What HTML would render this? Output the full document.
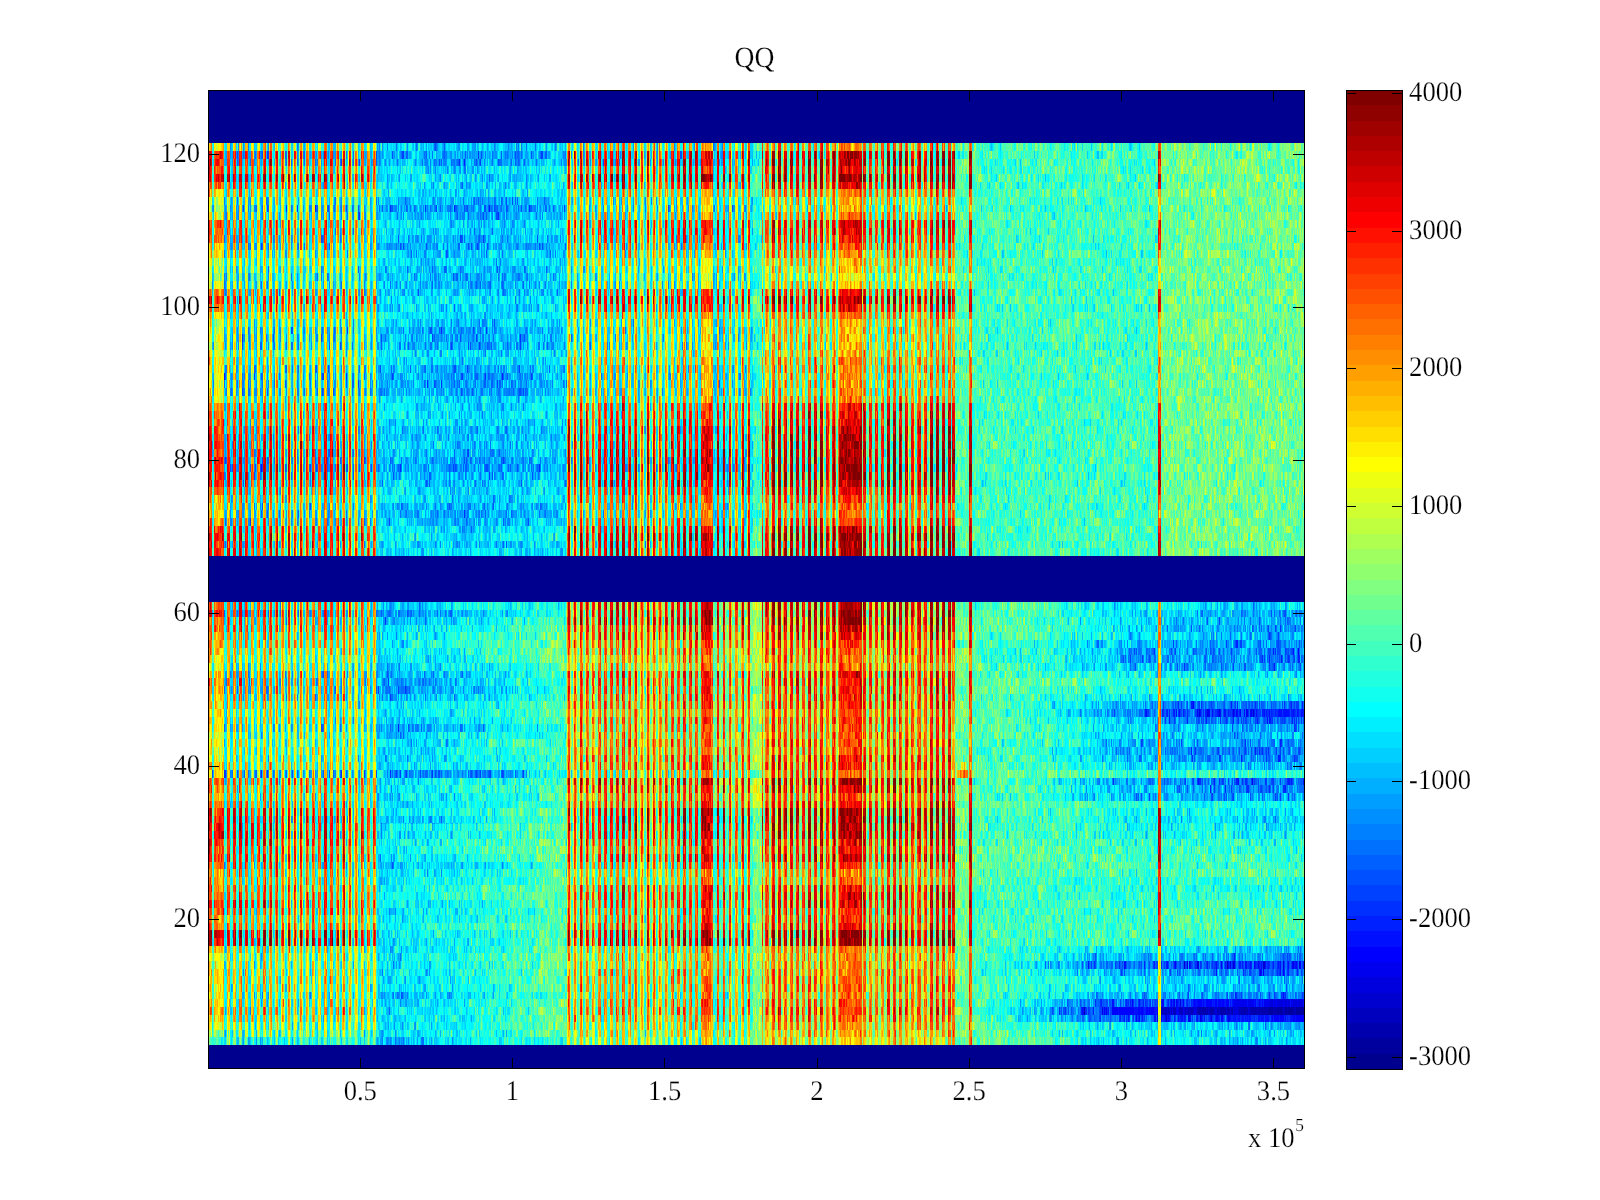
<!DOCTYPE html><html><head><meta charset="utf-8"><title>QQ</title><style>html,body{margin:0;padding:0;background:#fff;width:1600px;height:1200px;overflow:hidden}</style></head><body><svg width="1600" height="1200" viewBox="0 0 1600 1200" style="position:absolute;left:0;top:0">
<defs><pattern id="st" patternUnits="userSpaceOnUse" x="0" y="0" width="1600" height="16"><path fill="#fff" fill-opacity="0.10" d="M208 0h1v16h-1zM266 0h1v16h-1zM311 0h1v16h-1zM366 0h1v16h-1zM372 0h1v16h-1zM433 0h1v16h-1zM473 0h1v16h-1zM512 0h1v16h-1zM534 0h1v16h-1zM540 0h1v16h-1zM546 0h1v16h-1zM552 0h1v16h-1zM597 0h1v16h-1zM631 0h1v16h-1zM670 0h1v16h-1zM704 0h1v16h-1zM792 0h1v16h-1zM820 0h1v16h-1zM853 0h1v16h-1zM899 0h1v16h-1zM905 0h1v16h-1zM938 0h1v16h-1zM984 0h1v16h-1zM990 0h1v16h-1zM1017 0h1v16h-1zM1029 0h1v16h-1zM1051 0h1v16h-1zM1096 0h1v16h-1zM1108 0h1v16h-1zM1114 0h1v16h-1zM1187 0h1v16h-1zM1266 0h1v16h-1zM1294 0h1v16h-1z"/><path fill="#fff" fill-opacity="0.20" d="M272 0h1v16h-1zM278 0h1v16h-1zM360 0h1v16h-1zM412 0h1v16h-1zM479 0h1v16h-1zM506 0h1v16h-1zM558 0h1v16h-1zM579 0h1v16h-1zM591 0h1v16h-1zM664 0h1v16h-1zM710 0h1v16h-1zM725 0h1v16h-1zM753 0h1v16h-1zM786 0h1v16h-1zM826 0h1v16h-1zM911 0h1v16h-1zM996 0h1v16h-1zM1023 0h1v16h-1zM1057 0h1v16h-1zM1063 0h1v16h-1zM1102 0h1v16h-1zM1175 0h1v16h-1zM1181 0h1v16h-1zM1221 0h1v16h-1zM1248 0h1v16h-1zM1254 0h1v16h-1zM1260 0h1v16h-1zM1300 0h1v16h-1z"/><path fill="#fff" fill-opacity="0.30" d="M305 0h1v16h-1zM339 0h1v16h-1zM345 0h1v16h-1zM427 0h1v16h-1zM485 0h1v16h-1zM500 0h1v16h-1zM564 0h1v16h-1zM585 0h1v16h-1zM637 0h1v16h-1zM646 0h1v16h-1zM652 0h1v16h-1zM780 0h1v16h-1zM832 0h1v16h-1zM847 0h1v16h-1zM917 0h1v16h-1zM932 0h1v16h-1zM1011 0h1v16h-1zM1069 0h1v16h-1zM1075 0h1v16h-1zM1084 0h1v16h-1zM1154 0h1v16h-1zM1169 0h1v16h-1zM1236 0h1v16h-1zM1242 0h1v16h-1z"/><path fill="#fff" fill-opacity="0.40" d="M284 0h1v16h-1zM287 0h1v16h-1zM293 0h1v16h-1zM299 0h1v16h-1zM351 0h1v16h-1zM354 0h1v16h-1zM418 0h1v16h-1zM421 0h1v16h-1zM491 0h1v16h-1zM494 0h1v16h-1zM570 0h1v16h-1zM573 0h1v16h-1zM643 0h1v16h-1zM658 0h1v16h-1zM716 0h1v16h-1zM762 0h1v16h-1zM774 0h1v16h-1zM841 0h1v16h-1zM1002 0h1v16h-1zM1005 0h1v16h-1zM1008 0h1v16h-1zM1072 0h1v16h-1zM1090 0h1v16h-1zM1160 0h1v16h-1zM1227 0h1v16h-1zM1233 0h1v16h-1z"/><path fill="#fff" fill-opacity="0.50" d="M290 0h1v16h-1zM296 0h1v16h-1zM348 0h1v16h-1zM576 0h1v16h-1zM640 0h1v16h-1zM719 0h1v16h-1zM759 0h1v16h-1zM765 0h1v16h-1zM768 0h1v16h-1zM771 0h1v16h-1zM835 0h1v16h-1zM838 0h1v16h-1zM844 0h1v16h-1zM923 0h1v16h-1zM1078 0h1v16h-1zM1081 0h1v16h-1zM1163 0h1v16h-1zM1166 0h1v16h-1zM1230 0h1v16h-1zM1239 0h1v16h-1z"/><path fill="#fff" fill-opacity="0.60" d="M302 0h1v16h-1zM357 0h1v16h-1zM415 0h1v16h-1zM424 0h1v16h-1zM476 0h1v16h-1zM482 0h1v16h-1zM488 0h1v16h-1zM497 0h1v16h-1zM503 0h1v16h-1zM567 0h1v16h-1zM594 0h1v16h-1zM649 0h1v16h-1zM655 0h1v16h-1zM661 0h1v16h-1zM722 0h1v16h-1zM783 0h1v16h-1zM850 0h1v16h-1zM920 0h1v16h-1zM926 0h1v16h-1zM929 0h1v16h-1zM1060 0h1v16h-1zM1093 0h1v16h-1zM1157 0h1v16h-1zM1172 0h1v16h-1zM1224 0h1v16h-1zM1245 0h1v16h-1z"/><path fill="#fff" fill-opacity="0.70" d="M275 0h1v16h-1zM281 0h1v16h-1zM308 0h1v16h-1zM336 0h1v16h-1zM342 0h1v16h-1zM369 0h1v16h-1zM375 0h1v16h-1zM430 0h1v16h-1zM582 0h1v16h-1zM588 0h1v16h-1zM634 0h1v16h-1zM667 0h1v16h-1zM707 0h1v16h-1zM713 0h1v16h-1zM750 0h1v16h-1zM756 0h1v16h-1zM777 0h1v16h-1zM935 0h1v16h-1zM999 0h1v16h-1zM1014 0h1v16h-1zM1066 0h1v16h-1zM1087 0h1v16h-1zM1105 0h1v16h-1zM1251 0h1v16h-1zM1257 0h1v16h-1zM1269 0h1v16h-1zM1303 0h1v16h-1z"/><path fill="#fff" fill-opacity="0.80" d="M251 0h3v16h-3zM257 0h3v16h-3zM269 0h1v16h-1zM314 0h1v16h-1zM318 0h3v16h-3zM355 0h2v16h-2zM363 0h1v16h-1zM367 0h2v16h-2zM373 0h2v16h-2zM385 0h3v16h-3zM397 0h3v16h-3zM409 0h3v16h-3zM416 0h2v16h-2zM452 0h3v16h-3zM477 0h2v16h-2zM501 0h2v16h-2zM509 0h1v16h-1zM513 0h3v16h-3zM543 0h1v16h-1zM549 0h1v16h-1zM555 0h1v16h-1zM561 0h1v16h-1zM592 0h2v16h-2zM628 0h1v16h-1zM641 0h2v16h-2zM659 0h2v16h-2zM751 0h2v16h-2zM781 0h2v16h-2zM789 0h1v16h-1zM805 0h3v16h-3zM823 0h1v16h-1zM829 0h1v16h-1zM836 0h2v16h-2zM842 0h2v16h-2zM848 0h2v16h-2zM902 0h3v16h-3zM908 0h1v16h-1zM914 0h1v16h-1zM941 0h1v16h-1zM945 0h3v16h-3zM981 0h3v16h-3zM987 0h1v16h-1zM993 0h1v16h-1zM1006 0h2v16h-2zM1030 0h3v16h-3zM1042 0h3v16h-3zM1054 0h1v16h-1zM1061 0h2v16h-2zM1073 0h2v16h-2zM1091 0h2v16h-2zM1099 0h1v16h-1zM1115 0h3v16h-3zM1151 0h1v16h-1zM1170 0h2v16h-2zM1178 0h1v16h-1zM1237 0h2v16h-2zM1243 0h2v16h-2zM1267 0h2v16h-2z"/><path fill="#fff" fill-opacity="0.90" d="M211 0h1v16h-1zM221 0h3v16h-3zM227 0h3v16h-3zM233 0h3v16h-3zM245 0h3v16h-3zM263 0h1v16h-1zM282 0h2v16h-2zM294 0h2v16h-2zM306 0h2v16h-2zM312 0h2v16h-2zM330 0h3v16h-3zM337 0h2v16h-2zM349 0h2v16h-2zM361 0h2v16h-2zM379 0h3v16h-3zM391 0h3v16h-3zM440 0h3v16h-3zM446 0h3v16h-3zM464 0h3v16h-3zM470 0h1v16h-1zM483 0h2v16h-2zM495 0h2v16h-2zM507 0h2v16h-2zM519 0h3v16h-3zM525 0h3v16h-3zM531 0h3v16h-3zM537 0h3v16h-3zM544 0h2v16h-2zM574 0h2v16h-2zM586 0h2v16h-2zM598 0h3v16h-3zM604 0h3v16h-3zM610 0h3v16h-3zM616 0h3v16h-3zM629 0h2v16h-2zM653 0h2v16h-2zM665 0h2v16h-2zM671 0h3v16h-3zM677 0h3v16h-3zM689 0h3v16h-3zM695 0h3v16h-3zM701 0h3v16h-3zM708 0h2v16h-2zM714 0h2v16h-2zM728 0h1v16h-1zM738 0h3v16h-3zM744 0h1v16h-1zM775 0h2v16h-2zM787 0h2v16h-2zM793 0h3v16h-3zM824 0h2v16h-2zM854 0h3v16h-3zM872 0h3v16h-3zM878 0h3v16h-3zM884 0h3v16h-3zM890 0h3v16h-3zM896 0h3v16h-3zM939 0h2v16h-2zM951 0h3v16h-3zM957 0h3v16h-3zM963 0h3v16h-3zM975 0h3v16h-3zM988 0h2v16h-2zM1020 0h1v16h-1zM1026 0h1v16h-1zM1048 0h3v16h-3zM1055 0h2v16h-2zM1079 0h2v16h-2zM1103 0h2v16h-2zM1111 0h1v16h-1zM1121 0h3v16h-3zM1133 0h3v16h-3zM1139 0h3v16h-3zM1158 0h2v16h-2zM1164 0h2v16h-2zM1184 0h1v16h-1zM1188 0h3v16h-3zM1200 0h3v16h-3zM1212 0h3v16h-3zM1218 0h1v16h-1zM1225 0h2v16h-2zM1231 0h2v16h-2zM1255 0h2v16h-2zM1263 0h1v16h-1zM1285 0h3v16h-3zM1291 0h1v16h-1zM1297 0h1v16h-1zM1304 0h1v16h-1z"/><path fill="#fff" fill-opacity="1.00" d="M209 0h2v16h-2zM215 0h3v16h-3zM239 0h3v16h-3zM264 0h2v16h-2zM270 0h2v16h-2zM276 0h2v16h-2zM288 0h2v16h-2zM300 0h2v16h-2zM324 0h3v16h-3zM343 0h2v16h-2zM403 0h3v16h-3zM422 0h2v16h-2zM428 0h2v16h-2zM434 0h3v16h-3zM458 0h3v16h-3zM471 0h2v16h-2zM489 0h2v16h-2zM550 0h2v16h-2zM556 0h2v16h-2zM562 0h2v16h-2zM568 0h2v16h-2zM580 0h2v16h-2zM622 0h3v16h-3zM635 0h2v16h-2zM647 0h2v16h-2zM683 0h3v16h-3zM720 0h2v16h-2zM726 0h2v16h-2zM732 0h3v16h-3zM745 0h2v16h-2zM757 0h2v16h-2zM763 0h2v16h-2zM769 0h2v16h-2zM799 0h3v16h-3zM811 0h3v16h-3zM817 0h3v16h-3zM830 0h2v16h-2zM860 0h3v16h-3zM866 0h3v16h-3zM909 0h2v16h-2zM915 0h2v16h-2zM921 0h2v16h-2zM927 0h2v16h-2zM933 0h2v16h-2zM969 0h3v16h-3zM994 0h2v16h-2zM1000 0h2v16h-2zM1012 0h2v16h-2zM1018 0h2v16h-2zM1024 0h2v16h-2zM1036 0h3v16h-3zM1067 0h2v16h-2zM1085 0h2v16h-2zM1097 0h2v16h-2zM1109 0h2v16h-2zM1127 0h3v16h-3zM1145 0h3v16h-3zM1152 0h2v16h-2zM1176 0h2v16h-2zM1182 0h2v16h-2zM1194 0h3v16h-3zM1206 0h3v16h-3zM1219 0h2v16h-2zM1249 0h2v16h-2zM1261 0h2v16h-2zM1273 0h3v16h-3zM1279 0h3v16h-3zM1292 0h2v16h-2zM1298 0h2v16h-2z"/></pattern><pattern id="st2" patternUnits="userSpaceOnUse" x="0" y="0" width="1600" height="16"><path fill="#fff" fill-opacity="0.10" d="M242 0h1v16h-1zM254 0h1v16h-1zM260 0h1v16h-1zM506 0h1v16h-1zM558 0h1v16h-1zM579 0h1v16h-1zM780 0h1v16h-1zM786 0h1v16h-1zM826 0h1v16h-1zM911 0h1v16h-1zM984 0h1v16h-1zM990 0h1v16h-1zM1057 0h1v16h-1zM1148 0h1v16h-1zM1163 0h1v16h-1zM1215 0h1v16h-1zM1288 0h1v16h-1z"/><path fill="#fff" fill-opacity="0.20" d="M230 0h1v16h-1zM287 0h1v16h-1zM293 0h1v16h-1zM299 0h1v16h-1zM360 0h1v16h-1zM412 0h1v16h-1zM433 0h1v16h-1zM473 0h1v16h-1zM479 0h1v16h-1zM512 0h1v16h-1zM585 0h1v16h-1zM670 0h1v16h-1zM753 0h1v16h-1zM820 0h1v16h-1zM853 0h1v16h-1zM905 0h1v16h-1zM1017 0h1v16h-1zM1051 0h1v16h-1zM1084 0h1v16h-1zM1090 0h1v16h-1zM1136 0h1v16h-1zM1142 0h1v16h-1zM1169 0h1v16h-1zM1236 0h1v16h-1z"/><path fill="#fff" fill-opacity="0.30" d="M236 0h1v16h-1zM333 0h1v16h-1zM372 0h1v16h-1zM518 0h1v16h-1zM552 0h1v16h-1zM591 0h1v16h-1zM676 0h1v16h-1zM710 0h1v16h-1zM792 0h1v16h-1zM859 0h1v16h-1zM899 0h1v16h-1zM972 0h1v16h-1zM978 0h1v16h-1zM1209 0h1v16h-1zM1242 0h1v16h-1z"/><path fill="#fff" fill-opacity="0.40" d="M224 0h1v16h-1zM327 0h1v16h-1zM366 0h1v16h-1zM439 0h1v16h-1zM524 0h1v16h-1zM546 0h1v16h-1zM597 0h1v16h-1zM631 0h1v16h-1zM731 0h1v16h-1zM932 0h1v16h-1zM1023 0h1v16h-1zM1039 0h1v16h-1zM1045 0h1v16h-1zM1096 0h1v16h-1zM1102 0h1v16h-1zM1130 0h1v16h-1zM1175 0h1v16h-1zM1203 0h1v16h-1zM1248 0h1v16h-1z"/><path fill="#fff" fill-opacity="0.50" d="M218 0h1v16h-1zM305 0h1v16h-1zM406 0h1v16h-1zM467 0h1v16h-1zM540 0h1v16h-1zM603 0h1v16h-1zM625 0h1v16h-1zM688 0h1v16h-1zM694 0h1v16h-1zM704 0h1v16h-1zM747 0h1v16h-1zM798 0h1v16h-1zM871 0h1v16h-1zM877 0h1v16h-1zM966 0h1v16h-1zM1108 0h1v16h-1zM1254 0h1v16h-1zM1282 0h1v16h-1z"/><path fill="#fff" fill-opacity="0.60" d="M212 0h1v16h-1zM378 0h1v16h-1zM384 0h1v16h-1zM400 0h1v16h-1zM445 0h1v16h-1zM461 0h1v16h-1zM534 0h1v16h-1zM682 0h1v16h-1zM741 0h1v16h-1zM804 0h1v16h-1zM814 0h1v16h-1zM865 0h1v16h-1zM883 0h1v16h-1zM1029 0h1v16h-1zM1260 0h1v16h-1zM1266 0h1v16h-1z"/><path fill="#fff" fill-opacity="0.70" d="M311 0h1v16h-1zM382 0h1v16h-1zM394 0h1v16h-1zM455 0h1v16h-1zM609 0h1v16h-1zM619 0h1v16h-1zM735 0h1v16h-1zM737 0h1v16h-1zM810 0h1v16h-1zM893 0h1v16h-1zM938 0h1v16h-1zM944 0h1v16h-1zM954 0h1v16h-1zM956 0h1v16h-1zM960 0h1v16h-1zM1114 0h1v16h-1zM1120 0h1v16h-1zM1181 0h1v16h-1zM1187 0h1v16h-1zM1197 0h1v16h-1zM1264 0h1v16h-1zM1272 0h1v16h-1zM1276 0h1v16h-1z"/><path fill="#fff" fill-opacity="0.80" d="M208 0h1v16h-1zM261 0h2v16h-2zM267 0h2v16h-2zM317 0h1v16h-1zM321 0h1v16h-1zM340 0h2v16h-2zM358 0h2v16h-2zM370 0h2v16h-2zM383 0h1v16h-1zM388 0h1v16h-1zM390 0h1v16h-1zM407 0h2v16h-2zM437 0h2v16h-2zM456 0h2v16h-2zM462 0h2v16h-2zM522 0h2v16h-2zM530 0h1v16h-1zM541 0h2v16h-2zM547 0h2v16h-2zM553 0h2v16h-2zM559 0h2v16h-2zM583 0h2v16h-2zM589 0h2v16h-2zM613 0h1v16h-1zM650 0h2v16h-2zM656 0h2v16h-2zM674 0h2v16h-2zM686 0h2v16h-2zM692 0h2v16h-2zM698 0h1v16h-1zM736 0h1v16h-1zM766 0h2v16h-2zM802 0h2v16h-2zM827 0h2v16h-2zM869 0h2v16h-2zM875 0h2v16h-2zM881 0h2v16h-2zM887 0h1v16h-1zM912 0h2v16h-2zM924 0h2v16h-2zM967 0h2v16h-2zM973 0h2v16h-2zM1027 0h2v16h-2zM1033 0h1v16h-1zM1035 0h1v16h-1zM1040 0h2v16h-2zM1058 0h2v16h-2zM1064 0h2v16h-2zM1088 0h2v16h-2zM1124 0h1v16h-1zM1137 0h2v16h-2zM1173 0h2v16h-2zM1185 0h1v16h-1zM1191 0h1v16h-1zM1240 0h2v16h-2zM1265 0h1v16h-1zM1278 0h1v16h-1zM1295 0h2v16h-2zM1301 0h2v16h-2z"/><path fill="#fff" fill-opacity="0.90" d="M219 0h2v16h-2zM225 0h2v16h-2zM231 0h2v16h-2zM237 0h2v16h-2zM243 0h2v16h-2zM249 0h2v16h-2zM291 0h2v16h-2zM297 0h2v16h-2zM303 0h2v16h-2zM315 0h1v16h-1zM323 0h1v16h-1zM328 0h2v16h-2zM346 0h2v16h-2zM389 0h1v16h-1zM395 0h2v16h-2zM413 0h2v16h-2zM431 0h2v16h-2zM443 0h2v16h-2zM449 0h1v16h-1zM451 0h1v16h-1zM480 0h2v16h-2zM486 0h2v16h-2zM498 0h2v16h-2zM504 0h2v16h-2zM535 0h2v16h-2zM571 0h2v16h-2zM595 0h2v16h-2zM601 0h2v16h-2zM607 0h1v16h-1zM615 0h1v16h-1zM621 0h1v16h-1zM644 0h2v16h-2zM668 0h2v16h-2zM705 0h2v16h-2zM711 0h2v16h-2zM729 0h2v16h-2zM754 0h2v16h-2zM784 0h2v16h-2zM790 0h2v16h-2zM796 0h2v16h-2zM808 0h1v16h-1zM815 0h2v16h-2zM839 0h2v16h-2zM851 0h2v16h-2zM857 0h2v16h-2zM863 0h2v16h-2zM889 0h1v16h-1zM900 0h2v16h-2zM906 0h2v16h-2zM918 0h2v16h-2zM942 0h1v16h-1zM948 0h1v16h-1zM950 0h1v16h-1zM955 0h1v16h-1zM962 0h1v16h-1zM979 0h2v16h-2zM985 0h2v16h-2zM991 0h2v16h-2zM997 0h2v16h-2zM1021 0h2v16h-2zM1034 0h1v16h-1zM1052 0h2v16h-2zM1076 0h2v16h-2zM1082 0h2v16h-2zM1094 0h2v16h-2zM1100 0h2v16h-2zM1106 0h2v16h-2zM1118 0h1v16h-1zM1125 0h2v16h-2zM1143 0h2v16h-2zM1155 0h2v16h-2zM1161 0h2v16h-2zM1167 0h2v16h-2zM1179 0h2v16h-2zM1193 0h1v16h-1zM1198 0h2v16h-2zM1216 0h2v16h-2zM1228 0h2v16h-2zM1234 0h2v16h-2zM1246 0h2v16h-2zM1252 0h2v16h-2zM1258 0h2v16h-2zM1270 0h1v16h-1zM1277 0h1v16h-1zM1289 0h2v16h-2z"/><path fill="#fff" fill-opacity="1.00" d="M213 0h2v16h-2zM255 0h2v16h-2zM273 0h2v16h-2zM279 0h2v16h-2zM285 0h2v16h-2zM309 0h2v16h-2zM316 0h1v16h-1zM322 0h1v16h-1zM334 0h2v16h-2zM352 0h2v16h-2zM364 0h2v16h-2zM376 0h2v16h-2zM401 0h2v16h-2zM419 0h2v16h-2zM425 0h2v16h-2zM450 0h1v16h-1zM468 0h2v16h-2zM474 0h2v16h-2zM492 0h2v16h-2zM510 0h2v16h-2zM516 0h2v16h-2zM528 0h2v16h-2zM565 0h2v16h-2zM577 0h2v16h-2zM608 0h1v16h-1zM614 0h1v16h-1zM620 0h1v16h-1zM626 0h2v16h-2zM632 0h2v16h-2zM638 0h2v16h-2zM662 0h2v16h-2zM680 0h2v16h-2zM699 0h2v16h-2zM717 0h2v16h-2zM723 0h2v16h-2zM742 0h2v16h-2zM748 0h2v16h-2zM760 0h2v16h-2zM772 0h2v16h-2zM778 0h2v16h-2zM809 0h1v16h-1zM821 0h2v16h-2zM833 0h2v16h-2zM845 0h2v16h-2zM888 0h1v16h-1zM894 0h2v16h-2zM930 0h2v16h-2zM936 0h2v16h-2zM943 0h1v16h-1zM949 0h1v16h-1zM961 0h1v16h-1zM1003 0h2v16h-2zM1009 0h2v16h-2zM1015 0h2v16h-2zM1046 0h2v16h-2zM1070 0h2v16h-2zM1112 0h2v16h-2zM1119 0h1v16h-1zM1131 0h2v16h-2zM1149 0h2v16h-2zM1186 0h1v16h-1zM1192 0h1v16h-1zM1204 0h2v16h-2zM1210 0h2v16h-2zM1222 0h2v16h-2zM1271 0h1v16h-1zM1283 0h2v16h-2z"/></pattern><pattern id="st3" patternUnits="userSpaceOnUse" x="0" y="0" width="1600" height="16"><path fill="#fff" fill-opacity="0.10" d="M221 0h1v16h-1zM227 0h1v16h-1zM330 0h1v16h-1zM363 0h1v16h-1zM369 0h1v16h-1zM375 0h1v16h-1zM549 0h1v16h-1zM628 0h1v16h-1zM673 0h1v16h-1zM744 0h1v16h-1zM750 0h1v16h-1zM817 0h1v16h-1zM856 0h1v16h-1zM862 0h1v16h-1zM1020 0h1v16h-1zM1042 0h1v16h-1zM1048 0h1v16h-1zM1093 0h1v16h-1zM1139 0h1v16h-1zM1206 0h1v16h-1zM1245 0h1v16h-1zM1251 0h1v16h-1zM1285 0h1v16h-1z"/><path fill="#fff" fill-opacity="0.20" d="M233 0h1v16h-1zM239 0h1v16h-1zM257 0h1v16h-1zM296 0h1v16h-1zM302 0h1v16h-1zM470 0h1v16h-1zM588 0h1v16h-1zM594 0h1v16h-1zM713 0h1v16h-1zM728 0h1v16h-1zM789 0h1v16h-1zM929 0h1v16h-1zM981 0h1v16h-1zM1087 0h1v16h-1zM1133 0h1v16h-1zM1172 0h1v16h-1zM1239 0h1v16h-1z"/><path fill="#fff" fill-opacity="0.30" d="M336 0h1v16h-1zM415 0h1v16h-1zM476 0h1v16h-1zM482 0h1v16h-1zM509 0h1v16h-1zM515 0h1v16h-1zM555 0h1v16h-1zM756 0h1v16h-1zM777 0h1v16h-1zM823 0h1v16h-1zM908 0h1v16h-1zM987 0h1v16h-1zM1014 0h1v16h-1zM1054 0h1v16h-1zM1145 0h1v16h-1zM1166 0h1v16h-1zM1212 0h1v16h-1zM1233 0h1v16h-1z"/><path fill="#fff" fill-opacity="0.40" d="M245 0h1v16h-1zM251 0h1v16h-1zM263 0h1v16h-1zM284 0h1v16h-1zM290 0h1v16h-1zM357 0h1v16h-1zM430 0h1v16h-1zM561 0h1v16h-1zM582 0h1v16h-1zM634 0h1v16h-1zM661 0h1v16h-1zM667 0h1v16h-1zM914 0h1v16h-1zM923 0h1v16h-1zM1060 0h1v16h-1zM1081 0h1v16h-1z"/><path fill="#fff" fill-opacity="0.50" d="M342 0h1v16h-1zM488 0h1v16h-1zM503 0h1v16h-1zM576 0h1v16h-1zM640 0h1v16h-1zM655 0h1v16h-1zM719 0h1v16h-1zM771 0h1v16h-1zM783 0h1v16h-1zM829 0h1v16h-1zM844 0h1v16h-1zM850 0h1v16h-1zM993 0h1v16h-1zM1160 0h1v16h-1zM1227 0h1v16h-1zM1291 0h1v16h-1zM1300 0h1v16h-1z"/><path fill="#fff" fill-opacity="0.60" d="M269 0h1v16h-1zM272 0h1v16h-1zM351 0h1v16h-1zM421 0h1v16h-1zM497 0h1v16h-1zM646 0h1v16h-1zM838 0h1v16h-1zM1008 0h1v16h-1zM1066 0h1v16h-1zM1069 0h1v16h-1zM1218 0h1v16h-1z"/><path fill="#fff" fill-opacity="0.70" d="M278 0h1v16h-1zM424 0h1v16h-1zM494 0h1v16h-1zM567 0h1v16h-1zM570 0h1v16h-1zM649 0h1v16h-1zM652 0h1v16h-1zM722 0h1v16h-1zM765 0h1v16h-1zM768 0h1v16h-1zM835 0h1v16h-1zM917 0h1v16h-1zM999 0h1v16h-1zM1002 0h1v16h-1zM1075 0h1v16h-1zM1151 0h1v16h-1zM1154 0h1v16h-1zM1294 0h1v16h-1zM1297 0h1v16h-1z"/><path fill="#fff" fill-opacity="0.80" d="M260 0h3v16h-3zM266 0h3v16h-3zM281 0h1v16h-1zM339 0h3v16h-3zM345 0h1v16h-1zM348 0h1v16h-1zM358 0h3v16h-3zM370 0h3v16h-3zM382 0h3v16h-3zM406 0h3v16h-3zM437 0h3v16h-3zM455 0h3v16h-3zM461 0h3v16h-3zM522 0h3v16h-3zM540 0h3v16h-3zM546 0h3v16h-3zM552 0h3v16h-3zM558 0h3v16h-3zM583 0h3v16h-3zM589 0h3v16h-3zM650 0h2v16h-2zM656 0h3v16h-3zM674 0h3v16h-3zM686 0h3v16h-3zM692 0h3v16h-3zM735 0h3v16h-3zM759 0h1v16h-1zM762 0h1v16h-1zM766 0h2v16h-2zM802 0h3v16h-3zM826 0h3v16h-3zM832 0h1v16h-1zM841 0h1v16h-1zM869 0h3v16h-3zM875 0h3v16h-3zM881 0h3v16h-3zM911 0h3v16h-3zM924 0h3v16h-3zM966 0h3v16h-3zM972 0h3v16h-3zM1027 0h3v16h-3zM1039 0h3v16h-3zM1057 0h3v16h-3zM1063 0h3v16h-3zM1078 0h1v16h-1zM1088 0h3v16h-3zM1136 0h3v16h-3zM1157 0h1v16h-1zM1173 0h3v16h-3zM1221 0h1v16h-1zM1240 0h3v16h-3zM1264 0h3v16h-3zM1295 0h2v16h-2zM1301 0h3v16h-3z"/><path fill="#fff" fill-opacity="0.90" d="M208 0h1v16h-1zM218 0h3v16h-3zM224 0h3v16h-3zM230 0h3v16h-3zM236 0h3v16h-3zM242 0h3v16h-3zM248 0h3v16h-3zM275 0h1v16h-1zM291 0h3v16h-3zM297 0h3v16h-3zM303 0h3v16h-3zM327 0h3v16h-3zM346 0h2v16h-2zM354 0h1v16h-1zM388 0h3v16h-3zM394 0h3v16h-3zM412 0h3v16h-3zM418 0h1v16h-1zM427 0h1v16h-1zM431 0h3v16h-3zM443 0h3v16h-3zM479 0h3v16h-3zM485 0h3v16h-3zM491 0h1v16h-1zM498 0h3v16h-3zM504 0h3v16h-3zM534 0h3v16h-3zM564 0h1v16h-1zM571 0h3v16h-3zM595 0h3v16h-3zM601 0h3v16h-3zM643 0h3v16h-3zM668 0h3v16h-3zM704 0h3v16h-3zM710 0h3v16h-3zM729 0h3v16h-3zM753 0h3v16h-3zM784 0h3v16h-3zM790 0h3v16h-3zM796 0h3v16h-3zM814 0h3v16h-3zM839 0h2v16h-2zM847 0h1v16h-1zM851 0h3v16h-3zM857 0h3v16h-3zM863 0h3v16h-3zM899 0h3v16h-3zM905 0h3v16h-3zM918 0h3v16h-3zM954 0h3v16h-3zM978 0h3v16h-3zM984 0h3v16h-3zM990 0h3v16h-3zM996 0h3v16h-3zM1005 0h1v16h-1zM1021 0h3v16h-3zM1033 0h3v16h-3zM1051 0h3v16h-3zM1072 0h1v16h-1zM1076 0h2v16h-2zM1082 0h3v16h-3zM1094 0h3v16h-3zM1100 0h3v16h-3zM1106 0h3v16h-3zM1124 0h3v16h-3zM1142 0h3v16h-3zM1155 0h2v16h-2zM1161 0h3v16h-3zM1167 0h3v16h-3zM1179 0h3v16h-3zM1197 0h3v16h-3zM1215 0h3v16h-3zM1224 0h1v16h-1zM1228 0h3v16h-3zM1234 0h3v16h-3zM1246 0h3v16h-3zM1252 0h3v16h-3zM1258 0h3v16h-3zM1276 0h3v16h-3zM1288 0h3v16h-3z"/><path fill="#fff" fill-opacity="1.00" d="M212 0h3v16h-3zM254 0h3v16h-3zM273 0h2v16h-2zM279 0h2v16h-2zM285 0h3v16h-3zM309 0h3v16h-3zM315 0h3v16h-3zM321 0h3v16h-3zM333 0h3v16h-3zM352 0h2v16h-2zM364 0h3v16h-3zM376 0h3v16h-3zM400 0h3v16h-3zM419 0h2v16h-2zM425 0h2v16h-2zM449 0h3v16h-3zM467 0h3v16h-3zM473 0h3v16h-3zM492 0h2v16h-2zM510 0h3v16h-3zM516 0h3v16h-3zM528 0h3v16h-3zM565 0h2v16h-2zM577 0h3v16h-3zM607 0h3v16h-3zM613 0h3v16h-3zM619 0h3v16h-3zM625 0h3v16h-3zM631 0h3v16h-3zM637 0h3v16h-3zM662 0h3v16h-3zM680 0h3v16h-3zM698 0h3v16h-3zM716 0h3v16h-3zM723 0h3v16h-3zM741 0h3v16h-3zM747 0h3v16h-3zM760 0h2v16h-2zM772 0h3v16h-3zM778 0h3v16h-3zM808 0h3v16h-3zM820 0h3v16h-3zM833 0h2v16h-2zM845 0h2v16h-2zM887 0h3v16h-3zM893 0h3v16h-3zM930 0h3v16h-3zM936 0h3v16h-3zM942 0h3v16h-3zM948 0h3v16h-3zM960 0h3v16h-3zM1003 0h2v16h-2zM1009 0h3v16h-3zM1015 0h3v16h-3zM1045 0h3v16h-3zM1070 0h2v16h-2zM1112 0h3v16h-3zM1118 0h3v16h-3zM1130 0h3v16h-3zM1148 0h3v16h-3zM1185 0h3v16h-3zM1191 0h3v16h-3zM1203 0h3v16h-3zM1209 0h3v16h-3zM1222 0h2v16h-2zM1270 0h3v16h-3zM1282 0h3v16h-3z"/></pattern><pattern id="nzp" patternUnits="userSpaceOnUse" x="208" y="90" width="139" height="489"><path fill="#fff" fill-opacity="0.0156" d="M1 0h1v8h-1zM11 0h1v8h-1zM13 0h1v8h-1zM22 0h1v8h-1zM25 0h1v8h-1zM35 0h1v8h-1zM42 0h1v8h-1zM50 0h1v8h-1zM53 0h1v8h-1zM58 0h1v8h-1zM60 0h1v8h-1zM79 0h1v8h-1zM80 0h1v8h-1zM92 0h1v8h-1zM100 0h1v8h-1zM102 0h1v8h-1zM107 0h1v8h-1zM121 0h1v8h-1zM125 0h1v8h-1zM126 0h1v8h-1zM129 0h1v8h-1zM131 0h1v8h-1zM2 8h1v7h-1zM7 8h1v7h-1zM8 8h1v7h-1zM11 8h1v7h-1zM30 8h1v7h-1zM33 8h1v7h-1zM35 8h1v7h-1zM39 8h1v7h-1zM40 8h1v7h-1zM42 8h1v7h-1zM53 8h1v7h-1zM67 8h1v7h-1zM72 8h1v7h-1zM77 8h1v7h-1zM78 8h1v7h-1zM84 8h1v7h-1zM87 8h1v7h-1zM88 8h1v7h-1zM90 8h1v7h-1zM95 8h1v7h-1zM99 8h1v7h-1zM101 8h1v7h-1zM110 8h1v7h-1zM129 8h1v7h-1zM131 8h1v7h-1zM22 15h1v8h-1zM33 15h1v8h-1zM38 15h1v8h-1zM40 15h1v8h-1zM45 15h1v8h-1zM53 15h1v8h-1zM56 15h1v8h-1zM59 15h1v8h-1zM60 15h1v8h-1zM67 15h1v8h-1zM83 15h1v8h-1zM86 15h1v8h-1zM87 15h1v8h-1zM89 15h1v8h-1zM92 15h1v8h-1zM99 15h1v8h-1zM106 15h1v8h-1zM111 15h1v8h-1zM121 15h1v8h-1zM124 15h1v8h-1zM3 23h1v8h-1zM6 23h1v8h-1zM9 23h1v8h-1zM12 23h1v8h-1zM15 23h1v8h-1zM16 23h1v8h-1zM37 23h1v8h-1zM41 23h1v8h-1zM59 23h1v8h-1zM67 23h1v8h-1zM68 23h1v8h-1zM81 23h1v8h-1zM88 23h1v8h-1zM97 23h1v8h-1zM100 23h1v8h-1zM102 23h1v8h-1zM115 23h1v8h-1zM121 23h1v8h-1zM124 23h1v8h-1zM133 23h1v8h-1zM1 31h1v7h-1zM3 31h1v7h-1zM7 31h1v7h-1zM22 31h1v7h-1zM32 31h1v7h-1zM39 31h1v7h-1zM45 31h1v7h-1zM55 31h1v7h-1zM57 31h1v7h-1zM65 31h1v7h-1zM67 31h1v7h-1zM74 31h1v7h-1zM79 31h1v7h-1zM94 31h1v7h-1zM96 31h1v7h-1zM97 31h1v7h-1zM108 31h1v7h-1zM110 31h1v7h-1zM112 31h1v7h-1zM117 31h1v7h-1zM121 31h1v7h-1zM135 31h1v7h-1zM0 38h1v8h-1zM9 38h1v8h-1zM15 38h1v8h-1zM23 38h1v8h-1zM48 38h1v8h-1zM67 38h1v8h-1zM70 38h1v8h-1zM71 38h1v8h-1zM73 38h1v8h-1zM80 38h1v8h-1zM98 38h1v8h-1zM100 38h1v8h-1zM103 38h1v8h-1zM105 38h1v8h-1zM111 38h1v8h-1zM113 38h1v8h-1zM115 38h1v8h-1zM116 38h1v8h-1zM124 38h1v8h-1zM137 38h1v8h-1zM14 46h1v7h-1zM22 46h1v7h-1zM23 46h1v7h-1zM27 46h1v7h-1zM47 46h1v7h-1zM51 46h1v7h-1zM52 46h1v7h-1zM55 46h1v7h-1zM57 46h1v7h-1zM63 46h1v7h-1zM73 46h1v7h-1zM79 46h1v7h-1zM85 46h1v7h-1zM101 46h1v7h-1zM116 46h1v7h-1zM122 46h1v7h-1zM127 46h1v7h-1zM130 46h1v7h-1zM137 46h1v7h-1zM27 53h1v8h-1zM33 53h1v8h-1zM37 53h1v8h-1zM39 53h1v8h-1zM41 53h1v8h-1zM42 53h1v8h-1zM45 53h1v8h-1zM56 53h1v8h-1zM61 53h1v8h-1zM78 53h1v8h-1zM85 53h1v8h-1zM93 53h1v8h-1zM94 53h1v8h-1zM99 53h1v8h-1zM104 53h1v8h-1zM107 53h1v8h-1zM122 53h1v8h-1zM136 53h1v8h-1zM1 61h1v8h-1zM4 61h1v8h-1zM17 61h1v8h-1zM23 61h1v8h-1zM25 61h1v8h-1zM48 61h1v8h-1zM69 61h1v8h-1zM72 61h1v8h-1zM73 61h1v8h-1zM74 61h1v8h-1zM75 61h1v8h-1zM90 61h1v8h-1zM91 61h1v8h-1zM92 61h1v8h-1zM93 61h1v8h-1zM101 61h1v8h-1zM107 61h1v8h-1zM117 61h1v8h-1zM119 61h1v8h-1zM124 61h1v8h-1zM128 61h1v8h-1zM130 61h1v8h-1zM132 61h1v8h-1zM136 61h1v8h-1zM1 69h1v7h-1zM16 69h1v7h-1zM17 69h1v7h-1zM27 69h1v7h-1zM34 69h1v7h-1zM41 69h1v7h-1zM43 69h1v7h-1zM47 69h1v7h-1zM52 69h1v7h-1zM58 69h1v7h-1zM60 69h1v7h-1zM66 69h1v7h-1zM81 69h1v7h-1zM95 69h1v7h-1zM131 69h1v7h-1zM3 76h1v8h-1zM7 76h1v8h-1zM9 76h1v8h-1zM11 76h1v8h-1zM12 76h1v8h-1zM16 76h1v8h-1zM19 76h1v8h-1zM26 76h1v8h-1zM36 76h1v8h-1zM38 76h1v8h-1zM41 76h1v8h-1zM45 76h1v8h-1zM51 76h1v8h-1zM62 76h1v8h-1zM68 76h1v8h-1zM69 76h1v8h-1zM70 76h1v8h-1zM72 76h1v8h-1zM73 76h1v8h-1zM93 76h1v8h-1zM109 76h1v8h-1zM110 76h1v8h-1zM115 76h1v8h-1zM135 76h1v8h-1zM136 76h1v8h-1zM138 76h1v8h-1zM8 84h1v8h-1zM18 84h1v8h-1zM20 84h1v8h-1zM38 84h1v8h-1zM39 84h1v8h-1zM43 84h1v8h-1zM56 84h1v8h-1zM62 84h1v8h-1zM74 84h1v8h-1zM80 84h1v8h-1zM101 84h1v8h-1zM107 84h1v8h-1zM112 84h1v8h-1zM132 84h1v8h-1zM136 84h1v8h-1zM4 92h1v7h-1zM7 92h1v7h-1zM24 92h1v7h-1zM38 92h1v7h-1zM42 92h1v7h-1zM53 92h1v7h-1zM54 92h1v7h-1zM55 92h1v7h-1zM57 92h1v7h-1zM60 92h1v7h-1zM80 92h1v7h-1zM82 92h1v7h-1zM83 92h1v7h-1zM88 92h1v7h-1zM103 92h1v7h-1zM105 92h1v7h-1zM112 92h1v7h-1zM124 92h1v7h-1zM3 99h1v8h-1zM11 99h1v8h-1zM16 99h1v8h-1zM21 99h1v8h-1zM27 99h1v8h-1zM47 99h1v8h-1zM53 99h1v8h-1zM67 99h1v8h-1zM69 99h1v8h-1zM70 99h1v8h-1zM80 99h1v8h-1zM85 99h1v8h-1zM93 99h1v8h-1zM98 99h1v8h-1zM102 99h1v8h-1zM123 99h1v8h-1zM124 99h1v8h-1zM128 99h1v8h-1zM132 99h1v8h-1zM0 107h1v8h-1zM1 107h1v8h-1zM5 107h1v8h-1zM7 107h1v8h-1zM10 107h1v8h-1zM12 107h1v8h-1zM17 107h1v8h-1zM22 107h1v8h-1zM27 107h1v8h-1zM30 107h1v8h-1zM45 107h1v8h-1zM47 107h1v8h-1zM76 107h1v8h-1zM77 107h1v8h-1zM95 107h1v8h-1zM96 107h1v8h-1zM101 107h1v8h-1zM108 107h1v8h-1zM111 107h1v8h-1zM117 107h1v8h-1zM7 115h1v7h-1zM16 115h1v7h-1zM18 115h1v7h-1zM23 115h1v7h-1zM33 115h1v7h-1zM36 115h1v7h-1zM37 115h1v7h-1zM55 115h1v7h-1zM58 115h1v7h-1zM66 115h1v7h-1zM72 115h1v7h-1zM81 115h1v7h-1zM91 115h1v7h-1zM94 115h1v7h-1zM98 115h1v7h-1zM112 115h1v7h-1zM115 115h1v7h-1zM116 115h1v7h-1zM3 122h1v8h-1zM25 122h1v8h-1zM38 122h1v8h-1zM40 122h1v8h-1zM41 122h1v8h-1zM48 122h1v8h-1zM52 122h1v8h-1zM69 122h1v8h-1zM72 122h1v8h-1zM93 122h1v8h-1zM98 122h1v8h-1zM104 122h1v8h-1zM111 122h1v8h-1zM114 122h1v8h-1zM120 122h1v8h-1zM124 122h1v8h-1zM129 122h1v8h-1zM132 122h1v8h-1zM7 130h1v8h-1zM8 130h1v8h-1zM20 130h1v8h-1zM32 130h1v8h-1zM42 130h1v8h-1zM48 130h1v8h-1zM50 130h1v8h-1zM67 130h1v8h-1zM76 130h1v8h-1zM86 130h1v8h-1zM87 130h1v8h-1zM90 130h1v8h-1zM94 130h1v8h-1zM108 130h1v8h-1zM113 130h1v8h-1zM117 130h1v8h-1zM122 130h1v8h-1zM123 130h1v8h-1zM129 130h1v8h-1zM130 130h1v8h-1zM133 130h1v8h-1zM0 138h1v7h-1zM8 138h1v7h-1zM9 138h1v7h-1zM33 138h1v7h-1zM37 138h1v7h-1zM55 138h1v7h-1zM63 138h1v7h-1zM66 138h1v7h-1zM67 138h1v7h-1zM72 138h1v7h-1zM87 138h1v7h-1zM93 138h1v7h-1zM97 138h1v7h-1zM108 138h1v7h-1zM136 138h1v7h-1zM138 138h1v7h-1zM12 145h1v8h-1zM20 145h1v8h-1zM31 145h1v8h-1zM39 145h1v8h-1zM41 145h1v8h-1zM46 145h1v8h-1zM48 145h1v8h-1zM50 145h1v8h-1zM53 145h1v8h-1zM54 145h1v8h-1zM59 145h1v8h-1zM72 145h1v8h-1zM79 145h1v8h-1zM86 145h1v8h-1zM94 145h1v8h-1zM102 145h1v8h-1zM107 145h1v8h-1zM111 145h1v8h-1zM112 145h1v8h-1zM118 145h1v8h-1zM124 145h1v8h-1zM125 145h1v8h-1zM3 153h1v7h-1zM4 153h1v7h-1zM8 153h1v7h-1zM28 153h1v7h-1zM33 153h1v7h-1zM34 153h1v7h-1zM36 153h1v7h-1zM38 153h1v7h-1zM64 153h1v7h-1zM68 153h1v7h-1zM69 153h1v7h-1zM76 153h1v7h-1zM108 153h1v7h-1zM110 153h1v7h-1zM21 160h1v8h-1zM45 160h1v8h-1zM52 160h1v8h-1zM56 160h1v8h-1zM65 160h1v8h-1zM68 160h1v8h-1zM72 160h1v8h-1zM74 160h1v8h-1zM82 160h1v8h-1zM83 160h1v8h-1zM103 160h1v8h-1zM115 160h1v8h-1zM122 160h1v8h-1zM0 168h1v8h-1zM2 168h1v8h-1zM23 168h1v8h-1zM26 168h1v8h-1zM29 168h1v8h-1zM33 168h1v8h-1zM34 168h1v8h-1zM49 168h1v8h-1zM50 168h1v8h-1zM53 168h1v8h-1zM61 168h1v8h-1zM89 168h1v8h-1zM93 168h1v8h-1zM103 168h1v8h-1zM112 168h1v8h-1zM121 168h1v8h-1zM124 168h1v8h-1zM127 168h1v8h-1zM0 176h1v7h-1zM25 176h1v7h-1zM30 176h1v7h-1zM31 176h1v7h-1zM33 176h1v7h-1zM35 176h1v7h-1zM36 176h1v7h-1zM43 176h1v7h-1zM57 176h1v7h-1zM65 176h1v7h-1zM81 176h1v7h-1zM90 176h1v7h-1zM101 176h1v7h-1zM105 176h1v7h-1zM109 176h1v7h-1zM110 176h1v7h-1zM118 176h1v7h-1zM134 176h1v7h-1zM135 176h1v7h-1zM6 183h1v8h-1zM8 183h1v8h-1zM10 183h1v8h-1zM28 183h1v8h-1zM54 183h1v8h-1zM57 183h1v8h-1zM58 183h1v8h-1zM66 183h1v8h-1zM77 183h1v8h-1zM90 183h1v8h-1zM96 183h1v8h-1zM111 183h1v8h-1zM125 183h1v8h-1zM127 183h1v8h-1zM128 183h1v8h-1zM133 183h1v8h-1zM138 183h1v8h-1zM0 191h1v8h-1zM5 191h1v8h-1zM13 191h1v8h-1zM18 191h1v8h-1zM23 191h1v8h-1zM30 191h1v8h-1zM44 191h1v8h-1zM66 191h1v8h-1zM90 191h1v8h-1zM95 191h1v8h-1zM102 191h1v8h-1zM106 191h1v8h-1zM107 191h1v8h-1zM116 191h1v8h-1zM122 191h1v8h-1zM126 191h1v8h-1zM2 199h1v7h-1zM6 199h1v7h-1zM10 199h1v7h-1zM13 199h1v7h-1zM26 199h1v7h-1zM43 199h1v7h-1zM48 199h1v7h-1zM50 199h1v7h-1zM58 199h1v7h-1zM63 199h1v7h-1zM67 199h1v7h-1zM68 199h1v7h-1zM69 199h1v7h-1zM76 199h1v7h-1zM79 199h1v7h-1zM118 199h1v7h-1zM127 199h1v7h-1zM129 199h1v7h-1zM134 199h1v7h-1zM8 206h1v8h-1zM18 206h1v8h-1zM20 206h1v8h-1zM26 206h1v8h-1zM35 206h1v8h-1zM36 206h1v8h-1zM45 206h1v8h-1zM49 206h1v8h-1zM53 206h1v8h-1zM55 206h1v8h-1zM56 206h1v8h-1zM95 206h1v8h-1zM108 206h1v8h-1zM109 206h1v8h-1zM110 206h1v8h-1zM111 206h1v8h-1zM134 206h1v8h-1zM19 214h1v8h-1zM21 214h1v8h-1zM27 214h1v8h-1zM34 214h1v8h-1zM35 214h1v8h-1zM41 214h1v8h-1zM57 214h1v8h-1zM65 214h1v8h-1zM75 214h1v8h-1zM97 214h1v8h-1zM101 214h1v8h-1zM105 214h1v8h-1zM118 214h1v8h-1zM127 214h1v8h-1zM128 214h1v8h-1zM131 214h1v8h-1zM135 214h1v8h-1zM0 222h1v7h-1zM11 222h1v7h-1zM17 222h1v7h-1zM19 222h1v7h-1zM26 222h1v7h-1zM28 222h1v7h-1zM32 222h1v7h-1zM41 222h1v7h-1zM47 222h1v7h-1zM49 222h1v7h-1zM54 222h1v7h-1zM67 222h1v7h-1zM68 222h1v7h-1zM74 222h1v7h-1zM80 222h1v7h-1zM101 222h1v7h-1zM104 222h1v7h-1zM106 222h1v7h-1zM112 222h1v7h-1zM125 222h1v7h-1zM132 222h1v7h-1zM1 229h1v8h-1zM4 229h1v8h-1zM15 229h1v8h-1zM16 229h1v8h-1zM18 229h1v8h-1zM23 229h1v8h-1zM32 229h1v8h-1zM47 229h1v8h-1zM57 229h1v8h-1zM61 229h1v8h-1zM63 229h1v8h-1zM72 229h1v8h-1zM93 229h1v8h-1zM113 229h1v8h-1zM114 229h1v8h-1zM117 229h1v8h-1zM119 229h1v8h-1zM3 237h1v7h-1zM12 237h1v7h-1zM20 237h1v7h-1zM24 237h1v7h-1zM28 237h1v7h-1zM35 237h1v7h-1zM36 237h1v7h-1zM37 237h1v7h-1zM38 237h1v7h-1zM43 237h1v7h-1zM49 237h1v7h-1zM50 237h1v7h-1zM55 237h1v7h-1zM64 237h1v7h-1zM68 237h1v7h-1zM79 237h1v7h-1zM91 237h1v7h-1zM102 237h1v7h-1zM128 237h1v7h-1zM136 237h1v7h-1zM138 237h1v7h-1zM6 244h1v8h-1zM14 244h1v8h-1zM17 244h1v8h-1zM25 244h1v8h-1zM51 244h1v8h-1zM59 244h1v8h-1zM66 244h1v8h-1zM73 244h1v8h-1zM75 244h1v8h-1zM76 244h1v8h-1zM96 244h1v8h-1zM116 244h1v8h-1zM117 244h1v8h-1zM119 244h1v8h-1zM120 244h1v8h-1zM123 244h1v8h-1zM6 252h1v8h-1zM10 252h1v8h-1zM18 252h1v8h-1zM47 252h1v8h-1zM55 252h1v8h-1zM56 252h1v8h-1zM72 252h1v8h-1zM76 252h1v8h-1zM97 252h1v8h-1zM98 252h1v8h-1zM99 252h1v8h-1zM101 252h1v8h-1zM107 252h1v8h-1zM122 252h1v8h-1zM130 252h1v8h-1zM2 260h1v7h-1zM27 260h1v7h-1zM31 260h1v7h-1zM44 260h1v7h-1zM47 260h1v7h-1zM57 260h1v7h-1zM73 260h1v7h-1zM85 260h1v7h-1zM89 260h1v7h-1zM97 260h1v7h-1zM101 260h1v7h-1zM105 260h1v7h-1zM124 260h1v7h-1zM130 260h1v7h-1zM133 260h1v7h-1zM135 260h1v7h-1zM6 267h1v8h-1zM9 267h1v8h-1zM12 267h1v8h-1zM15 267h1v8h-1zM21 267h1v8h-1zM36 267h1v8h-1zM43 267h1v8h-1zM54 267h1v8h-1zM68 267h1v8h-1zM89 267h1v8h-1zM91 267h1v8h-1zM94 267h1v8h-1zM99 267h1v8h-1zM107 267h1v8h-1zM124 267h1v8h-1zM4 275h1v8h-1zM5 275h1v8h-1zM25 275h1v8h-1zM45 275h1v8h-1zM48 275h1v8h-1zM54 275h1v8h-1zM66 275h1v8h-1zM73 275h1v8h-1zM80 275h1v8h-1zM82 275h1v8h-1zM86 275h1v8h-1zM91 275h1v8h-1zM92 275h1v8h-1zM103 275h1v8h-1zM104 275h1v8h-1zM113 275h1v8h-1zM119 275h1v8h-1zM123 275h1v8h-1zM130 275h1v8h-1zM131 275h1v8h-1zM134 275h1v8h-1zM0 283h1v7h-1zM13 283h1v7h-1zM14 283h1v7h-1zM18 283h1v7h-1zM22 283h1v7h-1zM49 283h1v7h-1zM52 283h1v7h-1zM62 283h1v7h-1zM69 283h1v7h-1zM73 283h1v7h-1zM78 283h1v7h-1zM87 283h1v7h-1zM123 283h1v7h-1zM132 283h1v7h-1zM0 290h1v8h-1zM3 290h1v8h-1zM12 290h1v8h-1zM33 290h1v8h-1zM37 290h1v8h-1zM50 290h1v8h-1zM62 290h1v8h-1zM74 290h1v8h-1zM75 290h1v8h-1zM84 290h1v8h-1zM95 290h1v8h-1zM98 290h1v8h-1zM100 290h1v8h-1zM101 290h1v8h-1zM108 290h1v8h-1zM121 290h1v8h-1zM135 290h1v8h-1zM0 298h1v8h-1zM1 298h1v8h-1zM8 298h1v8h-1zM29 298h1v8h-1zM42 298h1v8h-1zM44 298h1v8h-1zM55 298h1v8h-1zM60 298h1v8h-1zM68 298h1v8h-1zM69 298h1v8h-1zM70 298h1v8h-1zM73 298h1v8h-1zM80 298h1v8h-1zM81 298h1v8h-1zM97 298h1v8h-1zM99 298h1v8h-1zM116 298h1v8h-1zM127 298h1v8h-1zM136 298h1v8h-1zM137 298h1v8h-1zM22 306h1v7h-1zM24 306h1v7h-1zM25 306h1v7h-1zM36 306h1v7h-1zM37 306h1v7h-1zM38 306h1v7h-1zM49 306h1v7h-1zM61 306h1v7h-1zM63 306h1v7h-1zM70 306h1v7h-1zM75 306h1v7h-1zM85 306h1v7h-1zM94 306h1v7h-1zM108 306h1v7h-1zM112 306h1v7h-1zM114 306h1v7h-1zM123 306h1v7h-1zM127 306h1v7h-1zM0 313h1v8h-1zM2 313h1v8h-1zM4 313h1v8h-1zM18 313h1v8h-1zM20 313h1v8h-1zM41 313h1v8h-1zM43 313h1v8h-1zM48 313h1v8h-1zM52 313h1v8h-1zM54 313h1v8h-1zM59 313h1v8h-1zM63 313h1v8h-1zM94 313h1v8h-1zM98 313h1v8h-1zM106 313h1v8h-1zM123 313h1v8h-1zM124 313h1v8h-1zM128 313h1v8h-1zM138 313h1v8h-1zM1 321h1v8h-1zM2 321h1v8h-1zM8 321h1v8h-1zM16 321h1v8h-1zM19 321h1v8h-1zM23 321h1v8h-1zM30 321h1v8h-1zM38 321h1v8h-1zM43 321h1v8h-1zM53 321h1v8h-1zM62 321h1v8h-1zM64 321h1v8h-1zM97 321h1v8h-1zM106 321h1v8h-1zM111 321h1v8h-1zM116 321h1v8h-1zM127 321h1v8h-1zM130 321h1v8h-1zM131 321h1v8h-1zM133 321h1v8h-1zM2 329h1v7h-1zM28 329h1v7h-1zM29 329h1v7h-1zM51 329h1v7h-1zM59 329h1v7h-1zM85 329h1v7h-1zM88 329h1v7h-1zM105 329h1v7h-1zM111 329h1v7h-1zM131 329h1v7h-1zM133 329h1v7h-1zM135 329h1v7h-1zM15 336h1v8h-1zM16 336h1v8h-1zM22 336h1v8h-1zM26 336h1v8h-1zM38 336h1v8h-1zM41 336h1v8h-1zM44 336h1v8h-1zM47 336h1v8h-1zM54 336h1v8h-1zM66 336h1v8h-1zM84 336h1v8h-1zM89 336h1v8h-1zM95 336h1v8h-1zM113 336h1v8h-1zM116 336h1v8h-1zM117 336h1v8h-1zM0 344h1v7h-1zM7 344h1v7h-1zM23 344h1v7h-1zM25 344h1v7h-1zM45 344h1v7h-1zM51 344h1v7h-1zM79 344h1v7h-1zM98 344h1v7h-1zM100 344h1v7h-1zM102 344h1v7h-1zM105 344h1v7h-1zM106 344h1v7h-1zM110 344h1v7h-1zM112 344h1v7h-1zM113 344h1v7h-1zM119 344h1v7h-1zM129 344h1v7h-1zM135 344h1v7h-1zM2 351h1v8h-1zM19 351h1v8h-1zM20 351h1v8h-1zM22 351h1v8h-1zM38 351h1v8h-1zM40 351h1v8h-1zM61 351h1v8h-1zM62 351h1v8h-1zM76 351h1v8h-1zM77 351h1v8h-1zM79 351h1v8h-1zM80 351h1v8h-1zM89 351h1v8h-1zM102 351h1v8h-1zM114 351h1v8h-1zM117 351h1v8h-1zM119 351h1v8h-1zM2 359h1v8h-1zM20 359h1v8h-1zM24 359h1v8h-1zM25 359h1v8h-1zM30 359h1v8h-1zM40 359h1v8h-1zM56 359h1v8h-1zM90 359h1v8h-1zM93 359h1v8h-1zM94 359h1v8h-1zM108 359h1v8h-1zM109 359h1v8h-1zM115 359h1v8h-1zM119 359h1v8h-1zM122 359h1v8h-1zM128 359h1v8h-1zM4 367h1v7h-1zM5 367h1v7h-1zM20 367h1v7h-1zM21 367h1v7h-1zM29 367h1v7h-1zM31 367h1v7h-1zM34 367h1v7h-1zM38 367h1v7h-1zM40 367h1v7h-1zM41 367h1v7h-1zM53 367h1v7h-1zM55 367h1v7h-1zM62 367h1v7h-1zM64 367h1v7h-1zM75 367h1v7h-1zM78 367h1v7h-1zM82 367h1v7h-1zM91 367h1v7h-1zM93 367h1v7h-1zM121 367h1v7h-1zM122 367h1v7h-1zM125 367h1v7h-1zM134 367h1v7h-1zM7 374h1v8h-1zM8 374h1v8h-1zM9 374h1v8h-1zM11 374h1v8h-1zM16 374h1v8h-1zM28 374h1v8h-1zM33 374h1v8h-1zM38 374h1v8h-1zM66 374h1v8h-1zM68 374h1v8h-1zM84 374h1v8h-1zM85 374h1v8h-1zM92 374h1v8h-1zM96 374h1v8h-1zM98 374h1v8h-1zM124 374h1v8h-1zM126 374h1v8h-1zM28 382h1v8h-1zM30 382h1v8h-1zM32 382h1v8h-1zM37 382h1v8h-1zM39 382h1v8h-1zM43 382h1v8h-1zM54 382h1v8h-1zM62 382h1v8h-1zM66 382h1v8h-1zM85 382h1v8h-1zM91 382h1v8h-1zM110 382h1v8h-1zM121 382h1v8h-1zM123 382h1v8h-1zM129 382h1v8h-1zM1 390h1v7h-1zM5 390h1v7h-1zM13 390h1v7h-1zM22 390h1v7h-1zM25 390h1v7h-1zM29 390h1v7h-1zM36 390h1v7h-1zM49 390h1v7h-1zM58 390h1v7h-1zM65 390h1v7h-1zM71 390h1v7h-1zM76 390h1v7h-1zM77 390h1v7h-1zM89 390h1v7h-1zM94 390h1v7h-1zM100 390h1v7h-1zM105 390h1v7h-1zM108 390h1v7h-1zM109 390h1v7h-1zM110 390h1v7h-1zM112 390h1v7h-1zM124 390h1v7h-1zM5 397h1v8h-1zM6 397h1v8h-1zM7 397h1v8h-1zM8 397h1v8h-1zM11 397h1v8h-1zM16 397h1v8h-1zM28 397h1v8h-1zM32 397h1v8h-1zM38 397h1v8h-1zM60 397h1v8h-1zM66 397h1v8h-1zM68 397h1v8h-1zM79 397h1v8h-1zM84 397h1v8h-1zM85 397h1v8h-1zM94 397h1v8h-1zM101 397h1v8h-1zM124 397h1v8h-1zM135 397h1v8h-1zM138 397h1v8h-1zM15 405h1v8h-1zM17 405h1v8h-1zM20 405h1v8h-1zM46 405h1v8h-1zM47 405h1v8h-1zM57 405h1v8h-1zM62 405h1v8h-1zM69 405h1v8h-1zM75 405h1v8h-1zM97 405h1v8h-1zM100 405h1v8h-1zM115 405h1v8h-1zM121 405h1v8h-1zM123 405h1v8h-1zM125 405h1v8h-1zM126 405h1v8h-1zM3 413h1v7h-1zM5 413h1v7h-1zM15 413h1v7h-1zM39 413h1v7h-1zM42 413h1v7h-1zM53 413h1v7h-1zM63 413h1v7h-1zM77 413h1v7h-1zM80 413h1v7h-1zM90 413h1v7h-1zM111 413h1v7h-1zM112 413h1v7h-1zM125 413h1v7h-1zM128 413h1v7h-1zM129 413h1v7h-1zM138 413h1v7h-1zM1 420h1v8h-1zM5 420h1v8h-1zM11 420h1v8h-1zM16 420h1v8h-1zM32 420h1v8h-1zM43 420h1v8h-1zM51 420h1v8h-1zM52 420h1v8h-1zM72 420h1v8h-1zM74 420h1v8h-1zM81 420h1v8h-1zM87 420h1v8h-1zM94 420h1v8h-1zM116 420h1v8h-1zM130 420h1v8h-1zM137 420h1v8h-1zM15 428h1v8h-1zM20 428h1v8h-1zM61 428h1v8h-1zM65 428h1v8h-1zM76 428h1v8h-1zM92 428h1v8h-1zM93 428h1v8h-1zM94 428h1v8h-1zM98 428h1v8h-1zM106 428h1v8h-1zM112 428h1v8h-1zM121 428h1v8h-1zM125 428h1v8h-1zM28 436h1v7h-1zM31 436h1v7h-1zM42 436h1v7h-1zM55 436h1v7h-1zM56 436h1v7h-1zM60 436h1v7h-1zM65 436h1v7h-1zM67 436h1v7h-1zM79 436h1v7h-1zM90 436h1v7h-1zM104 436h1v7h-1zM111 436h1v7h-1zM114 436h1v7h-1zM133 436h1v7h-1zM8 443h1v8h-1zM21 443h1v8h-1zM24 443h1v8h-1zM48 443h1v8h-1zM49 443h1v8h-1zM72 443h1v8h-1zM73 443h1v8h-1zM94 443h1v8h-1zM112 443h1v8h-1zM13 451h1v7h-1zM15 451h1v7h-1zM21 451h1v7h-1zM26 451h1v7h-1zM38 451h1v7h-1zM58 451h1v7h-1zM61 451h1v7h-1zM63 451h1v7h-1zM74 451h1v7h-1zM82 451h1v7h-1zM85 451h1v7h-1zM92 451h1v7h-1zM95 451h1v7h-1zM97 451h1v7h-1zM118 451h1v7h-1zM121 451h1v7h-1zM133 451h1v7h-1zM136 451h1v7h-1zM4 458h1v8h-1zM7 458h1v8h-1zM46 458h1v8h-1zM47 458h1v8h-1zM69 458h1v8h-1zM78 458h1v8h-1zM83 458h1v8h-1zM92 458h1v8h-1zM99 458h1v8h-1zM104 458h1v8h-1zM107 458h1v8h-1zM117 458h1v8h-1zM134 458h1v8h-1zM138 458h1v8h-1zM21 466h1v8h-1zM43 466h1v8h-1zM45 466h1v8h-1zM51 466h1v8h-1zM72 466h1v8h-1zM88 466h1v8h-1zM89 466h1v8h-1zM99 466h1v8h-1zM108 466h1v8h-1zM110 466h1v8h-1zM111 466h1v8h-1zM120 466h1v8h-1zM123 466h1v8h-1zM125 466h1v8h-1zM126 466h1v8h-1zM134 466h1v8h-1zM5 474h1v7h-1zM8 474h1v7h-1zM15 474h1v7h-1zM16 474h1v7h-1zM18 474h1v7h-1zM20 474h1v7h-1zM26 474h1v7h-1zM30 474h1v7h-1zM38 474h1v7h-1zM41 474h1v7h-1zM48 474h1v7h-1zM49 474h1v7h-1zM70 474h1v7h-1zM76 474h1v7h-1zM84 474h1v7h-1zM87 474h1v7h-1zM89 474h1v7h-1zM94 474h1v7h-1zM99 474h1v7h-1zM123 474h1v7h-1zM130 474h1v7h-1zM133 474h1v7h-1zM11 481h1v8h-1zM19 481h1v8h-1zM23 481h1v8h-1zM39 481h1v8h-1zM58 481h1v8h-1zM63 481h1v8h-1zM73 481h1v8h-1zM77 481h1v8h-1zM78 481h1v8h-1zM83 481h1v8h-1zM90 481h1v8h-1zM102 481h1v8h-1z"/><path fill="#fff" fill-opacity="0.0312" d="M7 0h1v8h-1zM9 0h1v8h-1zM10 0h1v8h-1zM14 0h1v8h-1zM15 0h1v8h-1zM34 0h1v8h-1zM54 0h1v8h-1zM57 0h1v8h-1zM77 0h1v8h-1zM81 0h1v8h-1zM84 0h1v8h-1zM85 0h1v8h-1zM87 0h1v8h-1zM89 0h1v8h-1zM95 0h1v8h-1zM101 0h1v8h-1zM106 0h1v8h-1zM109 0h1v8h-1zM124 0h1v8h-1zM127 0h1v8h-1zM130 0h1v8h-1zM132 0h1v8h-1zM133 0h1v8h-1zM10 8h1v7h-1zM21 8h1v7h-1zM24 8h1v7h-1zM41 8h1v7h-1zM49 8h1v7h-1zM52 8h1v7h-1zM54 8h1v7h-1zM61 8h1v7h-1zM74 8h1v7h-1zM86 8h1v7h-1zM98 8h1v7h-1zM106 8h1v7h-1zM118 8h1v7h-1zM119 8h1v7h-1zM124 8h1v7h-1zM127 8h1v7h-1zM130 8h1v7h-1zM135 8h1v7h-1zM14 15h1v8h-1zM17 15h1v8h-1zM20 15h1v8h-1zM31 15h1v8h-1zM34 15h1v8h-1zM39 15h1v8h-1zM44 15h1v8h-1zM57 15h1v8h-1zM88 15h1v8h-1zM91 15h1v8h-1zM104 15h1v8h-1zM120 15h1v8h-1zM125 15h1v8h-1zM131 15h1v8h-1zM134 15h1v8h-1zM14 23h1v8h-1zM18 23h1v8h-1zM27 23h1v8h-1zM49 23h1v8h-1zM50 23h1v8h-1zM82 23h1v8h-1zM87 23h1v8h-1zM107 23h1v8h-1zM113 23h1v8h-1zM117 23h1v8h-1zM127 23h1v8h-1zM128 23h1v8h-1zM132 23h1v8h-1zM137 23h1v8h-1zM5 31h1v7h-1zM12 31h1v7h-1zM46 31h1v7h-1zM59 31h1v7h-1zM68 31h1v7h-1zM69 31h1v7h-1zM70 31h1v7h-1zM77 31h1v7h-1zM85 31h1v7h-1zM91 31h1v7h-1zM113 31h1v7h-1zM128 31h1v7h-1zM131 31h1v7h-1zM6 38h1v8h-1zM13 38h1v8h-1zM28 38h1v8h-1zM29 38h1v8h-1zM32 38h1v8h-1zM34 38h1v8h-1zM41 38h1v8h-1zM43 38h1v8h-1zM52 38h1v8h-1zM53 38h1v8h-1zM55 38h1v8h-1zM59 38h1v8h-1zM61 38h1v8h-1zM62 38h1v8h-1zM65 38h1v8h-1zM75 38h1v8h-1zM86 38h1v8h-1zM88 38h1v8h-1zM101 38h1v8h-1zM110 38h1v8h-1zM118 38h1v8h-1zM5 46h1v7h-1zM24 46h1v7h-1zM25 46h1v7h-1zM30 46h1v7h-1zM39 46h1v7h-1zM40 46h1v7h-1zM41 46h1v7h-1zM46 46h1v7h-1zM60 46h1v7h-1zM69 46h1v7h-1zM77 46h1v7h-1zM81 46h1v7h-1zM88 46h1v7h-1zM89 46h1v7h-1zM91 46h1v7h-1zM92 46h1v7h-1zM93 46h1v7h-1zM96 46h1v7h-1zM106 46h1v7h-1zM115 46h1v7h-1zM123 46h1v7h-1zM126 46h1v7h-1zM0 53h1v8h-1zM4 53h1v8h-1zM13 53h1v8h-1zM52 53h1v8h-1zM55 53h1v8h-1zM67 53h1v8h-1zM100 53h1v8h-1zM103 53h1v8h-1zM105 53h1v8h-1zM106 53h1v8h-1zM115 53h1v8h-1zM116 53h1v8h-1zM124 53h1v8h-1zM134 53h1v8h-1zM2 61h1v8h-1zM11 61h1v8h-1zM14 61h1v8h-1zM43 61h1v8h-1zM68 61h1v8h-1zM80 61h1v8h-1zM81 61h1v8h-1zM105 61h1v8h-1zM111 61h1v8h-1zM114 61h1v8h-1zM116 61h1v8h-1zM3 69h1v7h-1zM4 69h1v7h-1zM7 69h1v7h-1zM22 69h1v7h-1zM45 69h1v7h-1zM48 69h1v7h-1zM72 69h1v7h-1zM76 69h1v7h-1zM84 69h1v7h-1zM103 69h1v7h-1zM115 69h1v7h-1zM120 69h1v7h-1zM134 69h1v7h-1zM135 69h1v7h-1zM138 69h1v7h-1zM2 76h1v8h-1zM47 76h1v8h-1zM76 76h1v8h-1zM103 76h1v8h-1zM129 76h1v8h-1zM14 84h1v8h-1zM17 84h1v8h-1zM19 84h1v8h-1zM25 84h1v8h-1zM48 84h1v8h-1zM50 84h1v8h-1zM53 84h1v8h-1zM54 84h1v8h-1zM55 84h1v8h-1zM57 84h1v8h-1zM59 84h1v8h-1zM61 84h1v8h-1zM65 84h1v8h-1zM79 84h1v8h-1zM97 84h1v8h-1zM100 84h1v8h-1zM110 84h1v8h-1zM120 84h1v8h-1zM130 84h1v8h-1zM138 84h1v8h-1zM11 92h1v7h-1zM16 92h1v7h-1zM34 92h1v7h-1zM47 92h1v7h-1zM48 92h1v7h-1zM51 92h1v7h-1zM81 92h1v7h-1zM94 92h1v7h-1zM125 92h1v7h-1zM127 92h1v7h-1zM131 92h1v7h-1zM138 92h1v7h-1zM19 99h1v8h-1zM23 99h1v8h-1zM24 99h1v8h-1zM25 99h1v8h-1zM40 99h1v8h-1zM44 99h1v8h-1zM46 99h1v8h-1zM57 99h1v8h-1zM61 99h1v8h-1zM65 99h1v8h-1zM74 99h1v8h-1zM87 99h1v8h-1zM91 99h1v8h-1zM95 99h1v8h-1zM100 99h1v8h-1zM112 99h1v8h-1zM121 99h1v8h-1zM18 107h1v8h-1zM21 107h1v8h-1zM25 107h1v8h-1zM28 107h1v8h-1zM32 107h1v8h-1zM33 107h1v8h-1zM44 107h1v8h-1zM50 107h1v8h-1zM64 107h1v8h-1zM81 107h1v8h-1zM99 107h1v8h-1zM102 107h1v8h-1zM110 107h1v8h-1zM112 107h1v8h-1zM114 107h1v8h-1zM115 107h1v8h-1zM118 107h1v8h-1zM119 107h1v8h-1zM122 107h1v8h-1zM19 115h1v7h-1zM24 115h1v7h-1zM29 115h1v7h-1zM50 115h1v7h-1zM56 115h1v7h-1zM61 115h1v7h-1zM70 115h1v7h-1zM82 115h1v7h-1zM86 115h1v7h-1zM99 115h1v7h-1zM128 115h1v7h-1zM8 122h1v8h-1zM23 122h1v8h-1zM37 122h1v8h-1zM39 122h1v8h-1zM44 122h1v8h-1zM47 122h1v8h-1zM66 122h1v8h-1zM79 122h1v8h-1zM84 122h1v8h-1zM91 122h1v8h-1zM95 122h1v8h-1zM105 122h1v8h-1zM107 122h1v8h-1zM125 122h1v8h-1zM127 122h1v8h-1zM1 130h1v8h-1zM5 130h1v8h-1zM13 130h1v8h-1zM30 130h1v8h-1zM33 130h1v8h-1zM45 130h1v8h-1zM46 130h1v8h-1zM54 130h1v8h-1zM57 130h1v8h-1zM74 130h1v8h-1zM77 130h1v8h-1zM78 130h1v8h-1zM79 130h1v8h-1zM84 130h1v8h-1zM110 130h1v8h-1zM111 130h1v8h-1zM126 130h1v8h-1zM1 138h1v7h-1zM23 138h1v7h-1zM35 138h1v7h-1zM61 138h1v7h-1zM73 138h1v7h-1zM107 138h1v7h-1zM112 138h1v7h-1zM114 138h1v7h-1zM118 138h1v7h-1zM125 138h1v7h-1zM25 145h1v8h-1zM33 145h1v8h-1zM35 145h1v8h-1zM36 145h1v8h-1zM37 145h1v8h-1zM67 145h1v8h-1zM73 145h1v8h-1zM75 145h1v8h-1zM85 145h1v8h-1zM92 145h1v8h-1zM96 145h1v8h-1zM104 145h1v8h-1zM116 145h1v8h-1zM120 145h1v8h-1zM121 145h1v8h-1zM126 145h1v8h-1zM0 153h1v7h-1zM16 153h1v7h-1zM17 153h1v7h-1zM19 153h1v7h-1zM21 153h1v7h-1zM35 153h1v7h-1zM71 153h1v7h-1zM74 153h1v7h-1zM77 153h1v7h-1zM97 153h1v7h-1zM99 153h1v7h-1zM101 153h1v7h-1zM105 153h1v7h-1zM109 153h1v7h-1zM123 153h1v7h-1zM126 153h1v7h-1zM136 153h1v7h-1zM10 160h1v8h-1zM42 160h1v8h-1zM50 160h1v8h-1zM54 160h1v8h-1zM70 160h1v8h-1zM84 160h1v8h-1zM96 160h1v8h-1zM129 160h1v8h-1zM138 160h1v8h-1zM3 168h1v8h-1zM5 168h1v8h-1zM6 168h1v8h-1zM40 168h1v8h-1zM54 168h1v8h-1zM59 168h1v8h-1zM69 168h1v8h-1zM72 168h1v8h-1zM92 168h1v8h-1zM97 168h1v8h-1zM101 168h1v8h-1zM105 168h1v8h-1zM106 168h1v8h-1zM109 168h1v8h-1zM113 168h1v8h-1zM115 168h1v8h-1zM120 168h1v8h-1zM138 168h1v8h-1zM9 176h1v7h-1zM16 176h1v7h-1zM37 176h1v7h-1zM50 176h1v7h-1zM55 176h1v7h-1zM59 176h1v7h-1zM64 176h1v7h-1zM80 176h1v7h-1zM104 176h1v7h-1zM117 176h1v7h-1zM124 176h1v7h-1zM0 183h1v8h-1zM9 183h1v8h-1zM15 183h1v8h-1zM25 183h1v8h-1zM38 183h1v8h-1zM59 183h1v8h-1zM63 183h1v8h-1zM84 183h1v8h-1zM86 183h1v8h-1zM102 183h1v8h-1zM103 183h1v8h-1zM112 183h1v8h-1zM121 183h1v8h-1zM124 183h1v8h-1zM126 183h1v8h-1zM9 191h1v8h-1zM21 191h1v8h-1zM46 191h1v8h-1zM51 191h1v8h-1zM69 191h1v8h-1zM74 191h1v8h-1zM83 191h1v8h-1zM97 191h1v8h-1zM104 191h1v8h-1zM109 191h1v8h-1zM112 191h1v8h-1zM113 191h1v8h-1zM114 191h1v8h-1zM117 191h1v8h-1zM119 191h1v8h-1zM7 199h1v7h-1zM14 199h1v7h-1zM15 199h1v7h-1zM25 199h1v7h-1zM28 199h1v7h-1zM35 199h1v7h-1zM37 199h1v7h-1zM80 199h1v7h-1zM81 199h1v7h-1zM83 199h1v7h-1zM88 199h1v7h-1zM89 199h1v7h-1zM93 199h1v7h-1zM94 199h1v7h-1zM101 199h1v7h-1zM103 199h1v7h-1zM115 199h1v7h-1zM130 199h1v7h-1zM136 199h1v7h-1zM10 206h1v8h-1zM14 206h1v8h-1zM19 206h1v8h-1zM23 206h1v8h-1zM40 206h1v8h-1zM57 206h1v8h-1zM61 206h1v8h-1zM63 206h1v8h-1zM64 206h1v8h-1zM70 206h1v8h-1zM75 206h1v8h-1zM76 206h1v8h-1zM101 206h1v8h-1zM117 206h1v8h-1zM125 206h1v8h-1zM10 214h1v8h-1zM59 214h1v8h-1zM61 214h1v8h-1zM80 214h1v8h-1zM89 214h1v8h-1zM90 214h1v8h-1zM109 214h1v8h-1zM115 214h1v8h-1zM117 214h1v8h-1zM119 214h1v8h-1zM138 214h1v8h-1zM2 222h1v7h-1zM7 222h1v7h-1zM34 222h1v7h-1zM52 222h1v7h-1zM73 222h1v7h-1zM76 222h1v7h-1zM79 222h1v7h-1zM90 222h1v7h-1zM91 222h1v7h-1zM93 222h1v7h-1zM94 222h1v7h-1zM111 222h1v7h-1zM119 222h1v7h-1zM123 222h1v7h-1zM129 222h1v7h-1zM135 222h1v7h-1zM27 229h1v8h-1zM33 229h1v8h-1zM37 229h1v8h-1zM43 229h1v8h-1zM52 229h1v8h-1zM56 229h1v8h-1zM59 229h1v8h-1zM69 229h1v8h-1zM83 229h1v8h-1zM92 229h1v8h-1zM105 229h1v8h-1zM106 229h1v8h-1zM115 229h1v8h-1zM116 229h1v8h-1zM134 229h1v8h-1zM4 237h1v7h-1zM5 237h1v7h-1zM7 237h1v7h-1zM17 237h1v7h-1zM23 237h1v7h-1zM30 237h1v7h-1zM32 237h1v7h-1zM57 237h1v7h-1zM59 237h1v7h-1zM78 237h1v7h-1zM86 237h1v7h-1zM90 237h1v7h-1zM101 237h1v7h-1zM109 237h1v7h-1zM117 237h1v7h-1zM118 237h1v7h-1zM124 237h1v7h-1zM0 244h1v8h-1zM8 244h1v8h-1zM9 244h1v8h-1zM13 244h1v8h-1zM18 244h1v8h-1zM20 244h1v8h-1zM22 244h1v8h-1zM26 244h1v8h-1zM27 244h1v8h-1zM28 244h1v8h-1zM42 244h1v8h-1zM47 244h1v8h-1zM52 244h1v8h-1zM54 244h1v8h-1zM57 244h1v8h-1zM63 244h1v8h-1zM71 244h1v8h-1zM79 244h1v8h-1zM98 244h1v8h-1zM112 244h1v8h-1zM115 244h1v8h-1zM128 244h1v8h-1zM16 252h1v8h-1zM27 252h1v8h-1zM36 252h1v8h-1zM39 252h1v8h-1zM46 252h1v8h-1zM70 252h1v8h-1zM75 252h1v8h-1zM80 252h1v8h-1zM93 252h1v8h-1zM106 252h1v8h-1zM108 252h1v8h-1zM109 252h1v8h-1zM114 252h1v8h-1zM115 252h1v8h-1zM116 252h1v8h-1zM119 252h1v8h-1zM7 260h1v7h-1zM17 260h1v7h-1zM30 260h1v7h-1zM37 260h1v7h-1zM43 260h1v7h-1zM60 260h1v7h-1zM61 260h1v7h-1zM63 260h1v7h-1zM90 260h1v7h-1zM99 260h1v7h-1zM109 260h1v7h-1zM116 260h1v7h-1zM119 260h1v7h-1zM125 260h1v7h-1zM127 260h1v7h-1zM129 260h1v7h-1zM37 267h1v8h-1zM44 267h1v8h-1zM55 267h1v8h-1zM60 267h1v8h-1zM76 267h1v8h-1zM79 267h1v8h-1zM87 267h1v8h-1zM88 267h1v8h-1zM119 267h1v8h-1zM133 267h1v8h-1zM137 267h1v8h-1zM6 275h1v8h-1zM7 275h1v8h-1zM16 275h1v8h-1zM19 275h1v8h-1zM22 275h1v8h-1zM30 275h1v8h-1zM34 275h1v8h-1zM39 275h1v8h-1zM50 275h1v8h-1zM64 275h1v8h-1zM67 275h1v8h-1zM69 275h1v8h-1zM81 275h1v8h-1zM83 275h1v8h-1zM100 275h1v8h-1zM101 275h1v8h-1zM114 275h1v8h-1zM115 275h1v8h-1zM125 275h1v8h-1zM137 275h1v8h-1zM26 283h1v7h-1zM28 283h1v7h-1zM47 283h1v7h-1zM48 283h1v7h-1zM56 283h1v7h-1zM61 283h1v7h-1zM72 283h1v7h-1zM81 283h1v7h-1zM92 283h1v7h-1zM112 283h1v7h-1zM120 283h1v7h-1zM4 290h1v8h-1zM18 290h1v8h-1zM19 290h1v8h-1zM36 290h1v8h-1zM41 290h1v8h-1zM47 290h1v8h-1zM63 290h1v8h-1zM65 290h1v8h-1zM72 290h1v8h-1zM76 290h1v8h-1zM82 290h1v8h-1zM83 290h1v8h-1zM86 290h1v8h-1zM103 290h1v8h-1zM114 290h1v8h-1zM117 290h1v8h-1zM131 290h1v8h-1zM6 298h1v8h-1zM15 298h1v8h-1zM30 298h1v8h-1zM58 298h1v8h-1zM65 298h1v8h-1zM67 298h1v8h-1zM74 298h1v8h-1zM101 298h1v8h-1zM106 298h1v8h-1zM112 298h1v8h-1zM123 298h1v8h-1zM132 298h1v8h-1zM1 306h1v7h-1zM10 306h1v7h-1zM16 306h1v7h-1zM18 306h1v7h-1zM19 306h1v7h-1zM26 306h1v7h-1zM28 306h1v7h-1zM35 306h1v7h-1zM58 306h1v7h-1zM81 306h1v7h-1zM83 306h1v7h-1zM92 306h1v7h-1zM104 306h1v7h-1zM115 306h1v7h-1zM122 306h1v7h-1zM134 306h1v7h-1zM9 313h1v8h-1zM13 313h1v8h-1zM22 313h1v8h-1zM23 313h1v8h-1zM28 313h1v8h-1zM51 313h1v8h-1zM55 313h1v8h-1zM56 313h1v8h-1zM62 313h1v8h-1zM67 313h1v8h-1zM89 313h1v8h-1zM95 313h1v8h-1zM100 313h1v8h-1zM107 313h1v8h-1zM111 313h1v8h-1zM135 313h1v8h-1zM13 321h1v8h-1zM14 321h1v8h-1zM26 321h1v8h-1zM31 321h1v8h-1zM37 321h1v8h-1zM40 321h1v8h-1zM49 321h1v8h-1zM57 321h1v8h-1zM58 321h1v8h-1zM66 321h1v8h-1zM76 321h1v8h-1zM78 321h1v8h-1zM79 321h1v8h-1zM90 321h1v8h-1zM92 321h1v8h-1zM109 321h1v8h-1zM113 321h1v8h-1zM115 321h1v8h-1zM119 321h1v8h-1zM11 329h1v7h-1zM13 329h1v7h-1zM32 329h1v7h-1zM58 329h1v7h-1zM67 329h1v7h-1zM75 329h1v7h-1zM81 329h1v7h-1zM84 329h1v7h-1zM89 329h1v7h-1zM90 329h1v7h-1zM93 329h1v7h-1zM97 329h1v7h-1zM104 329h1v7h-1zM129 329h1v7h-1zM134 329h1v7h-1zM0 336h1v8h-1zM1 336h1v8h-1zM2 336h1v8h-1zM9 336h1v8h-1zM23 336h1v8h-1zM25 336h1v8h-1zM29 336h1v8h-1zM49 336h1v8h-1zM64 336h1v8h-1zM70 336h1v8h-1zM77 336h1v8h-1zM78 336h1v8h-1zM82 336h1v8h-1zM86 336h1v8h-1zM92 336h1v8h-1zM97 336h1v8h-1zM100 336h1v8h-1zM103 336h1v8h-1zM131 336h1v8h-1zM132 336h1v8h-1zM135 336h1v8h-1zM2 344h1v7h-1zM8 344h1v7h-1zM9 344h1v7h-1zM24 344h1v7h-1zM28 344h1v7h-1zM41 344h1v7h-1zM63 344h1v7h-1zM74 344h1v7h-1zM76 344h1v7h-1zM83 344h1v7h-1zM84 344h1v7h-1zM97 344h1v7h-1zM104 344h1v7h-1zM107 344h1v7h-1zM114 344h1v7h-1zM123 344h1v7h-1zM134 344h1v7h-1zM137 344h1v7h-1zM5 351h1v8h-1zM6 351h1v8h-1zM9 351h1v8h-1zM10 351h1v8h-1zM11 351h1v8h-1zM25 351h1v8h-1zM34 351h1v8h-1zM45 351h1v8h-1zM55 351h1v8h-1zM68 351h1v8h-1zM74 351h1v8h-1zM81 351h1v8h-1zM87 351h1v8h-1zM97 351h1v8h-1zM100 351h1v8h-1zM104 351h1v8h-1zM107 351h1v8h-1zM130 351h1v8h-1zM135 351h1v8h-1zM22 359h1v8h-1zM28 359h1v8h-1zM38 359h1v8h-1zM44 359h1v8h-1zM53 359h1v8h-1zM73 359h1v8h-1zM81 359h1v8h-1zM110 359h1v8h-1zM111 359h1v8h-1zM112 359h1v8h-1zM114 359h1v8h-1zM136 359h1v8h-1zM6 367h1v7h-1zM11 367h1v7h-1zM14 367h1v7h-1zM32 367h1v7h-1zM47 367h1v7h-1zM57 367h1v7h-1zM65 367h1v7h-1zM70 367h1v7h-1zM95 367h1v7h-1zM109 367h1v7h-1zM131 367h1v7h-1zM138 367h1v7h-1zM5 374h1v8h-1zM20 374h1v8h-1zM27 374h1v8h-1zM56 374h1v8h-1zM63 374h1v8h-1zM67 374h1v8h-1zM72 374h1v8h-1zM87 374h1v8h-1zM88 374h1v8h-1zM93 374h1v8h-1zM112 374h1v8h-1zM117 374h1v8h-1zM128 374h1v8h-1zM134 374h1v8h-1zM1 382h1v8h-1zM12 382h1v8h-1zM23 382h1v8h-1zM24 382h1v8h-1zM27 382h1v8h-1zM57 382h1v8h-1zM60 382h1v8h-1zM94 382h1v8h-1zM108 382h1v8h-1zM135 382h1v8h-1zM136 382h1v8h-1zM8 390h1v7h-1zM10 390h1v7h-1zM15 390h1v7h-1zM43 390h1v7h-1zM52 390h1v7h-1zM88 390h1v7h-1zM130 390h1v7h-1zM10 397h1v8h-1zM19 397h1v8h-1zM21 397h1v8h-1zM23 397h1v8h-1zM25 397h1v8h-1zM39 397h1v8h-1zM47 397h1v8h-1zM52 397h1v8h-1zM69 397h1v8h-1zM81 397h1v8h-1zM98 397h1v8h-1zM116 397h1v8h-1zM123 397h1v8h-1zM128 397h1v8h-1zM2 405h1v8h-1zM10 405h1v8h-1zM36 405h1v8h-1zM40 405h1v8h-1zM41 405h1v8h-1zM45 405h1v8h-1zM51 405h1v8h-1zM55 405h1v8h-1zM59 405h1v8h-1zM79 405h1v8h-1zM83 405h1v8h-1zM84 405h1v8h-1zM107 405h1v8h-1zM109 405h1v8h-1zM110 405h1v8h-1zM114 405h1v8h-1zM128 405h1v8h-1zM0 413h1v7h-1zM4 413h1v7h-1zM12 413h1v7h-1zM16 413h1v7h-1zM17 413h1v7h-1zM24 413h1v7h-1zM43 413h1v7h-1zM44 413h1v7h-1zM66 413h1v7h-1zM92 413h1v7h-1zM97 413h1v7h-1zM99 413h1v7h-1zM124 413h1v7h-1zM126 413h1v7h-1zM132 413h1v7h-1zM0 420h1v8h-1zM8 420h1v8h-1zM40 420h1v8h-1zM49 420h1v8h-1zM92 420h1v8h-1zM102 420h1v8h-1zM106 420h1v8h-1zM111 420h1v8h-1zM125 420h1v8h-1zM5 428h1v8h-1zM6 428h1v8h-1zM12 428h1v8h-1zM16 428h1v8h-1zM25 428h1v8h-1zM28 428h1v8h-1zM32 428h1v8h-1zM33 428h1v8h-1zM37 428h1v8h-1zM48 428h1v8h-1zM50 428h1v8h-1zM58 428h1v8h-1zM59 428h1v8h-1zM68 428h1v8h-1zM69 428h1v8h-1zM95 428h1v8h-1zM101 428h1v8h-1zM113 428h1v8h-1zM17 436h1v7h-1zM18 436h1v7h-1zM22 436h1v7h-1zM25 436h1v7h-1zM27 436h1v7h-1zM32 436h1v7h-1zM73 436h1v7h-1zM98 436h1v7h-1zM109 436h1v7h-1zM110 436h1v7h-1zM135 436h1v7h-1zM1 443h1v8h-1zM7 443h1v8h-1zM15 443h1v8h-1zM20 443h1v8h-1zM28 443h1v8h-1zM42 443h1v8h-1zM45 443h1v8h-1zM59 443h1v8h-1zM62 443h1v8h-1zM78 443h1v8h-1zM79 443h1v8h-1zM93 443h1v8h-1zM95 443h1v8h-1zM102 443h1v8h-1zM111 443h1v8h-1zM127 443h1v8h-1zM37 451h1v7h-1zM39 451h1v7h-1zM52 451h1v7h-1zM57 451h1v7h-1zM69 451h1v7h-1zM81 451h1v7h-1zM90 451h1v7h-1zM105 451h1v7h-1zM113 451h1v7h-1zM114 451h1v7h-1zM124 451h1v7h-1zM135 451h1v7h-1zM5 458h1v8h-1zM6 458h1v8h-1zM10 458h1v8h-1zM12 458h1v8h-1zM20 458h1v8h-1zM22 458h1v8h-1zM38 458h1v8h-1zM58 458h1v8h-1zM63 458h1v8h-1zM65 458h1v8h-1zM71 458h1v8h-1zM72 458h1v8h-1zM77 458h1v8h-1zM94 458h1v8h-1zM103 458h1v8h-1zM116 458h1v8h-1zM122 458h1v8h-1zM125 458h1v8h-1zM127 458h1v8h-1zM128 458h1v8h-1zM129 458h1v8h-1zM132 458h1v8h-1zM136 458h1v8h-1zM12 466h1v8h-1zM15 466h1v8h-1zM18 466h1v8h-1zM28 466h1v8h-1zM42 466h1v8h-1zM49 466h1v8h-1zM59 466h1v8h-1zM62 466h1v8h-1zM81 466h1v8h-1zM84 466h1v8h-1zM98 466h1v8h-1zM109 466h1v8h-1zM1 474h1v7h-1zM3 474h1v7h-1zM11 474h1v7h-1zM12 474h1v7h-1zM34 474h1v7h-1zM35 474h1v7h-1zM51 474h1v7h-1zM54 474h1v7h-1zM67 474h1v7h-1zM86 474h1v7h-1zM90 474h1v7h-1zM95 474h1v7h-1zM105 474h1v7h-1zM132 474h1v7h-1zM12 481h1v8h-1zM16 481h1v8h-1zM24 481h1v8h-1zM25 481h1v8h-1zM33 481h1v8h-1zM61 481h1v8h-1zM64 481h1v8h-1zM87 481h1v8h-1zM92 481h1v8h-1zM96 481h1v8h-1zM100 481h1v8h-1zM101 481h1v8h-1zM104 481h1v8h-1zM111 481h1v8h-1zM121 481h1v8h-1zM131 481h1v8h-1zM132 481h1v8h-1zM136 481h1v8h-1z"/><path fill="#fff" fill-opacity="0.0469" d="M6 0h1v8h-1zM8 0h1v8h-1zM28 0h1v8h-1zM39 0h1v8h-1zM45 0h1v8h-1zM55 0h1v8h-1zM66 0h1v8h-1zM71 0h1v8h-1zM78 0h1v8h-1zM83 0h1v8h-1zM88 0h1v8h-1zM98 0h1v8h-1zM103 0h1v8h-1zM118 0h1v8h-1zM122 0h1v8h-1zM123 0h1v8h-1zM135 0h1v8h-1zM0 8h1v7h-1zM14 8h1v7h-1zM25 8h1v7h-1zM31 8h1v7h-1zM38 8h1v7h-1zM62 8h1v7h-1zM81 8h1v7h-1zM102 8h1v7h-1zM120 8h1v7h-1zM128 8h1v7h-1zM15 15h1v8h-1zM16 15h1v8h-1zM19 15h1v8h-1zM35 15h1v8h-1zM50 15h1v8h-1zM55 15h1v8h-1zM62 15h1v8h-1zM74 15h1v8h-1zM103 15h1v8h-1zM115 15h1v8h-1zM123 15h1v8h-1zM133 15h1v8h-1zM135 15h1v8h-1zM4 23h1v8h-1zM10 23h1v8h-1zM11 23h1v8h-1zM13 23h1v8h-1zM32 23h1v8h-1zM38 23h1v8h-1zM101 23h1v8h-1zM103 23h1v8h-1zM109 23h1v8h-1zM111 23h1v8h-1zM123 23h1v8h-1zM13 31h1v7h-1zM17 31h1v7h-1zM38 31h1v7h-1zM86 31h1v7h-1zM92 31h1v7h-1zM107 31h1v7h-1zM125 31h1v7h-1zM24 38h1v8h-1zM31 38h1v8h-1zM33 38h1v8h-1zM58 38h1v8h-1zM64 38h1v8h-1zM66 38h1v8h-1zM94 38h1v8h-1zM125 38h1v8h-1zM126 38h1v8h-1zM130 38h1v8h-1zM11 46h1v7h-1zM20 46h1v7h-1zM28 46h1v7h-1zM34 46h1v7h-1zM67 46h1v7h-1zM84 46h1v7h-1zM97 46h1v7h-1zM98 46h1v7h-1zM108 46h1v7h-1zM119 46h1v7h-1zM14 53h1v8h-1zM15 53h1v8h-1zM16 53h1v8h-1zM64 53h1v8h-1zM77 53h1v8h-1zM80 53h1v8h-1zM113 53h1v8h-1zM118 53h1v8h-1zM129 53h1v8h-1zM138 53h1v8h-1zM0 61h1v8h-1zM27 61h1v8h-1zM38 61h1v8h-1zM83 61h1v8h-1zM84 61h1v8h-1zM87 61h1v8h-1zM94 61h1v8h-1zM106 61h1v8h-1zM121 61h1v8h-1zM137 61h1v8h-1zM8 69h1v7h-1zM23 69h1v7h-1zM26 69h1v7h-1zM28 69h1v7h-1zM35 69h1v7h-1zM40 69h1v7h-1zM44 69h1v7h-1zM54 69h1v7h-1zM64 69h1v7h-1zM71 69h1v7h-1zM82 69h1v7h-1zM85 69h1v7h-1zM100 69h1v7h-1zM101 69h1v7h-1zM102 69h1v7h-1zM119 69h1v7h-1zM121 69h1v7h-1zM125 69h1v7h-1zM126 69h1v7h-1zM5 76h1v8h-1zM22 76h1v8h-1zM29 76h1v8h-1zM30 76h1v8h-1zM49 76h1v8h-1zM57 76h1v8h-1zM60 76h1v8h-1zM65 76h1v8h-1zM114 76h1v8h-1zM127 76h1v8h-1zM133 76h1v8h-1zM10 84h1v8h-1zM13 84h1v8h-1zM15 84h1v8h-1zM86 84h1v8h-1zM113 84h1v8h-1zM116 84h1v8h-1zM8 92h1v7h-1zM12 92h1v7h-1zM26 92h1v7h-1zM56 92h1v7h-1zM58 92h1v7h-1zM59 92h1v7h-1zM68 92h1v7h-1zM76 92h1v7h-1zM107 92h1v7h-1zM137 92h1v7h-1zM4 99h1v8h-1zM22 99h1v8h-1zM28 99h1v8h-1zM45 99h1v8h-1zM60 99h1v8h-1zM105 99h1v8h-1zM107 99h1v8h-1zM110 99h1v8h-1zM127 99h1v8h-1zM131 99h1v8h-1zM137 99h1v8h-1zM11 107h1v8h-1zM14 107h1v8h-1zM37 107h1v8h-1zM67 107h1v8h-1zM73 107h1v8h-1zM79 107h1v8h-1zM83 107h1v8h-1zM84 107h1v8h-1zM100 107h1v8h-1zM123 107h1v8h-1zM125 107h1v8h-1zM25 115h1v7h-1zM31 115h1v7h-1zM65 115h1v7h-1zM75 115h1v7h-1zM77 115h1v7h-1zM97 115h1v7h-1zM15 122h1v8h-1zM26 122h1v8h-1zM46 122h1v8h-1zM55 122h1v8h-1zM58 122h1v8h-1zM89 122h1v8h-1zM99 122h1v8h-1zM128 122h1v8h-1zM11 130h1v8h-1zM21 130h1v8h-1zM29 130h1v8h-1zM40 130h1v8h-1zM92 130h1v8h-1zM95 130h1v8h-1zM96 130h1v8h-1zM101 130h1v8h-1zM128 130h1v8h-1zM14 138h1v7h-1zM19 138h1v7h-1zM29 138h1v7h-1zM40 138h1v7h-1zM47 138h1v7h-1zM54 138h1v7h-1zM58 138h1v7h-1zM59 138h1v7h-1zM68 138h1v7h-1zM81 138h1v7h-1zM105 138h1v7h-1zM109 138h1v7h-1zM0 145h1v8h-1zM1 145h1v8h-1zM7 145h1v8h-1zM13 145h1v8h-1zM42 145h1v8h-1zM58 145h1v8h-1zM109 145h1v8h-1zM119 145h1v8h-1zM11 153h1v7h-1zM26 153h1v7h-1zM70 153h1v7h-1zM84 153h1v7h-1zM95 153h1v7h-1zM107 153h1v7h-1zM114 153h1v7h-1zM118 153h1v7h-1zM135 153h1v7h-1zM6 160h1v8h-1zM7 160h1v8h-1zM9 160h1v8h-1zM32 160h1v8h-1zM33 160h1v8h-1zM34 160h1v8h-1zM35 160h1v8h-1zM43 160h1v8h-1zM53 160h1v8h-1zM80 160h1v8h-1zM85 160h1v8h-1zM97 160h1v8h-1zM102 160h1v8h-1zM123 160h1v8h-1zM133 160h1v8h-1zM4 168h1v8h-1zM11 168h1v8h-1zM28 168h1v8h-1zM39 168h1v8h-1zM66 168h1v8h-1zM68 168h1v8h-1zM96 168h1v8h-1zM100 168h1v8h-1zM111 168h1v8h-1zM116 168h1v8h-1zM136 168h1v8h-1zM15 176h1v7h-1zM23 176h1v7h-1zM46 176h1v7h-1zM48 176h1v7h-1zM68 176h1v7h-1zM77 176h1v7h-1zM93 176h1v7h-1zM120 176h1v7h-1zM121 176h1v7h-1zM127 176h1v7h-1zM1 183h1v8h-1zM2 183h1v8h-1zM7 183h1v8h-1zM22 183h1v8h-1zM23 183h1v8h-1zM24 183h1v8h-1zM48 183h1v8h-1zM74 183h1v8h-1zM75 183h1v8h-1zM82 183h1v8h-1zM94 183h1v8h-1zM122 183h1v8h-1zM135 183h1v8h-1zM6 191h1v8h-1zM8 191h1v8h-1zM10 191h1v8h-1zM11 191h1v8h-1zM19 191h1v8h-1zM27 191h1v8h-1zM32 191h1v8h-1zM34 191h1v8h-1zM35 191h1v8h-1zM38 191h1v8h-1zM41 191h1v8h-1zM42 191h1v8h-1zM61 191h1v8h-1zM81 191h1v8h-1zM86 191h1v8h-1zM96 191h1v8h-1zM108 191h1v8h-1zM134 191h1v8h-1zM9 199h1v7h-1zM22 199h1v7h-1zM36 199h1v7h-1zM46 199h1v7h-1zM59 199h1v7h-1zM78 199h1v7h-1zM82 199h1v7h-1zM87 199h1v7h-1zM96 199h1v7h-1zM98 199h1v7h-1zM116 199h1v7h-1zM137 199h1v7h-1zM15 206h1v8h-1zM27 206h1v8h-1zM42 206h1v8h-1zM71 206h1v8h-1zM73 206h1v8h-1zM74 206h1v8h-1zM93 206h1v8h-1zM99 206h1v8h-1zM113 206h1v8h-1zM127 206h1v8h-1zM18 214h1v8h-1zM46 214h1v8h-1zM54 214h1v8h-1zM62 214h1v8h-1zM63 214h1v8h-1zM73 214h1v8h-1zM74 214h1v8h-1zM79 214h1v8h-1zM84 214h1v8h-1zM87 214h1v8h-1zM132 214h1v8h-1zM133 214h1v8h-1zM13 222h1v7h-1zM27 222h1v7h-1zM38 222h1v7h-1zM42 222h1v7h-1zM48 222h1v7h-1zM72 222h1v7h-1zM87 222h1v7h-1zM95 222h1v7h-1zM105 222h1v7h-1zM116 222h1v7h-1zM3 229h1v8h-1zM5 229h1v8h-1zM14 229h1v8h-1zM19 229h1v8h-1zM21 229h1v8h-1zM24 229h1v8h-1zM29 229h1v8h-1zM36 229h1v8h-1zM64 229h1v8h-1zM87 229h1v8h-1zM101 229h1v8h-1zM102 229h1v8h-1zM120 229h1v8h-1zM121 229h1v8h-1zM125 229h1v8h-1zM11 237h1v7h-1zM19 237h1v7h-1zM27 237h1v7h-1zM47 237h1v7h-1zM58 237h1v7h-1zM61 237h1v7h-1zM74 237h1v7h-1zM80 237h1v7h-1zM98 237h1v7h-1zM100 237h1v7h-1zM110 237h1v7h-1zM1 244h1v8h-1zM5 244h1v8h-1zM19 244h1v8h-1zM49 244h1v8h-1zM50 244h1v8h-1zM60 244h1v8h-1zM68 244h1v8h-1zM107 244h1v8h-1zM111 244h1v8h-1zM131 244h1v8h-1zM132 244h1v8h-1zM134 244h1v8h-1zM38 252h1v8h-1zM49 252h1v8h-1zM54 252h1v8h-1zM86 252h1v8h-1zM95 252h1v8h-1zM102 252h1v8h-1zM110 252h1v8h-1zM118 252h1v8h-1zM120 252h1v8h-1zM0 260h1v7h-1zM4 260h1v7h-1zM8 260h1v7h-1zM18 260h1v7h-1zM35 260h1v7h-1zM54 260h1v7h-1zM56 260h1v7h-1zM59 260h1v7h-1zM62 260h1v7h-1zM78 260h1v7h-1zM107 260h1v7h-1zM122 260h1v7h-1zM11 267h1v8h-1zM25 267h1v8h-1zM50 267h1v8h-1zM67 267h1v8h-1zM92 267h1v8h-1zM95 267h1v8h-1zM101 267h1v8h-1zM111 267h1v8h-1zM128 267h1v8h-1zM0 275h1v8h-1zM10 275h1v8h-1zM24 275h1v8h-1zM38 275h1v8h-1zM40 275h1v8h-1zM58 275h1v8h-1zM62 275h1v8h-1zM65 275h1v8h-1zM79 275h1v8h-1zM87 275h1v8h-1zM110 275h1v8h-1zM117 275h1v8h-1zM132 275h1v8h-1zM12 283h1v7h-1zM25 283h1v7h-1zM29 283h1v7h-1zM30 283h1v7h-1zM58 283h1v7h-1zM67 283h1v7h-1zM76 283h1v7h-1zM77 283h1v7h-1zM83 283h1v7h-1zM85 283h1v7h-1zM88 283h1v7h-1zM96 283h1v7h-1zM118 283h1v7h-1zM122 283h1v7h-1zM135 283h1v7h-1zM9 290h1v8h-1zM22 290h1v8h-1zM24 290h1v8h-1zM43 290h1v8h-1zM52 290h1v8h-1zM59 290h1v8h-1zM70 290h1v8h-1zM96 290h1v8h-1zM97 290h1v8h-1zM113 290h1v8h-1zM122 290h1v8h-1zM124 290h1v8h-1zM132 290h1v8h-1zM7 298h1v8h-1zM79 298h1v8h-1zM107 298h1v8h-1zM118 298h1v8h-1zM130 298h1v8h-1zM131 298h1v8h-1zM138 298h1v8h-1zM51 306h1v7h-1zM56 306h1v7h-1zM67 306h1v7h-1zM69 306h1v7h-1zM95 306h1v7h-1zM96 306h1v7h-1zM103 306h1v7h-1zM107 306h1v7h-1zM125 306h1v7h-1zM21 313h1v8h-1zM40 313h1v8h-1zM49 313h1v8h-1zM50 313h1v8h-1zM90 313h1v8h-1zM112 313h1v8h-1zM117 313h1v8h-1zM118 313h1v8h-1zM119 313h1v8h-1zM120 313h1v8h-1zM125 313h1v8h-1zM0 321h1v8h-1zM6 321h1v8h-1zM24 321h1v8h-1zM50 321h1v8h-1zM63 321h1v8h-1zM65 321h1v8h-1zM72 321h1v8h-1zM84 321h1v8h-1zM91 321h1v8h-1zM108 321h1v8h-1zM125 321h1v8h-1zM126 321h1v8h-1zM9 329h1v7h-1zM14 329h1v7h-1zM19 329h1v7h-1zM26 329h1v7h-1zM35 329h1v7h-1zM64 329h1v7h-1zM72 329h1v7h-1zM73 329h1v7h-1zM101 329h1v7h-1zM113 329h1v7h-1zM116 329h1v7h-1zM122 329h1v7h-1zM125 329h1v7h-1zM5 336h1v8h-1zM8 336h1v8h-1zM14 336h1v8h-1zM30 336h1v8h-1zM45 336h1v8h-1zM50 336h1v8h-1zM52 336h1v8h-1zM68 336h1v8h-1zM74 336h1v8h-1zM96 336h1v8h-1zM111 336h1v8h-1zM119 336h1v8h-1zM120 336h1v8h-1zM134 336h1v8h-1zM138 336h1v8h-1zM38 344h1v7h-1zM75 344h1v7h-1zM86 344h1v7h-1zM118 344h1v7h-1zM28 351h1v8h-1zM32 351h1v8h-1zM43 351h1v8h-1zM49 351h1v8h-1zM53 351h1v8h-1zM88 351h1v8h-1zM96 351h1v8h-1zM101 351h1v8h-1zM116 351h1v8h-1zM122 351h1v8h-1zM124 351h1v8h-1zM129 351h1v8h-1zM136 351h1v8h-1zM9 359h1v8h-1zM54 359h1v8h-1zM60 359h1v8h-1zM76 359h1v8h-1zM98 359h1v8h-1zM105 359h1v8h-1zM106 359h1v8h-1zM132 359h1v8h-1zM138 359h1v8h-1zM13 367h1v7h-1zM23 367h1v7h-1zM24 367h1v7h-1zM42 367h1v7h-1zM51 367h1v7h-1zM73 367h1v7h-1zM74 367h1v7h-1zM76 367h1v7h-1zM113 367h1v7h-1zM126 367h1v7h-1zM19 374h1v8h-1zM34 374h1v8h-1zM41 374h1v8h-1zM44 374h1v8h-1zM48 374h1v8h-1zM62 374h1v8h-1zM65 374h1v8h-1zM69 374h1v8h-1zM70 374h1v8h-1zM80 374h1v8h-1zM89 374h1v8h-1zM90 374h1v8h-1zM111 374h1v8h-1zM115 374h1v8h-1zM123 374h1v8h-1zM125 374h1v8h-1zM0 382h1v8h-1zM63 382h1v8h-1zM89 382h1v8h-1zM90 382h1v8h-1zM93 382h1v8h-1zM95 382h1v8h-1zM100 382h1v8h-1zM101 382h1v8h-1zM109 382h1v8h-1zM117 382h1v8h-1zM120 382h1v8h-1zM130 382h1v8h-1zM0 390h1v7h-1zM3 390h1v7h-1zM7 390h1v7h-1zM21 390h1v7h-1zM28 390h1v7h-1zM57 390h1v7h-1zM61 390h1v7h-1zM67 390h1v7h-1zM75 390h1v7h-1zM93 390h1v7h-1zM114 390h1v7h-1zM119 390h1v7h-1zM122 390h1v7h-1zM134 390h1v7h-1zM15 397h1v8h-1zM30 397h1v8h-1zM34 397h1v8h-1zM50 397h1v8h-1zM51 397h1v8h-1zM53 397h1v8h-1zM54 397h1v8h-1zM59 397h1v8h-1zM80 397h1v8h-1zM92 397h1v8h-1zM93 397h1v8h-1zM0 405h1v8h-1zM18 405h1v8h-1zM21 405h1v8h-1zM30 405h1v8h-1zM34 405h1v8h-1zM44 405h1v8h-1zM50 405h1v8h-1zM65 405h1v8h-1zM70 405h1v8h-1zM82 405h1v8h-1zM85 405h1v8h-1zM86 405h1v8h-1zM103 405h1v8h-1zM127 405h1v8h-1zM129 405h1v8h-1zM135 405h1v8h-1zM136 405h1v8h-1zM8 413h1v7h-1zM10 413h1v7h-1zM14 413h1v7h-1zM18 413h1v7h-1zM62 413h1v7h-1zM65 413h1v7h-1zM71 413h1v7h-1zM78 413h1v7h-1zM82 413h1v7h-1zM83 413h1v7h-1zM85 413h1v7h-1zM91 413h1v7h-1zM107 413h1v7h-1zM110 413h1v7h-1zM130 413h1v7h-1zM3 420h1v8h-1zM7 420h1v8h-1zM21 420h1v8h-1zM31 420h1v8h-1zM33 420h1v8h-1zM36 420h1v8h-1zM44 420h1v8h-1zM73 420h1v8h-1zM79 420h1v8h-1zM95 420h1v8h-1zM133 420h1v8h-1zM38 428h1v8h-1zM45 428h1v8h-1zM49 428h1v8h-1zM57 428h1v8h-1zM102 428h1v8h-1zM114 428h1v8h-1zM10 436h1v7h-1zM13 436h1v7h-1zM33 436h1v7h-1zM39 436h1v7h-1zM43 436h1v7h-1zM45 436h1v7h-1zM59 436h1v7h-1zM63 436h1v7h-1zM70 436h1v7h-1zM72 436h1v7h-1zM75 436h1v7h-1zM83 436h1v7h-1zM103 436h1v7h-1zM129 436h1v7h-1zM130 436h1v7h-1zM9 443h1v8h-1zM17 443h1v8h-1zM18 443h1v8h-1zM22 443h1v8h-1zM27 443h1v8h-1zM29 443h1v8h-1zM30 443h1v8h-1zM35 443h1v8h-1zM51 443h1v8h-1zM52 443h1v8h-1zM57 443h1v8h-1zM64 443h1v8h-1zM65 443h1v8h-1zM69 443h1v8h-1zM80 443h1v8h-1zM81 443h1v8h-1zM83 443h1v8h-1zM128 443h1v8h-1zM130 443h1v8h-1zM133 443h1v8h-1zM135 443h1v8h-1zM3 451h1v7h-1zM6 451h1v7h-1zM7 451h1v7h-1zM19 451h1v7h-1zM46 451h1v7h-1zM47 451h1v7h-1zM76 451h1v7h-1zM80 451h1v7h-1zM94 451h1v7h-1zM98 451h1v7h-1zM100 451h1v7h-1zM103 451h1v7h-1zM127 451h1v7h-1zM130 451h1v7h-1zM1 458h1v8h-1zM24 458h1v8h-1zM25 458h1v8h-1zM26 458h1v8h-1zM32 458h1v8h-1zM37 458h1v8h-1zM45 458h1v8h-1zM80 458h1v8h-1zM93 458h1v8h-1zM95 458h1v8h-1zM110 458h1v8h-1zM115 458h1v8h-1zM130 458h1v8h-1zM137 458h1v8h-1zM13 466h1v8h-1zM29 466h1v8h-1zM33 466h1v8h-1zM44 466h1v8h-1zM50 466h1v8h-1zM60 466h1v8h-1zM82 466h1v8h-1zM100 466h1v8h-1zM107 466h1v8h-1zM114 466h1v8h-1zM117 466h1v8h-1zM2 474h1v7h-1zM4 474h1v7h-1zM14 474h1v7h-1zM17 474h1v7h-1zM39 474h1v7h-1zM40 474h1v7h-1zM42 474h1v7h-1zM52 474h1v7h-1zM61 474h1v7h-1zM65 474h1v7h-1zM80 474h1v7h-1zM85 474h1v7h-1zM88 474h1v7h-1zM91 474h1v7h-1zM93 474h1v7h-1zM98 474h1v7h-1zM110 474h1v7h-1zM131 474h1v7h-1zM138 474h1v7h-1zM32 481h1v8h-1zM41 481h1v8h-1zM62 481h1v8h-1zM65 481h1v8h-1zM76 481h1v8h-1zM95 481h1v8h-1zM125 481h1v8h-1z"/><path fill="#fff" fill-opacity="0.0625" d="M27 0h1v8h-1zM29 0h1v8h-1zM70 0h1v8h-1zM97 0h1v8h-1zM116 0h1v8h-1zM44 8h1v7h-1zM45 8h1v7h-1zM70 8h1v7h-1zM71 8h1v7h-1zM89 8h1v7h-1zM100 8h1v7h-1zM18 15h1v8h-1zM23 15h1v8h-1zM71 15h1v8h-1zM75 15h1v8h-1zM77 15h1v8h-1zM122 15h1v8h-1zM127 15h1v8h-1zM128 15h1v8h-1zM5 23h1v8h-1zM31 23h1v8h-1zM33 23h1v8h-1zM110 23h1v8h-1zM112 23h1v8h-1zM130 23h1v8h-1zM135 23h1v8h-1zM2 31h1v7h-1zM8 31h1v7h-1zM9 31h1v7h-1zM37 31h1v7h-1zM84 31h1v7h-1zM100 31h1v7h-1zM106 31h1v7h-1zM81 38h1v8h-1zM84 38h1v8h-1zM89 38h1v8h-1zM117 38h1v8h-1zM6 46h1v7h-1zM26 46h1v7h-1zM43 46h1v7h-1zM61 46h1v7h-1zM3 53h1v8h-1zM57 53h1v8h-1zM62 53h1v8h-1zM63 53h1v8h-1zM108 53h1v8h-1zM117 53h1v8h-1zM119 53h1v8h-1zM123 53h1v8h-1zM5 61h1v8h-1zM13 61h1v8h-1zM16 61h1v8h-1zM37 61h1v8h-1zM65 61h1v8h-1zM86 61h1v8h-1zM109 61h1v8h-1zM112 61h1v8h-1zM0 69h1v7h-1zM10 69h1v7h-1zM63 69h1v7h-1zM70 69h1v7h-1zM114 69h1v7h-1zM136 69h1v7h-1zM6 76h1v8h-1zM20 76h1v8h-1zM54 76h1v8h-1zM56 76h1v8h-1zM74 76h1v8h-1zM85 76h1v8h-1zM102 76h1v8h-1zM21 84h1v8h-1zM73 84h1v8h-1zM85 84h1v8h-1zM99 84h1v8h-1zM104 84h1v8h-1zM105 84h1v8h-1zM10 92h1v7h-1zM33 92h1v7h-1zM36 92h1v7h-1zM37 92h1v7h-1zM67 92h1v7h-1zM74 92h1v7h-1zM92 92h1v7h-1zM95 92h1v7h-1zM7 99h1v8h-1zM34 99h1v8h-1zM101 99h1v8h-1zM106 99h1v8h-1zM114 99h1v8h-1zM115 99h1v8h-1zM48 107h1v8h-1zM68 107h1v8h-1zM69 107h1v8h-1zM70 107h1v8h-1zM82 107h1v8h-1zM89 107h1v8h-1zM97 107h1v8h-1zM26 115h1v7h-1zM41 115h1v7h-1zM52 115h1v7h-1zM96 115h1v7h-1zM106 115h1v7h-1zM136 115h1v7h-1zM19 122h1v8h-1zM34 122h1v8h-1zM45 122h1v8h-1zM57 122h1v8h-1zM77 122h1v8h-1zM87 122h1v8h-1zM88 122h1v8h-1zM96 122h1v8h-1zM97 122h1v8h-1zM102 122h1v8h-1zM118 122h1v8h-1zM9 130h1v8h-1zM10 130h1v8h-1zM23 130h1v8h-1zM61 130h1v8h-1zM62 130h1v8h-1zM64 130h1v8h-1zM68 130h1v8h-1zM91 130h1v8h-1zM114 130h1v8h-1zM119 130h1v8h-1zM135 130h1v8h-1zM48 138h1v7h-1zM53 138h1v7h-1zM70 138h1v7h-1zM79 138h1v7h-1zM80 138h1v7h-1zM92 138h1v7h-1zM94 138h1v7h-1zM95 138h1v7h-1zM98 138h1v7h-1zM106 138h1v7h-1zM116 138h1v7h-1zM119 138h1v7h-1zM121 138h1v7h-1zM134 138h1v7h-1zM5 145h1v8h-1zM6 145h1v8h-1zM8 145h1v8h-1zM10 145h1v8h-1zM47 145h1v8h-1zM60 145h1v8h-1zM78 145h1v8h-1zM5 153h1v7h-1zM6 153h1v7h-1zM18 153h1v7h-1zM91 153h1v7h-1zM93 153h1v7h-1zM98 153h1v7h-1zM102 153h1v7h-1zM115 153h1v7h-1zM116 153h1v7h-1zM127 153h1v7h-1zM14 160h1v8h-1zM28 160h1v8h-1zM31 160h1v8h-1zM37 160h1v8h-1zM114 160h1v8h-1zM27 168h1v8h-1zM56 168h1v8h-1zM91 168h1v8h-1zM122 168h1v8h-1zM6 176h1v7h-1zM8 176h1v7h-1zM45 176h1v7h-1zM66 176h1v7h-1zM67 176h1v7h-1zM100 176h1v7h-1zM107 176h1v7h-1zM119 176h1v7h-1zM122 176h1v7h-1zM130 176h1v7h-1zM131 176h1v7h-1zM3 183h1v8h-1zM21 183h1v8h-1zM37 183h1v8h-1zM71 183h1v8h-1zM72 183h1v8h-1zM78 183h1v8h-1zM114 183h1v8h-1zM33 191h1v8h-1zM39 191h1v8h-1zM54 191h1v8h-1zM56 191h1v8h-1zM70 191h1v8h-1zM5 199h1v7h-1zM8 199h1v7h-1zM49 199h1v7h-1zM52 199h1v7h-1zM86 199h1v7h-1zM100 199h1v7h-1zM102 199h1v7h-1zM135 199h1v7h-1zM1 206h1v8h-1zM16 206h1v8h-1zM17 206h1v8h-1zM22 206h1v8h-1zM31 206h1v8h-1zM54 206h1v8h-1zM90 206h1v8h-1zM100 206h1v8h-1zM123 206h1v8h-1zM128 206h1v8h-1zM130 206h1v8h-1zM68 214h1v8h-1zM85 214h1v8h-1zM104 214h1v8h-1zM39 222h1v7h-1zM77 222h1v7h-1zM83 222h1v7h-1zM102 222h1v7h-1zM128 222h1v7h-1zM22 229h1v8h-1zM55 229h1v8h-1zM77 229h1v8h-1zM86 229h1v8h-1zM98 229h1v8h-1zM122 229h1v8h-1zM133 229h1v8h-1zM2 237h1v7h-1zM18 237h1v7h-1zM22 237h1v7h-1zM42 237h1v7h-1zM77 237h1v7h-1zM4 244h1v8h-1zM12 244h1v8h-1zM31 244h1v8h-1zM62 244h1v8h-1zM80 244h1v8h-1zM102 244h1v8h-1zM106 244h1v8h-1zM137 244h1v8h-1zM11 252h1v8h-1zM13 252h1v8h-1zM26 252h1v8h-1zM40 252h1v8h-1zM43 252h1v8h-1zM23 260h1v7h-1zM28 260h1v7h-1zM38 260h1v7h-1zM49 260h1v7h-1zM53 260h1v7h-1zM66 260h1v7h-1zM70 260h1v7h-1zM91 260h1v7h-1zM95 260h1v7h-1zM108 260h1v7h-1zM132 260h1v7h-1zM0 267h1v8h-1zM7 267h1v8h-1zM14 267h1v8h-1zM16 267h1v8h-1zM17 267h1v8h-1zM23 267h1v8h-1zM78 267h1v8h-1zM86 267h1v8h-1zM103 267h1v8h-1zM109 267h1v8h-1zM120 267h1v8h-1zM138 267h1v8h-1zM13 275h1v8h-1zM72 275h1v8h-1zM116 275h1v8h-1zM126 275h1v8h-1zM135 275h1v8h-1zM136 275h1v8h-1zM37 283h1v7h-1zM63 283h1v7h-1zM64 283h1v7h-1zM65 283h1v7h-1zM79 283h1v7h-1zM30 290h1v8h-1zM46 290h1v8h-1zM67 290h1v8h-1zM73 290h1v8h-1zM79 290h1v8h-1zM85 290h1v8h-1zM93 290h1v8h-1zM125 290h1v8h-1zM129 290h1v8h-1zM9 298h1v8h-1zM16 298h1v8h-1zM83 298h1v8h-1zM111 298h1v8h-1zM128 298h1v8h-1zM27 306h1v7h-1zM29 306h1v7h-1zM50 306h1v7h-1zM57 306h1v7h-1zM119 306h1v7h-1zM135 306h1v7h-1zM34 313h1v8h-1zM46 313h1v8h-1zM47 313h1v8h-1zM84 313h1v8h-1zM86 313h1v8h-1zM105 313h1v8h-1zM109 313h1v8h-1zM110 313h1v8h-1zM25 321h1v8h-1zM29 321h1v8h-1zM44 321h1v8h-1zM45 321h1v8h-1zM54 321h1v8h-1zM110 321h1v8h-1zM10 329h1v7h-1zM23 329h1v7h-1zM33 329h1v7h-1zM74 329h1v7h-1zM94 329h1v7h-1zM130 329h1v7h-1zM4 336h1v8h-1zM6 336h1v8h-1zM7 336h1v8h-1zM46 336h1v8h-1zM53 336h1v8h-1zM104 336h1v8h-1zM19 344h1v7h-1zM29 344h1v7h-1zM34 344h1v7h-1zM36 344h1v7h-1zM62 344h1v7h-1zM80 344h1v7h-1zM82 344h1v7h-1zM89 344h1v7h-1zM122 344h1v7h-1zM127 344h1v7h-1zM133 344h1v7h-1zM136 344h1v7h-1zM3 351h1v8h-1zM8 351h1v8h-1zM33 351h1v8h-1zM47 351h1v8h-1zM54 351h1v8h-1zM57 351h1v8h-1zM82 351h1v8h-1zM94 351h1v8h-1zM131 351h1v8h-1zM27 359h1v8h-1zM41 359h1v8h-1zM59 359h1v8h-1zM62 359h1v8h-1zM65 359h1v8h-1zM85 359h1v8h-1zM99 359h1v8h-1zM102 359h1v8h-1zM129 359h1v8h-1zM77 367h1v7h-1zM75 374h1v8h-1zM122 374h1v8h-1zM135 374h1v8h-1zM18 382h1v8h-1zM22 382h1v8h-1zM104 382h1v8h-1zM105 382h1v8h-1zM127 382h1v8h-1zM128 382h1v8h-1zM9 390h1v7h-1zM20 390h1v7h-1zM24 390h1v7h-1zM59 390h1v7h-1zM60 390h1v7h-1zM104 390h1v7h-1zM118 390h1v7h-1zM125 390h1v7h-1zM9 397h1v8h-1zM56 397h1v8h-1zM61 397h1v8h-1zM82 397h1v8h-1zM95 397h1v8h-1zM12 405h1v8h-1zM33 405h1v8h-1zM49 405h1v8h-1zM94 405h1v8h-1zM11 413h1v7h-1zM19 413h1v7h-1zM30 413h1v7h-1zM47 413h1v7h-1zM98 413h1v7h-1zM108 413h1v7h-1zM113 413h1v7h-1zM116 413h1v7h-1zM133 413h1v7h-1zM9 420h1v8h-1zM23 420h1v8h-1zM24 420h1v8h-1zM66 420h1v8h-1zM124 420h1v8h-1zM127 420h1v8h-1zM3 428h1v8h-1zM13 428h1v8h-1zM27 428h1v8h-1zM53 428h1v8h-1zM103 428h1v8h-1zM5 436h1v7h-1zM24 436h1v7h-1zM26 436h1v7h-1zM71 436h1v7h-1zM92 436h1v7h-1zM106 436h1v7h-1zM5 443h1v8h-1zM33 443h1v8h-1zM34 443h1v8h-1zM71 443h1v8h-1zM5 451h1v7h-1zM31 451h1v7h-1zM53 451h1v7h-1zM59 451h1v7h-1zM60 451h1v7h-1zM91 451h1v7h-1zM101 451h1v7h-1zM116 451h1v7h-1zM8 458h1v8h-1zM9 458h1v8h-1zM19 458h1v8h-1zM27 458h1v8h-1zM36 458h1v8h-1zM68 458h1v8h-1zM96 458h1v8h-1zM97 458h1v8h-1zM102 458h1v8h-1zM120 458h1v8h-1zM126 458h1v8h-1zM16 466h1v8h-1zM17 466h1v8h-1zM27 466h1v8h-1zM55 466h1v8h-1zM93 466h1v8h-1zM95 466h1v8h-1zM118 466h1v8h-1zM133 466h1v8h-1zM13 474h1v7h-1zM56 474h1v7h-1zM63 474h1v7h-1zM92 474h1v7h-1zM109 474h1v7h-1zM124 474h1v7h-1zM125 474h1v7h-1zM2 481h1v8h-1zM4 481h1v8h-1zM18 481h1v8h-1zM26 481h1v8h-1zM47 481h1v8h-1zM53 481h1v8h-1zM103 481h1v8h-1zM110 481h1v8h-1zM122 481h1v8h-1z"/><path fill="#fff" fill-opacity="0.0781" d="M56 0h1v8h-1zM82 0h1v8h-1zM110 0h1v8h-1zM3 8h1v7h-1zM26 8h1v7h-1zM63 8h1v7h-1zM68 8h1v7h-1zM79 8h1v7h-1zM82 8h1v7h-1zM83 8h1v7h-1zM103 8h1v7h-1zM117 8h1v7h-1zM26 15h1v8h-1zM49 15h1v8h-1zM54 15h1v8h-1zM70 15h1v8h-1zM126 15h1v8h-1zM51 23h1v8h-1zM52 23h1v8h-1zM18 31h1v7h-1zM80 31h1v7h-1zM126 31h1v7h-1zM132 31h1v7h-1zM18 38h1v8h-1zM35 38h1v8h-1zM87 38h1v8h-1zM114 38h1v8h-1zM33 46h1v7h-1zM76 46h1v7h-1zM133 53h1v8h-1zM137 53h1v8h-1zM67 61h1v8h-1zM70 61h1v8h-1zM9 69h1v7h-1zM36 69h1v7h-1zM59 69h1v7h-1zM122 69h1v7h-1zM123 69h1v7h-1zM13 76h1v8h-1zM14 76h1v8h-1zM17 76h1v8h-1zM21 76h1v8h-1zM44 76h1v8h-1zM58 76h1v8h-1zM61 76h1v8h-1zM71 76h1v8h-1zM119 76h1v8h-1zM78 84h1v8h-1zM114 84h1v8h-1zM121 84h1v8h-1zM126 84h1v8h-1zM25 92h1v7h-1zM49 92h1v7h-1zM6 99h1v8h-1zM20 99h1v8h-1zM30 99h1v8h-1zM42 99h1v8h-1zM66 99h1v8h-1zM96 99h1v8h-1zM126 99h1v8h-1zM46 107h1v8h-1zM109 107h1v8h-1zM120 107h1v8h-1zM90 115h1v7h-1zM129 115h1v7h-1zM130 115h1v7h-1zM135 115h1v7h-1zM4 122h1v8h-1zM7 122h1v8h-1zM35 122h1v8h-1zM100 122h1v8h-1zM106 122h1v8h-1zM119 122h1v8h-1zM41 130h1v8h-1zM60 130h1v8h-1zM80 130h1v8h-1zM89 130h1v8h-1zM93 130h1v8h-1zM109 130h1v8h-1zM115 130h1v8h-1zM118 130h1v8h-1zM38 138h1v7h-1zM71 138h1v7h-1zM135 138h1v7h-1zM26 145h1v8h-1zM92 153h1v7h-1zM94 153h1v7h-1zM8 160h1v8h-1zM20 160h1v8h-1zM30 160h1v8h-1zM36 160h1v8h-1zM38 160h1v8h-1zM130 160h1v8h-1zM90 168h1v8h-1zM104 168h1v8h-1zM106 176h1v7h-1zM108 176h1v7h-1zM53 183h1v8h-1zM98 183h1v8h-1zM101 183h1v8h-1zM45 199h1v7h-1zM95 199h1v7h-1zM131 199h1v7h-1zM28 206h1v8h-1zM107 206h1v8h-1zM114 206h1v8h-1zM115 206h1v8h-1zM126 206h1v8h-1zM129 206h1v8h-1zM133 206h1v8h-1zM64 214h1v8h-1zM66 214h1v8h-1zM76 214h1v8h-1zM103 214h1v8h-1zM116 214h1v8h-1zM120 214h1v8h-1zM134 214h1v8h-1zM137 214h1v8h-1zM35 222h1v7h-1zM40 222h1v7h-1zM46 222h1v7h-1zM120 222h1v7h-1zM136 222h1v7h-1zM25 229h1v8h-1zM26 229h1v8h-1zM76 229h1v8h-1zM25 237h1v7h-1zM60 237h1v7h-1zM99 237h1v7h-1zM105 237h1v7h-1zM23 244h1v8h-1zM45 244h1v8h-1zM55 244h1v8h-1zM84 244h1v8h-1zM15 252h1v8h-1zM59 252h1v8h-1zM92 252h1v8h-1zM1 260h1v7h-1zM55 260h1v7h-1zM58 260h1v7h-1zM71 260h1v7h-1zM26 267h1v8h-1zM74 267h1v8h-1zM75 267h1v8h-1zM77 267h1v8h-1zM110 267h1v8h-1zM51 275h1v8h-1zM68 283h1v7h-1zM126 283h1v7h-1zM31 290h1v8h-1zM51 290h1v8h-1zM2 298h1v8h-1zM43 298h1v8h-1zM57 298h1v8h-1zM87 298h1v8h-1zM88 298h1v8h-1zM100 298h1v8h-1zM0 306h1v7h-1zM3 306h1v7h-1zM80 306h1v7h-1zM87 306h1v7h-1zM137 306h1v7h-1zM31 313h1v8h-1zM85 313h1v8h-1zM102 313h1v8h-1zM55 321h1v8h-1zM67 321h1v8h-1zM60 329h1v7h-1zM65 329h1v7h-1zM82 329h1v7h-1zM103 329h1v7h-1zM123 329h1v7h-1zM124 329h1v7h-1zM17 336h1v8h-1zM62 336h1v8h-1zM79 336h1v8h-1zM83 336h1v8h-1zM1 344h1v7h-1zM27 344h1v7h-1zM52 344h1v7h-1zM81 344h1v7h-1zM103 344h1v7h-1zM128 344h1v7h-1zM131 344h1v7h-1zM7 351h1v8h-1zM27 351h1v8h-1zM56 351h1v8h-1zM78 351h1v8h-1zM35 359h1v8h-1zM50 359h1v8h-1zM51 359h1v8h-1zM55 359h1v8h-1zM61 359h1v8h-1zM82 359h1v8h-1zM84 359h1v8h-1zM104 359h1v8h-1zM7 367h1v7h-1zM28 367h1v7h-1zM72 367h1v7h-1zM81 367h1v7h-1zM101 367h1v7h-1zM102 367h1v7h-1zM110 367h1v7h-1zM111 367h1v7h-1zM127 367h1v7h-1zM4 374h1v8h-1zM17 374h1v8h-1zM18 374h1v8h-1zM35 374h1v8h-1zM55 374h1v8h-1zM82 374h1v8h-1zM129 374h1v8h-1zM130 374h1v8h-1zM132 374h1v8h-1zM7 382h1v8h-1zM21 382h1v8h-1zM29 382h1v8h-1zM38 382h1v8h-1zM55 382h1v8h-1zM56 382h1v8h-1zM71 382h1v8h-1zM72 382h1v8h-1zM54 390h1v7h-1zM113 390h1v7h-1zM4 397h1v8h-1zM33 397h1v8h-1zM46 397h1v8h-1zM48 397h1v8h-1zM102 397h1v8h-1zM115 397h1v8h-1zM117 397h1v8h-1zM48 405h1v8h-1zM81 405h1v8h-1zM102 405h1v8h-1zM27 413h1v7h-1zM28 413h1v7h-1zM29 413h1v7h-1zM4 420h1v8h-1zM50 420h1v8h-1zM76 420h1v8h-1zM77 420h1v8h-1zM80 420h1v8h-1zM82 420h1v8h-1zM109 420h1v8h-1zM2 428h1v8h-1zM35 428h1v8h-1zM52 428h1v8h-1zM54 428h1v8h-1zM130 428h1v8h-1zM134 428h1v8h-1zM136 428h1v8h-1zM6 436h1v7h-1zM12 436h1v7h-1zM14 436h1v7h-1zM74 436h1v7h-1zM76 436h1v7h-1zM105 436h1v7h-1zM108 436h1v7h-1zM131 436h1v7h-1zM134 436h1v7h-1zM23 443h1v8h-1zM63 443h1v8h-1zM88 443h1v8h-1zM30 451h1v7h-1zM44 451h1v7h-1zM125 451h1v7h-1zM126 451h1v7h-1zM81 458h1v8h-1zM86 458h1v8h-1zM20 466h1v8h-1zM67 466h1v8h-1zM83 466h1v8h-1zM94 466h1v8h-1zM64 474h1v7h-1zM77 474h1v7h-1zM135 474h1v7h-1zM137 474h1v7h-1zM3 481h1v8h-1zM48 481h1v8h-1zM50 481h1v8h-1zM51 481h1v8h-1zM88 481h1v8h-1zM124 481h1v8h-1z"/><path fill="#fff" fill-opacity="0.0938" d="M134 0h1v8h-1zM13 8h1v7h-1zM104 8h1v7h-1zM32 15h1v8h-1zM48 15h1v8h-1zM63 15h1v8h-1zM76 15h1v8h-1zM138 15h1v8h-1zM99 23h1v8h-1zM120 23h1v8h-1zM131 23h1v8h-1zM11 31h1v7h-1zM47 31h1v7h-1zM20 38h1v8h-1zM120 38h1v8h-1zM7 46h1v7h-1zM65 46h1v7h-1zM29 53h1v8h-1zM71 53h1v8h-1zM114 53h1v8h-1zM132 53h1v8h-1zM12 61h1v8h-1zM51 61h1v8h-1zM66 61h1v8h-1zM71 61h1v8h-1zM61 69h1v7h-1zM62 69h1v7h-1zM65 69h1v7h-1zM0 76h1v8h-1zM77 76h1v8h-1zM75 84h1v8h-1zM106 84h1v8h-1zM125 84h1v8h-1zM131 84h1v8h-1zM93 92h1v7h-1zM108 92h1v7h-1zM136 92h1v7h-1zM0 99h1v8h-1zM1 99h1v8h-1zM5 99h1v8h-1zM113 99h1v8h-1zM71 115h1v7h-1zM85 122h1v8h-1zM38 145h1v8h-1zM88 145h1v8h-1zM95 145h1v8h-1zM117 153h1v7h-1zM133 153h1v7h-1zM138 153h1v7h-1zM3 160h1v8h-1zM4 160h1v8h-1zM47 160h1v8h-1zM94 160h1v8h-1zM95 160h1v8h-1zM116 160h1v8h-1zM42 176h1v7h-1zM47 176h1v7h-1zM92 176h1v7h-1zM11 183h1v8h-1zM14 183h1v8h-1zM61 183h1v8h-1zM7 191h1v8h-1zM14 191h1v8h-1zM55 191h1v8h-1zM67 191h1v8h-1zM120 191h1v8h-1zM29 199h1v7h-1zM97 199h1v7h-1zM113 199h1v7h-1zM3 206h1v8h-1zM9 206h1v8h-1zM94 206h1v8h-1zM112 206h1v8h-1zM131 206h1v8h-1zM33 222h1v7h-1zM121 222h1v7h-1zM34 229h1v8h-1zM35 229h1v8h-1zM54 229h1v8h-1zM60 229h1v8h-1zM26 237h1v7h-1zM129 237h1v7h-1zM137 237h1v7h-1zM10 244h1v8h-1zM11 244h1v8h-1zM32 244h1v8h-1zM44 244h1v8h-1zM77 244h1v8h-1zM83 244h1v8h-1zM14 252h1v8h-1zM29 252h1v8h-1zM45 252h1v8h-1zM120 260h1v7h-1zM128 260h1v7h-1zM18 267h1v8h-1zM117 267h1v8h-1zM21 275h1v8h-1zM53 275h1v8h-1zM55 275h1v8h-1zM108 283h1v7h-1zM17 290h1v8h-1zM21 290h1v8h-1zM71 290h1v8h-1zM115 290h1v8h-1zM76 298h1v8h-1zM77 298h1v8h-1zM23 306h1v7h-1zM34 306h1v7h-1zM86 306h1v7h-1zM138 306h1v7h-1zM97 313h1v8h-1zM27 321h1v8h-1zM36 321h1v8h-1zM52 321h1v8h-1zM56 321h1v8h-1zM15 329h1v7h-1zM22 329h1v7h-1zM100 329h1v7h-1zM34 336h1v8h-1zM26 344h1v7h-1zM88 344h1v7h-1zM95 344h1v7h-1zM60 351h1v8h-1zM91 351h1v8h-1zM93 351h1v8h-1zM72 359h1v8h-1zM130 359h1v8h-1zM49 367h1v7h-1zM50 367h1v7h-1zM83 374h1v8h-1zM91 374h1v8h-1zM42 382h1v8h-1zM37 390h1v7h-1zM48 390h1v7h-1zM55 390h1v7h-1zM126 390h1v7h-1zM24 397h1v8h-1zM55 397h1v8h-1zM108 397h1v8h-1zM29 405h1v8h-1zM38 405h1v8h-1zM66 405h1v8h-1zM74 405h1v8h-1zM84 413h1v7h-1zM134 413h1v7h-1zM122 420h1v8h-1zM14 428h1v8h-1zM34 428h1v8h-1zM55 428h1v8h-1zM56 428h1v8h-1zM67 428h1v8h-1zM128 428h1v8h-1zM88 436h1v7h-1zM107 436h1v7h-1zM14 443h1v8h-1zM66 443h1v8h-1zM45 451h1v7h-1zM50 451h1v7h-1zM131 451h1v7h-1zM18 458h1v8h-1zM131 458h1v8h-1zM22 474h1v7h-1zM107 474h1v7h-1zM120 474h1v7h-1zM17 481h1v8h-1zM82 481h1v8h-1z"/><path fill="#fff" fill-opacity="0.1094" d="M29 15h1v8h-1zM137 15h1v8h-1zM2 23h1v8h-1zM108 23h1v8h-1zM109 31h1v7h-1zM42 38h1v8h-1zM70 46h1v7h-1zM102 46h1v7h-1zM58 53h1v8h-1zM72 53h1v8h-1zM88 61h1v8h-1zM2 69h1v7h-1zM1 76h1v8h-1zM27 76h1v8h-1zM64 76h1v8h-1zM76 84h1v8h-1zM77 84h1v8h-1zM96 84h1v8h-1zM31 99h1v8h-1zM32 99h1v8h-1zM34 107h1v8h-1zM107 107h1v8h-1zM59 122h1v8h-1zM12 130h1v8h-1zM36 138h1v7h-1zM113 153h1v7h-1zM46 160h1v8h-1zM128 176h1v7h-1zM62 183h1v8h-1zM28 191h1v8h-1zM114 199h1v7h-1zM41 206h1v8h-1zM55 214h1v8h-1zM36 222h1v7h-1zM2 229h1v8h-1zM17 229h1v8h-1zM43 244h1v8h-1zM44 252h1v8h-1zM1 267h1v8h-1zM135 267h1v8h-1zM52 275h1v8h-1zM27 283h1v7h-1zM60 283h1v7h-1zM68 290h1v8h-1zM69 290h1v8h-1zM49 298h1v8h-1zM98 298h1v8h-1zM136 306h1v7h-1zM99 313h1v8h-1zM136 313h1v8h-1zM137 313h1v8h-1zM105 336h1v8h-1zM46 351h1v8h-1zM92 351h1v8h-1zM48 367h1v7h-1zM40 374h1v8h-1zM53 390h1v7h-1zM95 405h1v8h-1zM48 420h1v8h-1zM123 420h1v8h-1zM135 428h1v8h-1zM44 436h1v7h-1zM134 443h1v8h-1zM62 451h1v7h-1zM96 451h1v7h-1zM21 458h1v8h-1zM72 474h1v7h-1zM5 481h1v8h-1zM21 481h1v8h-1zM49 481h1v8h-1zM109 481h1v8h-1z"/><path fill="#fff" fill-opacity="0.1250" d="M47 8h1v7h-1zM50 31h1v7h-1zM30 38h1v8h-1zM95 38h1v8h-1zM121 38h1v8h-1zM34 53h1v8h-1zM66 92h1v7h-1zM102 92h1v7h-1zM33 99h1v8h-1zM43 99h1v8h-1zM5 160h1v8h-1zM27 160h1v8h-1zM110 168h1v8h-1zM75 176h1v7h-1zM105 191h1v8h-1zM98 206h1v8h-1zM100 260h1v7h-1zM51 267h1v8h-1zM23 275h1v8h-1zM70 275h1v8h-1zM100 321h1v8h-1zM90 351h1v8h-1zM124 359h1v8h-1zM136 374h1v8h-1zM122 397h1v8h-1zM75 420h1v8h-1zM89 436h1v7h-1zM70 443h1v8h-1zM104 451h1v7h-1zM68 466h1v8h-1z"/></pattern><pattern id="nzm" patternUnits="userSpaceOnUse" x="208" y="90" width="139" height="489"><path fill="#040404" d="M0 0h1v8h-1zM3 0h1v8h-1zM5 0h1v8h-1zM23 0h1v8h-1zM26 0h1v8h-1zM33 0h1v8h-1zM36 0h1v8h-1zM40 0h1v8h-1zM44 0h1v8h-1zM48 0h1v8h-1zM61 0h1v8h-1zM69 0h1v8h-1zM74 0h1v8h-1zM104 0h1v8h-1zM105 0h1v8h-1zM113 0h1v8h-1zM114 0h1v8h-1zM115 0h1v8h-1zM137 0h1v8h-1zM6 8h1v7h-1zM9 8h1v7h-1zM12 8h1v7h-1zM15 8h1v7h-1zM17 8h1v7h-1zM23 8h1v7h-1zM37 8h1v7h-1zM48 8h1v7h-1zM64 8h1v7h-1zM69 8h1v7h-1zM80 8h1v7h-1zM96 8h1v7h-1zM112 8h1v7h-1zM113 8h1v7h-1zM136 8h1v7h-1zM5 15h1v8h-1zM9 15h1v8h-1zM13 15h1v8h-1zM25 15h1v8h-1zM30 15h1v8h-1zM37 15h1v8h-1zM68 15h1v8h-1zM78 15h1v8h-1zM82 15h1v8h-1zM85 15h1v8h-1zM90 15h1v8h-1zM95 15h1v8h-1zM96 15h1v8h-1zM130 15h1v8h-1zM0 23h1v8h-1zM17 23h1v8h-1zM21 23h1v8h-1zM29 23h1v8h-1zM34 23h1v8h-1zM35 23h1v8h-1zM40 23h1v8h-1zM47 23h1v8h-1zM57 23h1v8h-1zM62 23h1v8h-1zM63 23h1v8h-1zM64 23h1v8h-1zM65 23h1v8h-1zM71 23h1v8h-1zM74 23h1v8h-1zM76 23h1v8h-1zM80 23h1v8h-1zM85 23h1v8h-1zM94 23h1v8h-1zM98 23h1v8h-1zM129 23h1v8h-1zM134 23h1v8h-1zM136 23h1v8h-1zM138 23h1v8h-1zM14 31h1v7h-1zM23 31h1v7h-1zM25 31h1v7h-1zM26 31h1v7h-1zM28 31h1v7h-1zM30 31h1v7h-1zM36 31h1v7h-1zM40 31h1v7h-1zM62 31h1v7h-1zM73 31h1v7h-1zM75 31h1v7h-1zM76 31h1v7h-1zM87 31h1v7h-1zM101 31h1v7h-1zM105 31h1v7h-1zM124 31h1v7h-1zM129 31h1v7h-1zM137 31h1v7h-1zM5 38h1v8h-1zM12 38h1v8h-1zM39 38h1v8h-1zM40 38h1v8h-1zM45 38h1v8h-1zM72 38h1v8h-1zM90 38h1v8h-1zM97 38h1v8h-1zM112 38h1v8h-1zM123 38h1v8h-1zM129 38h1v8h-1zM133 38h1v8h-1zM2 46h1v7h-1zM4 46h1v7h-1zM9 46h1v7h-1zM12 46h1v7h-1zM19 46h1v7h-1zM32 46h1v7h-1zM45 46h1v7h-1zM48 46h1v7h-1zM50 46h1v7h-1zM59 46h1v7h-1zM62 46h1v7h-1zM68 46h1v7h-1zM82 46h1v7h-1zM90 46h1v7h-1zM100 46h1v7h-1zM104 46h1v7h-1zM107 46h1v7h-1zM109 46h1v7h-1zM111 46h1v7h-1zM117 46h1v7h-1zM121 46h1v7h-1zM129 46h1v7h-1zM131 46h1v7h-1zM5 53h1v8h-1zM11 53h1v8h-1zM19 53h1v8h-1zM20 53h1v8h-1zM21 53h1v8h-1zM24 53h1v8h-1zM26 53h1v8h-1zM36 53h1v8h-1zM44 53h1v8h-1zM46 53h1v8h-1zM48 53h1v8h-1zM54 53h1v8h-1zM59 53h1v8h-1zM65 53h1v8h-1zM81 53h1v8h-1zM84 53h1v8h-1zM91 53h1v8h-1zM110 53h1v8h-1zM130 53h1v8h-1zM135 53h1v8h-1zM7 61h1v8h-1zM9 61h1v8h-1zM10 61h1v8h-1zM20 61h1v8h-1zM22 61h1v8h-1zM28 61h1v8h-1zM36 61h1v8h-1zM49 61h1v8h-1zM52 61h1v8h-1zM57 61h1v8h-1zM76 61h1v8h-1zM89 61h1v8h-1zM108 61h1v8h-1zM122 61h1v8h-1zM123 61h1v8h-1zM125 61h1v8h-1zM127 61h1v8h-1zM135 61h1v8h-1zM24 69h1v7h-1zM31 69h1v7h-1zM37 69h1v7h-1zM46 69h1v7h-1zM49 69h1v7h-1zM51 69h1v7h-1zM55 69h1v7h-1zM57 69h1v7h-1zM77 69h1v7h-1zM86 69h1v7h-1zM91 69h1v7h-1zM93 69h1v7h-1zM10 76h1v8h-1zM25 76h1v8h-1zM33 76h1v8h-1zM35 76h1v8h-1zM42 76h1v8h-1zM52 76h1v8h-1zM55 76h1v8h-1zM59 76h1v8h-1zM75 76h1v8h-1zM82 76h1v8h-1zM91 76h1v8h-1zM94 76h1v8h-1zM99 76h1v8h-1zM121 76h1v8h-1zM124 76h1v8h-1zM128 76h1v8h-1zM2 84h1v8h-1zM9 84h1v8h-1zM16 84h1v8h-1zM22 84h1v8h-1zM35 84h1v8h-1zM47 84h1v8h-1zM49 84h1v8h-1zM60 84h1v8h-1zM67 84h1v8h-1zM69 84h1v8h-1zM83 84h1v8h-1zM94 84h1v8h-1zM102 84h1v8h-1zM115 84h1v8h-1zM117 84h1v8h-1zM2 92h1v7h-1zM45 92h1v7h-1zM50 92h1v7h-1zM61 92h1v7h-1zM64 92h1v7h-1zM69 92h1v7h-1zM87 92h1v7h-1zM111 92h1v7h-1zM116 92h1v7h-1zM128 92h1v7h-1zM17 99h1v8h-1zM26 99h1v8h-1zM55 99h1v8h-1zM63 99h1v8h-1zM64 99h1v8h-1zM68 99h1v8h-1zM73 99h1v8h-1zM79 99h1v8h-1zM83 99h1v8h-1zM84 99h1v8h-1zM92 99h1v8h-1zM94 99h1v8h-1zM118 99h1v8h-1zM119 99h1v8h-1zM135 99h1v8h-1zM3 107h1v8h-1zM6 107h1v8h-1zM13 107h1v8h-1zM38 107h1v8h-1zM41 107h1v8h-1zM52 107h1v8h-1zM53 107h1v8h-1zM63 107h1v8h-1zM66 107h1v8h-1zM74 107h1v8h-1zM75 107h1v8h-1zM103 107h1v8h-1zM113 107h1v8h-1zM130 107h1v8h-1zM132 107h1v8h-1zM137 107h1v8h-1zM17 115h1v7h-1zM22 115h1v7h-1zM28 115h1v7h-1zM30 115h1v7h-1zM42 115h1v7h-1zM73 115h1v7h-1zM84 115h1v7h-1zM95 115h1v7h-1zM104 115h1v7h-1zM105 115h1v7h-1zM114 115h1v7h-1zM121 115h1v7h-1zM125 115h1v7h-1zM131 115h1v7h-1zM132 115h1v7h-1zM5 122h1v8h-1zM9 122h1v8h-1zM14 122h1v8h-1zM21 122h1v8h-1zM24 122h1v8h-1zM28 122h1v8h-1zM29 122h1v8h-1zM31 122h1v8h-1zM32 122h1v8h-1zM42 122h1v8h-1zM49 122h1v8h-1zM53 122h1v8h-1zM62 122h1v8h-1zM64 122h1v8h-1zM67 122h1v8h-1zM70 122h1v8h-1zM73 122h1v8h-1zM75 122h1v8h-1zM76 122h1v8h-1zM81 122h1v8h-1zM82 122h1v8h-1zM90 122h1v8h-1zM101 122h1v8h-1zM108 122h1v8h-1zM130 122h1v8h-1zM134 122h1v8h-1zM3 130h1v8h-1zM14 130h1v8h-1zM15 130h1v8h-1zM17 130h1v8h-1zM24 130h1v8h-1zM25 130h1v8h-1zM36 130h1v8h-1zM44 130h1v8h-1zM47 130h1v8h-1zM51 130h1v8h-1zM53 130h1v8h-1zM56 130h1v8h-1zM63 130h1v8h-1zM69 130h1v8h-1zM75 130h1v8h-1zM83 130h1v8h-1zM97 130h1v8h-1zM102 130h1v8h-1zM107 130h1v8h-1zM112 130h1v8h-1zM138 130h1v8h-1zM3 138h1v7h-1zM4 138h1v7h-1zM10 138h1v7h-1zM21 138h1v7h-1zM27 138h1v7h-1zM28 138h1v7h-1zM31 138h1v7h-1zM34 138h1v7h-1zM43 138h1v7h-1zM50 138h1v7h-1zM56 138h1v7h-1zM69 138h1v7h-1zM75 138h1v7h-1zM77 138h1v7h-1zM83 138h1v7h-1zM84 138h1v7h-1zM90 138h1v7h-1zM101 138h1v7h-1zM103 138h1v7h-1zM117 138h1v7h-1zM120 138h1v7h-1zM122 138h1v7h-1zM129 138h1v7h-1zM130 138h1v7h-1zM131 138h1v7h-1zM17 145h1v8h-1zM19 145h1v8h-1zM24 145h1v8h-1zM55 145h1v8h-1zM57 145h1v8h-1zM76 145h1v8h-1zM89 145h1v8h-1zM108 145h1v8h-1zM110 145h1v8h-1zM122 145h1v8h-1zM135 145h1v8h-1zM9 153h1v7h-1zM12 153h1v7h-1zM20 153h1v7h-1zM22 153h1v7h-1zM24 153h1v7h-1zM27 153h1v7h-1zM37 153h1v7h-1zM46 153h1v7h-1zM50 153h1v7h-1zM55 153h1v7h-1zM58 153h1v7h-1zM61 153h1v7h-1zM67 153h1v7h-1zM72 153h1v7h-1zM73 153h1v7h-1zM119 153h1v7h-1zM125 153h1v7h-1zM128 153h1v7h-1zM134 153h1v7h-1zM137 153h1v7h-1zM12 160h1v8h-1zM17 160h1v8h-1zM24 160h1v8h-1zM25 160h1v8h-1zM29 160h1v8h-1zM48 160h1v8h-1zM49 160h1v8h-1zM59 160h1v8h-1zM73 160h1v8h-1zM88 160h1v8h-1zM89 160h1v8h-1zM105 160h1v8h-1zM120 160h1v8h-1zM135 160h1v8h-1zM136 160h1v8h-1zM1 168h1v8h-1zM15 168h1v8h-1zM21 168h1v8h-1zM35 168h1v8h-1zM38 168h1v8h-1zM75 168h1v8h-1zM86 168h1v8h-1zM107 168h1v8h-1zM119 168h1v8h-1zM125 168h1v8h-1zM129 168h1v8h-1zM137 168h1v8h-1zM2 176h1v7h-1zM5 176h1v7h-1zM18 176h1v7h-1zM20 176h1v7h-1zM22 176h1v7h-1zM24 176h1v7h-1zM32 176h1v7h-1zM34 176h1v7h-1zM44 176h1v7h-1zM51 176h1v7h-1zM54 176h1v7h-1zM56 176h1v7h-1zM58 176h1v7h-1zM71 176h1v7h-1zM74 176h1v7h-1zM79 176h1v7h-1zM86 176h1v7h-1zM94 176h1v7h-1zM102 176h1v7h-1zM111 176h1v7h-1zM112 176h1v7h-1zM126 176h1v7h-1zM129 176h1v7h-1zM132 176h1v7h-1zM136 176h1v7h-1zM138 176h1v7h-1zM5 183h1v8h-1zM13 183h1v8h-1zM17 183h1v8h-1zM27 183h1v8h-1zM29 183h1v8h-1zM34 183h1v8h-1zM35 183h1v8h-1zM50 183h1v8h-1zM55 183h1v8h-1zM56 183h1v8h-1zM81 183h1v8h-1zM104 183h1v8h-1zM115 183h1v8h-1zM116 183h1v8h-1zM136 183h1v8h-1zM1 191h1v8h-1zM24 191h1v8h-1zM40 191h1v8h-1zM47 191h1v8h-1zM52 191h1v8h-1zM63 191h1v8h-1zM64 191h1v8h-1zM65 191h1v8h-1zM75 191h1v8h-1zM98 191h1v8h-1zM101 191h1v8h-1zM103 191h1v8h-1zM111 191h1v8h-1zM131 191h1v8h-1zM135 191h1v8h-1zM136 191h1v8h-1zM1 199h1v7h-1zM20 199h1v7h-1zM23 199h1v7h-1zM31 199h1v7h-1zM39 199h1v7h-1zM44 199h1v7h-1zM54 199h1v7h-1zM62 199h1v7h-1zM72 199h1v7h-1zM74 199h1v7h-1zM75 199h1v7h-1zM90 199h1v7h-1zM120 199h1v7h-1zM124 199h1v7h-1zM133 199h1v7h-1zM5 206h1v8h-1zM13 206h1v8h-1zM30 206h1v8h-1zM32 206h1v8h-1zM34 206h1v8h-1zM43 206h1v8h-1zM51 206h1v8h-1zM62 206h1v8h-1zM68 206h1v8h-1zM72 206h1v8h-1zM84 206h1v8h-1zM89 206h1v8h-1zM122 206h1v8h-1zM138 206h1v8h-1zM5 214h1v8h-1zM6 214h1v8h-1zM9 214h1v8h-1zM14 214h1v8h-1zM20 214h1v8h-1zM24 214h1v8h-1zM25 214h1v8h-1zM29 214h1v8h-1zM33 214h1v8h-1zM36 214h1v8h-1zM48 214h1v8h-1zM49 214h1v8h-1zM60 214h1v8h-1zM67 214h1v8h-1zM72 214h1v8h-1zM82 214h1v8h-1zM88 214h1v8h-1zM100 214h1v8h-1zM102 214h1v8h-1zM106 214h1v8h-1zM108 214h1v8h-1zM110 214h1v8h-1zM112 214h1v8h-1zM114 214h1v8h-1zM126 214h1v8h-1zM130 214h1v8h-1zM1 222h1v7h-1zM5 222h1v7h-1zM10 222h1v7h-1zM12 222h1v7h-1zM31 222h1v7h-1zM37 222h1v7h-1zM53 222h1v7h-1zM58 222h1v7h-1zM63 222h1v7h-1zM69 222h1v7h-1zM86 222h1v7h-1zM92 222h1v7h-1zM98 222h1v7h-1zM115 222h1v7h-1zM126 222h1v7h-1zM133 222h1v7h-1zM13 229h1v8h-1zM20 229h1v8h-1zM39 229h1v8h-1zM41 229h1v8h-1zM79 229h1v8h-1zM80 229h1v8h-1zM88 229h1v8h-1zM107 229h1v8h-1zM126 229h1v8h-1zM130 229h1v8h-1zM1 237h1v7h-1zM33 237h1v7h-1zM46 237h1v7h-1zM48 237h1v7h-1zM51 237h1v7h-1zM53 237h1v7h-1zM63 237h1v7h-1zM69 237h1v7h-1zM70 237h1v7h-1zM73 237h1v7h-1zM85 237h1v7h-1zM87 237h1v7h-1zM103 237h1v7h-1zM104 237h1v7h-1zM106 237h1v7h-1zM112 237h1v7h-1zM113 237h1v7h-1zM115 237h1v7h-1zM121 237h1v7h-1zM130 237h1v7h-1zM131 237h1v7h-1zM132 237h1v7h-1zM2 244h1v8h-1zM15 244h1v8h-1zM21 244h1v8h-1zM24 244h1v8h-1zM35 244h1v8h-1zM39 244h1v8h-1zM53 244h1v8h-1zM70 244h1v8h-1zM72 244h1v8h-1zM74 244h1v8h-1zM78 244h1v8h-1zM88 244h1v8h-1zM93 244h1v8h-1zM95 244h1v8h-1zM101 244h1v8h-1zM103 244h1v8h-1zM114 244h1v8h-1zM133 244h1v8h-1zM0 252h1v8h-1zM7 252h1v8h-1zM19 252h1v8h-1zM28 252h1v8h-1zM35 252h1v8h-1zM42 252h1v8h-1zM48 252h1v8h-1zM50 252h1v8h-1zM64 252h1v8h-1zM73 252h1v8h-1zM77 252h1v8h-1zM79 252h1v8h-1zM81 252h1v8h-1zM82 252h1v8h-1zM111 252h1v8h-1zM117 252h1v8h-1zM124 252h1v8h-1zM127 252h1v8h-1zM128 252h1v8h-1zM137 252h1v8h-1zM14 260h1v7h-1zM16 260h1v7h-1zM24 260h1v7h-1zM25 260h1v7h-1zM36 260h1v7h-1zM50 260h1v7h-1zM51 260h1v7h-1zM82 260h1v7h-1zM86 260h1v7h-1zM96 260h1v7h-1zM111 260h1v7h-1zM123 260h1v7h-1zM8 267h1v8h-1zM24 267h1v8h-1zM34 267h1v8h-1zM35 267h1v8h-1zM38 267h1v8h-1zM39 267h1v8h-1zM41 267h1v8h-1zM61 267h1v8h-1zM65 267h1v8h-1zM66 267h1v8h-1zM70 267h1v8h-1zM73 267h1v8h-1zM83 267h1v8h-1zM90 267h1v8h-1zM100 267h1v8h-1zM102 267h1v8h-1zM113 267h1v8h-1zM116 267h1v8h-1zM121 267h1v8h-1zM122 267h1v8h-1zM134 267h1v8h-1zM3 275h1v8h-1zM14 275h1v8h-1zM26 275h1v8h-1zM27 275h1v8h-1zM29 275h1v8h-1zM56 275h1v8h-1zM61 275h1v8h-1zM74 275h1v8h-1zM76 275h1v8h-1zM102 275h1v8h-1zM111 275h1v8h-1zM118 275h1v8h-1zM122 275h1v8h-1zM127 275h1v8h-1zM4 283h1v7h-1zM8 283h1v7h-1zM19 283h1v7h-1zM23 283h1v7h-1zM31 283h1v7h-1zM38 283h1v7h-1zM50 283h1v7h-1zM51 283h1v7h-1zM59 283h1v7h-1zM70 283h1v7h-1zM80 283h1v7h-1zM89 283h1v7h-1zM93 283h1v7h-1zM94 283h1v7h-1zM95 283h1v7h-1zM98 283h1v7h-1zM99 283h1v7h-1zM102 283h1v7h-1zM105 283h1v7h-1zM107 283h1v7h-1zM109 283h1v7h-1zM111 283h1v7h-1zM113 283h1v7h-1zM116 283h1v7h-1zM119 283h1v7h-1zM127 283h1v7h-1zM131 283h1v7h-1zM2 290h1v8h-1zM7 290h1v8h-1zM8 290h1v8h-1zM20 290h1v8h-1zM23 290h1v8h-1zM32 290h1v8h-1zM42 290h1v8h-1zM45 290h1v8h-1zM48 290h1v8h-1zM56 290h1v8h-1zM64 290h1v8h-1zM81 290h1v8h-1zM91 290h1v8h-1zM92 290h1v8h-1zM105 290h1v8h-1zM106 290h1v8h-1zM111 290h1v8h-1zM120 290h1v8h-1zM126 290h1v8h-1zM127 290h1v8h-1zM134 290h1v8h-1zM11 298h1v8h-1zM14 298h1v8h-1zM19 298h1v8h-1zM24 298h1v8h-1zM26 298h1v8h-1zM28 298h1v8h-1zM31 298h1v8h-1zM45 298h1v8h-1zM46 298h1v8h-1zM47 298h1v8h-1zM48 298h1v8h-1zM50 298h1v8h-1zM51 298h1v8h-1zM54 298h1v8h-1zM61 298h1v8h-1zM64 298h1v8h-1zM66 298h1v8h-1zM71 298h1v8h-1zM72 298h1v8h-1zM78 298h1v8h-1zM84 298h1v8h-1zM85 298h1v8h-1zM92 298h1v8h-1zM93 298h1v8h-1zM102 298h1v8h-1zM103 298h1v8h-1zM105 298h1v8h-1zM110 298h1v8h-1zM119 298h1v8h-1zM122 298h1v8h-1zM124 298h1v8h-1zM133 298h1v8h-1zM7 306h1v7h-1zM20 306h1v7h-1zM31 306h1v7h-1zM41 306h1v7h-1zM44 306h1v7h-1zM53 306h1v7h-1zM66 306h1v7h-1zM71 306h1v7h-1zM74 306h1v7h-1zM76 306h1v7h-1zM84 306h1v7h-1zM89 306h1v7h-1zM97 306h1v7h-1zM101 306h1v7h-1zM120 306h1v7h-1zM124 306h1v7h-1zM128 306h1v7h-1zM1 313h1v8h-1zM5 313h1v8h-1zM8 313h1v8h-1zM24 313h1v8h-1zM30 313h1v8h-1zM32 313h1v8h-1zM39 313h1v8h-1zM42 313h1v8h-1zM45 313h1v8h-1zM57 313h1v8h-1zM61 313h1v8h-1zM66 313h1v8h-1zM71 313h1v8h-1zM73 313h1v8h-1zM78 313h1v8h-1zM83 313h1v8h-1zM87 313h1v8h-1zM92 313h1v8h-1zM96 313h1v8h-1zM104 313h1v8h-1zM113 313h1v8h-1zM114 313h1v8h-1zM129 313h1v8h-1zM3 321h1v8h-1zM4 321h1v8h-1zM7 321h1v8h-1zM9 321h1v8h-1zM20 321h1v8h-1zM21 321h1v8h-1zM22 321h1v8h-1zM28 321h1v8h-1zM48 321h1v8h-1zM73 321h1v8h-1zM77 321h1v8h-1zM80 321h1v8h-1zM85 321h1v8h-1zM93 321h1v8h-1zM96 321h1v8h-1zM99 321h1v8h-1zM104 321h1v8h-1zM118 321h1v8h-1zM138 321h1v8h-1zM4 329h1v7h-1zM8 329h1v7h-1zM17 329h1v7h-1zM18 329h1v7h-1zM25 329h1v7h-1zM27 329h1v7h-1zM36 329h1v7h-1zM41 329h1v7h-1zM54 329h1v7h-1zM57 329h1v7h-1zM62 329h1v7h-1zM70 329h1v7h-1zM83 329h1v7h-1zM87 329h1v7h-1zM102 329h1v7h-1zM106 329h1v7h-1zM117 329h1v7h-1zM121 329h1v7h-1zM127 329h1v7h-1zM3 336h1v8h-1zM33 336h1v8h-1zM35 336h1v8h-1zM39 336h1v8h-1zM43 336h1v8h-1zM51 336h1v8h-1zM59 336h1v8h-1zM65 336h1v8h-1zM69 336h1v8h-1zM80 336h1v8h-1zM85 336h1v8h-1zM93 336h1v8h-1zM94 336h1v8h-1zM106 336h1v8h-1zM110 336h1v8h-1zM115 336h1v8h-1zM121 336h1v8h-1zM3 344h1v7h-1zM11 344h1v7h-1zM18 344h1v7h-1zM31 344h1v7h-1zM37 344h1v7h-1zM55 344h1v7h-1zM59 344h1v7h-1zM67 344h1v7h-1zM71 344h1v7h-1zM99 344h1v7h-1zM108 344h1v7h-1zM111 344h1v7h-1zM126 344h1v7h-1zM130 344h1v7h-1zM132 344h1v7h-1zM138 344h1v7h-1zM1 351h1v8h-1zM12 351h1v8h-1zM13 351h1v8h-1zM15 351h1v8h-1zM23 351h1v8h-1zM37 351h1v8h-1zM52 351h1v8h-1zM64 351h1v8h-1zM67 351h1v8h-1zM69 351h1v8h-1zM72 351h1v8h-1zM83 351h1v8h-1zM85 351h1v8h-1zM99 351h1v8h-1zM103 351h1v8h-1zM105 351h1v8h-1zM106 351h1v8h-1zM123 351h1v8h-1zM126 351h1v8h-1zM10 359h1v8h-1zM16 359h1v8h-1zM33 359h1v8h-1zM45 359h1v8h-1zM48 359h1v8h-1zM57 359h1v8h-1zM68 359h1v8h-1zM71 359h1v8h-1zM74 359h1v8h-1zM77 359h1v8h-1zM87 359h1v8h-1zM88 359h1v8h-1zM91 359h1v8h-1zM95 359h1v8h-1zM96 359h1v8h-1zM100 359h1v8h-1zM113 359h1v8h-1zM118 359h1v8h-1zM126 359h1v8h-1zM131 359h1v8h-1zM2 367h1v7h-1zM8 367h1v7h-1zM9 367h1v7h-1zM35 367h1v7h-1zM39 367h1v7h-1zM61 367h1v7h-1zM63 367h1v7h-1zM67 367h1v7h-1zM71 367h1v7h-1zM79 367h1v7h-1zM83 367h1v7h-1zM88 367h1v7h-1zM92 367h1v7h-1zM99 367h1v7h-1zM104 367h1v7h-1zM116 367h1v7h-1zM130 367h1v7h-1zM135 367h1v7h-1zM136 367h1v7h-1zM3 374h1v8h-1zM21 374h1v8h-1zM30 374h1v8h-1zM36 374h1v8h-1zM39 374h1v8h-1zM46 374h1v8h-1zM60 374h1v8h-1zM76 374h1v8h-1zM86 374h1v8h-1zM100 374h1v8h-1zM105 374h1v8h-1zM113 374h1v8h-1zM114 374h1v8h-1zM120 374h1v8h-1zM121 374h1v8h-1zM4 382h1v8h-1zM5 382h1v8h-1zM10 382h1v8h-1zM19 382h1v8h-1zM31 382h1v8h-1zM34 382h1v8h-1zM45 382h1v8h-1zM48 382h1v8h-1zM58 382h1v8h-1zM59 382h1v8h-1zM61 382h1v8h-1zM70 382h1v8h-1zM74 382h1v8h-1zM78 382h1v8h-1zM87 382h1v8h-1zM92 382h1v8h-1zM113 382h1v8h-1zM122 382h1v8h-1zM126 382h1v8h-1zM134 382h1v8h-1zM138 382h1v8h-1zM4 390h1v7h-1zM11 390h1v7h-1zM19 390h1v7h-1zM27 390h1v7h-1zM30 390h1v7h-1zM38 390h1v7h-1zM39 390h1v7h-1zM41 390h1v7h-1zM47 390h1v7h-1zM51 390h1v7h-1zM56 390h1v7h-1zM63 390h1v7h-1zM70 390h1v7h-1zM72 390h1v7h-1zM81 390h1v7h-1zM83 390h1v7h-1zM84 390h1v7h-1zM91 390h1v7h-1zM95 390h1v7h-1zM97 390h1v7h-1zM101 390h1v7h-1zM123 390h1v7h-1zM129 390h1v7h-1zM133 390h1v7h-1zM136 390h1v7h-1zM2 397h1v8h-1zM20 397h1v8h-1zM22 397h1v8h-1zM31 397h1v8h-1zM37 397h1v8h-1zM64 397h1v8h-1zM67 397h1v8h-1zM74 397h1v8h-1zM77 397h1v8h-1zM96 397h1v8h-1zM97 397h1v8h-1zM104 397h1v8h-1zM118 397h1v8h-1zM120 397h1v8h-1zM129 397h1v8h-1zM130 397h1v8h-1zM134 397h1v8h-1zM136 397h1v8h-1zM1 405h1v8h-1zM4 405h1v8h-1zM11 405h1v8h-1zM14 405h1v8h-1zM19 405h1v8h-1zM37 405h1v8h-1zM42 405h1v8h-1zM43 405h1v8h-1zM53 405h1v8h-1zM56 405h1v8h-1zM60 405h1v8h-1zM61 405h1v8h-1zM91 405h1v8h-1zM108 405h1v8h-1zM117 405h1v8h-1zM118 405h1v8h-1zM122 405h1v8h-1zM124 405h1v8h-1zM132 405h1v8h-1zM134 405h1v8h-1zM137 405h1v8h-1zM22 413h1v7h-1zM31 413h1v7h-1zM36 413h1v7h-1zM41 413h1v7h-1zM48 413h1v7h-1zM49 413h1v7h-1zM61 413h1v7h-1zM64 413h1v7h-1zM70 413h1v7h-1zM72 413h1v7h-1zM73 413h1v7h-1zM81 413h1v7h-1zM95 413h1v7h-1zM105 413h1v7h-1zM106 413h1v7h-1zM115 413h1v7h-1zM117 413h1v7h-1zM120 413h1v7h-1zM131 413h1v7h-1zM135 413h1v7h-1zM12 420h1v8h-1zM14 420h1v8h-1zM15 420h1v8h-1zM17 420h1v8h-1zM28 420h1v8h-1zM29 420h1v8h-1zM34 420h1v8h-1zM39 420h1v8h-1zM46 420h1v8h-1zM47 420h1v8h-1zM54 420h1v8h-1zM56 420h1v8h-1zM57 420h1v8h-1zM60 420h1v8h-1zM62 420h1v8h-1zM63 420h1v8h-1zM69 420h1v8h-1zM78 420h1v8h-1zM83 420h1v8h-1zM85 420h1v8h-1zM89 420h1v8h-1zM98 420h1v8h-1zM100 420h1v8h-1zM104 420h1v8h-1zM105 420h1v8h-1zM107 420h1v8h-1zM110 420h1v8h-1zM113 420h1v8h-1zM115 420h1v8h-1zM135 420h1v8h-1zM0 428h1v8h-1zM1 428h1v8h-1zM4 428h1v8h-1zM8 428h1v8h-1zM9 428h1v8h-1zM43 428h1v8h-1zM44 428h1v8h-1zM46 428h1v8h-1zM66 428h1v8h-1zM71 428h1v8h-1zM72 428h1v8h-1zM73 428h1v8h-1zM74 428h1v8h-1zM77 428h1v8h-1zM81 428h1v8h-1zM84 428h1v8h-1zM88 428h1v8h-1zM96 428h1v8h-1zM99 428h1v8h-1zM104 428h1v8h-1zM105 428h1v8h-1zM116 428h1v8h-1zM117 428h1v8h-1zM123 428h1v8h-1zM126 428h1v8h-1zM132 428h1v8h-1zM133 428h1v8h-1zM137 428h1v8h-1zM4 436h1v7h-1zM15 436h1v7h-1zM16 436h1v7h-1zM23 436h1v7h-1zM29 436h1v7h-1zM37 436h1v7h-1zM46 436h1v7h-1zM49 436h1v7h-1zM53 436h1v7h-1zM81 436h1v7h-1zM93 436h1v7h-1zM95 436h1v7h-1zM99 436h1v7h-1zM102 436h1v7h-1zM121 436h1v7h-1zM122 436h1v7h-1zM138 436h1v7h-1zM6 443h1v8h-1zM31 443h1v8h-1zM37 443h1v8h-1zM39 443h1v8h-1zM40 443h1v8h-1zM43 443h1v8h-1zM46 443h1v8h-1zM54 443h1v8h-1zM58 443h1v8h-1zM75 443h1v8h-1zM87 443h1v8h-1zM89 443h1v8h-1zM96 443h1v8h-1zM100 443h1v8h-1zM101 443h1v8h-1zM119 443h1v8h-1zM121 443h1v8h-1zM123 443h1v8h-1zM129 443h1v8h-1zM132 443h1v8h-1zM137 443h1v8h-1zM1 451h1v7h-1zM4 451h1v7h-1zM8 451h1v7h-1zM11 451h1v7h-1zM12 451h1v7h-1zM18 451h1v7h-1zM22 451h1v7h-1zM23 451h1v7h-1zM28 451h1v7h-1zM29 451h1v7h-1zM41 451h1v7h-1zM55 451h1v7h-1zM56 451h1v7h-1zM64 451h1v7h-1zM65 451h1v7h-1zM68 451h1v7h-1zM78 451h1v7h-1zM83 451h1v7h-1zM86 451h1v7h-1zM99 451h1v7h-1zM108 451h1v7h-1zM111 451h1v7h-1zM117 451h1v7h-1zM122 451h1v7h-1zM123 451h1v7h-1zM3 458h1v8h-1zM17 458h1v8h-1zM42 458h1v8h-1zM50 458h1v8h-1zM53 458h1v8h-1zM64 458h1v8h-1zM82 458h1v8h-1zM88 458h1v8h-1zM90 458h1v8h-1zM98 458h1v8h-1zM100 458h1v8h-1zM109 458h1v8h-1zM112 458h1v8h-1zM113 458h1v8h-1zM114 458h1v8h-1zM118 458h1v8h-1zM119 458h1v8h-1zM133 458h1v8h-1zM0 466h1v8h-1zM9 466h1v8h-1zM11 466h1v8h-1zM23 466h1v8h-1zM30 466h1v8h-1zM34 466h1v8h-1zM37 466h1v8h-1zM48 466h1v8h-1zM57 466h1v8h-1zM69 466h1v8h-1zM73 466h1v8h-1zM78 466h1v8h-1zM85 466h1v8h-1zM90 466h1v8h-1zM101 466h1v8h-1zM112 466h1v8h-1zM113 466h1v8h-1zM129 466h1v8h-1zM7 474h1v7h-1zM21 474h1v7h-1zM27 474h1v7h-1zM29 474h1v7h-1zM32 474h1v7h-1zM53 474h1v7h-1zM58 474h1v7h-1zM60 474h1v7h-1zM62 474h1v7h-1zM66 474h1v7h-1zM79 474h1v7h-1zM81 474h1v7h-1zM82 474h1v7h-1zM102 474h1v7h-1zM108 474h1v7h-1zM113 474h1v7h-1zM115 474h1v7h-1zM119 474h1v7h-1zM7 481h1v8h-1zM8 481h1v8h-1zM27 481h1v8h-1zM35 481h1v8h-1zM45 481h1v8h-1zM57 481h1v8h-1zM67 481h1v8h-1zM94 481h1v8h-1zM106 481h1v8h-1zM123 481h1v8h-1z"/><path fill="#080808" d="M31 0h1v8h-1zM32 0h1v8h-1zM38 0h1v8h-1zM47 0h1v8h-1zM62 0h1v8h-1zM75 0h1v8h-1zM94 0h1v8h-1zM108 0h1v8h-1zM117 0h1v8h-1zM28 8h1v7h-1zM29 8h1v7h-1zM76 8h1v7h-1zM85 8h1v7h-1zM115 8h1v7h-1zM1 15h1v8h-1zM6 15h1v8h-1zM36 15h1v8h-1zM43 15h1v8h-1zM46 15h1v8h-1zM61 15h1v8h-1zM64 15h1v8h-1zM65 15h1v8h-1zM72 15h1v8h-1zM84 15h1v8h-1zM93 15h1v8h-1zM94 15h1v8h-1zM107 15h1v8h-1zM109 15h1v8h-1zM129 15h1v8h-1zM19 23h1v8h-1zM20 23h1v8h-1zM23 23h1v8h-1zM53 23h1v8h-1zM54 23h1v8h-1zM66 23h1v8h-1zM70 23h1v8h-1zM79 23h1v8h-1zM84 23h1v8h-1zM89 23h1v8h-1zM91 23h1v8h-1zM95 23h1v8h-1zM118 23h1v8h-1zM125 23h1v8h-1zM0 31h1v7h-1zM4 31h1v7h-1zM19 31h1v7h-1zM41 31h1v7h-1zM43 31h1v7h-1zM52 31h1v7h-1zM66 31h1v7h-1zM78 31h1v7h-1zM99 31h1v7h-1zM111 31h1v7h-1zM114 31h1v7h-1zM119 31h1v7h-1zM120 31h1v7h-1zM138 31h1v7h-1zM3 38h1v8h-1zM8 38h1v8h-1zM16 38h1v8h-1zM36 38h1v8h-1zM37 38h1v8h-1zM60 38h1v8h-1zM108 38h1v8h-1zM109 38h1v8h-1zM131 38h1v8h-1zM135 38h1v8h-1zM136 38h1v8h-1zM138 38h1v8h-1zM0 46h1v7h-1zM1 46h1v7h-1zM3 46h1v7h-1zM31 46h1v7h-1zM49 46h1v7h-1zM64 46h1v7h-1zM75 46h1v7h-1zM95 46h1v7h-1zM113 46h1v7h-1zM120 46h1v7h-1zM135 46h1v7h-1zM1 53h1v8h-1zM23 53h1v8h-1zM31 53h1v8h-1zM50 53h1v8h-1zM53 53h1v8h-1zM66 53h1v8h-1zM68 53h1v8h-1zM74 53h1v8h-1zM76 53h1v8h-1zM86 53h1v8h-1zM95 53h1v8h-1zM98 53h1v8h-1zM120 53h1v8h-1zM121 53h1v8h-1zM125 53h1v8h-1zM126 53h1v8h-1zM127 53h1v8h-1zM26 61h1v8h-1zM30 61h1v8h-1zM33 61h1v8h-1zM46 61h1v8h-1zM58 61h1v8h-1zM62 61h1v8h-1zM63 61h1v8h-1zM103 61h1v8h-1zM104 61h1v8h-1zM115 61h1v8h-1zM120 61h1v8h-1zM138 61h1v8h-1zM30 69h1v7h-1zM99 69h1v7h-1zM106 69h1v7h-1zM109 69h1v7h-1zM116 69h1v7h-1zM118 69h1v7h-1zM128 69h1v7h-1zM130 69h1v7h-1zM137 69h1v7h-1zM34 76h1v8h-1zM37 76h1v8h-1zM39 76h1v8h-1zM40 76h1v8h-1zM67 76h1v8h-1zM78 76h1v8h-1zM87 76h1v8h-1zM90 76h1v8h-1zM96 76h1v8h-1zM116 76h1v8h-1zM120 76h1v8h-1zM131 76h1v8h-1zM134 76h1v8h-1zM137 76h1v8h-1zM0 84h1v8h-1zM11 84h1v8h-1zM26 84h1v8h-1zM29 84h1v8h-1zM31 84h1v8h-1zM32 84h1v8h-1zM33 84h1v8h-1zM36 84h1v8h-1zM46 84h1v8h-1zM70 84h1v8h-1zM82 84h1v8h-1zM84 84h1v8h-1zM89 84h1v8h-1zM90 84h1v8h-1zM103 84h1v8h-1zM109 84h1v8h-1zM118 84h1v8h-1zM123 84h1v8h-1zM124 84h1v8h-1zM133 84h1v8h-1zM134 84h1v8h-1zM3 92h1v7h-1zM15 92h1v7h-1zM35 92h1v7h-1zM39 92h1v7h-1zM43 92h1v7h-1zM52 92h1v7h-1zM62 92h1v7h-1zM63 92h1v7h-1zM70 92h1v7h-1zM71 92h1v7h-1zM78 92h1v7h-1zM90 92h1v7h-1zM91 92h1v7h-1zM109 92h1v7h-1zM135 92h1v7h-1zM8 99h1v8h-1zM12 99h1v8h-1zM13 99h1v8h-1zM14 99h1v8h-1zM29 99h1v8h-1zM36 99h1v8h-1zM50 99h1v8h-1zM54 99h1v8h-1zM58 99h1v8h-1zM71 99h1v8h-1zM86 99h1v8h-1zM89 99h1v8h-1zM99 99h1v8h-1zM111 99h1v8h-1zM130 99h1v8h-1zM134 99h1v8h-1zM136 99h1v8h-1zM138 99h1v8h-1zM19 107h1v8h-1zM23 107h1v8h-1zM39 107h1v8h-1zM40 107h1v8h-1zM54 107h1v8h-1zM55 107h1v8h-1zM56 107h1v8h-1zM57 107h1v8h-1zM61 107h1v8h-1zM85 107h1v8h-1zM90 107h1v8h-1zM92 107h1v8h-1zM94 107h1v8h-1zM98 107h1v8h-1zM105 107h1v8h-1zM106 107h1v8h-1zM124 107h1v8h-1zM4 115h1v7h-1zM6 115h1v7h-1zM14 115h1v7h-1zM40 115h1v7h-1zM46 115h1v7h-1zM47 115h1v7h-1zM57 115h1v7h-1zM68 115h1v7h-1zM76 115h1v7h-1zM80 115h1v7h-1zM87 115h1v7h-1zM100 115h1v7h-1zM101 115h1v7h-1zM102 115h1v7h-1zM110 115h1v7h-1zM118 115h1v7h-1zM124 115h1v7h-1zM13 122h1v8h-1zM17 122h1v8h-1zM43 122h1v8h-1zM65 122h1v8h-1zM68 122h1v8h-1zM71 122h1v8h-1zM78 122h1v8h-1zM80 122h1v8h-1zM109 122h1v8h-1zM113 122h1v8h-1zM115 122h1v8h-1zM116 122h1v8h-1zM117 122h1v8h-1zM131 122h1v8h-1zM135 122h1v8h-1zM6 130h1v8h-1zM19 130h1v8h-1zM31 130h1v8h-1zM37 130h1v8h-1zM39 130h1v8h-1zM43 130h1v8h-1zM55 130h1v8h-1zM59 130h1v8h-1zM66 130h1v8h-1zM70 130h1v8h-1zM121 130h1v8h-1zM124 130h1v8h-1zM136 130h1v8h-1zM5 138h1v7h-1zM18 138h1v7h-1zM20 138h1v7h-1zM22 138h1v7h-1zM24 138h1v7h-1zM30 138h1v7h-1zM44 138h1v7h-1zM46 138h1v7h-1zM51 138h1v7h-1zM60 138h1v7h-1zM62 138h1v7h-1zM64 138h1v7h-1zM65 138h1v7h-1zM74 138h1v7h-1zM91 138h1v7h-1zM113 138h1v7h-1zM115 138h1v7h-1zM128 138h1v7h-1zM137 138h1v7h-1zM2 145h1v8h-1zM14 145h1v8h-1zM15 145h1v8h-1zM22 145h1v8h-1zM28 145h1v8h-1zM29 145h1v8h-1zM32 145h1v8h-1zM34 145h1v8h-1zM45 145h1v8h-1zM56 145h1v8h-1zM77 145h1v8h-1zM84 145h1v8h-1zM97 145h1v8h-1zM99 145h1v8h-1zM100 145h1v8h-1zM128 145h1v8h-1zM129 145h1v8h-1zM133 145h1v8h-1zM134 145h1v8h-1zM138 145h1v8h-1zM2 153h1v7h-1zM7 153h1v7h-1zM10 153h1v7h-1zM13 153h1v7h-1zM14 153h1v7h-1zM23 153h1v7h-1zM32 153h1v7h-1zM39 153h1v7h-1zM41 153h1v7h-1zM45 153h1v7h-1zM47 153h1v7h-1zM48 153h1v7h-1zM80 153h1v7h-1zM83 153h1v7h-1zM86 153h1v7h-1zM87 153h1v7h-1zM122 153h1v7h-1zM129 153h1v7h-1zM1 160h1v8h-1zM23 160h1v8h-1zM41 160h1v8h-1zM55 160h1v8h-1zM62 160h1v8h-1zM71 160h1v8h-1zM79 160h1v8h-1zM98 160h1v8h-1zM101 160h1v8h-1zM104 160h1v8h-1zM108 160h1v8h-1zM109 160h1v8h-1zM117 160h1v8h-1zM126 160h1v8h-1zM128 160h1v8h-1zM131 160h1v8h-1zM8 168h1v8h-1zM17 168h1v8h-1zM18 168h1v8h-1zM22 168h1v8h-1zM31 168h1v8h-1zM32 168h1v8h-1zM42 168h1v8h-1zM44 168h1v8h-1zM47 168h1v8h-1zM51 168h1v8h-1zM65 168h1v8h-1zM67 168h1v8h-1zM73 168h1v8h-1zM79 168h1v8h-1zM82 168h1v8h-1zM84 168h1v8h-1zM102 168h1v8h-1zM108 168h1v8h-1zM117 168h1v8h-1zM128 168h1v8h-1zM132 168h1v8h-1zM133 168h1v8h-1zM135 168h1v8h-1zM4 176h1v7h-1zM21 176h1v7h-1zM29 176h1v7h-1zM52 176h1v7h-1zM53 176h1v7h-1zM72 176h1v7h-1zM76 176h1v7h-1zM103 176h1v7h-1zM4 183h1v8h-1zM26 183h1v8h-1zM30 183h1v8h-1zM31 183h1v8h-1zM43 183h1v8h-1zM68 183h1v8h-1zM85 183h1v8h-1zM93 183h1v8h-1zM107 183h1v8h-1zM108 183h1v8h-1zM129 183h1v8h-1zM132 183h1v8h-1zM137 183h1v8h-1zM36 191h1v8h-1zM45 191h1v8h-1zM48 191h1v8h-1zM50 191h1v8h-1zM62 191h1v8h-1zM76 191h1v8h-1zM78 191h1v8h-1zM80 191h1v8h-1zM89 191h1v8h-1zM100 191h1v8h-1zM115 191h1v8h-1zM125 191h1v8h-1zM132 191h1v8h-1zM137 191h1v8h-1zM138 191h1v8h-1zM24 199h1v7h-1zM27 199h1v7h-1zM30 199h1v7h-1zM40 199h1v7h-1zM53 199h1v7h-1zM66 199h1v7h-1zM77 199h1v7h-1zM91 199h1v7h-1zM92 199h1v7h-1zM99 199h1v7h-1zM109 199h1v7h-1zM111 199h1v7h-1zM126 199h1v7h-1zM128 199h1v7h-1zM132 199h1v7h-1zM0 206h1v8h-1zM24 206h1v8h-1zM38 206h1v8h-1zM59 206h1v8h-1zM81 206h1v8h-1zM87 206h1v8h-1zM132 206h1v8h-1zM4 214h1v8h-1zM12 214h1v8h-1zM15 214h1v8h-1zM16 214h1v8h-1zM26 214h1v8h-1zM32 214h1v8h-1zM39 214h1v8h-1zM44 214h1v8h-1zM47 214h1v8h-1zM56 214h1v8h-1zM70 214h1v8h-1zM93 214h1v8h-1zM98 214h1v8h-1zM6 222h1v7h-1zM15 222h1v7h-1zM21 222h1v7h-1zM23 222h1v7h-1zM24 222h1v7h-1zM29 222h1v7h-1zM50 222h1v7h-1zM55 222h1v7h-1zM61 222h1v7h-1zM75 222h1v7h-1zM109 222h1v7h-1zM117 222h1v7h-1zM124 222h1v7h-1zM7 229h1v8h-1zM9 229h1v8h-1zM10 229h1v8h-1zM11 229h1v8h-1zM44 229h1v8h-1zM45 229h1v8h-1zM48 229h1v8h-1zM70 229h1v8h-1zM81 229h1v8h-1zM85 229h1v8h-1zM94 229h1v8h-1zM96 229h1v8h-1zM97 229h1v8h-1zM118 229h1v8h-1zM131 229h1v8h-1zM10 237h1v7h-1zM14 237h1v7h-1zM29 237h1v7h-1zM41 237h1v7h-1zM44 237h1v7h-1zM45 237h1v7h-1zM54 237h1v7h-1zM65 237h1v7h-1zM71 237h1v7h-1zM72 237h1v7h-1zM76 237h1v7h-1zM81 237h1v7h-1zM88 237h1v7h-1zM95 237h1v7h-1zM107 237h1v7h-1zM111 237h1v7h-1zM116 237h1v7h-1zM119 237h1v7h-1zM122 237h1v7h-1zM123 237h1v7h-1zM3 244h1v8h-1zM33 244h1v8h-1zM36 244h1v8h-1zM37 244h1v8h-1zM41 244h1v8h-1zM61 244h1v8h-1zM81 244h1v8h-1zM89 244h1v8h-1zM90 244h1v8h-1zM97 244h1v8h-1zM104 244h1v8h-1zM108 244h1v8h-1zM109 244h1v8h-1zM121 244h1v8h-1zM125 244h1v8h-1zM135 244h1v8h-1zM4 252h1v8h-1zM8 252h1v8h-1zM9 252h1v8h-1zM22 252h1v8h-1zM33 252h1v8h-1zM37 252h1v8h-1zM58 252h1v8h-1zM63 252h1v8h-1zM71 252h1v8h-1zM89 252h1v8h-1zM91 252h1v8h-1zM112 252h1v8h-1zM125 252h1v8h-1zM131 252h1v8h-1zM135 252h1v8h-1zM10 260h1v7h-1zM13 260h1v7h-1zM29 260h1v7h-1zM45 260h1v7h-1zM46 260h1v7h-1zM67 260h1v7h-1zM79 260h1v7h-1zM92 260h1v7h-1zM103 260h1v7h-1zM106 260h1v7h-1zM115 260h1v7h-1zM117 260h1v7h-1zM118 260h1v7h-1zM3 267h1v8h-1zM4 267h1v8h-1zM5 267h1v8h-1zM13 267h1v8h-1zM40 267h1v8h-1zM46 267h1v8h-1zM47 267h1v8h-1zM48 267h1v8h-1zM64 267h1v8h-1zM71 267h1v8h-1zM98 267h1v8h-1zM105 267h1v8h-1zM108 267h1v8h-1zM114 267h1v8h-1zM131 267h1v8h-1zM132 267h1v8h-1zM2 275h1v8h-1zM8 275h1v8h-1zM20 275h1v8h-1zM28 275h1v8h-1zM68 275h1v8h-1zM75 275h1v8h-1zM88 275h1v8h-1zM89 275h1v8h-1zM94 275h1v8h-1zM97 275h1v8h-1zM99 275h1v8h-1zM105 275h1v8h-1zM121 275h1v8h-1zM128 275h1v8h-1zM133 275h1v8h-1zM5 283h1v7h-1zM7 283h1v7h-1zM20 283h1v7h-1zM33 283h1v7h-1zM36 283h1v7h-1zM39 283h1v7h-1zM41 283h1v7h-1zM43 283h1v7h-1zM57 283h1v7h-1zM66 283h1v7h-1zM82 283h1v7h-1zM91 283h1v7h-1zM97 283h1v7h-1zM100 283h1v7h-1zM121 283h1v7h-1zM124 283h1v7h-1zM1 290h1v8h-1zM34 290h1v8h-1zM35 290h1v8h-1zM49 290h1v8h-1zM58 290h1v8h-1zM60 290h1v8h-1zM61 290h1v8h-1zM78 290h1v8h-1zM89 290h1v8h-1zM102 290h1v8h-1zM104 290h1v8h-1zM118 290h1v8h-1zM136 290h1v8h-1zM18 298h1v8h-1zM20 298h1v8h-1zM21 298h1v8h-1zM22 298h1v8h-1zM25 298h1v8h-1zM36 298h1v8h-1zM52 298h1v8h-1zM82 298h1v8h-1zM86 298h1v8h-1zM89 298h1v8h-1zM90 298h1v8h-1zM117 298h1v8h-1zM121 298h1v8h-1zM126 298h1v8h-1zM129 298h1v8h-1zM4 306h1v7h-1zM5 306h1v7h-1zM6 306h1v7h-1zM9 306h1v7h-1zM30 306h1v7h-1zM33 306h1v7h-1zM43 306h1v7h-1zM45 306h1v7h-1zM64 306h1v7h-1zM88 306h1v7h-1zM93 306h1v7h-1zM98 306h1v7h-1zM113 306h1v7h-1zM129 306h1v7h-1zM131 306h1v7h-1zM3 313h1v8h-1zM7 313h1v8h-1zM11 313h1v8h-1zM29 313h1v8h-1zM60 313h1v8h-1zM75 313h1v8h-1zM79 313h1v8h-1zM81 313h1v8h-1zM82 313h1v8h-1zM93 313h1v8h-1zM121 313h1v8h-1zM127 313h1v8h-1zM12 321h1v8h-1zM34 321h1v8h-1zM46 321h1v8h-1zM47 321h1v8h-1zM75 321h1v8h-1zM89 321h1v8h-1zM98 321h1v8h-1zM105 321h1v8h-1zM120 321h1v8h-1zM122 321h1v8h-1zM134 321h1v8h-1zM1 329h1v7h-1zM6 329h1v7h-1zM20 329h1v7h-1zM21 329h1v7h-1zM61 329h1v7h-1zM63 329h1v7h-1zM80 329h1v7h-1zM120 329h1v7h-1zM132 329h1v7h-1zM138 329h1v7h-1zM10 336h1v8h-1zM27 336h1v8h-1zM28 336h1v8h-1zM31 336h1v8h-1zM63 336h1v8h-1zM71 336h1v8h-1zM88 336h1v8h-1zM98 336h1v8h-1zM99 336h1v8h-1zM102 336h1v8h-1zM107 336h1v8h-1zM108 336h1v8h-1zM114 336h1v8h-1zM118 336h1v8h-1zM125 336h1v8h-1zM128 336h1v8h-1zM133 336h1v8h-1zM137 336h1v8h-1zM4 344h1v7h-1zM5 344h1v7h-1zM10 344h1v7h-1zM22 344h1v7h-1zM30 344h1v7h-1zM48 344h1v7h-1zM50 344h1v7h-1zM54 344h1v7h-1zM58 344h1v7h-1zM68 344h1v7h-1zM70 344h1v7h-1zM72 344h1v7h-1zM73 344h1v7h-1zM94 344h1v7h-1zM115 344h1v7h-1zM116 344h1v7h-1zM117 344h1v7h-1zM36 351h1v8h-1zM66 351h1v8h-1zM84 351h1v8h-1zM95 351h1v8h-1zM113 351h1v8h-1zM125 351h1v8h-1zM8 359h1v8h-1zM11 359h1v8h-1zM14 359h1v8h-1zM15 359h1v8h-1zM21 359h1v8h-1zM23 359h1v8h-1zM29 359h1v8h-1zM31 359h1v8h-1zM32 359h1v8h-1zM37 359h1v8h-1zM42 359h1v8h-1zM67 359h1v8h-1zM70 359h1v8h-1zM78 359h1v8h-1zM83 359h1v8h-1zM92 359h1v8h-1zM97 359h1v8h-1zM125 359h1v8h-1zM127 359h1v8h-1zM133 359h1v8h-1zM137 359h1v8h-1zM19 367h1v7h-1zM25 367h1v7h-1zM36 367h1v7h-1zM46 367h1v7h-1zM58 367h1v7h-1zM80 367h1v7h-1zM84 367h1v7h-1zM89 367h1v7h-1zM94 367h1v7h-1zM96 367h1v7h-1zM97 367h1v7h-1zM120 367h1v7h-1zM133 367h1v7h-1zM2 374h1v8h-1zM6 374h1v8h-1zM14 374h1v8h-1zM32 374h1v8h-1zM43 374h1v8h-1zM64 374h1v8h-1zM78 374h1v8h-1zM79 374h1v8h-1zM99 374h1v8h-1zM101 374h1v8h-1zM104 374h1v8h-1zM107 374h1v8h-1zM127 374h1v8h-1zM131 374h1v8h-1zM137 374h1v8h-1zM14 382h1v8h-1zM15 382h1v8h-1zM26 382h1v8h-1zM44 382h1v8h-1zM51 382h1v8h-1zM64 382h1v8h-1zM65 382h1v8h-1zM69 382h1v8h-1zM80 382h1v8h-1zM84 382h1v8h-1zM97 382h1v8h-1zM99 382h1v8h-1zM107 382h1v8h-1zM114 382h1v8h-1zM12 390h1v7h-1zM14 390h1v7h-1zM23 390h1v7h-1zM34 390h1v7h-1zM46 390h1v7h-1zM64 390h1v7h-1zM86 390h1v7h-1zM87 390h1v7h-1zM120 390h1v7h-1zM40 397h1v8h-1zM44 397h1v8h-1zM63 397h1v8h-1zM70 397h1v8h-1zM75 397h1v8h-1zM76 397h1v8h-1zM83 397h1v8h-1zM86 397h1v8h-1zM91 397h1v8h-1zM106 397h1v8h-1zM111 397h1v8h-1zM113 397h1v8h-1zM125 397h1v8h-1zM126 397h1v8h-1zM3 405h1v8h-1zM9 405h1v8h-1zM28 405h1v8h-1zM32 405h1v8h-1zM35 405h1v8h-1zM54 405h1v8h-1zM87 405h1v8h-1zM88 405h1v8h-1zM89 405h1v8h-1zM99 405h1v8h-1zM106 405h1v8h-1zM112 405h1v8h-1zM57 413h1v7h-1zM59 413h1v7h-1zM67 413h1v7h-1zM68 413h1v7h-1zM69 413h1v7h-1zM76 413h1v7h-1zM87 413h1v7h-1zM94 413h1v7h-1zM114 413h1v7h-1zM2 420h1v8h-1zM13 420h1v8h-1zM19 420h1v8h-1zM22 420h1v8h-1zM27 420h1v8h-1zM30 420h1v8h-1zM35 420h1v8h-1zM42 420h1v8h-1zM61 420h1v8h-1zM64 420h1v8h-1zM65 420h1v8h-1zM67 420h1v8h-1zM68 420h1v8h-1zM86 420h1v8h-1zM91 420h1v8h-1zM96 420h1v8h-1zM103 420h1v8h-1zM108 420h1v8h-1zM118 420h1v8h-1zM121 420h1v8h-1zM129 420h1v8h-1zM131 420h1v8h-1zM18 428h1v8h-1zM26 428h1v8h-1zM29 428h1v8h-1zM39 428h1v8h-1zM51 428h1v8h-1zM62 428h1v8h-1zM70 428h1v8h-1zM78 428h1v8h-1zM80 428h1v8h-1zM82 428h1v8h-1zM90 428h1v8h-1zM97 428h1v8h-1zM110 428h1v8h-1zM122 428h1v8h-1zM0 436h1v7h-1zM1 436h1v7h-1zM3 436h1v7h-1zM9 436h1v7h-1zM20 436h1v7h-1zM36 436h1v7h-1zM40 436h1v7h-1zM41 436h1v7h-1zM52 436h1v7h-1zM57 436h1v7h-1zM68 436h1v7h-1zM77 436h1v7h-1zM84 436h1v7h-1zM87 436h1v7h-1zM91 436h1v7h-1zM118 436h1v7h-1zM125 436h1v7h-1zM127 436h1v7h-1zM132 436h1v7h-1zM136 436h1v7h-1zM0 443h1v8h-1zM11 443h1v8h-1zM12 443h1v8h-1zM53 443h1v8h-1zM56 443h1v8h-1zM61 443h1v8h-1zM82 443h1v8h-1zM85 443h1v8h-1zM91 443h1v8h-1zM97 443h1v8h-1zM103 443h1v8h-1zM104 443h1v8h-1zM105 443h1v8h-1zM106 443h1v8h-1zM108 443h1v8h-1zM114 443h1v8h-1zM116 443h1v8h-1zM122 443h1v8h-1zM124 443h1v8h-1zM125 443h1v8h-1zM131 443h1v8h-1zM2 451h1v7h-1zM9 451h1v7h-1zM14 451h1v7h-1zM27 451h1v7h-1zM32 451h1v7h-1zM33 451h1v7h-1zM49 451h1v7h-1zM67 451h1v7h-1zM73 451h1v7h-1zM75 451h1v7h-1zM102 451h1v7h-1zM120 451h1v7h-1zM29 458h1v8h-1zM30 458h1v8h-1zM33 458h1v8h-1zM34 458h1v8h-1zM44 458h1v8h-1zM49 458h1v8h-1zM51 458h1v8h-1zM55 458h1v8h-1zM57 458h1v8h-1zM59 458h1v8h-1zM66 458h1v8h-1zM79 458h1v8h-1zM87 458h1v8h-1zM89 458h1v8h-1zM101 458h1v8h-1zM106 458h1v8h-1zM4 466h1v8h-1zM10 466h1v8h-1zM32 466h1v8h-1zM36 466h1v8h-1zM40 466h1v8h-1zM41 466h1v8h-1zM58 466h1v8h-1zM63 466h1v8h-1zM70 466h1v8h-1zM75 466h1v8h-1zM92 466h1v8h-1zM121 466h1v8h-1zM130 466h1v8h-1zM132 466h1v8h-1zM135 466h1v8h-1zM136 466h1v8h-1zM33 474h1v7h-1zM55 474h1v7h-1zM57 474h1v7h-1zM75 474h1v7h-1zM100 474h1v7h-1zM101 474h1v7h-1zM104 474h1v7h-1zM136 474h1v7h-1zM1 481h1v8h-1zM9 481h1v8h-1zM28 481h1v8h-1zM66 481h1v8h-1zM71 481h1v8h-1zM79 481h1v8h-1zM84 481h1v8h-1zM91 481h1v8h-1zM93 481h1v8h-1zM105 481h1v8h-1zM113 481h1v8h-1zM127 481h1v8h-1zM130 481h1v8h-1z"/><path fill="#0c0c0c" d="M4 0h1v8h-1zM19 0h1v8h-1zM37 0h1v8h-1zM49 0h1v8h-1zM59 0h1v8h-1zM65 0h1v8h-1zM91 0h1v8h-1zM96 0h1v8h-1zM119 0h1v8h-1zM120 0h1v8h-1zM22 8h1v7h-1zM27 8h1v7h-1zM58 8h1v7h-1zM66 8h1v7h-1zM92 8h1v7h-1zM111 8h1v7h-1zM122 8h1v7h-1zM123 8h1v7h-1zM126 8h1v7h-1zM132 8h1v7h-1zM134 8h1v7h-1zM137 8h1v7h-1zM138 8h1v7h-1zM27 15h1v8h-1zM42 15h1v8h-1zM47 15h1v8h-1zM69 15h1v8h-1zM110 15h1v8h-1zM112 15h1v8h-1zM118 15h1v8h-1zM7 23h1v8h-1zM45 23h1v8h-1zM92 23h1v8h-1zM116 23h1v8h-1zM27 31h1v7h-1zM34 31h1v7h-1zM42 31h1v7h-1zM51 31h1v7h-1zM63 31h1v7h-1zM102 31h1v7h-1zM118 31h1v7h-1zM1 38h1v8h-1zM11 38h1v8h-1zM25 38h1v8h-1zM46 38h1v8h-1zM47 38h1v8h-1zM57 38h1v8h-1zM79 38h1v8h-1zM99 38h1v8h-1zM107 38h1v8h-1zM119 38h1v8h-1zM122 38h1v8h-1zM128 38h1v8h-1zM132 38h1v8h-1zM15 46h1v7h-1zM36 46h1v7h-1zM37 46h1v7h-1zM53 46h1v7h-1zM56 46h1v7h-1zM72 46h1v7h-1zM86 46h1v7h-1zM132 46h1v7h-1zM133 46h1v7h-1zM134 46h1v7h-1zM138 46h1v7h-1zM9 53h1v8h-1zM25 53h1v8h-1zM79 53h1v8h-1zM96 53h1v8h-1zM111 53h1v8h-1zM112 53h1v8h-1zM128 53h1v8h-1zM6 61h1v8h-1zM19 61h1v8h-1zM21 61h1v8h-1zM31 61h1v8h-1zM35 61h1v8h-1zM47 61h1v8h-1zM53 61h1v8h-1zM78 61h1v8h-1zM82 61h1v8h-1zM95 61h1v8h-1zM98 61h1v8h-1zM99 61h1v8h-1zM6 69h1v7h-1zM13 69h1v7h-1zM14 69h1v7h-1zM15 69h1v7h-1zM33 69h1v7h-1zM42 69h1v7h-1zM68 69h1v7h-1zM78 69h1v7h-1zM79 69h1v7h-1zM80 69h1v7h-1zM83 69h1v7h-1zM88 69h1v7h-1zM89 69h1v7h-1zM96 69h1v7h-1zM97 69h1v7h-1zM98 69h1v7h-1zM105 69h1v7h-1zM107 69h1v7h-1zM110 69h1v7h-1zM127 69h1v7h-1zM132 69h1v7h-1zM8 76h1v8h-1zM23 76h1v8h-1zM32 76h1v8h-1zM50 76h1v8h-1zM53 76h1v8h-1zM86 76h1v8h-1zM98 76h1v8h-1zM101 76h1v8h-1zM104 76h1v8h-1zM106 76h1v8h-1zM112 76h1v8h-1zM1 84h1v8h-1zM4 84h1v8h-1zM7 84h1v8h-1zM23 84h1v8h-1zM27 84h1v8h-1zM34 84h1v8h-1zM41 84h1v8h-1zM42 84h1v8h-1zM45 84h1v8h-1zM51 84h1v8h-1zM58 84h1v8h-1zM91 84h1v8h-1zM111 84h1v8h-1zM129 84h1v8h-1zM137 84h1v8h-1zM6 92h1v7h-1zM14 92h1v7h-1zM17 92h1v7h-1zM18 92h1v7h-1zM20 92h1v7h-1zM23 92h1v7h-1zM28 92h1v7h-1zM30 92h1v7h-1zM73 92h1v7h-1zM85 92h1v7h-1zM96 92h1v7h-1zM98 92h1v7h-1zM99 92h1v7h-1zM100 92h1v7h-1zM120 92h1v7h-1zM121 92h1v7h-1zM2 99h1v8h-1zM9 99h1v8h-1zM37 99h1v8h-1zM72 99h1v8h-1zM75 99h1v8h-1zM78 99h1v8h-1zM82 99h1v8h-1zM103 99h1v8h-1zM109 99h1v8h-1zM117 99h1v8h-1zM133 99h1v8h-1zM2 107h1v8h-1zM42 107h1v8h-1zM60 107h1v8h-1zM87 107h1v8h-1zM93 107h1v8h-1zM104 107h1v8h-1zM126 107h1v8h-1zM129 107h1v8h-1zM133 107h1v8h-1zM5 115h1v7h-1zM10 115h1v7h-1zM15 115h1v7h-1zM39 115h1v7h-1zM48 115h1v7h-1zM49 115h1v7h-1zM51 115h1v7h-1zM54 115h1v7h-1zM83 115h1v7h-1zM88 115h1v7h-1zM126 115h1v7h-1zM133 115h1v7h-1zM6 122h1v8h-1zM18 122h1v8h-1zM30 122h1v8h-1zM54 122h1v8h-1zM103 122h1v8h-1zM133 122h1v8h-1zM2 130h1v8h-1zM16 130h1v8h-1zM28 130h1v8h-1zM65 130h1v8h-1zM105 130h1v8h-1zM106 130h1v8h-1zM120 130h1v8h-1zM125 130h1v8h-1zM127 130h1v8h-1zM131 130h1v8h-1zM132 130h1v8h-1zM17 138h1v7h-1zM57 138h1v7h-1zM89 138h1v7h-1zM111 138h1v7h-1zM133 138h1v7h-1zM43 145h1v8h-1zM62 145h1v8h-1zM66 145h1v8h-1zM68 145h1v8h-1zM69 145h1v8h-1zM71 145h1v8h-1zM80 145h1v8h-1zM81 145h1v8h-1zM82 145h1v8h-1zM83 145h1v8h-1zM87 145h1v8h-1zM106 145h1v8h-1zM137 145h1v8h-1zM15 153h1v7h-1zM30 153h1v7h-1zM43 153h1v7h-1zM44 153h1v7h-1zM51 153h1v7h-1zM57 153h1v7h-1zM63 153h1v7h-1zM89 153h1v7h-1zM66 160h1v8h-1zM67 160h1v8h-1zM86 160h1v8h-1zM90 160h1v8h-1zM91 160h1v8h-1zM106 160h1v8h-1zM110 160h1v8h-1zM111 160h1v8h-1zM112 160h1v8h-1zM119 160h1v8h-1zM125 160h1v8h-1zM7 168h1v8h-1zM13 168h1v8h-1zM19 168h1v8h-1zM20 168h1v8h-1zM41 168h1v8h-1zM52 168h1v8h-1zM58 168h1v8h-1zM63 168h1v8h-1zM70 168h1v8h-1zM76 168h1v8h-1zM80 168h1v8h-1zM95 168h1v8h-1zM99 168h1v8h-1zM118 168h1v8h-1zM123 168h1v8h-1zM130 168h1v8h-1zM1 176h1v7h-1zM3 176h1v7h-1zM10 176h1v7h-1zM26 176h1v7h-1zM27 176h1v7h-1zM61 176h1v7h-1zM63 176h1v7h-1zM70 176h1v7h-1zM82 176h1v7h-1zM87 176h1v7h-1zM88 176h1v7h-1zM114 176h1v7h-1zM115 176h1v7h-1zM116 176h1v7h-1zM19 183h1v8h-1zM40 183h1v8h-1zM45 183h1v8h-1zM60 183h1v8h-1zM64 183h1v8h-1zM73 183h1v8h-1zM89 183h1v8h-1zM118 183h1v8h-1zM123 183h1v8h-1zM130 183h1v8h-1zM131 183h1v8h-1zM134 183h1v8h-1zM2 191h1v8h-1zM15 191h1v8h-1zM29 191h1v8h-1zM58 191h1v8h-1zM79 191h1v8h-1zM84 191h1v8h-1zM94 191h1v8h-1zM121 191h1v8h-1zM123 191h1v8h-1zM128 191h1v8h-1zM130 191h1v8h-1zM3 199h1v7h-1zM21 199h1v7h-1zM32 199h1v7h-1zM51 199h1v7h-1zM70 199h1v7h-1zM73 199h1v7h-1zM85 199h1v7h-1zM106 199h1v7h-1zM125 199h1v7h-1zM138 199h1v7h-1zM21 206h1v8h-1zM37 206h1v8h-1zM48 206h1v8h-1zM58 206h1v8h-1zM77 206h1v8h-1zM79 206h1v8h-1zM85 206h1v8h-1zM92 206h1v8h-1zM136 206h1v8h-1zM42 214h1v8h-1zM50 214h1v8h-1zM71 214h1v8h-1zM77 214h1v8h-1zM78 214h1v8h-1zM83 214h1v8h-1zM122 214h1v8h-1zM123 214h1v8h-1zM4 222h1v7h-1zM14 222h1v7h-1zM16 222h1v7h-1zM30 222h1v7h-1zM56 222h1v7h-1zM59 222h1v7h-1zM82 222h1v7h-1zM99 222h1v7h-1zM110 222h1v7h-1zM114 222h1v7h-1zM118 222h1v7h-1zM0 229h1v8h-1zM30 229h1v8h-1zM31 229h1v8h-1zM38 229h1v8h-1zM62 229h1v8h-1zM65 229h1v8h-1zM66 229h1v8h-1zM84 229h1v8h-1zM89 229h1v8h-1zM90 229h1v8h-1zM109 229h1v8h-1zM110 229h1v8h-1zM124 229h1v8h-1zM138 229h1v8h-1zM6 237h1v7h-1zM9 237h1v7h-1zM39 237h1v7h-1zM52 237h1v7h-1zM93 237h1v7h-1zM96 237h1v7h-1zM97 237h1v7h-1zM127 237h1v7h-1zM7 244h1v8h-1zM69 244h1v8h-1zM86 244h1v8h-1zM91 244h1v8h-1zM94 244h1v8h-1zM110 244h1v8h-1zM126 244h1v8h-1zM130 244h1v8h-1zM136 244h1v8h-1zM17 252h1v8h-1zM24 252h1v8h-1zM41 252h1v8h-1zM60 252h1v8h-1zM62 252h1v8h-1zM138 252h1v8h-1zM5 260h1v7h-1zM6 260h1v7h-1zM19 260h1v7h-1zM32 260h1v7h-1zM40 260h1v7h-1zM42 260h1v7h-1zM52 260h1v7h-1zM76 260h1v7h-1zM114 260h1v7h-1zM126 260h1v7h-1zM131 260h1v7h-1zM134 260h1v7h-1zM137 260h1v7h-1zM30 267h1v8h-1zM53 267h1v8h-1zM72 267h1v8h-1zM81 267h1v8h-1zM106 267h1v8h-1zM112 267h1v8h-1zM125 267h1v8h-1zM130 267h1v8h-1zM9 275h1v8h-1zM15 275h1v8h-1zM17 275h1v8h-1zM18 275h1v8h-1zM31 275h1v8h-1zM32 275h1v8h-1zM106 275h1v8h-1zM3 283h1v7h-1zM6 283h1v7h-1zM15 283h1v7h-1zM34 283h1v7h-1zM54 283h1v7h-1zM55 283h1v7h-1zM71 283h1v7h-1zM75 283h1v7h-1zM101 283h1v7h-1zM106 283h1v7h-1zM137 283h1v7h-1zM16 290h1v8h-1zM26 290h1v8h-1zM29 290h1v8h-1zM40 290h1v8h-1zM54 290h1v8h-1zM55 290h1v8h-1zM66 290h1v8h-1zM110 290h1v8h-1zM119 290h1v8h-1zM128 290h1v8h-1zM3 298h1v8h-1zM5 298h1v8h-1zM12 298h1v8h-1zM13 298h1v8h-1zM23 298h1v8h-1zM32 298h1v8h-1zM35 298h1v8h-1zM40 298h1v8h-1zM41 298h1v8h-1zM56 298h1v8h-1zM62 298h1v8h-1zM94 298h1v8h-1zM96 298h1v8h-1zM104 298h1v8h-1zM109 298h1v8h-1zM115 298h1v8h-1zM120 298h1v8h-1zM134 298h1v8h-1zM135 298h1v8h-1zM11 306h1v7h-1zM12 306h1v7h-1zM39 306h1v7h-1zM40 306h1v7h-1zM47 306h1v7h-1zM48 306h1v7h-1zM55 306h1v7h-1zM68 306h1v7h-1zM110 306h1v7h-1zM133 306h1v7h-1zM15 313h1v8h-1zM76 313h1v8h-1zM77 313h1v8h-1zM108 313h1v8h-1zM131 313h1v8h-1zM132 313h1v8h-1zM134 313h1v8h-1zM11 321h1v8h-1zM17 321h1v8h-1zM59 321h1v8h-1zM61 321h1v8h-1zM68 321h1v8h-1zM69 321h1v8h-1zM70 321h1v8h-1zM74 321h1v8h-1zM86 321h1v8h-1zM94 321h1v8h-1zM117 321h1v8h-1zM123 321h1v8h-1zM124 321h1v8h-1zM137 321h1v8h-1zM5 329h1v7h-1zM7 329h1v7h-1zM12 329h1v7h-1zM31 329h1v7h-1zM39 329h1v7h-1zM45 329h1v7h-1zM47 329h1v7h-1zM55 329h1v7h-1zM69 329h1v7h-1zM71 329h1v7h-1zM115 329h1v7h-1zM136 329h1v7h-1zM21 336h1v8h-1zM32 336h1v8h-1zM56 336h1v8h-1zM57 336h1v8h-1zM58 336h1v8h-1zM60 336h1v8h-1zM75 336h1v8h-1zM123 336h1v8h-1zM12 344h1v7h-1zM14 344h1v7h-1zM15 344h1v7h-1zM16 344h1v7h-1zM17 344h1v7h-1zM32 344h1v7h-1zM40 344h1v7h-1zM47 344h1v7h-1zM53 344h1v7h-1zM64 344h1v7h-1zM93 344h1v7h-1zM124 344h1v7h-1zM125 344h1v7h-1zM21 351h1v8h-1zM26 351h1v8h-1zM42 351h1v8h-1zM44 351h1v8h-1zM48 351h1v8h-1zM59 351h1v8h-1zM98 351h1v8h-1zM108 351h1v8h-1zM128 351h1v8h-1zM132 351h1v8h-1zM133 351h1v8h-1zM17 359h1v8h-1zM19 359h1v8h-1zM36 359h1v8h-1zM52 359h1v8h-1zM64 359h1v8h-1zM66 359h1v8h-1zM69 359h1v8h-1zM116 359h1v8h-1zM117 359h1v8h-1zM3 367h1v7h-1zM16 367h1v7h-1zM18 367h1v7h-1zM26 367h1v7h-1zM37 367h1v7h-1zM60 367h1v7h-1zM66 367h1v7h-1zM69 367h1v7h-1zM86 367h1v7h-1zM100 367h1v7h-1zM103 367h1v7h-1zM124 367h1v7h-1zM128 367h1v7h-1zM137 367h1v7h-1zM12 374h1v8h-1zM37 374h1v8h-1zM42 374h1v8h-1zM50 374h1v8h-1zM58 374h1v8h-1zM61 374h1v8h-1zM77 374h1v8h-1zM81 374h1v8h-1zM103 374h1v8h-1zM109 374h1v8h-1zM116 374h1v8h-1zM118 374h1v8h-1zM119 374h1v8h-1zM138 374h1v8h-1zM9 382h1v8h-1zM35 382h1v8h-1zM47 382h1v8h-1zM73 382h1v8h-1zM111 382h1v8h-1zM115 382h1v8h-1zM119 382h1v8h-1zM124 382h1v8h-1zM132 382h1v8h-1zM17 390h1v7h-1zM18 390h1v7h-1zM32 390h1v7h-1zM44 390h1v7h-1zM45 390h1v7h-1zM68 390h1v7h-1zM69 390h1v7h-1zM96 390h1v7h-1zM98 390h1v7h-1zM106 390h1v7h-1zM127 390h1v7h-1zM138 390h1v7h-1zM27 397h1v8h-1zM49 397h1v8h-1zM73 397h1v8h-1zM87 397h1v8h-1zM90 397h1v8h-1zM100 397h1v8h-1zM112 397h1v8h-1zM127 397h1v8h-1zM132 397h1v8h-1zM31 405h1v8h-1zM58 405h1v8h-1zM67 405h1v8h-1zM68 405h1v8h-1zM76 405h1v8h-1zM93 405h1v8h-1zM120 405h1v8h-1zM1 413h1v7h-1zM13 413h1v7h-1zM20 413h1v7h-1zM34 413h1v7h-1zM35 413h1v7h-1zM37 413h1v7h-1zM45 413h1v7h-1zM52 413h1v7h-1zM56 413h1v7h-1zM58 413h1v7h-1zM75 413h1v7h-1zM122 413h1v7h-1zM127 413h1v7h-1zM136 413h1v7h-1zM26 420h1v8h-1zM38 420h1v8h-1zM84 420h1v8h-1zM88 420h1v8h-1zM101 420h1v8h-1zM120 420h1v8h-1zM132 420h1v8h-1zM134 420h1v8h-1zM11 428h1v8h-1zM40 428h1v8h-1zM41 428h1v8h-1zM60 428h1v8h-1zM64 428h1v8h-1zM75 428h1v8h-1zM83 428h1v8h-1zM85 428h1v8h-1zM107 428h1v8h-1zM111 428h1v8h-1zM120 428h1v8h-1zM127 428h1v8h-1zM131 428h1v8h-1zM138 428h1v8h-1zM30 436h1v7h-1zM35 436h1v7h-1zM47 436h1v7h-1zM48 436h1v7h-1zM78 436h1v7h-1zM82 436h1v7h-1zM96 436h1v7h-1zM100 436h1v7h-1zM119 436h1v7h-1zM123 436h1v7h-1zM3 443h1v8h-1zM4 443h1v8h-1zM13 443h1v8h-1zM38 443h1v8h-1zM60 443h1v8h-1zM107 443h1v8h-1zM115 443h1v8h-1zM117 443h1v8h-1zM138 443h1v8h-1zM36 451h1v7h-1zM66 451h1v7h-1zM72 451h1v7h-1zM89 451h1v7h-1zM106 451h1v7h-1zM119 451h1v7h-1zM14 458h1v8h-1zM15 458h1v8h-1zM39 458h1v8h-1zM41 458h1v8h-1zM54 458h1v8h-1zM70 458h1v8h-1zM2 466h1v8h-1zM8 466h1v8h-1zM14 466h1v8h-1zM25 466h1v8h-1zM39 466h1v8h-1zM53 466h1v8h-1zM76 466h1v8h-1zM131 466h1v8h-1zM0 474h1v7h-1zM36 474h1v7h-1zM37 474h1v7h-1zM44 474h1v7h-1zM59 474h1v7h-1zM74 474h1v7h-1zM78 474h1v7h-1zM96 474h1v7h-1zM118 474h1v7h-1zM122 474h1v7h-1zM6 481h1v8h-1zM20 481h1v8h-1zM30 481h1v8h-1zM31 481h1v8h-1zM38 481h1v8h-1zM40 481h1v8h-1zM46 481h1v8h-1zM60 481h1v8h-1zM75 481h1v8h-1zM114 481h1v8h-1zM116 481h1v8h-1zM128 481h1v8h-1zM133 481h1v8h-1zM134 481h1v8h-1zM135 481h1v8h-1zM138 481h1v8h-1z"/><path fill="#101010" d="M12 0h1v8h-1zM16 0h1v8h-1zM18 0h1v8h-1zM43 0h1v8h-1zM52 0h1v8h-1zM63 0h1v8h-1zM64 0h1v8h-1zM72 0h1v8h-1zM76 0h1v8h-1zM86 0h1v8h-1zM112 0h1v8h-1zM20 8h1v7h-1zM34 8h1v7h-1zM36 8h1v7h-1zM55 8h1v7h-1zM59 8h1v7h-1zM107 8h1v7h-1zM108 8h1v7h-1zM125 8h1v7h-1zM0 15h1v8h-1zM2 15h1v8h-1zM11 15h1v8h-1zM73 15h1v8h-1zM81 15h1v8h-1zM101 15h1v8h-1zM117 15h1v8h-1zM22 23h1v8h-1zM25 23h1v8h-1zM30 23h1v8h-1zM39 23h1v8h-1zM42 23h1v8h-1zM55 23h1v8h-1zM56 23h1v8h-1zM60 23h1v8h-1zM78 23h1v8h-1zM90 23h1v8h-1zM93 23h1v8h-1zM105 23h1v8h-1zM29 31h1v7h-1zM61 31h1v7h-1zM64 31h1v7h-1zM72 31h1v7h-1zM93 31h1v7h-1zM98 31h1v7h-1zM115 31h1v7h-1zM136 31h1v7h-1zM10 38h1v8h-1zM63 38h1v8h-1zM69 38h1v8h-1zM104 38h1v8h-1zM106 38h1v8h-1zM21 46h1v7h-1zM78 46h1v7h-1zM80 46h1v7h-1zM136 46h1v7h-1zM70 53h1v8h-1zM90 53h1v8h-1zM15 61h1v8h-1zM32 61h1v8h-1zM77 61h1v8h-1zM85 61h1v8h-1zM96 61h1v8h-1zM118 61h1v8h-1zM25 69h1v7h-1zM29 69h1v7h-1zM32 69h1v7h-1zM38 69h1v7h-1zM75 69h1v7h-1zM87 69h1v7h-1zM104 69h1v7h-1zM111 69h1v7h-1zM24 76h1v8h-1zM31 76h1v8h-1zM79 76h1v8h-1zM80 76h1v8h-1zM108 76h1v8h-1zM113 76h1v8h-1zM125 76h1v8h-1zM126 76h1v8h-1zM130 76h1v8h-1zM5 84h1v8h-1zM12 84h1v8h-1zM28 84h1v8h-1zM30 84h1v8h-1zM44 84h1v8h-1zM92 84h1v8h-1zM119 84h1v8h-1zM9 92h1v7h-1zM13 92h1v7h-1zM29 92h1v7h-1zM41 92h1v7h-1zM44 92h1v7h-1zM113 92h1v7h-1zM123 92h1v7h-1zM18 99h1v8h-1zM76 99h1v8h-1zM88 99h1v8h-1zM108 99h1v8h-1zM8 107h1v8h-1zM9 107h1v8h-1zM16 107h1v8h-1zM59 107h1v8h-1zM62 107h1v8h-1zM86 107h1v8h-1zM116 107h1v8h-1zM135 107h1v8h-1zM2 115h1v7h-1zM9 115h1v7h-1zM11 115h1v7h-1zM21 115h1v7h-1zM32 115h1v7h-1zM60 115h1v7h-1zM63 115h1v7h-1zM93 115h1v7h-1zM103 115h1v7h-1zM108 115h1v7h-1zM109 115h1v7h-1zM119 115h1v7h-1zM0 122h1v8h-1zM20 122h1v8h-1zM56 122h1v8h-1zM74 122h1v8h-1zM110 122h1v8h-1zM121 122h1v8h-1zM27 130h1v8h-1zM52 130h1v8h-1zM116 130h1v8h-1zM134 130h1v8h-1zM137 130h1v8h-1zM15 138h1v7h-1zM39 138h1v7h-1zM45 138h1v7h-1zM52 138h1v7h-1zM76 138h1v7h-1zM88 138h1v7h-1zM65 145h1v8h-1zM70 145h1v8h-1zM117 145h1v8h-1zM131 145h1v8h-1zM31 153h1v7h-1zM40 153h1v7h-1zM42 153h1v7h-1zM54 153h1v7h-1zM60 153h1v7h-1zM90 153h1v7h-1zM96 153h1v7h-1zM100 153h1v7h-1zM111 153h1v7h-1zM112 153h1v7h-1zM131 153h1v7h-1zM13 160h1v8h-1zM60 160h1v8h-1zM63 160h1v8h-1zM92 160h1v8h-1zM93 160h1v8h-1zM134 160h1v8h-1zM137 160h1v8h-1zM36 168h1v8h-1zM48 168h1v8h-1zM64 168h1v8h-1zM85 168h1v8h-1zM28 176h1v7h-1zM137 176h1v7h-1zM12 183h1v8h-1zM16 183h1v8h-1zM18 183h1v8h-1zM32 183h1v8h-1zM33 183h1v8h-1zM41 183h1v8h-1zM69 183h1v8h-1zM87 183h1v8h-1zM88 183h1v8h-1zM91 183h1v8h-1zM113 183h1v8h-1zM120 183h1v8h-1zM3 191h1v8h-1zM17 191h1v8h-1zM73 191h1v8h-1zM88 191h1v8h-1zM91 191h1v8h-1zM92 191h1v8h-1zM124 191h1v8h-1zM11 199h1v7h-1zM16 199h1v7h-1zM41 199h1v7h-1zM42 199h1v7h-1zM47 199h1v7h-1zM61 199h1v7h-1zM64 199h1v7h-1zM65 199h1v7h-1zM84 199h1v7h-1zM107 199h1v7h-1zM108 199h1v7h-1zM110 199h1v7h-1zM122 199h1v7h-1zM12 206h1v8h-1zM65 206h1v8h-1zM80 206h1v8h-1zM88 206h1v8h-1zM102 206h1v8h-1zM103 206h1v8h-1zM135 206h1v8h-1zM0 214h1v8h-1zM1 214h1v8h-1zM11 214h1v8h-1zM37 214h1v8h-1zM38 214h1v8h-1zM40 214h1v8h-1zM92 214h1v8h-1zM95 214h1v8h-1zM111 214h1v8h-1zM124 214h1v8h-1zM125 214h1v8h-1zM22 222h1v7h-1zM65 222h1v7h-1zM84 222h1v7h-1zM137 222h1v7h-1zM67 229h1v8h-1zM71 229h1v8h-1zM95 229h1v8h-1zM136 229h1v8h-1zM137 229h1v8h-1zM8 237h1v7h-1zM40 237h1v7h-1zM62 237h1v7h-1zM66 237h1v7h-1zM75 237h1v7h-1zM82 237h1v7h-1zM114 237h1v7h-1zM133 237h1v7h-1zM58 244h1v8h-1zM64 244h1v8h-1zM99 244h1v8h-1zM105 244h1v8h-1zM2 252h1v8h-1zM3 252h1v8h-1zM30 252h1v8h-1zM31 252h1v8h-1zM65 252h1v8h-1zM88 252h1v8h-1zM100 252h1v8h-1zM133 252h1v8h-1zM12 260h1v7h-1zM20 260h1v7h-1zM21 260h1v7h-1zM34 260h1v7h-1zM48 260h1v7h-1zM65 260h1v7h-1zM69 260h1v7h-1zM87 260h1v7h-1zM136 260h1v7h-1zM27 267h1v8h-1zM28 267h1v8h-1zM29 267h1v8h-1zM42 267h1v8h-1zM56 267h1v8h-1zM129 267h1v8h-1zM12 275h1v8h-1zM46 275h1v8h-1zM47 275h1v8h-1zM77 275h1v8h-1zM84 275h1v8h-1zM85 275h1v8h-1zM90 275h1v8h-1zM2 283h1v7h-1zM17 283h1v7h-1zM21 283h1v7h-1zM44 283h1v7h-1zM53 283h1v7h-1zM104 283h1v7h-1zM128 283h1v7h-1zM129 283h1v7h-1zM130 283h1v7h-1zM5 290h1v8h-1zM6 290h1v8h-1zM13 290h1v8h-1zM14 290h1v8h-1zM25 290h1v8h-1zM77 290h1v8h-1zM88 290h1v8h-1zM107 290h1v8h-1zM112 290h1v8h-1zM137 290h1v8h-1zM138 290h1v8h-1zM27 298h1v8h-1zM39 298h1v8h-1zM59 298h1v8h-1zM46 306h1v7h-1zM99 306h1v7h-1zM106 306h1v7h-1zM111 306h1v7h-1zM117 306h1v7h-1zM121 306h1v7h-1zM74 313h1v8h-1zM91 313h1v8h-1zM122 313h1v8h-1zM133 313h1v8h-1zM15 321h1v8h-1zM71 321h1v8h-1zM82 321h1v8h-1zM114 321h1v8h-1zM132 321h1v8h-1zM16 329h1v7h-1zM24 329h1v7h-1zM30 329h1v7h-1zM43 329h1v7h-1zM44 329h1v7h-1zM46 329h1v7h-1zM92 329h1v7h-1zM98 329h1v7h-1zM114 329h1v7h-1zM119 329h1v7h-1zM128 329h1v7h-1zM12 336h1v8h-1zM36 336h1v8h-1zM42 336h1v8h-1zM48 336h1v8h-1zM91 336h1v8h-1zM124 336h1v8h-1zM129 336h1v8h-1zM21 344h1v7h-1zM39 344h1v7h-1zM69 344h1v7h-1zM78 344h1v7h-1zM92 344h1v7h-1zM120 344h1v7h-1zM0 351h1v8h-1zM16 351h1v8h-1zM31 351h1v8h-1zM35 351h1v8h-1zM41 351h1v8h-1zM50 351h1v8h-1zM70 351h1v8h-1zM71 351h1v8h-1zM111 351h1v8h-1zM112 351h1v8h-1zM137 351h1v8h-1zM5 359h1v8h-1zM12 359h1v8h-1zM47 359h1v8h-1zM89 359h1v8h-1zM15 367h1v7h-1zM44 367h1v7h-1zM59 367h1v7h-1zM68 367h1v7h-1zM105 367h1v7h-1zM107 367h1v7h-1zM123 367h1v7h-1zM132 367h1v7h-1zM0 374h1v8h-1zM1 374h1v8h-1zM13 374h1v8h-1zM15 374h1v8h-1zM22 374h1v8h-1zM24 374h1v8h-1zM45 374h1v8h-1zM47 374h1v8h-1zM52 374h1v8h-1zM54 374h1v8h-1zM102 374h1v8h-1zM108 374h1v8h-1zM40 382h1v8h-1zM53 382h1v8h-1zM77 382h1v8h-1zM125 382h1v8h-1zM2 390h1v7h-1zM33 390h1v7h-1zM40 390h1v7h-1zM62 390h1v7h-1zM103 390h1v7h-1zM107 390h1v7h-1zM116 390h1v7h-1zM137 390h1v7h-1zM0 397h1v8h-1zM1 397h1v8h-1zM36 397h1v8h-1zM41 397h1v8h-1zM42 397h1v8h-1zM43 397h1v8h-1zM57 397h1v8h-1zM71 397h1v8h-1zM105 397h1v8h-1zM107 397h1v8h-1zM13 405h1v8h-1zM25 405h1v8h-1zM26 405h1v8h-1zM52 405h1v8h-1zM92 405h1v8h-1zM111 405h1v8h-1zM133 405h1v8h-1zM6 413h1v7h-1zM51 413h1v7h-1zM79 413h1v7h-1zM93 413h1v7h-1zM101 413h1v7h-1zM103 413h1v7h-1zM121 413h1v7h-1zM123 413h1v7h-1zM20 420h1v8h-1zM58 420h1v8h-1zM70 420h1v8h-1zM71 420h1v8h-1zM97 420h1v8h-1zM138 420h1v8h-1zM10 428h1v8h-1zM19 428h1v8h-1zM21 428h1v8h-1zM22 428h1v8h-1zM23 428h1v8h-1zM86 428h1v8h-1zM89 428h1v8h-1zM108 428h1v8h-1zM7 436h1v7h-1zM8 436h1v7h-1zM19 436h1v7h-1zM58 436h1v7h-1zM86 436h1v7h-1zM112 436h1v7h-1zM113 436h1v7h-1zM116 436h1v7h-1zM126 436h1v7h-1zM41 443h1v8h-1zM90 443h1v8h-1zM99 443h1v8h-1zM109 443h1v8h-1zM118 443h1v8h-1zM16 451h1v7h-1zM24 451h1v7h-1zM25 451h1v7h-1zM34 451h1v7h-1zM70 451h1v7h-1zM109 451h1v7h-1zM110 451h1v7h-1zM112 451h1v7h-1zM129 451h1v7h-1zM132 451h1v7h-1zM13 458h1v8h-1zM35 458h1v8h-1zM40 458h1v8h-1zM43 458h1v8h-1zM52 458h1v8h-1zM61 458h1v8h-1zM84 458h1v8h-1zM123 458h1v8h-1zM22 466h1v8h-1zM26 466h1v8h-1zM31 466h1v8h-1zM61 466h1v8h-1zM64 466h1v8h-1zM66 466h1v8h-1zM79 466h1v8h-1zM87 466h1v8h-1zM128 466h1v8h-1zM137 466h1v8h-1zM6 474h1v7h-1zM9 474h1v7h-1zM10 474h1v7h-1zM24 474h1v7h-1zM31 474h1v7h-1zM45 474h1v7h-1zM46 474h1v7h-1zM69 474h1v7h-1zM83 474h1v7h-1zM106 474h1v7h-1zM111 474h1v7h-1zM112 474h1v7h-1zM14 481h1v8h-1zM56 481h1v8h-1zM69 481h1v8h-1zM98 481h1v8h-1z"/><path fill="#141414" d="M46 0h1v8h-1zM67 0h1v8h-1zM68 0h1v8h-1zM90 0h1v8h-1zM93 0h1v8h-1zM4 8h1v7h-1zM5 8h1v7h-1zM56 8h1v7h-1zM60 8h1v7h-1zM73 8h1v7h-1zM133 8h1v7h-1zM21 15h1v8h-1zM58 15h1v8h-1zM114 15h1v8h-1zM36 23h1v8h-1zM44 23h1v8h-1zM46 23h1v8h-1zM61 23h1v8h-1zM73 23h1v8h-1zM75 23h1v8h-1zM104 23h1v8h-1zM16 31h1v7h-1zM20 31h1v7h-1zM60 31h1v7h-1zM90 31h1v7h-1zM103 31h1v7h-1zM104 31h1v7h-1zM18 46h1v7h-1zM71 46h1v7h-1zM94 46h1v7h-1zM114 46h1v7h-1zM8 53h1v8h-1zM22 53h1v8h-1zM30 53h1v8h-1zM35 53h1v8h-1zM60 53h1v8h-1zM29 61h1v8h-1zM54 61h1v8h-1zM79 61h1v8h-1zM97 61h1v8h-1zM134 61h1v8h-1zM12 69h1v7h-1zM50 69h1v7h-1zM94 69h1v7h-1zM129 69h1v7h-1zM83 76h1v8h-1zM107 76h1v8h-1zM6 84h1v8h-1zM24 84h1v8h-1zM63 84h1v8h-1zM64 84h1v8h-1zM88 84h1v8h-1zM128 84h1v8h-1zM0 92h1v7h-1zM1 92h1v7h-1zM22 92h1v7h-1zM84 92h1v7h-1zM122 92h1v7h-1zM41 99h1v8h-1zM15 107h1v8h-1zM29 107h1v8h-1zM31 107h1v8h-1zM51 107h1v8h-1zM127 107h1v8h-1zM131 107h1v8h-1zM8 115h1v7h-1zM20 115h1v7h-1zM35 115h1v7h-1zM44 115h1v7h-1zM45 115h1v7h-1zM59 115h1v7h-1zM67 115h1v7h-1zM117 115h1v7h-1zM120 115h1v7h-1zM137 115h1v7h-1zM138 115h1v7h-1zM50 122h1v8h-1zM136 122h1v8h-1zM18 130h1v8h-1zM26 130h1v8h-1zM38 130h1v8h-1zM72 130h1v8h-1zM103 130h1v8h-1zM25 138h1v7h-1zM86 138h1v7h-1zM123 138h1v7h-1zM132 138h1v7h-1zM16 145h1v8h-1zM21 145h1v8h-1zM74 145h1v8h-1zM115 145h1v8h-1zM132 145h1v8h-1zM1 153h1v7h-1zM49 153h1v7h-1zM121 153h1v7h-1zM124 153h1v7h-1zM61 160h1v8h-1zM77 160h1v8h-1zM78 160h1v8h-1zM107 160h1v8h-1zM37 168h1v8h-1zM78 168h1v8h-1zM81 168h1v8h-1zM87 168h1v8h-1zM13 176h1v7h-1zM39 176h1v7h-1zM99 176h1v7h-1zM113 176h1v7h-1zM83 183h1v8h-1zM109 183h1v8h-1zM110 183h1v8h-1zM119 183h1v8h-1zM4 191h1v8h-1zM16 191h1v8h-1zM37 191h1v8h-1zM49 191h1v8h-1zM53 191h1v8h-1zM59 191h1v8h-1zM129 191h1v8h-1zM133 191h1v8h-1zM4 199h1v7h-1zM12 199h1v7h-1zM18 199h1v7h-1zM19 199h1v7h-1zM38 199h1v7h-1zM55 199h1v7h-1zM56 199h1v7h-1zM6 206h1v8h-1zM33 206h1v8h-1zM50 206h1v8h-1zM66 206h1v8h-1zM67 206h1v8h-1zM104 206h1v8h-1zM137 206h1v8h-1zM23 214h1v8h-1zM81 214h1v8h-1zM113 214h1v8h-1zM60 222h1v7h-1zM138 222h1v7h-1zM46 229h1v8h-1zM49 229h1v8h-1zM73 229h1v8h-1zM91 229h1v8h-1zM111 229h1v8h-1zM132 229h1v8h-1zM135 229h1v8h-1zM56 237h1v7h-1zM92 237h1v7h-1zM126 237h1v7h-1zM38 244h1v8h-1zM65 244h1v8h-1zM87 244h1v8h-1zM113 244h1v8h-1zM1 252h1v8h-1zM5 252h1v8h-1zM21 252h1v8h-1zM66 252h1v8h-1zM67 252h1v8h-1zM78 252h1v8h-1zM83 252h1v8h-1zM84 252h1v8h-1zM90 252h1v8h-1zM103 252h1v8h-1zM105 252h1v8h-1zM22 260h1v7h-1zM75 260h1v7h-1zM112 260h1v7h-1zM10 267h1v8h-1zM49 267h1v8h-1zM84 267h1v8h-1zM85 267h1v8h-1zM44 275h1v8h-1zM78 275h1v8h-1zM107 275h1v8h-1zM108 275h1v8h-1zM114 283h1v7h-1zM87 290h1v8h-1zM33 298h1v8h-1zM34 298h1v8h-1zM37 298h1v8h-1zM114 298h1v8h-1zM125 298h1v8h-1zM13 306h1v7h-1zM14 306h1v7h-1zM54 306h1v7h-1zM77 306h1v7h-1zM82 306h1v7h-1zM90 306h1v7h-1zM100 306h1v7h-1zM132 306h1v7h-1zM16 313h1v8h-1zM17 313h1v8h-1zM25 313h1v8h-1zM69 313h1v8h-1zM70 313h1v8h-1zM115 313h1v8h-1zM130 313h1v8h-1zM5 321h1v8h-1zM83 321h1v8h-1zM102 321h1v8h-1zM112 321h1v8h-1zM56 329h1v7h-1zM108 329h1v7h-1zM109 329h1v7h-1zM110 329h1v7h-1zM118 329h1v7h-1zM11 336h1v8h-1zM19 336h1v8h-1zM76 336h1v8h-1zM90 336h1v8h-1zM65 344h1v7h-1zM101 344h1v7h-1zM121 344h1v7h-1zM17 351h1v8h-1zM65 351h1v8h-1zM110 351h1v8h-1zM127 351h1v8h-1zM4 359h1v8h-1zM6 359h1v8h-1zM7 359h1v8h-1zM46 359h1v8h-1zM79 359h1v8h-1zM107 359h1v8h-1zM45 367h1v7h-1zM54 367h1v7h-1zM85 367h1v7h-1zM117 367h1v7h-1zM119 367h1v7h-1zM31 374h1v8h-1zM51 374h1v8h-1zM106 374h1v8h-1zM8 382h1v8h-1zM17 382h1v8h-1zM49 382h1v8h-1zM102 382h1v8h-1zM112 382h1v8h-1zM118 382h1v8h-1zM133 382h1v8h-1zM78 390h1v7h-1zM99 390h1v7h-1zM135 390h1v7h-1zM121 397h1v8h-1zM8 405h1v8h-1zM24 405h1v8h-1zM77 405h1v8h-1zM78 405h1v8h-1zM21 413h1v7h-1zM46 413h1v7h-1zM50 413h1v7h-1zM60 413h1v7h-1zM88 413h1v7h-1zM100 413h1v7h-1zM104 413h1v7h-1zM137 413h1v7h-1zM25 420h1v8h-1zM53 420h1v8h-1zM59 420h1v8h-1zM90 420h1v8h-1zM119 428h1v8h-1zM94 436h1v7h-1zM97 436h1v7h-1zM117 436h1v7h-1zM47 443h1v8h-1zM55 443h1v8h-1zM67 443h1v8h-1zM35 451h1v7h-1zM48 451h1v7h-1zM71 451h1v7h-1zM88 451h1v7h-1zM93 451h1v7h-1zM48 458h1v8h-1zM56 458h1v8h-1zM74 458h1v8h-1zM105 458h1v8h-1zM35 466h1v8h-1zM52 466h1v8h-1zM74 466h1v8h-1zM77 466h1v8h-1zM91 466h1v8h-1zM104 466h1v8h-1zM105 466h1v8h-1zM25 474h1v7h-1zM43 474h1v7h-1zM68 481h1v8h-1zM74 481h1v8h-1zM80 481h1v8h-1zM86 481h1v8h-1zM117 481h1v8h-1zM119 481h1v8h-1z"/><path fill="#181818" d="M17 0h1v8h-1zM32 8h1v7h-1zM91 8h1v7h-1zM93 8h1v7h-1zM7 15h1v8h-1zM10 15h1v8h-1zM51 15h1v8h-1zM80 15h1v8h-1zM108 15h1v8h-1zM24 23h1v8h-1zM43 23h1v8h-1zM21 31h1v7h-1zM2 38h1v8h-1zM78 38h1v8h-1zM134 38h1v8h-1zM87 46h1v7h-1zM99 46h1v7h-1zM125 46h1v7h-1zM32 53h1v8h-1zM40 53h1v8h-1zM69 53h1v8h-1zM87 53h1v8h-1zM89 53h1v8h-1zM59 61h1v8h-1zM60 61h1v8h-1zM92 69h1v7h-1zM133 69h1v7h-1zM81 76h1v8h-1zM88 76h1v8h-1zM100 76h1v8h-1zM117 76h1v8h-1zM118 76h1v8h-1zM40 84h1v8h-1zM52 84h1v8h-1zM135 84h1v8h-1zM40 92h1v7h-1zM77 92h1v7h-1zM97 92h1v7h-1zM114 92h1v7h-1zM119 92h1v7h-1zM20 107h1v8h-1zM26 107h1v8h-1zM89 115h1v7h-1zM10 122h1v8h-1zM11 122h1v8h-1zM104 130h1v8h-1zM61 145h1v8h-1zM114 145h1v8h-1zM79 153h1v7h-1zM130 153h1v7h-1zM16 160h1v8h-1zM69 160h1v8h-1zM14 168h1v8h-1zM74 168h1v8h-1zM38 176h1v7h-1zM85 176h1v7h-1zM97 176h1v7h-1zM98 176h1v7h-1zM67 183h1v8h-1zM106 183h1v8h-1zM43 191h1v8h-1zM85 191h1v8h-1zM33 199h1v7h-1zM57 199h1v7h-1zM30 214h1v8h-1zM43 214h1v8h-1zM45 214h1v8h-1zM51 214h1v8h-1zM69 214h1v8h-1zM96 214h1v8h-1zM6 229h1v8h-1zM104 229h1v8h-1zM83 237h1v7h-1zM84 237h1v7h-1zM129 244h1v8h-1zM52 252h1v8h-1zM53 252h1v8h-1zM57 252h1v8h-1zM121 252h1v8h-1zM123 252h1v8h-1zM81 260h1v7h-1zM57 267h1v8h-1zM59 267h1v8h-1zM115 267h1v8h-1zM63 275h1v8h-1zM120 275h1v8h-1zM46 283h1v7h-1zM115 283h1v7h-1zM11 290h1v8h-1zM32 306h1v7h-1zM37 313h1v8h-1zM60 321h1v8h-1zM81 321h1v8h-1zM95 321h1v8h-1zM76 329h1v7h-1zM79 329h1v7h-1zM20 336h1v8h-1zM55 336h1v8h-1zM112 336h1v8h-1zM130 336h1v8h-1zM4 351h1v8h-1zM24 351h1v8h-1zM30 351h1v8h-1zM86 351h1v8h-1zM13 359h1v8h-1zM120 359h1v8h-1zM17 367h1v7h-1zM43 367h1v7h-1zM16 382h1v8h-1zM52 382h1v8h-1zM82 382h1v8h-1zM83 382h1v8h-1zM80 390h1v7h-1zM102 390h1v7h-1zM128 390h1v7h-1zM58 397h1v8h-1zM72 397h1v8h-1zM103 397h1v8h-1zM23 405h1v8h-1zM55 413h1v7h-1zM17 428h1v8h-1zM115 436h1v7h-1zM68 443h1v8h-1zM84 443h1v8h-1zM10 451h1v7h-1zM75 458h1v8h-1zM76 458h1v8h-1zM46 466h1v8h-1zM65 466h1v8h-1zM80 466h1v8h-1zM102 466h1v8h-1zM127 466h1v8h-1zM97 474h1v7h-1zM43 481h1v8h-1zM44 481h1v8h-1zM81 481h1v8h-1zM99 481h1v8h-1zM115 481h1v8h-1zM126 481h1v8h-1zM129 481h1v8h-1z"/><path fill="#1c1c1c" d="M109 8h1v7h-1zM4 15h1v8h-1zM26 38h1v8h-1zM10 46h1v7h-1zM49 53h1v8h-1zM97 53h1v8h-1zM45 61h1v8h-1zM131 61h1v8h-1zM112 69h1v7h-1zM93 84h1v8h-1zM19 92h1v7h-1zM86 92h1v7h-1zM58 107h1v8h-1zM78 115h1v7h-1zM6 138h1v7h-1zM127 138h1v7h-1zM113 145h1v8h-1zM136 145h1v8h-1zM53 153h1v7h-1zM56 153h1v7h-1zM0 160h1v8h-1zM100 160h1v8h-1zM10 168h1v8h-1zM11 176h1v7h-1zM60 176h1v7h-1zM17 199h1v7h-1zM29 206h1v8h-1zM44 206h1v8h-1zM31 214h1v8h-1zM52 214h1v8h-1zM94 214h1v8h-1zM99 214h1v8h-1zM0 237h1v7h-1zM34 244h1v8h-1zM85 244h1v8h-1zM34 252h1v8h-1zM61 252h1v8h-1zM132 252h1v8h-1zM15 260h1v7h-1zM68 260h1v7h-1zM80 260h1v7h-1zM93 260h1v7h-1zM94 260h1v7h-1zM138 260h1v7h-1zM33 275h1v8h-1zM138 283h1v7h-1zM80 290h1v8h-1zM94 290h1v8h-1zM135 321h1v8h-1zM42 329h1v7h-1zM48 329h1v7h-1zM121 359h1v8h-1zM6 382h1v8h-1zM82 390h1v7h-1zM7 405h1v8h-1zM105 405h1v8h-1zM7 413h1v7h-1zM54 413h1v7h-1zM102 413h1v7h-1zM117 420h1v8h-1zM124 436h1v7h-1zM17 451h1v7h-1zM47 466h1v8h-1zM68 474h1v7h-1zM118 481h1v8h-1zM120 481h1v8h-1z"/><path fill="#202020" d="M73 0h1v8h-1zM19 8h1v7h-1zM113 15h1v8h-1zM72 23h1v8h-1zM38 38h1v8h-1zM88 53h1v8h-1zM55 61h1v8h-1zM56 61h1v8h-1zM117 69h1v7h-1zM3 84h1v8h-1zM115 92h1v7h-1zM3 115h1v7h-1zM43 115h1v7h-1zM107 115h1v7h-1zM12 122h1v8h-1zM51 145h1v8h-1zM64 160h1v8h-1zM99 160h1v8h-1zM71 199h1v7h-1zM107 214h1v8h-1zM8 229h1v8h-1zM94 237h1v7h-1zM104 252h1v8h-1zM16 283h1v7h-1zM45 283h1v7h-1zM53 374h1v8h-1zM3 382h1v8h-1zM46 382h1v8h-1zM35 390h1v7h-1zM79 390h1v7h-1zM42 428h1v8h-1zM20 451h1v7h-1zM103 466h1v8h-1z"/></pattern><filter id="jet" filterUnits="userSpaceOnUse" x="200" y="80" width="1120" height="1000" color-interpolation-filters="sRGB"><feComponentTransfer><feFuncR type="discrete" tableValues="0.0000 0.0000 0.0000 0.0000 0.0000 0.0000 0.0000 0.0000 0.0000 0.0000 0.0000 0.0000 0.0000 0.0000 0.0000 0.0000 0.0000 0.0000 0.0000 0.0000 0.0000 0.0000 0.0000 0.0000 0.0625 0.1250 0.1875 0.2500 0.3125 0.3750 0.4375 0.5000 0.5625 0.6250 0.6875 0.7500 0.8125 0.8750 0.9375 1.0000 1.0000 1.0000 1.0000 1.0000 1.0000 1.0000 1.0000 1.0000 1.0000 1.0000 1.0000 1.0000 1.0000 1.0000 1.0000 1.0000 0.9375 0.8750 0.8125 0.7500 0.6875 0.6250 0.5625 0.5000"/><feFuncG type="discrete" tableValues="0.0000 0.0000 0.0000 0.0000 0.0000 0.0000 0.0000 0.0000 0.0625 0.1250 0.1875 0.2500 0.3125 0.3750 0.4375 0.5000 0.5625 0.6250 0.6875 0.7500 0.8125 0.8750 0.9375 1.0000 1.0000 1.0000 1.0000 1.0000 1.0000 1.0000 1.0000 1.0000 1.0000 1.0000 1.0000 1.0000 1.0000 1.0000 1.0000 1.0000 0.9375 0.8750 0.8125 0.7500 0.6875 0.6250 0.5625 0.5000 0.4375 0.3750 0.3125 0.2500 0.1875 0.1250 0.0625 0.0000 0.0000 0.0000 0.0000 0.0000 0.0000 0.0000 0.0000 0.0000"/><feFuncB type="discrete" tableValues="0.5625 0.6250 0.6875 0.7500 0.8125 0.8750 0.9375 1.0000 1.0000 1.0000 1.0000 1.0000 1.0000 1.0000 1.0000 1.0000 1.0000 1.0000 1.0000 1.0000 1.0000 1.0000 1.0000 1.0000 0.9375 0.8750 0.8125 0.7500 0.6875 0.6250 0.5625 0.5000 0.4375 0.3750 0.3125 0.2500 0.1875 0.1250 0.0625 0.0000 0.0000 0.0000 0.0000 0.0000 0.0000 0.0000 0.0000 0.0000 0.0000 0.0000 0.0000 0.0000 0.0000 0.0000 0.0000 0.0000 0.0000 0.0000 0.0000 0.0000 0.0000 0.0000 0.0000 0.0000"/></feComponentTransfer></filter></defs>
<rect x="208" y="90" width="1097" height="979" fill="#00008f"/>
<g filter="url(#jet)" shape-rendering="crispEdges">
<path fill="#262626" d="M1233 709h36v8h-36zM1161 999h36v8h-36zM1096 1007h16v8h-16zM1197 1015h36v7h-36z"/>
<path fill="#2a2a2a" d="M1197 709h36v8h-36zM1233 961h36v8h-36zM1269 961h36v8h-36zM1161 1015h36v7h-36z"/>
<path fill="#2e2e2e" d="M1197 961h36v8h-36zM1080 1007h16v8h-16z"/>
<path fill="#323232" d="M1161 709h36v8h-36zM1269 717h36v7h-36zM1161 961h36v8h-36zM1112 999h15v8h-15zM1127 999h15v8h-15zM1142 999h16v8h-16zM1112 1015h15v7h-15zM1127 1015h15v7h-15zM1142 1015h16v7h-16z"/>
<path fill="#363636" d="M1269 701h36v8h-36zM1233 717h36v7h-36zM1269 778h36v7h-36zM1269 969h36v7h-36z"/>
<path fill="#3a3a3a" d="M1197 701h36v8h-36zM1233 701h36v8h-36zM1127 709h15v8h-15zM1142 709h16v8h-16zM1197 717h36v7h-36zM1269 747h36v8h-36zM1233 778h36v7h-36zM1269 785h36v8h-36zM1112 961h15v8h-15zM1127 961h15v8h-15zM1142 961h16v8h-16zM1233 969h36v7h-36zM1096 999h16v8h-16zM1065 1007h15v8h-15zM1096 1015h16v7h-16z"/>
<path fill="#3e3e3e" d="M1269 648h36v7h-36zM1269 655h36v8h-36zM1161 701h36v8h-36zM1233 747h36v8h-36zM1269 755h36v7h-36zM223 770h154v8h-154zM1197 778h36v7h-36zM1233 785h36v8h-36zM1096 961h16v8h-16zM1269 992h36v7h-36zM1080 999h16v8h-16zM1080 1015h16v7h-16z"/>
<path fill="#424242" d="M223 464h154v8h-154zM453 464h37v8h-37zM377 610h27v7h-27zM1269 625h36v7h-36zM1269 640h36v8h-36zM1197 648h36v7h-36zM1233 648h36v7h-36zM1197 655h36v8h-36zM1233 655h36v8h-36zM1269 663h36v8h-36zM377 678h27v8h-27zM377 686h27v8h-27zM1112 709h15v8h-15zM1161 717h36v7h-36zM1161 747h36v8h-36zM1197 747h36v8h-36zM1197 755h36v7h-36zM1233 755h36v7h-36zM385 770h142v8h-142zM1161 778h36v7h-36zM1197 785h36v8h-36zM1269 953h36v8h-36zM1080 961h16v8h-16zM1197 969h36v7h-36zM1233 992h36v7h-36zM1050 1007h15v8h-15z"/>
<path fill="#464646" d="M223 151h154v8h-154zM453 151h37v8h-37zM490 151h38v8h-38zM223 159h154v7h-154zM453 159h37v7h-37zM490 159h38v7h-38zM223 205h154v7h-154zM415 205h38v7h-38zM453 205h37v7h-37zM490 205h38v7h-38zM453 212h37v8h-37zM453 243h37v7h-37zM453 327h37v7h-37zM223 334h154v8h-154zM453 334h37v8h-37zM490 334h38v8h-38zM453 365h37v8h-37zM223 373h154v7h-154zM453 373h37v7h-37zM490 373h38v7h-38zM223 380h154v8h-154zM415 380h38v8h-38zM453 380h37v8h-37zM490 380h38v8h-38zM223 388h154v8h-154zM453 388h37v8h-37zM490 388h38v8h-38zM223 457h154v7h-154zM453 457h37v7h-37zM490 457h38v7h-38zM415 464h38v8h-38zM490 464h38v8h-38zM453 510h37v8h-37zM404 610h27v7h-27zM1269 610h36v7h-36zM1269 617h36v8h-36zM1233 625h36v7h-36zM1233 640h36v8h-36zM1127 648h15v7h-15zM1142 648h16v7h-16zM1161 648h36v7h-36zM1127 655h15v8h-15zM1142 655h16v8h-16zM1161 655h36v8h-36zM1233 663h36v8h-36zM404 678h27v8h-27zM404 686h27v8h-27zM1127 701h15v8h-15zM1142 701h16v8h-16zM1096 709h16v8h-16zM377 724h27v8h-27zM1269 724h36v8h-36zM1269 739h36v8h-36zM1142 747h16v8h-16zM1161 755h36v7h-36zM212 770h2v8h-2zM1127 778h15v7h-15zM1142 778h16v7h-16zM1161 785h36v8h-36zM1233 953h36v8h-36zM1161 969h36v7h-36zM1197 992h36v7h-36zM1065 999h15v8h-15zM1065 1015h15v7h-15z"/>
<path fill="#4a4a4a" d="M415 151h38v8h-38zM415 159h38v7h-38zM453 197h37v8h-37zM490 197h38v8h-38zM377 205h38v7h-38zM528 205h38v7h-38zM223 212h154v8h-154zM415 212h38v8h-38zM490 212h38v8h-38zM453 235h37v8h-37zM223 243h154v7h-154zM415 243h38v7h-38zM490 243h38v7h-38zM453 273h37v8h-37zM490 273h38v8h-38zM453 281h37v8h-37zM490 281h38v8h-38zM223 327h154v7h-154zM415 327h38v7h-38zM490 327h38v7h-38zM415 334h38v8h-38zM453 342h37v8h-37zM490 342h38v8h-38zM223 365h154v8h-154zM415 365h38v8h-38zM490 365h38v8h-38zM415 373h38v7h-38zM377 380h38v8h-38zM528 380h38v8h-38zM415 388h38v8h-38zM453 449h37v8h-37zM415 457h38v7h-38zM377 464h38v8h-38zM528 464h38v8h-38zM453 503h37v7h-37zM223 510h154v8h-154zM415 510h38v8h-38zM490 510h38v8h-38zM453 518h37v8h-37zM223 610h154v7h-154zM431 610h27v7h-27zM1233 610h36v7h-36zM377 617h27v8h-27zM1233 617h36v8h-36zM1197 625h36v7h-36zM1269 632h36v8h-36zM1161 640h36v8h-36zM1197 640h36v8h-36zM1112 655h15v8h-15zM1161 663h36v8h-36zM1197 663h36v8h-36zM377 671h27v7h-27zM223 678h154v8h-154zM431 678h27v8h-27zM223 686h154v8h-154zM431 686h27v8h-27zM1112 701h15v8h-15zM404 724h27v8h-27zM1233 724h36v8h-36zM1161 739h36v8h-36zM1197 739h36v8h-36zM1233 739h36v8h-36zM1127 747h15v8h-15zM1112 778h15v7h-15zM1197 793h36v8h-36zM1233 793h36v8h-36zM1269 793h36v8h-36zM1161 953h36v8h-36zM1197 953h36v8h-36zM1065 961h15v8h-15zM1161 992h36v7h-36z"/>
<path fill="#4e4e4e" d="M453 143h37v8h-37zM377 151h38v8h-38zM528 151h38v8h-38zM377 159h38v7h-38zM528 159h38v7h-38zM223 197h154v8h-154zM415 197h38v8h-38zM212 205h2v7h-2zM377 212h38v8h-38zM528 212h38v8h-38zM223 235h154v8h-154zM415 235h38v8h-38zM490 235h38v8h-38zM377 243h38v7h-38zM528 243h38v7h-38zM415 266h38v7h-38zM453 266h37v7h-37zM490 266h38v7h-38zM223 273h154v8h-154zM415 273h38v8h-38zM223 281h154v8h-154zM415 281h38v8h-38zM453 319h37v8h-37zM377 327h38v7h-38zM528 327h38v7h-38zM377 334h38v8h-38zM528 334h38v8h-38zM223 342h154v8h-154zM415 342h38v8h-38zM377 365h38v8h-38zM528 365h38v8h-38zM377 373h38v7h-38zM528 373h38v7h-38zM212 380h2v8h-2zM377 388h38v8h-38zM528 388h38v8h-38zM415 426h38v8h-38zM453 426h37v8h-37zM490 426h38v8h-38zM415 434h38v7h-38zM453 434h37v7h-37zM490 434h38v7h-38zM453 441h37v8h-37zM223 449h154v8h-154zM415 449h38v8h-38zM490 449h38v8h-38zM377 457h38v7h-38zM528 457h38v7h-38zM212 464h2v8h-2zM566 464h135v8h-135zM701 464h1v8h-1zM711 464h42v8h-42zM415 472h38v8h-38zM453 472h37v8h-37zM490 472h38v8h-38zM453 480h37v7h-37zM223 503h154v7h-154zM415 503h38v7h-38zM490 503h38v7h-38zM377 510h38v8h-38zM528 510h38v8h-38zM223 518h154v8h-154zM415 518h38v8h-38zM490 518h38v8h-38zM453 541h37v7h-37zM458 610h27v7h-27zM1197 610h36v7h-36zM404 617h27v8h-27zM1197 617h36v8h-36zM1161 625h36v7h-36zM1233 632h36v8h-36zM1127 640h15v8h-15zM1142 640h16v8h-16zM1112 648h15v7h-15zM1127 663h15v8h-15zM1142 663h16v8h-16zM404 671h27v7h-27zM458 686h27v8h-27zM377 694h27v7h-27zM1080 709h16v8h-16zM1127 717h15v7h-15zM1142 717h16v7h-16zM223 724h154v8h-154zM431 724h27v8h-27zM1197 724h36v8h-36zM1233 732h36v7h-36zM1269 732h36v7h-36zM1127 739h15v8h-15zM1142 739h16v8h-16zM1112 747h15v8h-15zM1127 755h15v7h-15zM1142 755h16v7h-16zM1233 762h36v8h-36zM1269 762h36v8h-36zM1127 785h15v8h-15zM1142 785h16v8h-16zM1127 793h15v8h-15zM1142 793h16v8h-16zM1161 793h36v8h-36zM1269 946h36v7h-36zM1096 953h16v8h-16zM1112 953h15v8h-15zM1127 953h15v8h-15zM1142 953h16v8h-16zM1096 969h16v7h-16zM1112 969h15v7h-15zM1127 969h15v7h-15zM1142 969h16v7h-16zM1233 976h36v8h-36zM1269 976h36v8h-36zM1233 984h36v8h-36zM1269 984h36v8h-36zM377 992h27v7h-27zM1112 992h15v7h-15zM1127 992h15v7h-15zM1142 992h16v7h-16zM1050 999h15v8h-15zM1034 1007h16v8h-16zM1050 1015h15v7h-15zM1233 1022h36v8h-36zM1269 1022h36v8h-36zM377 1037h27v8h-27z"/>
<path fill="#525252" d="M415 143h38v8h-38zM490 143h38v8h-38zM212 151h2v8h-2zM566 151h135v8h-135zM701 151h1v8h-1zM711 151h42v8h-42zM212 159h2v7h-2zM566 159h135v7h-135zM701 159h1v7h-1zM711 159h42v7h-42zM453 166h37v8h-37zM453 189h37v8h-37zM377 197h38v8h-38zM528 197h38v8h-38zM566 205h135v7h-135zM701 205h1v7h-1zM711 205h42v7h-42zM453 220h37v8h-37zM490 220h38v8h-38zM415 228h38v7h-38zM453 228h37v7h-37zM490 228h38v7h-38zM377 235h38v8h-38zM528 235h38v8h-38zM415 250h38v8h-38zM453 250h37v8h-37zM490 250h38v8h-38zM453 258h37v8h-37zM223 266h154v7h-154zM377 266h38v7h-38zM528 266h38v7h-38zM377 273h38v8h-38zM528 273h38v8h-38zM377 281h38v8h-38zM528 281h38v8h-38zM415 289h38v7h-38zM453 289h37v7h-37zM490 289h38v7h-38zM453 312h37v7h-37zM415 319h38v8h-38zM490 319h38v8h-38zM212 334h2v8h-2zM566 334h135v8h-135zM701 334h1v8h-1zM711 334h42v8h-42zM377 342h38v8h-38zM528 342h38v8h-38zM453 357h37v8h-37zM212 373h2v7h-2zM566 373h135v7h-135zM701 373h1v7h-1zM711 373h42v7h-42zM566 380h135v8h-135zM701 380h1v8h-1zM711 380h42v8h-42zM212 388h2v8h-2zM566 388h135v8h-135zM701 388h1v8h-1zM711 388h42v8h-42zM453 396h37v7h-37zM490 396h38v7h-38zM453 403h37v8h-37zM490 403h38v8h-38zM223 426h154v8h-154zM377 426h38v8h-38zM528 426h38v8h-38zM223 434h154v7h-154zM377 434h38v7h-38zM528 434h38v7h-38zM415 441h38v8h-38zM490 441h38v8h-38zM377 449h38v8h-38zM528 449h38v8h-38zM212 457h2v7h-2zM566 457h135v7h-135zM701 457h1v7h-1zM711 457h42v7h-42zM223 472h154v8h-154zM377 472h38v8h-38zM528 472h38v8h-38zM415 480h38v7h-38zM490 480h38v7h-38zM453 487h37v8h-37zM490 487h38v8h-38zM453 495h37v8h-37zM490 495h38v8h-38zM377 503h38v7h-38zM528 503h38v7h-38zM377 518h38v8h-38zM528 518h38v8h-38zM453 526h37v7h-37zM415 541h38v7h-38zM490 541h38v7h-38zM212 610h2v7h-2zM1161 610h36v7h-36zM223 617h154v8h-154zM431 617h27v8h-27zM1161 617h36v8h-36zM1197 632h36v8h-36zM1112 640h15v8h-15zM1096 648h16v7h-16zM1096 655h16v8h-16zM377 663h27v8h-27zM1112 663h15v8h-15zM223 671h154v7h-154zM431 671h27v7h-27zM458 678h27v8h-27zM212 686h2v8h-2zM404 694h27v7h-27zM1096 701h16v8h-16zM377 717h27v7h-27zM404 717h27v7h-27zM1112 717h15v7h-15zM458 724h27v8h-27zM1161 724h36v8h-36zM377 732h27v7h-27zM1161 732h36v7h-36zM1197 732h36v7h-36zM1112 739h15v8h-15zM1096 747h16v8h-16zM377 755h27v7h-27zM1112 755h15v7h-15zM1161 762h36v8h-36zM1197 762h36v8h-36zM1096 778h16v7h-16zM1112 785h15v8h-15zM1112 793h15v8h-15zM377 801h27v7h-27zM377 816h27v8h-27zM404 816h27v8h-27zM377 862h27v7h-27zM404 862h27v7h-27zM1233 946h36v7h-36zM1080 953h16v8h-16zM1050 961h15v8h-15zM1080 969h16v7h-16zM1161 976h36v8h-36zM1197 976h36v8h-36zM1161 984h36v8h-36zM1197 984h36v8h-36zM404 992h27v7h-27zM1096 992h16v7h-16zM377 999h27v8h-27zM1161 1022h36v8h-36zM1197 1022h36v8h-36zM404 1037h27v8h-27z"/>
<path fill="#565656" d="M223 143h154v8h-154zM377 143h38v8h-38zM528 143h38v8h-38zM415 166h38v8h-38zM490 166h38v8h-38zM453 174h37v8h-37zM490 174h38v8h-38zM453 182h37v7h-37zM415 189h38v8h-38zM490 189h38v8h-38zM212 197h2v8h-2zM566 197h135v8h-135zM701 197h1v8h-1zM711 197h42v8h-42zM212 212h2v8h-2zM566 212h135v8h-135zM701 212h1v8h-1zM711 212h42v8h-42zM415 220h38v8h-38zM223 228h154v7h-154zM377 228h38v7h-38zM528 228h38v7h-38zM212 243h2v7h-2zM566 243h135v7h-135zM701 243h1v7h-1zM711 243h42v7h-42zM223 250h154v8h-154zM377 250h38v8h-38zM528 250h38v8h-38zM415 258h38v8h-38zM490 258h38v8h-38zM212 273h2v8h-2zM566 273h135v8h-135zM701 273h1v8h-1zM711 273h42v8h-42zM212 281h2v8h-2zM566 281h135v8h-135zM701 281h1v8h-1zM711 281h42v8h-42zM223 289h154v7h-154zM377 289h38v7h-38zM528 289h38v7h-38zM453 296h37v8h-37zM490 296h38v8h-38zM453 304h37v8h-37zM490 304h38v8h-38zM415 312h38v7h-38zM490 312h38v7h-38zM223 319h154v8h-154zM377 319h38v8h-38zM528 319h38v8h-38zM212 327h2v7h-2zM566 327h135v7h-135zM701 327h1v7h-1zM711 327h42v7h-42zM212 342h2v8h-2zM566 342h135v8h-135zM701 342h1v8h-1zM711 342h42v8h-42zM453 350h37v7h-37zM490 350h38v7h-38zM415 357h38v8h-38zM490 357h38v8h-38zM212 365h2v8h-2zM566 365h135v8h-135zM701 365h1v8h-1zM711 365h42v8h-42zM415 396h38v7h-38zM415 403h38v8h-38zM453 411h37v8h-37zM490 411h38v8h-38zM453 419h37v7h-37zM490 419h38v7h-38zM223 441h154v8h-154zM377 441h38v8h-38zM528 441h38v8h-38zM223 480h154v7h-154zM377 480h38v7h-38zM528 480h38v7h-38zM415 487h38v8h-38zM415 495h38v8h-38zM212 510h2v8h-2zM566 510h135v8h-135zM701 510h1v8h-1zM711 510h42v8h-42zM415 526h38v7h-38zM490 526h38v7h-38zM453 533h37v8h-37zM223 541h154v7h-154zM377 541h38v7h-38zM528 541h38v7h-38zM453 548h37v8h-37zM490 548h38v8h-38zM377 602h27v8h-27zM404 602h27v8h-27zM1233 602h36v8h-36zM1269 602h36v8h-36zM485 610h27v7h-27zM1127 610h15v7h-15zM1142 610h16v7h-16zM1127 617h15v8h-15zM1142 617h16v8h-16zM377 625h27v7h-27zM1127 625h15v7h-15zM1142 625h16v7h-16zM1161 632h36v8h-36zM1096 640h16v8h-16zM1080 648h16v7h-16zM377 655h27v8h-27zM1080 655h16v8h-16zM404 663h27v8h-27zM1096 663h16v8h-16zM458 671h27v7h-27zM212 678h2v8h-2zM485 678h27v8h-27zM485 686h27v8h-27zM223 694h154v7h-154zM431 694h27v7h-27zM377 701h27v8h-27zM1080 701h16v8h-16zM377 709h27v8h-27zM1065 709h15v8h-15zM431 717h27v7h-27zM1096 717h16v7h-16zM1127 724h15v8h-15zM1142 724h16v8h-16zM404 732h27v7h-27zM1127 732h15v7h-15zM1142 732h16v7h-16zM377 739h27v8h-27zM1096 739h16v8h-16zM377 747h27v8h-27zM404 755h27v7h-27zM1096 755h16v7h-16zM377 762h27v8h-27zM1127 762h15v8h-15zM1142 762h16v8h-16zM1080 778h16v7h-16zM1096 785h16v8h-16zM1096 793h16v8h-16zM404 801h27v7h-27zM431 816h27v8h-27zM1233 816h36v8h-36zM1269 816h36v8h-36zM377 854h27v8h-27zM431 862h27v7h-27zM377 869h27v8h-27zM377 938h27v8h-27zM377 946h27v7h-27zM1197 946h36v7h-36zM1034 961h16v8h-16zM377 976h27v8h-27zM377 984h27v8h-27zM223 992h154v7h-154zM431 992h27v7h-27zM1080 992h16v7h-16zM404 999h27v8h-27zM1034 999h16v8h-16zM377 1007h27v8h-27zM1018 1007h16v8h-16zM377 1015h27v7h-27zM1034 1015h16v7h-16zM377 1022h27v8h-27zM377 1030h27v7h-27zM1233 1030h36v7h-36zM1269 1030h36v7h-36zM223 1037h154v8h-154zM431 1037h27v8h-27zM1233 1037h36v8h-36zM1269 1037h36v8h-36z"/>
<path fill="#5a5a5a" d="M566 143h135v8h-135zM701 143h1v8h-1zM711 143h42v8h-42zM377 166h38v8h-38zM528 166h38v8h-38zM377 174h38v8h-38zM415 174h38v8h-38zM528 174h38v8h-38zM415 182h38v7h-38zM490 182h38v7h-38zM377 189h38v8h-38zM528 189h38v8h-38zM223 220h154v8h-154zM377 220h38v8h-38zM528 220h38v8h-38zM212 235h2v8h-2zM566 235h135v8h-135zM701 235h1v8h-1zM711 235h42v8h-42zM377 258h38v8h-38zM528 258h38v8h-38zM566 266h135v7h-135zM701 266h1v7h-1zM711 266h42v7h-42zM377 296h38v8h-38zM415 296h38v8h-38zM528 296h38v8h-38zM377 304h38v8h-38zM415 304h38v8h-38zM528 304h38v8h-38zM377 312h38v7h-38zM528 312h38v7h-38zM566 319h135v8h-135zM701 319h1v8h-1zM711 319h42v8h-42zM377 350h38v7h-38zM415 350h38v7h-38zM528 350h38v7h-38zM377 357h38v8h-38zM528 357h38v8h-38zM223 396h154v7h-154zM377 396h38v7h-38zM528 396h38v7h-38zM223 403h154v8h-154zM377 403h38v8h-38zM528 403h38v8h-38zM377 411h38v8h-38zM415 411h38v8h-38zM528 411h38v8h-38zM377 419h38v7h-38zM415 419h38v7h-38zM528 419h38v7h-38zM566 426h135v8h-135zM701 426h1v8h-1zM711 426h42v8h-42zM566 434h135v7h-135zM701 434h1v7h-1zM711 434h42v7h-42zM566 441h135v8h-135zM701 441h1v8h-1zM711 441h42v8h-42zM212 449h2v8h-2zM566 449h135v8h-135zM701 449h1v8h-1zM711 449h42v8h-42zM566 472h135v8h-135zM701 472h1v8h-1zM711 472h42v8h-42zM566 480h135v7h-135zM701 480h1v7h-1zM711 480h42v7h-42zM223 487h154v8h-154zM377 487h38v8h-38zM528 487h38v8h-38zM223 495h154v8h-154zM377 495h38v8h-38zM528 495h38v8h-38zM212 503h2v7h-2zM566 503h135v7h-135zM701 503h1v7h-1zM711 503h42v7h-42zM212 518h2v8h-2zM566 518h135v8h-135zM701 518h1v8h-1zM711 518h42v8h-42zM377 526h38v7h-38zM528 526h38v7h-38zM415 533h38v8h-38zM490 533h38v8h-38zM566 541h135v7h-135zM701 541h1v7h-1zM711 541h42v7h-42zM377 548h38v8h-38zM415 548h38v8h-38zM528 548h38v8h-38zM431 602h27v8h-27zM1161 602h36v8h-36zM1197 602h36v8h-36zM1112 610h15v7h-15zM458 617h27v8h-27zM1112 617h15v8h-15zM404 625h27v7h-27zM1112 625h15v7h-15zM377 632h27v8h-27zM1127 632h15v8h-15zM1142 632h16v8h-16zM1080 640h16v8h-16zM377 648h27v7h-27zM404 655h27v8h-27zM1065 655h15v8h-15zM223 663h154v8h-154zM431 663h27v8h-27zM1080 663h16v8h-16zM212 671h2v7h-2zM458 694h27v7h-27zM404 701h27v8h-27zM431 701h27v8h-27zM404 709h27v8h-27zM431 709h27v8h-27zM223 717h154v7h-154zM212 724h2v8h-2zM485 724h27v8h-27zM1112 724h15v8h-15zM223 732h154v7h-154zM431 732h27v7h-27zM1112 732h15v7h-15zM404 739h27v8h-27zM431 739h27v8h-27zM1080 739h16v8h-16zM404 747h27v8h-27zM431 747h27v8h-27zM1080 747h16v8h-16zM223 755h154v7h-154zM431 755h27v7h-27zM1080 755h16v7h-16zM404 762h27v8h-27zM1112 762h15v8h-15zM377 778h27v7h-27zM377 785h27v8h-27zM1080 785h16v8h-16zM377 793h27v8h-27zM1080 793h16v8h-16zM223 801h154v7h-154zM431 801h27v7h-27zM377 808h27v8h-27zM1233 808h36v8h-36zM1269 808h36v8h-36zM223 816h154v8h-154zM1161 816h36v8h-36zM1197 816h36v8h-36zM377 824h27v7h-27zM1233 824h36v7h-36zM1269 824h36v7h-36zM377 831h27v8h-27zM404 854h27v8h-27zM223 862h154v7h-154zM458 862h27v7h-27zM404 869h27v8h-27zM431 869h27v8h-27zM377 877h27v8h-27zM377 900h27v8h-27zM377 908h27v7h-27zM377 915h27v8h-27zM377 930h27v8h-27zM404 938h27v8h-27zM431 938h27v8h-27zM404 946h27v7h-27zM1096 946h16v7h-16zM1112 946h15v7h-15zM1127 946h15v7h-15zM1142 946h16v7h-16zM1161 946h36v7h-36zM377 953h27v8h-27zM1065 953h15v8h-15zM377 961h27v8h-27zM377 969h27v7h-27zM1065 969h15v7h-15zM404 976h27v8h-27zM1096 976h16v8h-16zM1112 976h15v8h-15zM1127 976h15v8h-15zM1142 976h16v8h-16zM404 984h27v8h-27zM1096 984h16v8h-16zM1112 984h15v8h-15zM1127 984h15v8h-15zM1142 984h16v8h-16zM458 992h27v7h-27zM1065 992h15v7h-15zM223 999h154v8h-154zM431 999h27v8h-27zM404 1007h27v8h-27zM404 1015h27v7h-27zM404 1022h27v8h-27zM1096 1022h16v8h-16zM1112 1022h15v8h-15zM1127 1022h15v8h-15zM1142 1022h16v8h-16zM404 1030h27v7h-27zM1161 1030h36v7h-36zM1197 1030h36v7h-36zM458 1037h27v8h-27zM1161 1037h36v8h-36zM1197 1037h36v8h-36z"/>
<path fill="#5e5e5e" d="M212 143h2v8h-2zM223 166h154v8h-154zM223 174h154v8h-154zM377 182h38v7h-38zM528 182h38v7h-38zM223 189h154v8h-154zM566 220h135v8h-135zM701 220h1v8h-1zM711 220h42v8h-42zM566 228h135v7h-135zM701 228h1v7h-1zM711 228h42v7h-42zM566 250h135v8h-135zM701 250h1v8h-1zM711 250h42v8h-42zM223 258h154v8h-154zM212 266h2v7h-2zM566 289h135v7h-135zM701 289h1v7h-1zM711 289h42v7h-42zM223 296h154v8h-154zM223 304h154v8h-154zM223 312h154v7h-154zM212 319h2v8h-2zM223 350h154v7h-154zM223 357h154v8h-154zM566 396h135v7h-135zM701 396h1v7h-1zM711 396h42v7h-42zM566 403h135v8h-135zM701 403h1v8h-1zM711 403h42v8h-42zM223 411h154v8h-154zM223 419h154v7h-154zM212 426h2v8h-2zM212 434h2v7h-2zM212 441h2v8h-2zM212 472h2v8h-2zM212 480h2v7h-2zM566 487h135v8h-135zM701 487h1v8h-1zM711 487h42v8h-42zM566 495h135v8h-135zM701 495h1v8h-1zM711 495h42v8h-42zM223 526h154v7h-154zM377 533h38v8h-38zM528 533h38v8h-38zM212 541h2v7h-2zM223 548h154v8h-154zM223 602h154v8h-154zM458 602h27v8h-27zM1112 602h15v8h-15zM1127 602h15v8h-15zM1142 602h16v8h-16zM512 610h27v7h-27zM1096 610h16v7h-16zM212 617h2v8h-2zM1096 617h16v8h-16zM223 625h154v7h-154zM431 625h27v7h-27zM1096 625h16v7h-16zM404 632h27v8h-27zM1112 632h15v8h-15zM377 640h27v8h-27zM1065 640h15v8h-15zM404 648h27v7h-27zM1065 648h15v7h-15zM431 655h27v8h-27zM458 663h27v8h-27zM485 671h27v7h-27zM1197 671h36v7h-36zM1233 671h36v7h-36zM1269 671h36v7h-36zM512 678h27v8h-27zM512 686h27v8h-27zM485 694h27v7h-27zM1112 694h15v7h-15zM1127 694h15v7h-15zM1142 694h16v7h-16zM1161 694h36v7h-36zM1197 694h36v7h-36zM1233 694h36v7h-36zM1269 694h36v7h-36zM223 701h154v8h-154zM1065 701h15v8h-15zM223 709h154v8h-154zM1050 709h15v8h-15zM458 717h27v7h-27zM1080 717h16v7h-16zM512 724h27v8h-27zM1096 724h16v8h-16zM458 732h27v7h-27zM1096 732h16v7h-16zM223 739h154v8h-154zM223 747h154v8h-154zM1065 747h15v8h-15zM458 755h27v7h-27zM431 762h27v8h-27zM458 762h27v8h-27zM1096 762h16v8h-16zM377 770h8v8h-8zM404 778h27v7h-27zM431 778h27v7h-27zM1065 778h15v7h-15zM404 785h27v8h-27zM431 785h27v8h-27zM404 793h27v8h-27zM431 793h27v8h-27zM458 801h27v7h-27zM1197 801h36v7h-36zM1233 801h36v7h-36zM1269 801h36v7h-36zM404 808h27v8h-27zM1197 808h36v8h-36zM458 816h27v8h-27zM404 824h27v7h-27zM1161 824h36v7h-36zM1197 824h36v7h-36zM404 831h27v8h-27zM377 839h27v7h-27zM377 846h27v8h-27zM431 854h27v8h-27zM485 862h27v7h-27zM223 869h154v8h-154zM404 877h27v8h-27zM431 877h27v8h-27zM377 885h27v7h-27zM377 892h27v8h-27zM404 900h27v8h-27zM431 900h27v8h-27zM404 908h27v7h-27zM431 908h27v7h-27zM404 915h27v8h-27zM431 915h27v8h-27zM377 923h27v7h-27zM404 930h27v8h-27zM431 930h27v8h-27zM223 938h154v8h-154zM223 946h154v7h-154zM431 946h27v7h-27zM1080 946h16v7h-16zM404 953h27v8h-27zM1050 953h15v8h-15zM404 961h27v8h-27zM1018 961h16v8h-16zM404 969h27v7h-27zM1050 969h15v7h-15zM431 976h27v8h-27zM1080 976h16v8h-16zM223 984h154v8h-154zM431 984h27v8h-27zM1080 984h16v8h-16zM1050 992h15v7h-15zM1018 999h16v8h-16zM223 1007h154v8h-154zM431 1007h27v8h-27zM1003 1007h15v8h-15zM223 1015h154v7h-154zM431 1015h27v7h-27zM1018 1015h16v7h-16zM223 1022h154v8h-154zM431 1022h27v8h-27zM1080 1022h16v8h-16zM223 1030h154v7h-154zM431 1030h27v7h-27zM1096 1030h16v7h-16zM1112 1030h15v7h-15zM1127 1030h15v7h-15zM1142 1030h16v7h-16zM485 1037h27v8h-27zM1096 1037h16v8h-16zM1112 1037h15v8h-15zM1127 1037h15v8h-15zM1142 1037h16v8h-16z"/>
<path fill="#626262" d="M566 166h135v8h-135zM701 166h1v8h-1zM711 166h42v8h-42zM566 174h135v8h-135zM701 174h1v8h-1zM711 174h42v8h-42zM223 182h154v7h-154zM566 189h135v8h-135zM701 189h1v8h-1zM711 189h42v8h-42zM753 205h9v7h-9zM212 220h2v8h-2zM212 228h2v7h-2zM212 250h2v8h-2zM566 258h135v8h-135zM701 258h1v8h-1zM711 258h42v8h-42zM212 289h2v7h-2zM566 296h135v8h-135zM701 296h1v8h-1zM711 296h42v8h-42zM566 304h135v8h-135zM701 304h1v8h-1zM711 304h42v8h-42zM566 312h135v7h-135zM701 312h1v7h-1zM711 312h42v7h-42zM566 350h135v7h-135zM701 350h1v7h-1zM711 350h42v7h-42zM566 357h135v8h-135zM701 357h1v8h-1zM711 357h42v8h-42zM753 380h9v8h-9zM212 396h2v7h-2zM212 403h2v8h-2zM566 411h135v8h-135zM701 411h1v8h-1zM711 411h42v8h-42zM566 419h135v7h-135zM701 419h1v7h-1zM711 419h42v7h-42zM753 464h9v8h-9zM212 487h2v8h-2zM212 495h2v8h-2zM566 526h135v7h-135zM701 526h1v7h-1zM711 526h42v7h-42zM223 533h154v8h-154zM566 548h135v8h-135zM701 548h1v8h-1zM711 548h42v8h-42zM485 602h27v8h-27zM1096 602h16v8h-16zM1080 610h16v7h-16zM485 617h27v8h-27zM1080 617h16v8h-16zM458 625h27v7h-27zM1080 625h16v7h-16zM223 632h154v8h-154zM431 632h27v8h-27zM1096 632h16v8h-16zM404 640h27v8h-27zM1050 640h15v8h-15zM223 648h154v7h-154zM431 648h27v7h-27zM1050 648h15v7h-15zM223 655h154v8h-154zM458 655h27v8h-27zM1050 655h15v8h-15zM485 663h27v8h-27zM1065 663h15v8h-15zM512 671h27v7h-27zM1112 671h15v7h-15zM1127 671h15v7h-15zM1142 671h16v7h-16zM1161 671h36v7h-36zM1127 686h15v8h-15zM1142 686h16v8h-16zM1161 686h36v8h-36zM1197 686h36v8h-36zM1233 686h36v8h-36zM1269 686h36v8h-36zM212 694h2v7h-2zM1096 694h16v7h-16zM458 701h27v8h-27zM1050 701h15v8h-15zM458 709h27v8h-27zM212 717h2v7h-2zM485 717h27v7h-27zM1065 717h15v7h-15zM1080 724h16v8h-16zM485 732h27v7h-27zM1080 732h16v7h-16zM458 739h27v8h-27zM1065 739h15v8h-15zM458 747h27v8h-27zM1050 747h15v8h-15zM485 755h27v7h-27zM1065 755h15v7h-15zM223 762h154v8h-154zM485 762h27v8h-27zM1080 762h16v8h-16zM527 770h39v8h-39zM223 778h154v7h-154zM458 778h27v7h-27zM1050 778h15v7h-15zM223 785h154v8h-154zM458 785h27v8h-27zM1065 785h15v8h-15zM223 793h154v8h-154zM458 793h27v8h-27zM1065 793h15v8h-15zM485 801h27v7h-27zM1161 801h36v7h-36zM223 808h154v8h-154zM431 808h27v8h-27zM1112 808h15v8h-15zM1127 808h15v8h-15zM1142 808h16v8h-16zM1161 808h36v8h-36zM212 816h2v8h-2zM485 816h27v8h-27zM1112 816h15v8h-15zM1127 816h15v8h-15zM1142 816h16v8h-16zM223 824h154v7h-154zM431 824h27v7h-27zM1112 824h15v7h-15zM1127 824h15v7h-15zM1142 824h16v7h-16zM223 831h154v8h-154zM431 831h27v8h-27zM1233 831h36v8h-36zM1269 831h36v8h-36zM404 839h27v7h-27zM404 846h27v8h-27zM223 854h154v8h-154zM458 854h27v8h-27zM212 862h2v7h-2zM458 869h27v8h-27zM223 877h154v8h-154zM458 877h27v8h-27zM404 885h27v7h-27zM1233 885h36v7h-36zM1269 885h36v7h-36zM404 892h27v8h-27zM223 900h154v8h-154zM458 900h27v8h-27zM223 908h154v7h-154zM458 908h27v7h-27zM223 915h154v8h-154zM458 915h27v8h-27zM404 923h27v7h-27zM223 930h154v8h-154zM458 930h27v8h-27zM458 938h27v8h-27zM458 946h27v7h-27zM1050 946h15v7h-15zM1065 946h15v7h-15zM223 953h154v8h-154zM431 953h27v8h-27zM1034 953h16v8h-16zM223 961h154v8h-154zM431 961h27v8h-27zM1003 961h15v8h-15zM223 969h154v7h-154zM431 969h27v7h-27zM1034 969h16v7h-16zM223 976h154v8h-154zM458 976h27v8h-27zM1065 976h15v8h-15zM458 984h27v8h-27zM1065 984h15v8h-15zM212 992h2v7h-2zM485 992h27v7h-27zM1034 992h16v7h-16zM458 999h27v8h-27zM458 1007h27v8h-27zM458 1015h27v7h-27zM458 1022h27v8h-27zM1065 1022h15v8h-15zM458 1030h27v7h-27zM1080 1030h16v7h-16zM212 1037h2v8h-2zM1080 1037h16v8h-16z"/>
<path fill="#666666" d="M753 151h9v8h-9zM753 159h9v7h-9zM212 166h2v8h-2zM566 182h135v7h-135zM701 182h1v7h-1zM711 182h42v7h-42zM212 189h2v8h-2zM762 205h79v7h-79zM862 205h93v7h-93zM753 212h9v8h-9zM753 243h9v7h-9zM212 258h2v8h-2zM212 312h2v7h-2zM753 327h9v7h-9zM753 334h9v8h-9zM212 357h2v8h-2zM753 365h9v8h-9zM753 373h9v7h-9zM762 380h79v8h-79zM862 380h93v8h-93zM753 388h9v8h-9zM753 457h9v7h-9zM762 464h79v8h-79zM862 464h93v8h-93zM753 510h9v8h-9zM212 526h2v7h-2zM566 533h135v8h-135zM701 533h1v8h-1zM711 533h42v8h-42zM212 602h2v8h-2zM512 602h27v8h-27zM1080 602h16v8h-16zM539 610h27v7h-27zM1065 610h15v7h-15zM512 617h27v8h-27zM1065 617h15v8h-15zM212 625h2v7h-2zM485 625h27v7h-27zM1065 625h15v7h-15zM458 632h27v8h-27zM1065 632h15v8h-15zM1080 632h16v8h-16zM223 640h154v8h-154zM431 640h27v8h-27zM1034 640h16v8h-16zM458 648h27v7h-27zM1034 648h16v7h-16zM1034 655h16v8h-16zM212 663h2v8h-2zM1050 663h15v8h-15zM1096 671h16v7h-16zM539 678h27v8h-27zM1127 678h15v8h-15zM1142 678h16v8h-16zM1161 678h36v8h-36zM1197 678h36v8h-36zM1233 678h36v8h-36zM1269 678h36v8h-36zM539 686h27v8h-27zM1096 686h16v8h-16zM1112 686h15v8h-15zM512 694h27v7h-27zM1080 694h16v7h-16zM212 701h2v8h-2zM485 701h27v8h-27zM212 709h2v8h-2zM485 709h27v8h-27zM1034 709h16v8h-16zM1050 717h15v7h-15zM539 724h27v8h-27zM1065 724h15v8h-15zM212 732h2v7h-2zM512 732h27v7h-27zM1065 732h15v7h-15zM212 739h2v8h-2zM485 739h27v8h-27zM1050 739h15v8h-15zM212 747h2v8h-2zM485 747h27v8h-27zM212 755h2v7h-2zM512 755h27v7h-27zM1050 755h15v7h-15zM512 762h27v8h-27zM1065 762h15v8h-15zM566 770h135v8h-135zM701 770h1v8h-1zM711 770h42v8h-42zM1269 770h36v8h-36zM485 778h27v7h-27zM485 785h27v8h-27zM1050 785h15v8h-15zM485 793h27v8h-27zM1050 793h15v8h-15zM212 801h2v7h-2zM512 801h27v7h-27zM1127 801h15v7h-15zM1142 801h16v7h-16zM458 808h27v8h-27zM1096 808h16v8h-16zM566 816h135v8h-135zM701 816h1v8h-1zM711 816h42v8h-42zM1080 816h16v8h-16zM1096 816h16v8h-16zM458 824h27v7h-27zM1080 824h16v7h-16zM1096 824h16v7h-16zM458 831h27v8h-27zM1127 831h15v8h-15zM1142 831h16v8h-16zM1161 831h36v8h-36zM1197 831h36v8h-36zM223 839h154v7h-154zM431 839h27v7h-27zM1269 839h36v7h-36zM223 846h154v8h-154zM431 846h27v8h-27zM1269 846h36v8h-36zM512 862h27v7h-27zM566 862h135v7h-135zM701 862h1v7h-1zM711 862h42v7h-42zM212 869h2v8h-2zM485 869h27v8h-27zM485 877h27v8h-27zM1112 877h15v8h-15zM1127 877h15v8h-15zM1142 877h16v8h-16zM1269 877h36v8h-36zM223 885h154v7h-154zM431 885h27v7h-27zM1112 885h15v7h-15zM1127 885h15v7h-15zM1142 885h16v7h-16zM1161 885h36v7h-36zM1197 885h36v7h-36zM223 892h154v8h-154zM431 892h27v8h-27zM1112 892h15v8h-15zM1127 892h15v8h-15zM1142 892h16v8h-16zM1269 892h36v8h-36zM485 900h27v8h-27zM485 908h27v7h-27zM485 915h27v8h-27zM223 923h154v7h-154zM431 923h27v7h-27zM485 930h27v8h-27zM212 938h2v8h-2zM485 938h27v8h-27zM212 946h2v7h-2zM485 946h27v7h-27zM1018 946h16v7h-16zM1034 946h16v7h-16zM458 953h27v8h-27zM1018 953h16v8h-16zM458 961h27v8h-27zM458 969h27v7h-27zM1018 969h16v7h-16zM1034 976h16v8h-16zM1050 976h15v8h-15zM212 984h2v8h-2zM485 984h27v8h-27zM1034 984h16v8h-16zM1050 984h15v8h-15zM566 992h135v7h-135zM701 992h1v7h-1zM711 992h42v7h-42zM1018 992h16v7h-16zM212 999h2v8h-2zM485 999h27v8h-27zM1003 999h15v8h-15zM212 1007h2v8h-2zM485 1007h27v8h-27zM988 1007h15v8h-15zM212 1015h2v7h-2zM485 1015h27v7h-27zM1003 1015h15v7h-15zM212 1022h2v8h-2zM485 1022h27v8h-27zM1050 1022h15v8h-15zM212 1030h2v7h-2zM485 1030h27v7h-27zM1065 1030h15v7h-15zM214 1037h9v8h-9zM512 1037h27v8h-27zM566 1037h135v8h-135zM701 1037h1v8h-1zM711 1037h42v8h-42zM1065 1037h15v8h-15z"/>
<path fill="#6a6a6a" d="M762 151h79v8h-79zM862 151h93v8h-93zM762 159h79v7h-79zM862 159h93v7h-93zM212 174h2v8h-2zM212 182h2v7h-2zM753 197h9v8h-9zM762 197h79v8h-79zM862 197h93v8h-93zM762 212h79v8h-79zM862 212h93v8h-93zM753 235h9v8h-9zM762 243h79v7h-79zM862 243h93v7h-93zM753 266h9v7h-9zM753 273h9v8h-9zM762 273h79v8h-79zM862 273h93v8h-93zM753 281h9v8h-9zM762 281h79v8h-79zM862 281h93v8h-93zM212 296h2v8h-2zM212 304h2v8h-2zM762 327h79v7h-79zM862 327h93v7h-93zM762 334h79v8h-79zM862 334h93v8h-93zM753 342h9v8h-9zM762 342h79v8h-79zM862 342h93v8h-93zM212 350h2v7h-2zM762 365h79v8h-79zM862 365h93v8h-93zM762 373h79v7h-79zM862 373h93v7h-93zM762 388h79v8h-79zM862 388h93v8h-93zM212 411h2v8h-2zM212 419h2v7h-2zM753 426h9v8h-9zM753 434h9v7h-9zM753 449h9v8h-9zM762 457h79v7h-79zM862 457h93v7h-93zM753 472h9v8h-9zM753 503h9v7h-9zM762 510h79v8h-79zM862 510h93v8h-93zM753 518h9v8h-9zM212 533h2v8h-2zM212 548h2v8h-2zM539 602h27v8h-27zM1050 602h15v8h-15zM1065 602h15v8h-15zM1050 610h15v7h-15zM1050 617h15v8h-15zM485 632h27v8h-27zM1050 632h15v8h-15zM458 640h27v8h-27zM1003 640h15v8h-15zM1018 640h16v8h-16zM485 648h27v7h-27zM1003 648h15v7h-15zM1018 648h16v7h-16zM212 655h2v8h-2zM485 655h27v8h-27zM1003 655h15v8h-15zM1018 655h16v8h-16zM512 663h27v8h-27zM1034 663h16v8h-16zM539 671h27v7h-27zM1065 671h15v7h-15zM1080 671h16v7h-16zM1096 678h16v8h-16zM1112 678h15v8h-15zM1080 686h16v8h-16zM539 694h27v7h-27zM1050 694h15v7h-15zM1065 694h15v7h-15zM512 701h27v8h-27zM1018 701h16v8h-16zM1034 701h16v8h-16zM512 709h27v8h-27zM1003 709h15v8h-15zM1018 709h16v8h-16zM512 717h27v7h-27zM1034 717h16v7h-16zM1050 724h15v8h-15zM539 732h27v7h-27zM1050 732h15v7h-15zM512 739h27v8h-27zM1034 739h16v8h-16zM512 747h27v8h-27zM1018 747h16v8h-16zM1034 747h16v8h-16zM539 755h27v7h-27zM1034 755h16v7h-16zM212 762h2v8h-2zM539 762h27v8h-27zM1050 762h15v8h-15zM1127 770h15v8h-15zM1142 770h16v8h-16zM1161 770h36v8h-36zM1197 770h36v8h-36zM1233 770h36v8h-36zM512 778h27v7h-27zM1018 778h16v7h-16zM1034 778h16v7h-16zM512 785h27v8h-27zM1034 785h16v8h-16zM512 793h27v8h-27zM1034 793h16v8h-16zM539 801h27v7h-27zM1096 801h16v7h-16zM1112 801h15v7h-15zM485 808h27v8h-27zM566 808h135v8h-135zM701 808h1v8h-1zM711 808h42v8h-42zM1065 808h15v8h-15zM1080 808h16v8h-16zM512 816h27v8h-27zM1050 816h15v8h-15zM1065 816h15v8h-15zM485 824h27v7h-27zM566 824h135v7h-135zM701 824h1v7h-1zM711 824h42v7h-42zM1050 824h15v7h-15zM1065 824h15v7h-15zM485 831h27v8h-27zM566 831h135v8h-135zM701 831h1v8h-1zM711 831h42v8h-42zM1080 831h16v8h-16zM1096 831h16v8h-16zM1112 831h15v8h-15zM458 839h27v7h-27zM1127 839h15v7h-15zM1142 839h16v7h-16zM1161 839h36v7h-36zM1197 839h36v7h-36zM1233 839h36v7h-36zM458 846h27v8h-27zM1127 846h15v8h-15zM1142 846h16v8h-16zM1161 846h36v8h-36zM1197 846h36v8h-36zM1233 846h36v8h-36zM212 854h2v8h-2zM485 854h27v8h-27zM566 854h135v8h-135zM701 854h1v8h-1zM711 854h42v8h-42zM1269 854h36v8h-36zM539 862h27v7h-27zM512 869h27v8h-27zM566 869h135v8h-135zM701 869h1v8h-1zM711 869h42v8h-42zM1127 869h15v8h-15zM1142 869h16v8h-16zM512 877h27v8h-27zM566 877h135v8h-135zM701 877h1v8h-1zM711 877h42v8h-42zM1065 877h15v8h-15zM1080 877h16v8h-16zM1096 877h16v8h-16zM1161 877h36v8h-36zM1197 877h36v8h-36zM1233 877h36v8h-36zM458 885h27v7h-27zM1050 885h15v7h-15zM1065 885h15v7h-15zM1080 885h16v7h-16zM1096 885h16v7h-16zM458 892h27v8h-27zM1050 892h15v8h-15zM1065 892h15v8h-15zM1080 892h16v8h-16zM1096 892h16v8h-16zM1161 892h36v8h-36zM1197 892h36v8h-36zM1233 892h36v8h-36zM512 900h27v8h-27zM566 900h135v8h-135zM701 900h1v8h-1zM711 900h42v8h-42zM1112 900h15v8h-15zM1127 900h15v8h-15zM1142 900h16v8h-16zM1269 900h36v8h-36zM512 908h27v7h-27zM566 908h135v7h-135zM701 908h1v7h-1zM711 908h42v7h-42zM512 915h27v8h-27zM566 915h135v8h-135zM701 915h1v8h-1zM711 915h42v8h-42zM1112 915h15v8h-15zM1127 915h15v8h-15zM1142 915h16v8h-16zM458 923h27v7h-27zM1112 923h15v7h-15zM1127 923h15v7h-15zM1142 923h16v7h-16zM512 930h27v8h-27zM566 930h135v8h-135zM701 930h1v8h-1zM711 930h42v8h-42zM1112 930h15v8h-15zM1127 930h15v8h-15zM1142 930h16v8h-16zM512 938h27v8h-27zM566 938h135v8h-135zM701 938h1v8h-1zM711 938h42v8h-42zM1112 938h15v8h-15zM1127 938h15v8h-15zM1142 938h16v8h-16zM566 946h135v7h-135zM701 946h1v7h-1zM711 946h42v7h-42zM988 946h15v7h-15zM1003 946h15v7h-15zM988 953h15v8h-15zM1003 953h15v8h-15zM988 961h15v8h-15zM485 969h27v7h-27zM988 969h15v7h-15zM1003 969h15v7h-15zM212 976h2v8h-2zM485 976h27v8h-27zM1018 976h16v8h-16zM566 984h135v8h-135zM701 984h1v8h-1zM711 984h42v8h-42zM1018 984h16v8h-16zM512 992h27v7h-27zM1003 992h15v7h-15zM566 999h135v8h-135zM701 999h1v8h-1zM711 999h42v8h-42zM988 999h15v8h-15zM566 1007h135v8h-135zM701 1007h1v8h-1zM711 1007h42v8h-42zM566 1015h135v7h-135zM701 1015h1v7h-1zM711 1015h42v7h-42zM988 1015h15v7h-15zM566 1022h135v8h-135zM701 1022h1v8h-1zM711 1022h42v8h-42zM1034 1022h16v8h-16zM566 1030h135v7h-135zM701 1030h1v7h-1zM711 1030h42v7h-42zM1034 1030h16v7h-16zM1050 1030h15v7h-15zM539 1037h27v8h-27zM1050 1037h15v8h-15z"/>
<path fill="#6e6e6e" d="M753 143h9v8h-9zM762 143h79v8h-79zM862 143h93v8h-93zM972 143h186v8h-186zM972 151h186v8h-186zM972 159h186v7h-186zM972 166h186v8h-186zM972 174h186v8h-186zM972 182h186v7h-186zM972 189h186v8h-186zM972 197h186v8h-186zM972 205h186v7h-186zM972 212h186v8h-186zM972 220h186v8h-186zM753 228h9v7h-9zM972 228h186v7h-186zM762 235h79v8h-79zM862 235h93v8h-93zM972 235h186v8h-186zM972 243h186v7h-186zM753 250h9v8h-9zM972 250h186v8h-186zM972 258h186v8h-186zM762 266h79v7h-79zM862 266h93v7h-93zM972 266h186v7h-186zM972 273h186v8h-186zM972 281h186v8h-186zM753 289h9v7h-9zM972 289h186v7h-186zM972 296h186v8h-186zM972 304h186v8h-186zM972 312h186v7h-186zM753 319h9v8h-9zM762 319h79v8h-79zM862 319h93v8h-93zM972 319h186v8h-186zM972 327h186v7h-186zM972 334h186v8h-186zM972 342h186v8h-186zM972 350h186v7h-186zM972 357h186v8h-186zM972 365h186v8h-186zM972 373h186v7h-186zM972 380h186v8h-186zM972 388h186v8h-186zM972 396h186v7h-186zM972 403h186v8h-186zM972 411h186v8h-186zM972 419h186v7h-186zM762 426h79v8h-79zM862 426h93v8h-93zM972 426h186v8h-186zM762 434h79v7h-79zM862 434h93v7h-93zM972 434h186v7h-186zM753 441h9v8h-9zM762 441h79v8h-79zM862 441h93v8h-93zM972 441h186v8h-186zM762 449h79v8h-79zM862 449h93v8h-93zM972 449h186v8h-186zM972 457h186v7h-186zM972 464h186v8h-186zM762 472h79v8h-79zM862 472h93v8h-93zM972 472h186v8h-186zM753 480h9v7h-9zM762 480h79v7h-79zM862 480h93v7h-93zM972 480h186v7h-186zM972 487h186v8h-186zM972 495h186v8h-186zM762 503h79v7h-79zM862 503h93v7h-93zM972 503h186v7h-186zM972 510h186v8h-186zM762 518h79v8h-79zM862 518h93v8h-93zM972 518h186v8h-186zM972 526h186v7h-186zM972 533h186v8h-186zM753 541h9v7h-9zM762 541h79v7h-79zM862 541h93v7h-93zM972 541h186v7h-186zM972 548h186v8h-186zM1034 602h16v8h-16zM1018 610h16v7h-16zM1034 610h16v7h-16zM539 617h27v8h-27zM1018 617h16v8h-16zM1034 617h16v8h-16zM512 625h27v7h-27zM1050 625h15v7h-15zM212 632h2v8h-2zM512 632h27v8h-27zM1034 632h16v8h-16zM485 640h27v8h-27zM972 640h16v8h-16zM988 640h15v8h-15zM212 648h2v7h-2zM972 648h16v7h-16zM988 648h15v7h-15zM512 655h27v8h-27zM972 655h16v8h-16zM988 655h15v8h-15zM539 663h27v8h-27zM988 663h15v8h-15zM1003 663h15v8h-15zM1018 663h16v8h-16zM1034 671h16v7h-16zM1050 671h15v7h-15zM1065 678h15v8h-15zM1080 678h16v8h-16zM1050 686h15v8h-15zM1065 686h15v8h-15zM1034 694h16v7h-16zM972 701h16v8h-16zM988 701h15v8h-15zM1003 701h15v8h-15zM972 709h16v8h-16zM988 709h15v8h-15zM539 717h27v7h-27zM1018 717h16v7h-16zM1034 724h16v8h-16zM1018 732h16v7h-16zM1034 732h16v7h-16zM988 739h15v8h-15zM1003 739h15v8h-15zM1018 739h16v8h-16zM972 747h16v8h-16zM988 747h15v8h-15zM1003 747h15v8h-15zM988 755h15v7h-15zM1003 755h15v7h-15zM1018 755h16v7h-16zM1018 762h16v8h-16zM1034 762h16v8h-16zM1096 770h16v8h-16zM1112 770h15v8h-15zM212 778h2v7h-2zM972 778h16v7h-16zM988 778h15v7h-15zM1003 778h15v7h-15zM212 785h2v8h-2zM988 785h15v8h-15zM1003 785h15v8h-15zM1018 785h16v8h-16zM212 793h2v8h-2zM988 793h15v8h-15zM1003 793h15v8h-15zM1018 793h16v8h-16zM1065 801h15v7h-15zM1080 801h16v7h-16zM212 808h2v8h-2zM512 808h27v8h-27zM1034 808h16v8h-16zM1050 808h15v8h-15zM539 816h27v8h-27zM988 816h15v8h-15zM1003 816h15v8h-15zM1018 816h16v8h-16zM1034 816h16v8h-16zM212 824h2v7h-2zM512 824h27v7h-27zM988 824h15v7h-15zM1003 824h15v7h-15zM1018 824h16v7h-16zM1034 824h16v7h-16zM212 831h2v8h-2zM512 831h27v8h-27zM1050 831h15v8h-15zM1065 831h15v8h-15zM485 839h27v7h-27zM566 839h135v7h-135zM701 839h1v7h-1zM711 839h42v7h-42zM1065 839h15v7h-15zM1080 839h16v7h-16zM1096 839h16v7h-16zM1112 839h15v7h-15zM485 846h27v8h-27zM566 846h135v8h-135zM701 846h1v8h-1zM711 846h42v8h-42zM1080 846h16v8h-16zM1096 846h16v8h-16zM1112 846h15v8h-15zM512 854h27v8h-27zM1112 854h15v8h-15zM1127 854h15v8h-15zM1142 854h16v8h-16zM1161 854h36v8h-36zM1197 854h36v8h-36zM1233 854h36v8h-36zM1197 862h36v7h-36zM1233 862h36v7h-36zM1269 862h36v7h-36zM1065 869h15v8h-15zM1080 869h16v8h-16zM1096 869h16v8h-16zM1112 869h15v8h-15zM212 877h2v8h-2zM1003 877h15v8h-15zM1018 877h16v8h-16zM1034 877h16v8h-16zM1050 877h15v8h-15zM485 885h27v7h-27zM566 885h135v7h-135zM701 885h1v7h-1zM711 885h42v7h-42zM972 885h16v7h-16zM988 885h15v7h-15zM1003 885h15v7h-15zM1018 885h16v7h-16zM1034 885h16v7h-16zM485 892h27v8h-27zM566 892h135v8h-135zM701 892h1v8h-1zM711 892h42v8h-42zM972 892h16v8h-16zM988 892h15v8h-15zM1003 892h15v8h-15zM1018 892h16v8h-16zM1034 892h16v8h-16zM212 900h2v8h-2zM972 900h16v8h-16zM988 900h15v8h-15zM1003 900h15v8h-15zM1018 900h16v8h-16zM1034 900h16v8h-16zM1050 900h15v8h-15zM1065 900h15v8h-15zM1080 900h16v8h-16zM1096 900h16v8h-16zM1161 900h36v8h-36zM1197 900h36v8h-36zM1233 900h36v8h-36zM212 908h2v7h-2zM972 908h16v7h-16zM988 908h15v7h-15zM1003 908h15v7h-15zM1018 908h16v7h-16zM1034 908h16v7h-16zM1050 908h15v7h-15zM1065 908h15v7h-15zM1080 908h16v7h-16zM1096 908h16v7h-16zM1112 908h15v7h-15zM1127 908h15v7h-15zM1142 908h16v7h-16zM1269 908h36v7h-36zM212 915h2v8h-2zM972 915h16v8h-16zM988 915h15v8h-15zM1003 915h15v8h-15zM1018 915h16v8h-16zM1034 915h16v8h-16zM1050 915h15v8h-15zM1065 915h15v8h-15zM1080 915h16v8h-16zM1096 915h16v8h-16zM485 923h27v7h-27zM566 923h135v7h-135zM701 923h1v7h-1zM711 923h42v7h-42zM972 923h16v7h-16zM988 923h15v7h-15zM1003 923h15v7h-15zM1018 923h16v7h-16zM1034 923h16v7h-16zM1050 923h15v7h-15zM1065 923h15v7h-15zM1080 923h16v7h-16zM1096 923h16v7h-16zM212 930h2v8h-2zM972 930h16v8h-16zM988 930h15v8h-15zM1003 930h15v8h-15zM1018 930h16v8h-16zM1034 930h16v8h-16zM1050 930h15v8h-15zM1065 930h15v8h-15zM1080 930h16v8h-16zM1096 930h16v8h-16zM1161 930h36v8h-36zM1197 930h36v8h-36zM1233 930h36v8h-36zM1269 930h36v8h-36zM972 938h16v8h-16zM988 938h15v8h-15zM1003 938h15v8h-15zM1018 938h16v8h-16zM1034 938h16v8h-16zM1050 938h15v8h-15zM1065 938h15v8h-15zM1080 938h16v8h-16zM1096 938h16v8h-16zM1161 938h36v8h-36zM1197 938h36v8h-36zM1233 938h36v8h-36zM1269 938h36v8h-36zM512 946h27v7h-27zM972 946h16v7h-16zM212 953h2v8h-2zM485 953h27v8h-27zM566 953h135v8h-135zM701 953h1v8h-1zM711 953h42v8h-42zM972 953h16v8h-16zM212 961h2v8h-2zM485 961h27v8h-27zM566 961h135v8h-135zM701 961h1v8h-1zM711 961h42v8h-42zM972 961h16v8h-16zM212 969h2v7h-2zM512 969h27v7h-27zM566 969h135v7h-135zM701 969h1v7h-1zM711 969h42v7h-42zM972 969h16v7h-16zM512 976h27v8h-27zM566 976h135v8h-135zM701 976h1v8h-1zM711 976h42v8h-42zM988 976h15v8h-15zM1003 976h15v8h-15zM512 984h27v8h-27zM988 984h15v8h-15zM1003 984h15v8h-15zM539 992h27v7h-27zM988 992h15v7h-15zM512 999h27v8h-27zM972 999h16v8h-16zM512 1007h27v8h-27zM972 1007h16v8h-16zM512 1015h27v7h-27zM972 1015h16v7h-16zM512 1022h27v8h-27zM1003 1022h15v8h-15zM1018 1022h16v8h-16zM512 1030h27v7h-27zM1018 1030h16v7h-16zM1034 1037h16v8h-16z"/>
<path fill="#727272" d="M955 143h14v8h-14zM955 151h14v8h-14zM955 159h14v7h-14zM753 166h9v8h-9zM762 166h79v8h-79zM862 166h93v8h-93zM955 166h14v8h-14zM762 174h79v8h-79zM862 174h93v8h-93zM955 174h14v8h-14zM955 182h14v7h-14zM753 189h9v8h-9zM762 189h79v8h-79zM862 189h93v8h-93zM955 189h14v8h-14zM955 197h14v8h-14zM955 205h14v7h-14zM955 212h14v8h-14zM753 220h9v8h-9zM762 220h79v8h-79zM862 220h93v8h-93zM955 220h14v8h-14zM762 228h79v7h-79zM862 228h93v7h-93zM955 228h14v7h-14zM955 235h14v8h-14zM955 243h14v7h-14zM762 250h79v8h-79zM862 250h93v8h-93zM955 250h14v8h-14zM753 258h9v8h-9zM762 258h79v8h-79zM862 258h93v8h-93zM955 258h14v8h-14zM955 266h14v7h-14zM955 273h14v8h-14zM955 281h14v8h-14zM762 289h79v7h-79zM862 289h93v7h-93zM955 289h14v7h-14zM762 296h79v8h-79zM862 296h93v8h-93zM955 296h14v8h-14zM762 304h79v8h-79zM862 304h93v8h-93zM955 304h14v8h-14zM753 312h9v7h-9zM762 312h79v7h-79zM862 312h93v7h-93zM955 312h14v7h-14zM955 319h14v8h-14zM955 327h14v7h-14zM955 334h14v8h-14zM955 342h14v8h-14zM762 350h79v7h-79zM862 350h93v7h-93zM955 350h14v7h-14zM753 357h9v8h-9zM762 357h79v8h-79zM862 357h93v8h-93zM955 357h14v8h-14zM955 365h14v8h-14zM955 373h14v7h-14zM955 380h14v8h-14zM955 388h14v8h-14zM753 396h9v7h-9zM762 396h79v7h-79zM862 396h93v7h-93zM955 396h14v7h-14zM753 403h9v8h-9zM762 403h79v8h-79zM862 403h93v8h-93zM955 403h14v8h-14zM762 411h79v8h-79zM862 411h93v8h-93zM955 411h14v8h-14zM762 419h79v7h-79zM862 419h93v7h-93zM955 419h14v7h-14zM955 426h14v8h-14zM955 434h14v7h-14zM955 441h14v8h-14zM955 449h14v8h-14zM955 457h14v7h-14zM955 464h14v8h-14zM955 472h14v8h-14zM955 480h14v7h-14zM753 487h9v8h-9zM762 487h79v8h-79zM862 487h93v8h-93zM955 487h14v8h-14zM753 495h9v8h-9zM762 495h79v8h-79zM862 495h93v8h-93zM955 495h14v8h-14zM955 503h14v7h-14zM955 510h14v8h-14zM955 518h14v8h-14zM753 526h9v7h-9zM762 526h79v7h-79zM862 526h93v7h-93zM955 526h14v7h-14zM955 533h14v8h-14zM955 541h14v7h-14zM762 548h79v8h-79zM862 548h93v8h-93zM955 548h14v8h-14zM972 602h16v8h-16zM988 602h15v8h-15zM1003 602h15v8h-15zM1018 602h16v8h-16zM566 610h135v7h-135zM701 610h1v7h-1zM711 610h42v7h-42zM972 610h16v7h-16zM988 610h15v7h-15zM1003 610h15v7h-15zM972 617h16v8h-16zM988 617h15v8h-15zM1003 617h15v8h-15zM539 625h27v7h-27zM1034 625h16v7h-16zM972 632h16v8h-16zM988 632h15v8h-15zM1003 632h15v8h-15zM1018 632h16v8h-16zM212 640h2v8h-2zM512 648h27v7h-27zM972 663h16v8h-16zM972 671h16v7h-16zM988 671h15v7h-15zM1003 671h15v7h-15zM1018 671h16v7h-16zM566 678h135v8h-135zM701 678h1v8h-1zM711 678h42v8h-42zM1018 678h16v8h-16zM1034 678h16v8h-16zM1050 678h15v8h-15zM566 686h135v8h-135zM701 686h1v8h-1zM711 686h42v8h-42zM1018 686h16v8h-16zM1034 686h16v8h-16zM972 694h16v7h-16zM988 694h15v7h-15zM1003 694h15v7h-15zM1018 694h16v7h-16zM539 701h27v8h-27zM539 709h27v8h-27zM972 717h16v7h-16zM988 717h15v7h-15zM1003 717h15v7h-15zM1003 724h15v8h-15zM1018 724h16v8h-16zM972 732h16v7h-16zM988 732h15v7h-15zM1003 732h15v7h-15zM539 739h27v8h-27zM972 739h16v8h-16zM539 747h27v8h-27zM972 755h16v7h-16zM972 762h16v8h-16zM988 762h15v8h-15zM1003 762h15v8h-15zM1065 770h15v8h-15zM1080 770h16v8h-16zM539 778h27v7h-27zM539 785h27v8h-27zM972 785h16v8h-16zM539 793h27v8h-27zM972 793h16v8h-16zM1018 801h16v7h-16zM1034 801h16v7h-16zM1050 801h15v7h-15zM972 808h16v8h-16zM988 808h15v8h-15zM1003 808h15v8h-15zM1018 808h16v8h-16zM972 816h16v8h-16zM972 824h16v7h-16zM972 831h16v8h-16zM988 831h15v8h-15zM1003 831h15v8h-15zM1018 831h16v8h-16zM1034 831h16v8h-16zM212 839h2v7h-2zM512 839h27v7h-27zM972 839h16v7h-16zM988 839h15v7h-15zM1003 839h15v7h-15zM1018 839h16v7h-16zM1034 839h16v7h-16zM1050 839h15v7h-15zM212 846h2v8h-2zM1034 846h16v8h-16zM1050 846h15v8h-15zM1065 846h15v8h-15zM1050 854h15v8h-15zM1065 854h15v8h-15zM1080 854h16v8h-16zM1096 854h16v8h-16zM1065 862h15v7h-15zM1080 862h16v7h-16zM1096 862h16v7h-16zM1112 862h15v7h-15zM1127 862h15v7h-15zM1142 862h16v7h-16zM1161 862h36v7h-36zM539 869h27v8h-27zM972 869h16v8h-16zM988 869h15v8h-15zM1003 869h15v8h-15zM1018 869h16v8h-16zM1034 869h16v8h-16zM1050 869h15v8h-15zM1161 869h36v8h-36zM1197 869h36v8h-36zM1233 869h36v8h-36zM1269 869h36v8h-36zM539 877h27v8h-27zM972 877h16v8h-16zM988 877h15v8h-15zM212 885h2v7h-2zM512 885h27v7h-27zM212 892h2v8h-2zM512 892h27v8h-27zM539 900h27v8h-27zM539 908h27v7h-27zM1161 908h36v7h-36zM1197 908h36v7h-36zM1233 908h36v7h-36zM539 915h27v8h-27zM1161 915h36v8h-36zM1197 915h36v8h-36zM1233 915h36v8h-36zM1269 915h36v8h-36zM212 923h2v7h-2zM512 923h27v7h-27zM1161 923h36v7h-36zM1197 923h36v7h-36zM1233 923h36v7h-36zM1269 923h36v7h-36zM539 930h27v8h-27zM539 938h27v8h-27zM512 953h27v8h-27zM512 961h27v8h-27zM972 976h16v8h-16zM972 984h16v8h-16zM972 992h16v7h-16zM988 1022h15v8h-15zM1003 1030h15v7h-15zM208 1037h4v8h-4zM1003 1037h15v8h-15zM1018 1037h16v8h-16z"/>
<path fill="#767676" d="M753 174h9v8h-9zM753 182h9v7h-9zM762 182h79v7h-79zM862 182h93v7h-93zM753 296h9v8h-9zM753 304h9v8h-9zM753 350h9v7h-9zM753 411h9v8h-9zM753 419h9v7h-9zM753 533h9v8h-9zM762 533h79v8h-79zM862 533h93v8h-93zM753 548h9v8h-9zM566 617h135v8h-135zM701 617h1v8h-1zM711 617h42v8h-42zM972 625h16v7h-16zM988 625h15v7h-15zM1003 625h15v7h-15zM1018 625h16v7h-16zM539 632h27v8h-27zM512 640h27v8h-27zM539 648h27v7h-27zM539 655h27v8h-27zM566 671h135v7h-135zM701 671h1v7h-1zM711 671h42v7h-42zM972 678h16v8h-16zM988 678h15v8h-15zM1003 678h15v8h-15zM972 686h16v8h-16zM988 686h15v8h-15zM1003 686h15v8h-15zM566 724h135v8h-135zM701 724h1v8h-1zM711 724h42v8h-42zM972 724h16v8h-16zM988 724h15v8h-15zM988 770h15v8h-15zM1003 770h15v8h-15zM1018 770h16v8h-16zM1034 770h16v8h-16zM1050 770h15v8h-15zM972 801h16v7h-16zM988 801h15v7h-15zM1003 801h15v7h-15zM539 808h27v8h-27zM762 816h79v8h-79zM862 816h93v8h-93zM539 824h27v7h-27zM539 831h27v8h-27zM512 846h27v8h-27zM972 846h16v8h-16zM988 846h15v8h-15zM1003 846h15v8h-15zM1018 846h16v8h-16zM539 854h27v8h-27zM972 854h16v8h-16zM988 854h15v8h-15zM1003 854h15v8h-15zM1018 854h16v8h-16zM1034 854h16v8h-16zM762 862h79v7h-79zM862 862h93v7h-93zM972 862h16v7h-16zM988 862h15v7h-15zM1003 862h15v7h-15zM1018 862h16v7h-16zM1034 862h16v7h-16zM1050 862h15v7h-15zM539 885h27v7h-27zM539 892h27v8h-27zM539 923h27v7h-27zM539 946h27v7h-27zM539 969h27v7h-27zM539 976h27v8h-27zM539 984h27v8h-27zM539 999h27v8h-27zM539 1007h27v8h-27zM539 1015h27v7h-27zM539 1022h27v8h-27zM972 1022h16v8h-16zM539 1030h27v7h-27zM972 1030h16v7h-16zM988 1030h15v7h-15zM988 1037h15v8h-15z"/>
<path fill="#7a7a7a" d="M1161 143h144v8h-144zM1161 151h144v8h-144zM1161 159h144v7h-144zM1161 166h144v8h-144zM1161 174h144v8h-144zM1161 182h144v7h-144zM1161 189h144v8h-144zM1161 197h144v8h-144zM1161 205h144v7h-144zM1161 212h144v8h-144zM1161 220h144v8h-144zM1161 228h144v7h-144zM1161 235h144v8h-144zM1161 243h144v7h-144zM1161 250h144v8h-144zM1161 258h144v8h-144zM1161 266h144v7h-144zM1161 273h144v8h-144zM1161 281h144v8h-144zM1161 289h144v7h-144zM1161 296h144v8h-144zM1161 304h144v8h-144zM1161 312h144v7h-144zM1161 319h144v8h-144zM1161 327h144v7h-144zM1161 334h144v8h-144zM1161 342h144v8h-144zM1161 350h144v7h-144zM1161 357h144v8h-144zM1161 365h144v8h-144zM1161 373h144v7h-144zM1161 380h144v8h-144zM1161 388h144v8h-144zM1161 396h144v7h-144zM1161 403h144v8h-144zM1161 411h144v8h-144zM1161 419h144v7h-144zM1161 426h144v8h-144zM1161 434h144v7h-144zM1161 441h144v8h-144zM1161 449h144v8h-144zM1161 457h144v7h-144zM1161 464h144v8h-144zM1161 472h144v8h-144zM1161 480h144v7h-144zM1161 487h144v8h-144zM1161 495h144v8h-144zM1161 503h144v7h-144zM1161 510h144v8h-144zM1161 518h144v8h-144zM1161 526h144v7h-144zM1161 533h144v8h-144zM1161 541h144v7h-144zM1161 548h144v8h-144zM955 602h14v8h-14zM955 610h14v7h-14zM955 617h14v8h-14zM955 625h14v7h-14zM955 632h14v8h-14zM539 640h27v8h-27zM955 640h14v8h-14zM955 648h14v7h-14zM955 655h14v8h-14zM566 663h135v8h-135zM701 663h1v8h-1zM711 663h42v8h-42zM955 663h14v8h-14zM955 671h14v7h-14zM955 678h14v8h-14zM955 686h14v8h-14zM566 694h135v7h-135zM701 694h1v7h-1zM711 694h42v7h-42zM955 694h14v7h-14zM955 701h14v8h-14zM955 709h14v8h-14zM566 717h135v7h-135zM701 717h1v7h-1zM711 717h42v7h-42zM955 717h14v7h-14zM955 724h14v8h-14zM566 732h135v7h-135zM701 732h1v7h-1zM711 732h42v7h-42zM955 732h14v7h-14zM955 739h14v8h-14zM955 747h14v8h-14zM566 755h135v7h-135zM701 755h1v7h-1zM711 755h42v7h-42zM955 755h14v7h-14zM955 762h14v8h-14zM753 770h9v8h-9zM955 770h14v8h-14zM972 770h16v8h-16zM955 778h14v7h-14zM955 785h14v8h-14zM955 793h14v8h-14zM566 801h135v7h-135zM701 801h1v7h-1zM711 801h42v7h-42zM955 801h14v7h-14zM762 808h79v8h-79zM862 808h93v8h-93zM955 808h14v8h-14zM753 816h9v8h-9zM955 816h14v8h-14zM762 824h79v7h-79zM862 824h93v7h-93zM955 824h14v7h-14zM762 831h79v8h-79zM862 831h93v8h-93zM955 831h14v8h-14zM539 839h27v7h-27zM955 839h14v7h-14zM539 846h27v8h-27zM955 846h14v8h-14zM762 854h79v8h-79zM862 854h93v8h-93zM955 854h14v8h-14zM753 862h9v7h-9zM955 862h14v7h-14zM753 869h9v8h-9zM762 869h79v8h-79zM862 869h93v8h-93zM955 869h14v8h-14zM762 877h79v8h-79zM862 877h93v8h-93zM955 877h14v8h-14zM955 885h14v7h-14zM955 892h14v8h-14zM762 900h79v8h-79zM862 900h93v8h-93zM955 900h14v8h-14zM762 908h79v7h-79zM862 908h93v7h-93zM955 908h14v7h-14zM762 915h79v8h-79zM862 915h93v8h-93zM955 915h14v8h-14zM955 923h14v7h-14zM762 930h79v8h-79zM862 930h93v8h-93zM955 930h14v8h-14zM753 938h9v8h-9zM762 938h79v8h-79zM862 938h93v8h-93zM955 938h14v8h-14zM955 946h14v7h-14zM539 953h27v8h-27zM955 953h14v8h-14zM539 961h27v8h-27zM955 961h14v8h-14zM955 969h14v7h-14zM955 976h14v8h-14zM955 984h14v8h-14zM753 992h9v7h-9zM955 992h14v7h-14zM955 999h14v8h-14zM955 1007h14v8h-14zM955 1015h14v7h-14zM955 1022h14v8h-14zM955 1030h14v7h-14zM753 1037h9v8h-9zM955 1037h14v8h-14zM972 1037h16v8h-16z"/>
<path fill="#7e7e7e" d="M214 273h9v8h-9zM566 602h135v8h-135zM701 602h1v8h-1zM711 602h42v8h-42zM762 610h79v7h-79zM862 610h93v7h-93zM566 625h135v7h-135zM701 625h1v7h-1zM711 625h42v7h-42zM566 632h135v8h-135zM701 632h1v8h-1zM711 632h42v8h-42zM566 648h135v7h-135zM701 648h1v7h-1zM711 648h42v7h-42zM566 655h135v8h-135zM701 655h1v8h-1zM711 655h42v8h-42zM762 678h79v8h-79zM862 678h93v8h-93zM762 686h79v8h-79zM862 686h93v8h-93zM566 701h135v8h-135zM701 701h1v8h-1zM711 701h42v8h-42zM566 709h135v8h-135zM701 709h1v8h-1zM711 709h42v8h-42zM762 724h79v8h-79zM862 724h93v8h-93zM566 739h135v8h-135zM701 739h1v8h-1zM711 739h42v8h-42zM566 747h135v8h-135zM701 747h1v8h-1zM711 747h42v8h-42zM566 762h135v8h-135zM701 762h1v8h-1zM711 762h42v8h-42zM566 778h135v7h-135zM701 778h1v7h-1zM711 778h42v7h-42zM566 785h135v8h-135zM701 785h1v8h-1zM711 785h42v8h-42zM566 793h135v8h-135zM701 793h1v8h-1zM711 793h42v8h-42zM753 808h9v8h-9zM753 824h9v7h-9zM753 831h9v8h-9zM762 839h79v7h-79zM862 839h93v7h-93zM762 846h79v8h-79zM862 846h93v8h-93zM753 854h9v8h-9zM753 877h9v8h-9zM762 885h79v7h-79zM862 885h93v7h-93zM762 892h79v8h-79zM862 892h93v8h-93zM753 900h9v8h-9zM753 908h9v7h-9zM753 915h9v8h-9zM762 923h79v7h-79zM862 923h93v7h-93zM753 930h9v8h-9zM753 946h9v7h-9zM753 976h9v8h-9zM753 984h9v8h-9zM762 992h79v7h-79zM862 992h93v7h-93zM753 999h9v8h-9zM762 999h79v8h-79zM862 999h93v8h-93zM753 1007h9v8h-9zM753 1015h9v7h-9zM753 1022h9v8h-9zM753 1030h9v7h-9zM762 1037h79v8h-79zM862 1037h93v8h-93z"/>
<path fill="#828282" d="M753 610h9v7h-9zM762 617h79v8h-79zM862 617h93v8h-93zM566 640h135v8h-135zM701 640h1v8h-1zM711 640h42v8h-42zM762 671h79v7h-79zM862 671h93v7h-93zM753 686h9v8h-9zM762 694h79v7h-79zM862 694h93v7h-93zM762 717h79v7h-79zM862 717h93v7h-93zM762 770h79v8h-79zM862 770h93v8h-93zM753 839h9v7h-9zM753 846h9v8h-9zM753 885h9v7h-9zM753 892h9v8h-9zM753 923h9v7h-9zM762 946h79v7h-79zM862 946h93v7h-93zM753 953h9v8h-9zM762 953h79v8h-79zM862 953h93v8h-93zM753 961h9v8h-9zM762 961h79v8h-79zM862 961h93v8h-93zM753 969h9v7h-9zM762 969h79v7h-79zM862 969h93v7h-93zM762 976h79v8h-79zM862 976h93v8h-93zM762 984h79v8h-79zM862 984h93v8h-93zM762 1007h79v8h-79zM862 1007h93v8h-93zM762 1015h79v7h-79zM862 1015h93v7h-93zM762 1022h79v8h-79zM862 1022h93v8h-93zM214 1030h9v7h-9zM762 1030h79v7h-79zM862 1030h93v7h-93z"/>
<path fill="#868686" d="M762 602h79v8h-79zM862 602h93v8h-93zM762 625h79v7h-79zM862 625h93v7h-93zM762 632h79v8h-79zM862 632h93v8h-93zM762 648h79v7h-79zM862 648h93v7h-93zM762 655h79v8h-79zM862 655h93v8h-93zM762 663h79v8h-79zM862 663h93v8h-93zM753 671h9v7h-9zM753 678h9v8h-9zM762 701h79v8h-79zM862 701h93v8h-93zM762 709h79v8h-79zM862 709h93v8h-93zM753 724h9v8h-9zM762 732h79v7h-79zM862 732h93v7h-93zM762 739h79v8h-79zM862 739h93v8h-93zM762 747h79v8h-79zM862 747h93v8h-93zM762 755h79v7h-79zM862 755h93v7h-93zM762 762h79v8h-79zM862 762h93v8h-93zM762 778h79v7h-79zM862 778h93v7h-93zM762 785h79v8h-79zM862 785h93v8h-93zM762 793h79v8h-79zM862 793h93v8h-93zM762 801h79v7h-79zM862 801h93v7h-93z"/>
<path fill="#8a8a8a" d="M208 273h4v8h-4zM753 617h9v8h-9zM762 640h79v8h-79zM862 640h93v8h-93zM753 694h9v7h-9zM753 717h9v7h-9z"/>
<path fill="#8e8e8e" d="M214 266h9v7h-9zM214 281h9v8h-9zM214 334h9v8h-9zM753 602h9v8h-9zM753 625h9v7h-9zM753 655h9v8h-9zM753 663h9v8h-9zM753 701h9v8h-9zM753 709h9v8h-9zM753 732h9v7h-9zM753 739h9v8h-9zM753 747h9v8h-9zM753 755h9v7h-9zM753 762h9v8h-9zM753 801h9v7h-9zM208 1030h4v7h-4z"/>
<path fill="#929292" d="M214 197h9v8h-9zM214 205h9v7h-9zM214 258h9v8h-9zM702 273h9v8h-9zM214 319h9v8h-9zM214 327h9v7h-9zM214 342h9v8h-9zM753 632h9v8h-9zM753 640h9v8h-9zM753 648h9v7h-9zM753 778h9v7h-9zM753 785h9v8h-9zM753 793h9v8h-9z"/>
<path fill="#969696" d="M214 350h9v7h-9zM214 732h9v7h-9zM214 739h9v8h-9zM214 1022h9v8h-9z"/>
<path fill="#9a9a9a" d="M208 266h4v7h-4zM841 273h21v8h-21zM1158 273h3v8h-3zM208 281h4v8h-4zM208 334h4v8h-4zM214 373h9v7h-9zM214 380h9v8h-9zM214 388h9v8h-9zM214 655h9v8h-9zM214 663h9v8h-9zM214 724h9v8h-9zM214 747h9v8h-9zM214 755h9v7h-9zM214 770h9v8h-9zM214 953h9v8h-9z"/>
<path fill="#9e9e9e" d="M208 197h4v8h-4zM208 205h4v7h-4zM214 212h9v8h-9zM214 250h9v8h-9zM208 258h4v8h-4zM702 266h9v7h-9zM702 281h9v8h-9zM208 319h4v8h-4zM208 327h4v7h-4zM208 342h4v8h-4zM214 357h9v8h-9zM214 365h9v8h-9zM214 396h9v7h-9zM214 709h9v8h-9zM1158 946h3v7h-3zM1158 953h3v8h-3zM214 961h9v8h-9zM1158 961h3v8h-3zM1158 969h3v7h-3zM1158 976h3v8h-3zM1158 984h3v8h-3zM214 992h9v7h-9zM1158 992h3v7h-3zM1158 999h3v8h-3zM1158 1007h3v8h-3zM1158 1015h3v7h-3zM1158 1022h3v8h-3zM1158 1030h3v7h-3zM1158 1037h3v8h-3z"/>
<path fill="#a2a2a2" d="M214 143h9v8h-9zM214 189h9v8h-9zM969 273h3v8h-3zM214 312h9v7h-9zM702 334h9v8h-9zM208 350h4v7h-4zM214 510h9v8h-9zM214 717h9v7h-9zM208 732h4v7h-4zM208 739h4v8h-4zM214 762h9v8h-9zM214 969h9v7h-9zM214 976h9v8h-9zM214 984h9v8h-9zM214 999h9v8h-9zM214 1015h9v7h-9zM208 1022h4v8h-4zM841 1037h21v8h-21z"/>
<path fill="#a6a6a6" d="M702 197h9v8h-9zM702 205h9v7h-9zM702 258h9v8h-9zM1158 266h3v7h-3zM1158 281h3v8h-3zM702 319h9v8h-9zM702 327h9v7h-9zM702 342h9v8h-9zM208 373h4v7h-4zM208 380h4v8h-4zM208 388h4v8h-4zM214 503h9v7h-9zM208 655h4v8h-4zM208 663h4v8h-4zM208 724h4v8h-4zM208 747h4v8h-4zM208 755h4v7h-4zM208 770h4v8h-4zM208 953h4v8h-4z"/>
<path fill="#aaaaaa" d="M208 212h4v8h-4zM214 243h9v7h-9zM208 250h4v8h-4zM841 266h21v7h-21zM841 281h21v8h-21zM841 334h21v8h-21zM1158 334h3v8h-3zM702 350h9v7h-9zM702 373h9v7h-9zM702 380h9v8h-9zM702 388h9v8h-9zM214 648h9v7h-9zM214 701h9v8h-9zM208 709h4v8h-4zM214 946h9v7h-9zM208 961h4v8h-4zM208 992h4v7h-4zM702 1037h9v8h-9z"/>
<path fill="#aeaeae" d="M841 197h21v8h-21zM1158 197h3v8h-3zM841 205h21v7h-21zM1158 205h3v7h-3zM702 212h9v8h-9zM702 250h9v8h-9zM841 258h21v8h-21zM1158 258h3v8h-3zM841 319h21v8h-21zM1158 319h3v8h-3zM841 327h21v7h-21zM1158 327h3v7h-3zM841 342h21v8h-21zM1158 342h3v8h-3zM208 357h4v8h-4zM208 365h4v8h-4zM208 396h4v7h-4zM214 671h9v7h-9zM208 762h4v8h-4zM214 1007h9v8h-9zM841 1030h21v7h-21z"/>
<path fill="#b2b2b2" d="M208 143h4v8h-4zM208 189h4v8h-4zM969 266h3v7h-3zM969 281h3v8h-3zM208 312h4v7h-4zM969 334h3v8h-3zM841 350h21v7h-21zM1158 350h3v7h-3zM702 357h9v8h-9zM702 365h9v8h-9zM1158 373h3v7h-3zM1158 380h3v8h-3zM1158 388h3v8h-3zM702 396h9v7h-9zM214 495h9v8h-9zM208 510h4v8h-4zM214 518h9v8h-9zM214 640h9v8h-9zM214 678h9v8h-9zM214 686h9v8h-9zM214 694h9v7h-9zM208 717h4v7h-4zM214 793h9v8h-9zM214 877h9v8h-9zM208 969h4v7h-4zM208 976h4v8h-4zM208 984h4v8h-4zM208 999h4v8h-4zM208 1015h4v7h-4zM702 1030h9v7h-9z"/>
<path fill="#b6b6b6" d="M702 143h9v8h-9zM702 189h9v8h-9zM969 197h3v8h-3zM969 205h3v7h-3zM1158 212h3v8h-3zM1158 250h3v8h-3zM969 258h3v8h-3zM702 312h9v7h-9zM969 319h3v8h-3zM969 327h3v7h-3zM969 342h3v8h-3zM841 373h21v7h-21zM841 380h21v8h-21zM841 388h21v8h-21zM208 503h4v7h-4zM702 510h9v8h-9zM214 632h9v8h-9zM208 648h4v7h-4zM208 701h4v8h-4zM969 732h3v7h-3zM969 739h3v8h-3zM214 785h9v8h-9zM214 869h9v8h-9zM214 915h9v8h-9zM208 946h4v7h-4zM841 953h21v8h-21zM841 1022h21v8h-21z"/>
<path fill="#bababa" d="M841 212h21v8h-21zM214 235h9v8h-9zM208 243h4v7h-4zM841 250h21v8h-21zM214 289h9v7h-9zM969 350h3v7h-3zM841 357h21v8h-21zM1158 357h3v8h-3zM841 365h21v8h-21zM1158 365h3v8h-3zM841 396h21v7h-21zM1158 396h3v7h-3zM214 403h9v8h-9zM702 503h9v7h-9zM1158 602h3v8h-3zM1158 610h3v7h-3zM1158 617h3v8h-3zM1158 625h3v7h-3zM1158 632h3v8h-3zM1158 640h3v8h-3zM1158 648h3v7h-3zM969 655h3v8h-3zM1158 655h3v8h-3zM969 663h3v8h-3zM1158 663h3v8h-3zM208 671h4v7h-4zM1158 671h3v7h-3zM1158 678h3v8h-3zM1158 686h3v8h-3zM1158 694h3v7h-3zM1158 701h3v8h-3zM1158 709h3v8h-3zM1158 717h3v7h-3zM969 724h3v8h-3zM1158 724h3v8h-3zM1158 732h3v7h-3zM1158 739h3v8h-3zM969 747h3v8h-3zM1158 747h3v8h-3zM969 755h3v7h-3zM1158 755h3v7h-3zM1158 762h3v8h-3zM969 770h3v8h-3zM1158 770h3v8h-3zM1158 778h3v7h-3zM1158 785h3v8h-3zM1158 793h3v8h-3zM1158 801h3v7h-3zM841 869h21v8h-21zM702 953h9v8h-9zM208 1007h4v8h-4zM702 1022h9v8h-9z"/>
<path fill="#bebebe" d="M841 143h21v8h-21zM1158 143h3v8h-3zM841 189h21v8h-21zM1158 189h3v8h-3zM702 243h9v7h-9zM841 312h21v7h-21zM1158 312h3v7h-3zM969 373h3v7h-3zM969 380h3v8h-3zM969 388h3v8h-3zM841 510h21v8h-21zM1158 510h3v8h-3zM841 663h21v8h-21zM969 709h3v8h-3zM214 801h9v7h-9zM841 877h21v8h-21zM214 885h9v7h-9zM214 923h9v7h-9zM841 946h21v7h-21zM841 961h21v8h-21zM841 992h21v7h-21z"/>
<path fill="#c2c2c2" d="M969 212h3v8h-3zM214 220h9v8h-9zM214 228h9v7h-9zM969 250h3v8h-3zM214 304h9v8h-9zM969 357h3v8h-3zM969 365h3v8h-3zM969 396h3v7h-3zM214 411h9v8h-9zM214 419h9v7h-9zM214 487h9v8h-9zM208 495h4v8h-4zM841 503h21v7h-21zM1158 503h3v7h-3zM208 518h4v8h-4zM214 602h9v8h-9zM214 617h9v8h-9zM214 625h9v7h-9zM208 632h4v8h-4zM208 640h4v8h-4zM841 655h21v8h-21zM702 663h9v8h-9zM208 678h4v8h-4zM208 686h4v8h-4zM208 694h4v7h-4zM841 709h21v8h-21zM969 762h3v8h-3zM841 770h21v8h-21zM214 778h9v7h-9zM208 785h4v8h-4zM208 793h4v8h-4zM214 862h9v7h-9zM208 869h4v8h-4zM702 869h9v8h-9zM208 877h4v8h-4zM702 877h9v8h-9zM214 892h9v8h-9zM214 908h9v7h-9zM208 915h4v8h-4zM702 946h9v7h-9zM702 961h9v8h-9zM841 969h21v7h-21zM841 976h21v8h-21zM841 984h21v8h-21zM702 992h9v7h-9zM841 1015h21v7h-21z"/>
<path fill="#c6c6c6" d="M969 143h3v8h-3zM214 166h9v8h-9zM214 182h9v7h-9zM969 189h3v8h-3zM208 235h4v8h-4zM841 243h21v7h-21zM1158 243h3v7h-3zM208 289h4v7h-4zM969 312h3v7h-3zM208 403h4v8h-4zM702 495h9v8h-9zM969 510h3v8h-3zM702 518h9v8h-9zM702 655h9v8h-9zM702 709h9v8h-9zM969 717h3v7h-3zM841 732h21v7h-21zM702 770h9v8h-9zM214 846h9v8h-9zM969 946h3v7h-3zM969 953h3v8h-3zM969 961h3v8h-3zM702 969h9v7h-9zM969 969h3v7h-3zM702 976h9v8h-9zM969 976h3v8h-3zM702 984h9v8h-9zM969 984h3v8h-3zM969 992h3v7h-3zM841 999h21v8h-21zM969 999h3v8h-3zM969 1007h3v8h-3zM702 1015h9v7h-9zM969 1015h3v7h-3zM969 1022h3v8h-3zM969 1030h3v7h-3zM969 1037h3v8h-3z"/>
<path fill="#cacaca" d="M214 426h9v8h-9zM969 503h3v7h-3zM841 648h21v7h-21zM969 648h3v7h-3zM969 701h3v8h-3zM841 724h21v8h-21zM841 739h21v8h-21zM841 747h21v8h-21zM208 801h4v7h-4zM208 885h4v7h-4zM208 923h4v7h-4z"/>
<path fill="#cecece" d="M208 220h4v8h-4zM208 228h4v7h-4zM702 235h9v8h-9zM969 243h3v7h-3zM702 289h9v7h-9zM214 296h9v8h-9zM208 304h4v8h-4zM702 403h9v8h-9zM208 411h4v8h-4zM208 419h4v7h-4zM214 434h9v7h-9zM214 441h9v8h-9zM208 487h4v8h-4zM841 495h21v8h-21zM1158 495h3v8h-3zM841 518h21v8h-21zM1158 518h3v8h-3zM214 526h9v7h-9zM208 602h4v8h-4zM214 610h9v7h-9zM208 617h4v8h-4zM208 625h4v7h-4zM841 640h21v8h-21zM702 648h9v7h-9zM969 671h3v7h-3zM841 701h21v8h-21zM841 717h21v7h-21zM702 724h9v8h-9zM702 732h9v7h-9zM702 739h9v8h-9zM702 747h9v8h-9zM208 778h4v7h-4zM841 793h21v8h-21zM214 854h9v8h-9zM208 862h4v7h-4zM841 862h21v7h-21zM1158 869h3v8h-3zM1158 877h3v8h-3zM208 892h4v8h-4zM214 900h9v8h-9zM208 908h4v7h-4zM841 908h21v7h-21zM841 915h21v8h-21zM1158 915h3v8h-3zM702 999h9v8h-9zM841 1007h21v8h-21z"/>
<path fill="#d2d2d2" d="M214 151h9v8h-9zM214 159h9v7h-9zM208 166h4v8h-4zM208 182h4v7h-4zM702 220h9v8h-9zM702 228h9v7h-9zM702 304h9v8h-9zM702 411h9v8h-9zM702 419h9v7h-9zM214 449h9v8h-9zM214 480h9v7h-9zM702 487h9v8h-9zM214 541h9v7h-9zM214 548h9v8h-9z"/>
<path fill="#d6d6d6" d="M702 166h9v8h-9zM702 182h9v7h-9zM841 235h21v8h-21zM1158 235h3v8h-3zM841 289h21v7h-21zM1158 289h3v7h-3zM841 403h21v8h-21zM1158 403h3v8h-3zM208 426h4v8h-4zM214 457h9v7h-9zM214 464h9v8h-9zM969 495h3v8h-3zM969 518h3v8h-3zM969 632h3v8h-3zM702 640h9v8h-9zM969 640h3v8h-3zM841 678h21v8h-21zM969 678h3v8h-3zM841 686h21v8h-21zM969 686h3v8h-3zM841 694h21v7h-21zM969 694h3v7h-3zM702 701h9v8h-9zM702 717h9v7h-9zM841 755h21v7h-21zM841 762h21v8h-21zM969 785h3v8h-3zM702 793h9v8h-9zM969 793h3v8h-3zM841 801h21v7h-21zM214 808h9v8h-9zM214 816h9v8h-9zM214 824h9v7h-9zM214 839h9v7h-9zM208 846h4v8h-4zM841 846h21v8h-21zM702 862h9v7h-9zM969 869h3v8h-3zM969 877h3v8h-3zM841 885h21v7h-21zM1158 885h3v7h-3zM702 908h9v7h-9zM702 915h9v8h-9zM969 915h3v8h-3zM841 923h21v7h-21zM1158 923h3v7h-3zM702 1007h9v8h-9z"/>
<path fill="#dadada" d="M1158 220h3v8h-3zM1158 228h3v7h-3zM208 296h4v8h-4zM1158 304h3v8h-3zM1158 411h3v8h-3zM1158 419h3v7h-3zM208 434h4v7h-4zM208 441h4v8h-4zM214 472h9v8h-9zM1158 487h3v8h-3zM208 526h4v7h-4zM214 533h9v8h-9zM702 686h9v8h-9zM702 755h9v7h-9zM702 762h9v8h-9z"/>
<path fill="#dedede" d="M208 151h4v8h-4zM208 159h4v7h-4zM1158 166h3v8h-3zM1158 182h3v7h-3zM841 220h21v8h-21zM841 228h21v7h-21zM969 235h3v8h-3zM969 289h3v7h-3zM702 296h9v8h-9zM841 304h21v8h-21zM969 403h3v8h-3zM841 411h21v8h-21zM841 419h21v7h-21zM702 426h9v8h-9zM702 434h9v7h-9zM702 441h9v8h-9zM208 449h4v8h-4zM208 480h4v7h-4zM841 487h21v8h-21zM702 526h9v7h-9zM208 541h4v7h-4zM208 548h4v8h-4zM208 610h4v7h-4zM702 678h9v8h-9zM702 694h9v7h-9zM702 801h9v7h-9zM969 801h3v7h-3zM214 831h9v8h-9zM702 846h9v8h-9zM208 854h4v8h-4zM1158 862h3v7h-3zM702 885h9v7h-9zM969 885h3v7h-3zM1158 892h3v8h-3zM208 900h4v8h-4zM1158 908h3v7h-3zM702 923h9v7h-9zM969 923h3v7h-3z"/>
<path fill="#e2e2e2" d="M702 151h9v8h-9zM702 159h9v7h-9zM841 166h21v8h-21zM214 174h9v8h-9zM841 182h21v7h-21zM969 220h3v8h-3zM969 228h3v7h-3zM969 304h3v8h-3zM969 411h3v8h-3zM969 419h3v7h-3zM1158 426h3v8h-3zM702 449h9v8h-9zM208 457h4v7h-4zM208 464h4v8h-4zM702 480h9v7h-9zM969 487h3v8h-3zM702 541h9v7h-9zM702 548h9v8h-9zM969 602h3v8h-3zM969 617h3v8h-3zM969 625h3v7h-3zM702 632h9v8h-9zM841 632h21v8h-21zM702 671h9v7h-9zM841 671h21v7h-21zM969 778h3v7h-3zM702 785h9v8h-9zM841 785h21v8h-21zM208 808h4v8h-4zM208 816h4v8h-4zM208 824h4v7h-4zM208 839h4v7h-4zM702 839h9v7h-9zM841 839h21v7h-21zM1158 846h3v8h-3zM969 862h3v7h-3zM702 892h9v8h-9zM841 892h21v8h-21zM969 892h3v8h-3zM702 900h9v8h-9zM841 900h21v8h-21zM969 908h3v7h-3zM214 930h9v8h-9zM214 938h9v8h-9z"/>
<path fill="#e6e6e6" d="M1158 296h3v8h-3zM841 426h21v8h-21zM1158 434h3v7h-3zM1158 441h3v8h-3zM702 457h9v7h-9zM702 464h9v8h-9zM208 472h4v8h-4zM1158 526h3v7h-3zM208 533h4v8h-4zM702 625h9v7h-9zM702 854h9v8h-9z"/>
<path fill="#eaeaea" d="M1158 151h3v8h-3zM1158 159h3v7h-3zM969 166h3v8h-3zM969 182h3v7h-3zM841 296h21v8h-21zM841 434h21v7h-21zM841 441h21v8h-21zM1158 449h3v8h-3zM702 472h9v8h-9zM1158 480h3v7h-3zM841 526h21v7h-21zM702 533h9v8h-9zM1158 541h3v7h-3zM1158 548h3v8h-3zM841 625h21v7h-21zM208 831h4v8h-4zM969 846h3v8h-3zM841 854h21v8h-21zM1158 854h3v8h-3zM1158 900h3v8h-3z"/>
<path fill="#eeeeee" d="M841 151h21v8h-21zM841 159h21v7h-21zM208 174h4v8h-4zM969 426h3v8h-3zM841 449h21v8h-21zM1158 457h3v7h-3zM1158 464h3v8h-3zM841 480h21v7h-21zM841 541h21v7h-21zM841 548h21v8h-21zM702 602h9v8h-9zM702 778h9v7h-9zM1158 808h3v8h-3zM1158 816h3v8h-3zM702 824h9v7h-9zM1158 824h3v7h-3zM702 831h9v8h-9zM1158 831h3v8h-3zM1158 839h3v7h-3zM1158 930h3v8h-3zM1158 938h3v8h-3z"/>
<path fill="#f2f2f2" d="M702 174h9v8h-9zM1158 174h3v8h-3zM969 296h3v8h-3zM969 434h3v7h-3zM969 441h3v8h-3zM841 457h21v7h-21zM841 464h21v8h-21zM1158 472h3v8h-3zM969 526h3v7h-3zM1158 533h3v8h-3zM841 602h21v8h-21zM702 610h9v7h-9zM969 610h3v7h-3zM702 617h9v8h-9zM841 778h21v7h-21zM702 808h9v8h-9zM969 808h3v8h-3zM702 816h9v8h-9zM969 816h3v8h-3zM841 824h21v7h-21zM969 824h3v7h-3zM841 831h21v8h-21zM969 831h3v8h-3zM969 839h3v7h-3zM969 854h3v8h-3zM969 900h3v8h-3zM208 930h4v8h-4zM702 930h9v8h-9zM969 930h3v8h-3zM208 938h4v8h-4zM702 938h9v8h-9zM969 938h3v8h-3z"/>
<path fill="#f6f6f6" d="M969 151h3v8h-3zM969 159h3v7h-3zM841 174h21v8h-21zM969 449h3v8h-3zM841 472h21v8h-21zM969 480h3v7h-3zM841 533h21v8h-21zM969 541h3v7h-3zM969 548h3v8h-3zM841 610h21v7h-21zM841 617h21v8h-21zM841 808h21v8h-21zM841 816h21v8h-21zM841 930h21v8h-21zM841 938h21v8h-21z"/>
<path fill="#fafafa" d="M969 174h3v8h-3zM969 457h3v7h-3zM969 464h3v8h-3zM969 472h3v8h-3zM969 533h3v8h-3z"/>
<g fill="url(#st)"><path opacity="0.564" d="M223 143h154v8h-154z"/><path opacity="0.615" d="M566 143h135v8h-135z"/><path opacity="0.615" d="M701 143h1v8h-1z"/><path opacity="0.159" d="M841 143h21v8h-21z"/><path opacity="0.847" d="M223 151h154v8h-154z"/><path opacity="0.904" d="M566 151h135v8h-135z"/><path opacity="0.904" d="M701 151h1v8h-1z"/><path opacity="0.571" d="M841 151h21v8h-21z"/><path opacity="0.847" d="M223 159h154v7h-154z"/><path opacity="0.904" d="M566 159h135v7h-135z"/><path opacity="0.904" d="M701 159h1v7h-1z"/><path opacity="0.571" d="M841 159h21v7h-21z"/><path opacity="0.750" d="M223 166h154v8h-154z"/><path opacity="0.815" d="M566 166h135v8h-135z"/><path opacity="0.815" d="M701 166h1v8h-1z"/><path opacity="0.333" d="M841 166h21v8h-21z"/><path opacity="0.921" d="M223 174h154v8h-154z"/><path opacity="0.951" d="M566 174h135v8h-135z"/><path opacity="0.951" d="M701 174h1v8h-1z"/><path opacity="1.000" d="M841 174h21v8h-21z"/><path opacity="0.742" d="M223 182h154v7h-154z"/><path opacity="0.810" d="M566 182h135v7h-135z"/><path opacity="0.810" d="M701 182h1v7h-1z"/><path opacity="0.333" d="M841 182h21v7h-21z"/><path opacity="0.544" d="M223 189h154v8h-154z"/><path opacity="0.602" d="M566 189h135v8h-135z"/><path opacity="0.602" d="M701 189h1v8h-1z"/><path opacity="0.159" d="M841 189h21v8h-21z"/><path opacity="0.491" d="M223 197h154v8h-154z"/><path opacity="0.531" d="M566 197h135v8h-135z"/><path opacity="0.531" d="M701 197h1v8h-1z"/><path opacity="0.127" d="M841 197h21v8h-21z"/><path opacity="0.512" d="M223 205h154v7h-154z"/><path opacity="0.545" d="M566 205h135v7h-135z"/><path opacity="0.545" d="M701 205h1v7h-1z"/><path opacity="0.127" d="M841 205h21v7h-21z"/><path opacity="0.555" d="M223 212h154v8h-154z"/><path opacity="0.595" d="M566 212h135v8h-135z"/><path opacity="0.595" d="M701 212h1v8h-1z"/><path opacity="0.145" d="M841 212h21v8h-21z"/><path opacity="0.723" d="M223 220h154v8h-154z"/><path opacity="0.785" d="M566 220h135v8h-135z"/><path opacity="0.785" d="M701 220h1v8h-1z"/><path opacity="0.286" d="M841 220h21v8h-21z"/><path opacity="0.727" d="M223 228h154v7h-154z"/><path opacity="0.787" d="M566 228h135v7h-135z"/><path opacity="0.787" d="M701 228h1v7h-1z"/><path opacity="0.286" d="M841 228h21v7h-21z"/><path opacity="0.710" d="M223 235h154v8h-154z"/><path opacity="0.764" d="M566 235h135v8h-135z"/><path opacity="0.764" d="M701 235h1v8h-1z"/><path opacity="0.250" d="M841 235h21v8h-21z"/><path opacity="0.634" d="M223 243h154v7h-154z"/><path opacity="0.679" d="M566 243h135v7h-135z"/><path opacity="0.679" d="M701 243h1v7h-1z"/><path opacity="0.182" d="M841 243h21v7h-21z"/><path opacity="0.521" d="M223 250h154v8h-154z"/><path opacity="0.573" d="M566 250h135v8h-135z"/><path opacity="0.573" d="M701 250h1v8h-1z"/><path opacity="0.145" d="M841 250h21v8h-21z"/><path opacity="0.444" d="M223 258h154v8h-154z"/><path opacity="0.499" d="M566 258h135v8h-135z"/><path opacity="0.499" d="M701 258h1v8h-1z"/><path opacity="0.127" d="M841 258h21v8h-21z"/><path opacity="0.441" d="M223 266h154v7h-154z"/><path opacity="0.483" d="M566 266h135v7h-135z"/><path opacity="0.483" d="M701 266h1v7h-1z"/><path opacity="0.118" d="M841 266h21v7h-21z"/><path opacity="0.377" d="M223 273h154v8h-154z"/><path opacity="0.410" d="M566 273h135v8h-135z"/><path opacity="0.410" d="M701 273h1v8h-1z"/><path opacity="0.101" d="M841 273h21v8h-21z"/><path opacity="0.457" d="M223 281h154v8h-154z"/><path opacity="0.494" d="M566 281h135v8h-135z"/><path opacity="0.494" d="M701 281h1v8h-1z"/><path opacity="0.118" d="M841 281h21v8h-21z"/><path opacity="0.697" d="M223 289h154v7h-154z"/><path opacity="0.756" d="M566 289h135v7h-135z"/><path opacity="0.756" d="M701 289h1v7h-1z"/><path opacity="0.250" d="M841 289h21v7h-21z"/><path opacity="0.794" d="M223 296h154v8h-154z"/><path opacity="0.861" d="M566 296h135v8h-135z"/><path opacity="0.861" d="M701 296h1v8h-1z"/><path opacity="0.444" d="M841 296h21v8h-21z"/><path opacity="0.714" d="M223 304h154v8h-154z"/><path opacity="0.780" d="M566 304h135v8h-135z"/><path opacity="0.780" d="M701 304h1v8h-1z"/><path opacity="0.286" d="M841 304h21v8h-21z"/><path opacity="0.544" d="M223 312h154v7h-154z"/><path opacity="0.602" d="M566 312h135v7h-135z"/><path opacity="0.602" d="M701 312h1v7h-1z"/><path opacity="0.159" d="M841 312h21v7h-21z"/><path opacity="0.469" d="M223 319h154v8h-154z"/><path opacity="0.515" d="M566 319h135v8h-135z"/><path opacity="0.515" d="M701 319h1v8h-1z"/><path opacity="0.127" d="M841 319h21v8h-21z"/><path opacity="0.499" d="M223 327h154v7h-154z"/><path opacity="0.535" d="M566 327h135v7h-135z"/><path opacity="0.535" d="M701 327h1v7h-1z"/><path opacity="0.127" d="M841 327h21v7h-21z"/><path opacity="0.483" d="M223 334h154v8h-154z"/><path opacity="0.517" d="M566 334h135v8h-135z"/><path opacity="0.517" d="M701 334h1v8h-1z"/><path opacity="0.120" d="M841 334h21v8h-21z"/><path opacity="0.491" d="M223 342h154v8h-154z"/><path opacity="0.531" d="M566 342h135v8h-135z"/><path opacity="0.531" d="M701 342h1v8h-1z"/><path opacity="0.127" d="M841 342h21v8h-21z"/><path opacity="0.460" d="M223 350h154v7h-154z"/><path opacity="0.519" d="M566 350h135v7h-135z"/><path opacity="0.519" d="M701 350h1v7h-1z"/><path opacity="0.133" d="M841 350h21v7h-21z"/><path opacity="0.519" d="M223 357h154v8h-154z"/><path opacity="0.576" d="M566 357h135v8h-135z"/><path opacity="0.576" d="M701 357h1v8h-1z"/><path opacity="0.149" d="M841 357h21v8h-21z"/><path opacity="0.566" d="M223 365h154v8h-154z"/><path opacity="0.607" d="M566 365h135v8h-135z"/><path opacity="0.607" d="M701 365h1v8h-1z"/><path opacity="0.149" d="M841 365h21v8h-21z"/><path opacity="0.539" d="M223 373h154v7h-154z"/><path opacity="0.576" d="M566 373h135v7h-135z"/><path opacity="0.576" d="M701 373h1v7h-1z"/><path opacity="0.137" d="M841 373h21v7h-21z"/><path opacity="0.545" d="M223 380h154v8h-154z"/><path opacity="0.580" d="M566 380h135v8h-135z"/><path opacity="0.580" d="M701 380h1v8h-1z"/><path opacity="0.137" d="M841 380h21v8h-21z"/><path opacity="0.539" d="M223 388h154v8h-154z"/><path opacity="0.576" d="M566 388h135v8h-135z"/><path opacity="0.576" d="M701 388h1v8h-1z"/><path opacity="0.137" d="M841 388h21v8h-21z"/><path opacity="0.526" d="M223 396h154v7h-154z"/><path opacity="0.581" d="M566 396h135v7h-135z"/><path opacity="0.581" d="M701 396h1v7h-1z"/><path opacity="0.149" d="M841 396h21v7h-21z"/><path opacity="0.692" d="M223 403h154v8h-154z"/><path opacity="0.753" d="M566 403h135v8h-135z"/><path opacity="0.753" d="M701 403h1v8h-1z"/><path opacity="0.250" d="M841 403h21v8h-21z"/><path opacity="0.714" d="M223 411h154v8h-154z"/><path opacity="0.780" d="M566 411h135v8h-135z"/><path opacity="0.780" d="M701 411h1v8h-1z"/><path opacity="0.286" d="M841 411h21v8h-21z"/><path opacity="0.714" d="M223 419h154v7h-154z"/><path opacity="0.780" d="M566 419h135v7h-135z"/><path opacity="0.780" d="M701 419h1v7h-1z"/><path opacity="0.286" d="M841 419h21v7h-21z"/><path opacity="0.794" d="M223 426h154v8h-154z"/><path opacity="0.854" d="M566 426h135v8h-135z"/><path opacity="0.854" d="M701 426h1v8h-1z"/><path opacity="0.400" d="M841 426h21v8h-21z"/><path opacity="0.809" d="M223 434h154v7h-154z"/><path opacity="0.869" d="M566 434h135v7h-135z"/><path opacity="0.869" d="M701 434h1v7h-1z"/><path opacity="0.444" d="M841 434h21v7h-21z"/><path opacity="0.806" d="M223 441h154v8h-154z"/><path opacity="0.867" d="M566 441h135v8h-135z"/><path opacity="0.867" d="M701 441h1v8h-1z"/><path opacity="0.444" d="M841 441h21v8h-21z"/><path opacity="0.841" d="M223 449h154v8h-154z"/><path opacity="0.901" d="M566 449h135v8h-135z"/><path opacity="0.901" d="M701 449h1v8h-1z"/><path opacity="0.571" d="M841 449h21v8h-21z"/><path opacity="0.861" d="M223 457h154v7h-154z"/><path opacity="0.919" d="M566 457h135v7h-135z"/><path opacity="0.919" d="M701 457h1v7h-1z"/><path opacity="0.667" d="M841 457h21v7h-21z"/><path opacity="0.865" d="M223 464h154v8h-154z"/><path opacity="0.920" d="M566 464h135v8h-135z"/><path opacity="0.920" d="M701 464h1v8h-1z"/><path opacity="0.667" d="M841 464h21v8h-21z"/><path opacity="0.882" d="M223 472h154v8h-154z"/><path opacity="0.946" d="M566 472h135v8h-135z"/><path opacity="0.946" d="M701 472h1v8h-1z"/><path opacity="1.000" d="M841 472h21v8h-21z"/><path opacity="0.836" d="M223 480h154v7h-154z"/><path opacity="0.899" d="M566 480h135v7h-135z"/><path opacity="0.899" d="M701 480h1v7h-1z"/><path opacity="0.571" d="M841 480h21v7h-21z"/><path opacity="0.723" d="M223 487h154v8h-154z"/><path opacity="0.785" d="M566 487h135v8h-135z"/><path opacity="0.785" d="M701 487h1v8h-1z"/><path opacity="0.286" d="M841 487h21v8h-21z"/><path opacity="0.646" d="M223 495h154v8h-154z"/><path opacity="0.705" d="M566 495h135v8h-135z"/><path opacity="0.705" d="M701 495h1v8h-1z"/><path opacity="0.211" d="M841 495h21v8h-21z"/><path opacity="0.600" d="M223 503h154v7h-154z"/><path opacity="0.648" d="M566 503h135v7h-135z"/><path opacity="0.648" d="M701 503h1v7h-1z"/><path opacity="0.169" d="M841 503h21v7h-21z"/><path opacity="0.589" d="M223 510h154v8h-154z"/><path opacity="0.631" d="M566 510h135v8h-135z"/><path opacity="0.631" d="M701 510h1v8h-1z"/><path opacity="0.159" d="M841 510h21v8h-21z"/><path opacity="0.667" d="M223 518h154v8h-154z"/><path opacity="0.718" d="M566 518h135v8h-135z"/><path opacity="0.718" d="M701 518h1v8h-1z"/><path opacity="0.211" d="M841 518h21v8h-21z"/><path opacity="0.797" d="M223 526h154v7h-154z"/><path opacity="0.863" d="M566 526h135v7h-135z"/><path opacity="0.863" d="M701 526h1v7h-1z"/><path opacity="0.444" d="M841 526h21v7h-21z"/><path opacity="0.871" d="M223 533h154v8h-154z"/><path opacity="0.942" d="M566 533h135v8h-135z"/><path opacity="0.942" d="M701 533h1v8h-1z"/><path opacity="1.000" d="M841 533h21v8h-21z"/><path opacity="0.836" d="M223 541h154v7h-154z"/><path opacity="0.899" d="M566 541h135v7h-135z"/><path opacity="0.899" d="M701 541h1v7h-1z"/><path opacity="0.571" d="M841 541h21v7h-21z"/><path opacity="0.825" d="M223 548h154v8h-154z"/><path opacity="0.894" d="M566 548h135v8h-135z"/><path opacity="0.894" d="M701 548h1v8h-1z"/><path opacity="0.571" d="M841 548h21v8h-21z"/><path opacity="0.732" d="M223 602h154v8h-154z"/><path opacity="0.845" d="M566 602h135v8h-135z"/><path opacity="0.845" d="M701 602h1v8h-1z"/><path opacity="0.667" d="M841 602h21v8h-21z"/><path opacity="0.832" d="M223 610h154v7h-154z"/><path opacity="0.892" d="M566 610h135v7h-135z"/><path opacity="0.892" d="M701 610h1v7h-1z"/><path opacity="1.000" d="M841 610h21v7h-21z"/><path opacity="0.748" d="M223 617h154v8h-154z"/><path opacity="0.888" d="M566 617h135v8h-135z"/><path opacity="0.888" d="M701 617h1v8h-1z"/><path opacity="1.000" d="M841 617h21v8h-21z"/><path opacity="0.732" d="M223 625h154v7h-154z"/><path opacity="0.786" d="M566 625h135v7h-135z"/><path opacity="0.786" d="M701 625h1v7h-1z"/><path opacity="0.444" d="M841 625h21v7h-21z"/><path opacity="0.642" d="M223 632h154v8h-154z"/><path opacity="0.743" d="M566 632h135v8h-135z"/><path opacity="0.743" d="M701 632h1v8h-1z"/><path opacity="0.364" d="M841 632h21v8h-21z"/><path opacity="0.613" d="M223 640h154v8h-154z"/><path opacity="0.636" d="M566 640h135v8h-135z"/><path opacity="0.636" d="M701 640h1v8h-1z"/><path opacity="0.211" d="M841 640h21v8h-21z"/><path opacity="0.561" d="M223 648h154v7h-154z"/><path opacity="0.604" d="M566 648h135v7h-135z"/><path opacity="0.604" d="M701 648h1v7h-1z"/><path opacity="0.190" d="M841 648h21v7h-21z"/><path opacity="0.472" d="M223 655h154v8h-154z"/><path opacity="0.549" d="M566 655h135v8h-135z"/><path opacity="0.549" d="M701 655h1v8h-1z"/><path opacity="0.167" d="M841 655h21v8h-21z"/><path opacity="0.488" d="M223 663h154v8h-154z"/><path opacity="0.519" d="M566 663h135v8h-135z"/><path opacity="0.519" d="M701 663h1v8h-1z"/><path opacity="0.154" d="M841 663h21v8h-21z"/><path opacity="0.635" d="M223 671h154v7h-154z"/><path opacity="0.759" d="M566 671h135v7h-135z"/><path opacity="0.759" d="M701 671h1v7h-1z"/><path opacity="0.364" d="M841 671h21v7h-21z"/><path opacity="0.674" d="M223 678h154v8h-154z"/><path opacity="0.727" d="M566 678h135v8h-135z"/><path opacity="0.727" d="M701 678h1v8h-1z"/><path opacity="0.250" d="M841 678h21v8h-21z"/><path opacity="0.678" d="M223 686h154v8h-154z"/><path opacity="0.712" d="M566 686h135v8h-135z"/><path opacity="0.712" d="M701 686h1v8h-1z"/><path opacity="0.235" d="M841 686h21v8h-21z"/><path opacity="0.654" d="M223 694h154v7h-154z"/><path opacity="0.717" d="M566 694h135v7h-135z"/><path opacity="0.717" d="M701 694h1v7h-1z"/><path opacity="0.250" d="M841 694h21v7h-21z"/><path opacity="0.575" d="M223 701h154v8h-154z"/><path opacity="0.650" d="M566 701h135v8h-135z"/><path opacity="0.650" d="M701 701h1v8h-1z"/><path opacity="0.211" d="M841 701h21v8h-21z"/><path opacity="0.496" d="M223 709h154v8h-154z"/><path opacity="0.553" d="M566 709h135v8h-135z"/><path opacity="0.553" d="M701 709h1v8h-1z"/><path opacity="0.167" d="M841 709h21v8h-21z"/><path opacity="0.557" d="M223 717h154v7h-154z"/><path opacity="0.657" d="M566 717h135v7h-135z"/><path opacity="0.657" d="M701 717h1v7h-1z"/><path opacity="0.211" d="M841 717h21v7h-21z"/><path opacity="0.525" d="M223 724h154v8h-154z"/><path opacity="0.633" d="M566 724h135v8h-135z"/><path opacity="0.633" d="M701 724h1v8h-1z"/><path opacity="0.190" d="M841 724h21v8h-21z"/><path opacity="0.457" d="M223 732h154v7h-154z"/><path opacity="0.596" d="M566 732h135v7h-135z"/><path opacity="0.596" d="M701 732h1v7h-1z"/><path opacity="0.182" d="M841 732h21v7h-21z"/><path opacity="0.449" d="M223 739h154v8h-154z"/><path opacity="0.612" d="M566 739h135v8h-135z"/><path opacity="0.612" d="M701 739h1v8h-1z"/><path opacity="0.190" d="M841 739h21v8h-21z"/><path opacity="0.480" d="M223 747h154v8h-154z"/><path opacity="0.612" d="M566 747h135v8h-135z"/><path opacity="0.612" d="M701 747h1v8h-1z"/><path opacity="0.190" d="M841 747h21v8h-21z"/><path opacity="0.488" d="M223 755h154v7h-154z"/><path opacity="0.692" d="M566 755h135v7h-135z"/><path opacity="0.692" d="M701 755h1v7h-1z"/><path opacity="0.235" d="M841 755h21v7h-21z"/><path opacity="0.520" d="M223 762h154v8h-154z"/><path opacity="0.686" d="M566 762h135v8h-135z"/><path opacity="0.686" d="M701 762h1v8h-1z"/><path opacity="0.235" d="M841 762h21v8h-21z"/><path opacity="0.569" d="M223 770h154v8h-154z"/><path opacity="0.617" d="M566 770h135v8h-135z"/><path opacity="0.617" d="M701 770h1v8h-1z"/><path opacity="0.167" d="M841 770h21v8h-21z"/><path opacity="0.724" d="M223 778h154v7h-154z"/><path opacity="0.842" d="M566 778h135v7h-135z"/><path opacity="0.842" d="M701 778h1v7h-1z"/><path opacity="0.667" d="M841 778h21v7h-21z"/><path opacity="0.642" d="M223 785h154v8h-154z"/><path opacity="0.743" d="M566 785h135v8h-135z"/><path opacity="0.743" d="M701 785h1v8h-1z"/><path opacity="0.364" d="M841 785h21v8h-21z"/><path opacity="0.626" d="M223 793h154v8h-154z"/><path opacity="0.644" d="M566 793h135v8h-135z"/><path opacity="0.644" d="M701 793h1v8h-1z"/><path opacity="0.211" d="M841 793h21v8h-21z"/><path opacity="0.705" d="M223 801h154v7h-154z"/><path opacity="0.712" d="M566 801h135v7h-135z"/><path opacity="0.712" d="M701 801h1v7h-1z"/><path opacity="0.250" d="M841 801h21v7h-21z"/><path opacity="0.837" d="M223 808h154v8h-154z"/><path opacity="0.897" d="M566 808h135v8h-135z"/><path opacity="0.897" d="M701 808h1v8h-1z"/><path opacity="1.000" d="M841 808h21v8h-21z"/><path opacity="0.863" d="M223 816h154v8h-154z"/><path opacity="0.900" d="M566 816h135v8h-135z"/><path opacity="0.900" d="M701 816h1v8h-1z"/><path opacity="1.000" d="M841 816h21v8h-21z"/><path opacity="0.854" d="M223 824h154v7h-154z"/><path opacity="0.862" d="M566 824h135v7h-135z"/><path opacity="0.862" d="M701 824h1v7h-1z"/><path opacity="0.667" d="M841 824h21v7h-21z"/><path opacity="0.886" d="M223 831h154v8h-154z"/><path opacity="0.862" d="M566 831h135v8h-135z"/><path opacity="0.862" d="M701 831h1v8h-1z"/><path opacity="0.667" d="M841 831h21v8h-21z"/><path opacity="0.832" d="M223 839h154v7h-154z"/><path opacity="0.772" d="M566 839h135v7h-135z"/><path opacity="0.772" d="M701 839h1v7h-1z"/><path opacity="0.364" d="M841 839h21v7h-21z"/><path opacity="0.748" d="M223 846h154v8h-154z"/><path opacity="0.737" d="M566 846h135v8h-135z"/><path opacity="0.737" d="M701 846h1v8h-1z"/><path opacity="0.250" d="M841 846h21v8h-21z"/><path opacity="0.808" d="M223 854h154v8h-154z"/><path opacity="0.812" d="M566 854h135v8h-135z"/><path opacity="0.812" d="M701 854h1v8h-1z"/><path opacity="0.444" d="M841 854h21v8h-21z"/><path opacity="0.740" d="M223 862h154v7h-154z"/><path opacity="0.700" d="M566 862h135v7h-135z"/><path opacity="0.700" d="M701 862h1v7h-1z"/><path opacity="0.211" d="M841 862h21v7h-21z"/><path opacity="0.654" d="M223 869h154v8h-154z"/><path opacity="0.559" d="M566 869h135v8h-135z"/><path opacity="0.559" d="M701 869h1v8h-1z"/><path opacity="0.148" d="M841 869h21v8h-21z"/><path opacity="0.626" d="M223 877h154v8h-154z"/><path opacity="0.569" d="M566 877h135v8h-135z"/><path opacity="0.569" d="M701 877h1v8h-1z"/><path opacity="0.154" d="M841 877h21v8h-21z"/><path opacity="0.681" d="M223 885h154v7h-154z"/><path opacity="0.737" d="M566 885h135v7h-135z"/><path opacity="0.737" d="M701 885h1v7h-1z"/><path opacity="0.250" d="M841 885h21v7h-21z"/><path opacity="0.714" d="M223 892h154v8h-154z"/><path opacity="0.772" d="M566 892h135v8h-135z"/><path opacity="0.772" d="M701 892h1v8h-1z"/><path opacity="0.364" d="M841 892h21v8h-21z"/><path opacity="0.805" d="M223 900h154v8h-154z"/><path opacity="0.776" d="M566 900h135v8h-135z"/><path opacity="0.776" d="M701 900h1v8h-1z"/><path opacity="0.364" d="M841 900h21v8h-21z"/><path opacity="0.724" d="M223 908h154v7h-154z"/><path opacity="0.690" d="M566 908h135v7h-135z"/><path opacity="0.690" d="M701 908h1v7h-1z"/><path opacity="0.211" d="M841 908h21v7h-21z"/><path opacity="0.642" d="M223 915h154v8h-154z"/><path opacity="0.690" d="M566 915h135v8h-135z"/><path opacity="0.690" d="M701 915h1v8h-1z"/><path opacity="0.211" d="M841 915h21v8h-21z"/><path opacity="0.681" d="M223 923h154v7h-154z"/><path opacity="0.737" d="M566 923h135v7h-135z"/><path opacity="0.737" d="M701 923h1v7h-1z"/><path opacity="0.250" d="M841 923h21v7h-21z"/><path opacity="0.935" d="M223 930h154v8h-154z"/><path opacity="0.897" d="M566 930h135v8h-135z"/><path opacity="0.897" d="M701 930h1v8h-1z"/><path opacity="1.000" d="M841 930h21v8h-21z"/><path opacity="0.937" d="M223 938h154v8h-154z"/><path opacity="0.898" d="M566 938h135v8h-135z"/><path opacity="0.898" d="M701 938h1v8h-1z"/><path opacity="1.000" d="M841 938h21v8h-21z"/><path opacity="0.575" d="M223 946h154v7h-154z"/><path opacity="0.569" d="M566 946h135v7h-135z"/><path opacity="0.569" d="M701 946h1v7h-1z"/><path opacity="0.154" d="M841 946h21v7h-21z"/><path opacity="0.463" d="M223 953h154v8h-154z"/><path opacity="0.509" d="M566 953h135v8h-135z"/><path opacity="0.509" d="M701 953h1v8h-1z"/><path opacity="0.138" d="M841 953h21v8h-21z"/><path opacity="0.480" d="M223 961h154v8h-154z"/><path opacity="0.561" d="M566 961h135v8h-135z"/><path opacity="0.561" d="M701 961h1v8h-1z"/><path opacity="0.154" d="M841 961h21v8h-21z"/><path opacity="0.528" d="M223 969h154v7h-154z"/><path opacity="0.596" d="M566 969h135v7h-135z"/><path opacity="0.596" d="M701 969h1v7h-1z"/><path opacity="0.167" d="M841 969h21v7h-21z"/><path opacity="0.536" d="M223 976h154v8h-154z"/><path opacity="0.600" d="M566 976h135v8h-135z"/><path opacity="0.600" d="M701 976h1v8h-1z"/><path opacity="0.167" d="M841 976h21v8h-21z"/><path opacity="0.543" d="M223 984h154v8h-154z"/><path opacity="0.603" d="M566 984h135v8h-135z"/><path opacity="0.603" d="M701 984h1v8h-1z"/><path opacity="0.167" d="M841 984h21v8h-21z"/><path opacity="0.519" d="M223 992h154v7h-154z"/><path opacity="0.580" d="M566 992h135v7h-135z"/><path opacity="0.580" d="M701 992h1v7h-1z"/><path opacity="0.154" d="M841 992h21v7h-21z"/><path opacity="0.550" d="M223 999h154v8h-154z"/><path opacity="0.641" d="M566 999h135v8h-135z"/><path opacity="0.641" d="M701 999h1v8h-1z"/><path opacity="0.182" d="M841 999h21v8h-21z"/><path opacity="0.606" d="M223 1007h154v8h-154z"/><path opacity="0.690" d="M566 1007h135v8h-135z"/><path opacity="0.690" d="M701 1007h1v8h-1z"/><path opacity="0.211" d="M841 1007h21v8h-21z"/><path opacity="0.543" d="M223 1015h154v7h-154z"/><path opacity="0.603" d="M566 1015h135v7h-135z"/><path opacity="0.603" d="M701 1015h1v7h-1z"/><path opacity="0.167" d="M841 1015h21v7h-21z"/><path opacity="0.449" d="M223 1022h154v8h-154z"/><path opacity="0.517" d="M566 1022h135v8h-135z"/><path opacity="0.517" d="M701 1022h1v8h-1z"/><path opacity="0.138" d="M841 1022h21v8h-21z"/><path opacity="0.339" d="M223 1030h154v7h-154z"/><path opacity="0.466" d="M566 1030h135v7h-135z"/><path opacity="0.466" d="M701 1030h1v7h-1z"/><path opacity="0.125" d="M841 1030h21v7h-21z"/><path opacity="0.203" d="M223 1037h154v8h-154z"/><path opacity="0.412" d="M566 1037h135v8h-135z"/><path opacity="0.412" d="M701 1037h1v8h-1z"/><path opacity="0.111" d="M841 1037h21v8h-21z"/></g>
<g fill="url(#st2)"><path opacity="0.615" d="M711 143h42v8h-42z"/><path opacity="0.904" d="M711 151h42v8h-42z"/><path opacity="0.904" d="M711 159h42v7h-42z"/><path opacity="0.815" d="M711 166h42v8h-42z"/><path opacity="0.951" d="M711 174h42v8h-42z"/><path opacity="0.810" d="M711 182h42v7h-42z"/><path opacity="0.602" d="M711 189h42v8h-42z"/><path opacity="0.531" d="M711 197h42v8h-42z"/><path opacity="0.545" d="M711 205h42v7h-42z"/><path opacity="0.595" d="M711 212h42v8h-42z"/><path opacity="0.785" d="M711 220h42v8h-42z"/><path opacity="0.787" d="M711 228h42v7h-42z"/><path opacity="0.764" d="M711 235h42v8h-42z"/><path opacity="0.679" d="M711 243h42v7h-42z"/><path opacity="0.573" d="M711 250h42v8h-42z"/><path opacity="0.499" d="M711 258h42v8h-42z"/><path opacity="0.483" d="M711 266h42v7h-42z"/><path opacity="0.410" d="M711 273h42v8h-42z"/><path opacity="0.494" d="M711 281h42v8h-42z"/><path opacity="0.756" d="M711 289h42v7h-42z"/><path opacity="0.861" d="M711 296h42v8h-42z"/><path opacity="0.780" d="M711 304h42v8h-42z"/><path opacity="0.602" d="M711 312h42v7h-42z"/><path opacity="0.515" d="M711 319h42v8h-42z"/><path opacity="0.535" d="M711 327h42v7h-42z"/><path opacity="0.517" d="M711 334h42v8h-42z"/><path opacity="0.531" d="M711 342h42v8h-42z"/><path opacity="0.519" d="M711 350h42v7h-42z"/><path opacity="0.576" d="M711 357h42v8h-42z"/><path opacity="0.607" d="M711 365h42v8h-42z"/><path opacity="0.576" d="M711 373h42v7h-42z"/><path opacity="0.580" d="M711 380h42v8h-42z"/><path opacity="0.576" d="M711 388h42v8h-42z"/><path opacity="0.581" d="M711 396h42v7h-42z"/><path opacity="0.753" d="M711 403h42v8h-42z"/><path opacity="0.780" d="M711 411h42v8h-42z"/><path opacity="0.780" d="M711 419h42v7h-42z"/><path opacity="0.854" d="M711 426h42v8h-42z"/><path opacity="0.869" d="M711 434h42v7h-42z"/><path opacity="0.867" d="M711 441h42v8h-42z"/><path opacity="0.901" d="M711 449h42v8h-42z"/><path opacity="0.919" d="M711 457h42v7h-42z"/><path opacity="0.920" d="M711 464h42v8h-42z"/><path opacity="0.946" d="M711 472h42v8h-42z"/><path opacity="0.899" d="M711 480h42v7h-42z"/><path opacity="0.785" d="M711 487h42v8h-42z"/><path opacity="0.705" d="M711 495h42v8h-42z"/><path opacity="0.648" d="M711 503h42v7h-42z"/><path opacity="0.631" d="M711 510h42v8h-42z"/><path opacity="0.718" d="M711 518h42v8h-42z"/><path opacity="0.863" d="M711 526h42v7h-42z"/><path opacity="0.942" d="M711 533h42v8h-42z"/><path opacity="0.899" d="M711 541h42v7h-42z"/><path opacity="0.894" d="M711 548h42v8h-42z"/><path opacity="0.845" d="M711 602h42v8h-42z"/><path opacity="0.892" d="M711 610h42v7h-42z"/><path opacity="0.888" d="M711 617h42v8h-42z"/><path opacity="0.786" d="M711 625h42v7h-42z"/><path opacity="0.743" d="M711 632h42v8h-42z"/><path opacity="0.636" d="M711 640h42v8h-42z"/><path opacity="0.604" d="M711 648h42v7h-42z"/><path opacity="0.549" d="M711 655h42v8h-42z"/><path opacity="0.519" d="M711 663h42v8h-42z"/><path opacity="0.759" d="M711 671h42v7h-42z"/><path opacity="0.727" d="M711 678h42v8h-42z"/><path opacity="0.712" d="M711 686h42v8h-42z"/><path opacity="0.717" d="M711 694h42v7h-42z"/><path opacity="0.650" d="M711 701h42v8h-42z"/><path opacity="0.553" d="M711 709h42v8h-42z"/><path opacity="0.657" d="M711 717h42v7h-42z"/><path opacity="0.633" d="M711 724h42v8h-42z"/><path opacity="0.596" d="M711 732h42v7h-42z"/><path opacity="0.612" d="M711 739h42v8h-42z"/><path opacity="0.612" d="M711 747h42v8h-42z"/><path opacity="0.692" d="M711 755h42v7h-42z"/><path opacity="0.686" d="M711 762h42v8h-42z"/><path opacity="0.617" d="M711 770h42v8h-42z"/><path opacity="0.842" d="M711 778h42v7h-42z"/><path opacity="0.743" d="M711 785h42v8h-42z"/><path opacity="0.644" d="M711 793h42v8h-42z"/><path opacity="0.712" d="M711 801h42v7h-42z"/><path opacity="0.897" d="M711 808h42v8h-42z"/><path opacity="0.900" d="M711 816h42v8h-42z"/><path opacity="0.862" d="M711 824h42v7h-42z"/><path opacity="0.862" d="M711 831h42v8h-42z"/><path opacity="0.772" d="M711 839h42v7h-42z"/><path opacity="0.737" d="M711 846h42v8h-42z"/><path opacity="0.812" d="M711 854h42v8h-42z"/><path opacity="0.700" d="M711 862h42v7h-42z"/><path opacity="0.559" d="M711 869h42v8h-42z"/><path opacity="0.569" d="M711 877h42v8h-42z"/><path opacity="0.737" d="M711 885h42v7h-42z"/><path opacity="0.772" d="M711 892h42v8h-42z"/><path opacity="0.776" d="M711 900h42v8h-42z"/><path opacity="0.690" d="M711 908h42v7h-42z"/><path opacity="0.690" d="M711 915h42v8h-42z"/><path opacity="0.737" d="M711 923h42v7h-42z"/><path opacity="0.897" d="M711 930h42v8h-42z"/><path opacity="0.898" d="M711 938h42v8h-42z"/><path opacity="0.569" d="M711 946h42v7h-42z"/><path opacity="0.509" d="M711 953h42v8h-42z"/><path opacity="0.561" d="M711 961h42v8h-42z"/><path opacity="0.596" d="M711 969h42v7h-42z"/><path opacity="0.600" d="M711 976h42v8h-42z"/><path opacity="0.603" d="M711 984h42v8h-42z"/><path opacity="0.580" d="M711 992h42v7h-42z"/><path opacity="0.641" d="M711 999h42v8h-42z"/><path opacity="0.690" d="M711 1007h42v8h-42z"/><path opacity="0.603" d="M711 1015h42v7h-42z"/><path opacity="0.517" d="M711 1022h42v8h-42z"/><path opacity="0.466" d="M711 1030h42v7h-42z"/><path opacity="0.412" d="M711 1037h42v8h-42z"/></g>
<g fill="url(#st3)"><path opacity="0.644" d="M762 143h79v8h-79z"/><path opacity="0.644" d="M862 143h93v8h-93z"/><path opacity="0.966" d="M762 151h79v8h-79z"/><path opacity="0.966" d="M862 151h93v8h-93z"/><path opacity="0.966" d="M762 159h79v7h-79z"/><path opacity="0.966" d="M862 159h93v7h-93z"/><path opacity="0.873" d="M762 166h79v8h-79z"/><path opacity="0.873" d="M862 166h93v8h-93z"/><path opacity="1.000" d="M762 174h79v8h-79z"/><path opacity="1.000" d="M862 174h93v8h-93z"/><path opacity="0.871" d="M762 182h79v7h-79z"/><path opacity="0.871" d="M862 182h93v7h-93z"/><path opacity="0.634" d="M762 189h79v8h-79z"/><path opacity="0.634" d="M862 189h93v8h-93z"/><path opacity="0.543" d="M762 197h79v8h-79z"/><path opacity="0.543" d="M862 197h93v8h-93z"/><path opacity="0.555" d="M762 205h79v7h-79z"/><path opacity="0.555" d="M862 205h93v7h-93z"/><path opacity="0.615" d="M762 212h79v8h-79z"/><path opacity="0.615" d="M862 212h93v8h-93z"/><path opacity="0.839" d="M762 220h79v8h-79z"/><path opacity="0.839" d="M862 220h93v8h-93z"/><path opacity="0.840" d="M762 228h79v7h-79z"/><path opacity="0.840" d="M862 228h93v7h-93z"/><path opacity="0.810" d="M762 235h79v8h-79z"/><path opacity="0.810" d="M862 235h93v8h-93z"/><path opacity="0.711" d="M762 243h79v7h-79z"/><path opacity="0.711" d="M862 243h93v7h-93z"/><path opacity="0.598" d="M762 250h79v8h-79z"/><path opacity="0.598" d="M862 250h93v8h-93z"/><path opacity="0.519" d="M762 258h79v8h-79z"/><path opacity="0.519" d="M862 258h93v8h-93z"/><path opacity="0.493" d="M762 266h79v7h-79z"/><path opacity="0.493" d="M862 266h93v7h-93z"/><path opacity="0.406" d="M762 273h79v8h-79z"/><path opacity="0.406" d="M862 273h93v8h-93z"/><path opacity="0.502" d="M762 281h79v8h-79z"/><path opacity="0.502" d="M862 281h93v8h-93z"/><path opacity="0.804" d="M762 289h79v7h-79z"/><path opacity="0.804" d="M862 289h93v7h-93z"/><path opacity="0.927" d="M762 296h79v8h-79z"/><path opacity="0.927" d="M862 296h93v8h-93z"/><path opacity="0.836" d="M762 304h79v8h-79z"/><path opacity="0.836" d="M862 304h93v8h-93z"/><path opacity="0.634" d="M762 312h79v7h-79z"/><path opacity="0.634" d="M862 312h93v7h-93z"/><path opacity="0.531" d="M762 319h79v8h-79z"/><path opacity="0.531" d="M862 319h93v8h-93z"/><path opacity="0.547" d="M762 327h79v7h-79z"/><path opacity="0.547" d="M862 327h93v7h-93z"/><path opacity="0.524" d="M762 334h79v8h-79z"/><path opacity="0.524" d="M862 334h93v8h-93z"/><path opacity="0.543" d="M762 342h79v8h-79z"/><path opacity="0.543" d="M862 342h93v8h-93z"/><path opacity="0.543" d="M762 350h79v7h-79z"/><path opacity="0.543" d="M862 350h93v7h-93z"/><path opacity="0.605" d="M762 357h79v8h-79z"/><path opacity="0.605" d="M862 357h93v8h-93z"/><path opacity="0.629" d="M762 365h79v8h-79z"/><path opacity="0.629" d="M862 365h93v8h-93z"/><path opacity="0.592" d="M762 373h79v7h-79z"/><path opacity="0.592" d="M862 373h93v7h-93z"/><path opacity="0.595" d="M762 380h79v8h-79z"/><path opacity="0.595" d="M862 380h93v8h-93z"/><path opacity="0.592" d="M762 388h79v8h-79z"/><path opacity="0.592" d="M862 388h93v8h-93z"/><path opacity="0.609" d="M762 396h79v7h-79z"/><path opacity="0.609" d="M862 396h93v7h-93z"/><path opacity="0.803" d="M762 403h79v8h-79z"/><path opacity="0.803" d="M862 403h93v8h-93z"/><path opacity="0.836" d="M762 411h79v8h-79z"/><path opacity="0.836" d="M862 411h93v8h-93z"/><path opacity="0.836" d="M762 419h79v7h-79z"/><path opacity="0.836" d="M862 419h93v7h-93z"/><path opacity="0.913" d="M762 426h79v8h-79z"/><path opacity="0.913" d="M862 426h93v8h-93z"/><path opacity="0.930" d="M762 434h79v7h-79z"/><path opacity="0.930" d="M862 434h93v7h-93z"/><path opacity="0.930" d="M762 441h79v8h-79z"/><path opacity="0.930" d="M862 441h93v8h-93z"/><path opacity="0.965" d="M762 449h79v8h-79z"/><path opacity="0.965" d="M862 449h93v8h-93z"/><path opacity="0.983" d="M762 457h79v7h-79z"/><path opacity="0.983" d="M862 457h93v7h-93z"/><path opacity="0.983" d="M762 464h79v8h-79z"/><path opacity="0.983" d="M862 464h93v8h-93z"/><path opacity="1.000" d="M762 472h79v8h-79z"/><path opacity="1.000" d="M862 472h93v8h-93z"/><path opacity="0.965" d="M762 480h79v7h-79z"/><path opacity="0.965" d="M862 480h93v7h-93z"/><path opacity="0.839" d="M762 487h79v8h-79z"/><path opacity="0.839" d="M862 487h93v8h-93z"/><path opacity="0.749" d="M762 495h79v8h-79z"/><path opacity="0.749" d="M862 495h93v8h-93z"/><path opacity="0.678" d="M762 503h79v7h-79z"/><path opacity="0.678" d="M862 503h93v7h-93z"/><path opacity="0.656" d="M762 510h79v8h-79z"/><path opacity="0.656" d="M862 510h93v8h-93z"/><path opacity="0.758" d="M762 518h79v8h-79z"/><path opacity="0.758" d="M862 518h93v8h-93z"/><path opacity="0.928" d="M762 526h79v7h-79z"/><path opacity="0.928" d="M862 526h93v7h-93z"/><path opacity="1.000" d="M762 533h79v8h-79z"/><path opacity="1.000" d="M862 533h93v8h-93z"/><path opacity="0.965" d="M762 541h79v7h-79z"/><path opacity="0.965" d="M862 541h93v7h-93z"/><path opacity="0.963" d="M762 548h79v8h-79z"/><path opacity="0.963" d="M862 548h93v8h-93z"/><path opacity="0.917" d="M762 602h79v8h-79z"/><path opacity="0.917" d="M862 602h93v8h-93z"/><path opacity="0.961" d="M762 610h79v7h-79z"/><path opacity="0.961" d="M862 610h93v7h-93z"/><path opacity="0.960" d="M762 617h79v8h-79z"/><path opacity="0.960" d="M862 617h93v8h-93z"/><path opacity="0.854" d="M762 625h79v7h-79z"/><path opacity="0.854" d="M862 625h93v7h-93z"/><path opacity="0.809" d="M762 632h79v8h-79z"/><path opacity="0.809" d="M862 632h93v8h-93z"/><path opacity="0.698" d="M762 640h79v8h-79z"/><path opacity="0.698" d="M862 640h93v8h-93z"/><path opacity="0.661" d="M762 648h79v7h-79z"/><path opacity="0.661" d="M862 648h93v7h-93z"/><path opacity="0.601" d="M762 655h79v8h-79z"/><path opacity="0.601" d="M862 655h93v8h-93z"/><path opacity="0.566" d="M762 663h79v8h-79z"/><path opacity="0.566" d="M862 663h93v8h-93z"/><path opacity="0.820" d="M762 671h79v7h-79z"/><path opacity="0.820" d="M862 671h93v7h-93z"/><path opacity="0.783" d="M762 678h79v8h-79z"/><path opacity="0.783" d="M862 678h93v8h-93z"/><path opacity="0.766" d="M762 686h79v8h-79z"/><path opacity="0.766" d="M862 686h93v8h-93z"/><path opacity="0.776" d="M762 694h79v7h-79z"/><path opacity="0.776" d="M862 694h93v7h-93z"/><path opacity="0.708" d="M762 701h79v8h-79z"/><path opacity="0.708" d="M862 701h93v8h-93z"/><path opacity="0.604" d="M762 709h79v8h-79z"/><path opacity="0.604" d="M862 709h93v8h-93z"/><path opacity="0.713" d="M762 717h79v7h-79z"/><path opacity="0.713" d="M862 717h93v7h-93z"/><path opacity="0.683" d="M762 724h79v8h-79z"/><path opacity="0.683" d="M862 724h93v8h-93z"/><path opacity="0.649" d="M762 732h79v7h-79z"/><path opacity="0.649" d="M862 732h93v7h-93z"/><path opacity="0.667" d="M762 739h79v8h-79z"/><path opacity="0.667" d="M862 739h93v8h-93z"/><path opacity="0.667" d="M762 747h79v8h-79z"/><path opacity="0.667" d="M862 747h93v8h-93z"/><path opacity="0.752" d="M762 755h79v7h-79z"/><path opacity="0.752" d="M862 755h93v7h-93z"/><path opacity="0.748" d="M762 762h79v8h-79z"/><path opacity="0.748" d="M862 762h93v8h-93z"/><path opacity="0.620" d="M762 770h79v8h-79z"/><path opacity="0.620" d="M862 770h93v8h-93z"/><path opacity="0.915" d="M762 778h79v7h-79z"/><path opacity="0.915" d="M862 778h93v7h-93z"/><path opacity="0.809" d="M762 785h79v8h-79z"/><path opacity="0.809" d="M862 785h93v8h-93z"/><path opacity="0.703" d="M762 793h79v8h-79z"/><path opacity="0.703" d="M862 793h93v8h-93z"/><path opacity="0.773" d="M762 801h79v7h-79z"/><path opacity="0.773" d="M862 801h93v7h-93z"/><path opacity="0.962" d="M762 808h79v8h-79z"/><path opacity="0.962" d="M862 808h93v8h-93z"/><path opacity="0.963" d="M762 816h79v8h-79z"/><path opacity="0.963" d="M862 816h93v8h-93z"/><path opacity="0.923" d="M762 824h79v7h-79z"/><path opacity="0.923" d="M862 824h93v7h-93z"/><path opacity="0.923" d="M762 831h79v8h-79z"/><path opacity="0.923" d="M862 831h93v8h-93z"/><path opacity="0.825" d="M762 839h79v7h-79z"/><path opacity="0.825" d="M862 839h93v7h-93z"/><path opacity="0.786" d="M762 846h79v8h-79z"/><path opacity="0.786" d="M862 846h93v8h-93z"/><path opacity="0.867" d="M762 854h79v8h-79z"/><path opacity="0.867" d="M862 854h93v8h-93z"/><path opacity="0.740" d="M762 862h79v7h-79z"/><path opacity="0.740" d="M862 862h93v7h-93z"/><path opacity="0.585" d="M762 869h79v8h-79z"/><path opacity="0.585" d="M862 869h93v8h-93z"/><path opacity="0.598" d="M762 877h79v8h-79z"/><path opacity="0.598" d="M862 877h93v8h-93z"/><path opacity="0.786" d="M762 885h79v7h-79z"/><path opacity="0.786" d="M862 885h93v7h-93z"/><path opacity="0.825" d="M762 892h79v8h-79z"/><path opacity="0.825" d="M862 892h93v8h-93z"/><path opacity="0.828" d="M762 900h79v8h-79z"/><path opacity="0.828" d="M862 900h93v8h-93z"/><path opacity="0.732" d="M762 908h79v7h-79z"/><path opacity="0.732" d="M862 908h93v7h-93z"/><path opacity="0.732" d="M762 915h79v8h-79z"/><path opacity="0.732" d="M862 915h93v8h-93z"/><path opacity="0.786" d="M762 923h79v7h-79z"/><path opacity="0.786" d="M862 923h93v7h-93z"/><path opacity="0.962" d="M762 930h79v8h-79z"/><path opacity="0.962" d="M862 930h93v8h-93z"/><path opacity="0.962" d="M762 938h79v8h-79z"/><path opacity="0.962" d="M862 938h93v8h-93z"/><path opacity="0.580" d="M762 946h79v7h-79z"/><path opacity="0.580" d="M862 946h93v7h-93z"/><path opacity="0.512" d="M762 953h79v8h-79z"/><path opacity="0.512" d="M862 953h93v8h-93z"/><path opacity="0.573" d="M762 961h79v8h-79z"/><path opacity="0.573" d="M862 961h93v8h-93z"/><path opacity="0.614" d="M762 969h79v7h-79z"/><path opacity="0.614" d="M862 969h93v7h-93z"/><path opacity="0.617" d="M762 976h79v8h-79z"/><path opacity="0.617" d="M862 976h93v8h-93z"/><path opacity="0.620" d="M762 984h79v8h-79z"/><path opacity="0.620" d="M862 984h93v8h-93z"/><path opacity="0.590" d="M762 992h79v7h-79z"/><path opacity="0.590" d="M862 992h93v7h-93z"/><path opacity="0.663" d="M762 999h79v8h-79z"/><path opacity="0.663" d="M862 999h93v8h-93z"/><path opacity="0.720" d="M762 1007h79v8h-79z"/><path opacity="0.720" d="M862 1007h93v8h-93z"/><path opacity="0.620" d="M762 1015h79v7h-79z"/><path opacity="0.620" d="M862 1015h93v7h-93z"/><path opacity="0.520" d="M762 1022h79v8h-79z"/><path opacity="0.520" d="M862 1022h93v8h-93z"/><path opacity="0.460" d="M762 1030h79v7h-79z"/><path opacity="0.460" d="M862 1030h93v7h-93z"/><path opacity="0.395" d="M762 1037h79v8h-79z"/><path opacity="0.395" d="M862 1037h93v8h-93z"/></g>
<path fill="#bebebe" d="M952 143h3v8h-3z"/>
<path fill="#eeeeee" d="M952 151h3v8h-3z"/>
<path fill="#eeeeee" d="M952 159h3v7h-3z"/>
<path fill="#e2e2e2" d="M952 166h3v8h-3z"/>
<path fill="#f2f2f2" d="M952 174h3v8h-3z"/>
<path fill="#e2e2e2" d="M952 182h3v7h-3z"/>
<path fill="#bebebe" d="M952 189h3v8h-3z"/>
<path fill="#aeaeae" d="M952 197h3v8h-3z"/>
<path fill="#aeaeae" d="M952 205h3v7h-3z"/>
<path fill="#bababa" d="M952 212h3v8h-3z"/>
<path fill="#dedede" d="M952 220h3v8h-3z"/>
<path fill="#dedede" d="M952 228h3v7h-3z"/>
<path fill="#d6d6d6" d="M952 235h3v8h-3z"/>
<path fill="#c6c6c6" d="M952 243h3v7h-3z"/>
<path fill="#bababa" d="M952 250h3v8h-3z"/>
<path fill="#aeaeae" d="M952 258h3v8h-3z"/>
<path fill="#aaaaaa" d="M952 266h3v7h-3z"/>
<path fill="#9a9a9a" d="M952 273h3v8h-3z"/>
<path fill="#aaaaaa" d="M952 281h3v8h-3z"/>
<path fill="#d6d6d6" d="M952 289h3v7h-3z"/>
<path fill="#eaeaea" d="M952 296h3v8h-3z"/>
<path fill="#dedede" d="M952 304h3v8h-3z"/>
<path fill="#bebebe" d="M952 312h3v7h-3z"/>
<path fill="#aeaeae" d="M952 319h3v8h-3z"/>
<path fill="#aeaeae" d="M952 327h3v7h-3z"/>
<path fill="#aaaaaa" d="M952 334h3v8h-3z"/>
<path fill="#aeaeae" d="M952 342h3v8h-3z"/>
<path fill="#b2b2b2" d="M952 350h3v7h-3z"/>
<path fill="#bababa" d="M952 357h3v8h-3z"/>
<path fill="#bababa" d="M952 365h3v8h-3z"/>
<path fill="#b6b6b6" d="M952 373h3v7h-3z"/>
<path fill="#b6b6b6" d="M952 380h3v8h-3z"/>
<path fill="#b6b6b6" d="M952 388h3v8h-3z"/>
<path fill="#bababa" d="M952 396h3v7h-3z"/>
<path fill="#d6d6d6" d="M952 403h3v8h-3z"/>
<path fill="#dedede" d="M952 411h3v8h-3z"/>
<path fill="#dedede" d="M952 419h3v7h-3z"/>
<path fill="#e6e6e6" d="M952 426h3v8h-3z"/>
<path fill="#eaeaea" d="M952 434h3v7h-3z"/>
<path fill="#eaeaea" d="M952 441h3v8h-3z"/>
<path fill="#eeeeee" d="M952 449h3v8h-3z"/>
<path fill="#f2f2f2" d="M952 457h3v7h-3z"/>
<path fill="#f2f2f2" d="M952 464h3v8h-3z"/>
<path fill="#f2f2f2" d="M952 472h3v8h-3z"/>
<path fill="#eeeeee" d="M952 480h3v7h-3z"/>
<path fill="#dedede" d="M952 487h3v8h-3z"/>
<path fill="#cecece" d="M952 495h3v8h-3z"/>
<path fill="#c2c2c2" d="M952 503h3v7h-3z"/>
<path fill="#bebebe" d="M952 510h3v8h-3z"/>
<path fill="#cecece" d="M952 518h3v8h-3z"/>
<path fill="#eaeaea" d="M952 526h3v7h-3z"/>
<path fill="#f2f2f2" d="M952 533h3v8h-3z"/>
<path fill="#eeeeee" d="M952 541h3v7h-3z"/>
<path fill="#eeeeee" d="M952 548h3v8h-3z"/>
<path fill="#dedede" d="M952 602h3v8h-3z"/>
<path fill="#eaeaea" d="M952 610h3v7h-3z"/>
<path fill="#dedede" d="M952 617h3v8h-3z"/>
<path fill="#dedede" d="M952 625h3v7h-3z"/>
<path fill="#cecece" d="M952 632h3v8h-3z"/>
<path fill="#cecece" d="M952 640h3v8h-3z"/>
<path fill="#c2c2c2" d="M952 648h3v7h-3z"/>
<path fill="#b2b2b2" d="M952 655h3v8h-3z"/>
<path fill="#b2b2b2" d="M952 663h3v8h-3z"/>
<path fill="#c6c6c6" d="M952 671h3v7h-3z"/>
<path fill="#cecece" d="M952 678h3v8h-3z"/>
<path fill="#cecece" d="M952 686h3v8h-3z"/>
<path fill="#cecece" d="M952 694h3v7h-3z"/>
<path fill="#c2c2c2" d="M952 701h3v8h-3z"/>
<path fill="#b6b6b6" d="M952 709h3v8h-3z"/>
<path fill="#bebebe" d="M952 717h3v7h-3z"/>
<path fill="#b2b2b2" d="M952 724h3v8h-3z"/>
<path fill="#aeaeae" d="M952 732h3v7h-3z"/>
<path fill="#aeaeae" d="M952 739h3v8h-3z"/>
<path fill="#b2b2b2" d="M952 747h3v8h-3z"/>
<path fill="#b2b2b2" d="M952 755h3v7h-3z"/>
<path fill="#bababa" d="M952 762h3v8h-3z"/>
<path fill="#9e9e9e" d="M961 762h4v8h-4z"/>
<path fill="#b2b2b2" d="M952 770h3v8h-3z"/>
<path fill="#9e9e9e" d="M956 770h4v8h-4z"/>
<path fill="#c6c6c6" d="M960 770h8v8h-8z"/>
<path fill="#dedede" d="M952 778h3v7h-3z"/>
<path fill="#cecece" d="M952 785h3v8h-3z"/>
<path fill="#cecece" d="M952 793h3v8h-3z"/>
<path fill="#d6d6d6" d="M952 801h3v7h-3z"/>
<path fill="#eaeaea" d="M952 808h3v8h-3z"/>
<path fill="#eaeaea" d="M952 816h3v8h-3z"/>
<path fill="#eaeaea" d="M952 824h3v7h-3z"/>
<path fill="#eaeaea" d="M952 831h3v8h-3z"/>
<path fill="#eaeaea" d="M952 839h3v7h-3z"/>
<path fill="#e2e2e2" d="M952 846h3v8h-3z"/>
<path fill="#eaeaea" d="M952 854h3v8h-3z"/>
<path fill="#dedede" d="M952 862h3v7h-3z"/>
<path fill="#cecece" d="M952 869h3v8h-3z"/>
<path fill="#cecece" d="M952 877h3v8h-3z"/>
<path fill="#d6d6d6" d="M952 885h3v7h-3z"/>
<path fill="#dedede" d="M952 892h3v8h-3z"/>
<path fill="#eaeaea" d="M952 900h3v8h-3z"/>
<path fill="#dedede" d="M952 908h3v7h-3z"/>
<path fill="#cecece" d="M952 915h3v8h-3z"/>
<path fill="#d6d6d6" d="M952 923h3v7h-3z"/>
<path fill="#eaeaea" d="M952 930h3v8h-3z"/>
<path fill="#eaeaea" d="M952 938h3v8h-3z"/>
<path fill="#c2c2c2" d="M952 946h3v7h-3z"/>
<path fill="#c2c2c2" d="M952 953h3v8h-3z"/>
<path fill="#c2c2c2" d="M952 961h3v8h-3z"/>
<path fill="#c2c2c2" d="M952 969h3v7h-3z"/>
<path fill="#c2c2c2" d="M952 976h3v8h-3z"/>
<path fill="#c2c2c2" d="M952 984h3v8h-3z"/>
<path fill="#c2c2c2" d="M952 992h3v7h-3z"/>
<path fill="#c2c2c2" d="M952 999h3v8h-3z"/>
<path fill="#c2c2c2" d="M952 1007h3v8h-3z"/>
<path fill="#c2c2c2" d="M952 1015h3v7h-3z"/>
<path fill="#c2c2c2" d="M952 1022h3v8h-3z"/>
<path fill="#c2c2c2" d="M952 1030h3v7h-3z"/>
<path fill="#c2c2c2" d="M952 1037h3v8h-3z"/>
<rect x="208" y="143" width="1097" height="413" fill="url(#nzp)" style="mix-blend-mode:plus-lighter"/>
<rect x="208" y="143" width="1097" height="413" fill="url(#nzm)" style="mix-blend-mode:difference"/>
<rect x="208" y="602" width="1097" height="443" fill="url(#nzp)" style="mix-blend-mode:plus-lighter"/>
<rect x="208" y="602" width="1097" height="443" fill="url(#nzm)" style="mix-blend-mode:difference"/>
<path fill="#222222" d="M1269 709h36v8h-36z"/>
<path fill="url(#nzp)" opacity="0.5" style="mix-blend-mode:plus-lighter" d="M1269 709h36v8h-36z"/>
<path fill="#1e1e1e" d="M1197 999h36v8h-36z"/>
<path fill="url(#nzp)" opacity="0.5" style="mix-blend-mode:plus-lighter" d="M1197 999h36v8h-36z"/>
<path fill="#1a1a1a" d="M1233 999h36v8h-36z"/>
<path fill="url(#nzp)" opacity="0.5" style="mix-blend-mode:plus-lighter" d="M1233 999h36v8h-36z"/>
<path fill="#161616" d="M1269 999h36v8h-36z"/>
<path fill="url(#nzp)" opacity="0.5" style="mix-blend-mode:plus-lighter" d="M1269 999h36v8h-36z"/>
<path fill="#1e1e1e" d="M1112 1007h15v8h-15z"/>
<path fill="url(#nzp)" opacity="0.5" style="mix-blend-mode:plus-lighter" d="M1112 1007h15v8h-15z"/>
<path fill="#1e1e1e" d="M1127 1007h15v8h-15z"/>
<path fill="url(#nzp)" opacity="0.5" style="mix-blend-mode:plus-lighter" d="M1127 1007h15v8h-15z"/>
<path fill="#1e1e1e" d="M1142 1007h16v8h-16z"/>
<path fill="url(#nzp)" opacity="0.5" style="mix-blend-mode:plus-lighter" d="M1142 1007h16v8h-16z"/>
<path fill="#0e0e0e" d="M1161 1007h36v8h-36z"/>
<path fill="url(#nzp)" opacity="0.5" style="mix-blend-mode:plus-lighter" d="M1161 1007h36v8h-36z"/>
<path fill="#0a0a0a" d="M1197 1007h36v8h-36z"/>
<path fill="url(#nzp)" opacity="0.5" style="mix-blend-mode:plus-lighter" d="M1197 1007h36v8h-36z"/>
<path fill="#0a0a0a" d="M1233 1007h36v8h-36z"/>
<path fill="url(#nzp)" opacity="0.5" style="mix-blend-mode:plus-lighter" d="M1233 1007h36v8h-36z"/>
<path fill="#060606" d="M1269 1007h36v8h-36z"/>
<path fill="url(#nzp)" opacity="0.5" style="mix-blend-mode:plus-lighter" d="M1269 1007h36v8h-36z"/>
<path fill="#222222" d="M1233 1015h36v7h-36z"/>
<path fill="url(#nzp)" opacity="0.5" style="mix-blend-mode:plus-lighter" d="M1233 1015h36v7h-36z"/>
<path fill="#1e1e1e" d="M1269 1015h36v7h-36z"/>
<path fill="url(#nzp)" opacity="0.5" style="mix-blend-mode:plus-lighter" d="M1269 1015h36v7h-36z"/>
</g>
<g shape-rendering="crispEdges">
<rect x="1346" y="1054" width="57" height="15" fill="#00008f"/>
<rect x="1346" y="1038" width="57" height="16" fill="#00009f"/>
<rect x="1346" y="1023" width="57" height="15" fill="#0000af"/>
<rect x="1346" y="1008" width="57" height="15" fill="#0000bf"/>
<rect x="1346" y="993" width="57" height="15" fill="#0000cf"/>
<rect x="1346" y="977" width="57" height="16" fill="#0000df"/>
<rect x="1346" y="962" width="57" height="15" fill="#0000ef"/>
<rect x="1346" y="947" width="57" height="15" fill="#0000ff"/>
<rect x="1346" y="931" width="57" height="16" fill="#0010ff"/>
<rect x="1346" y="916" width="57" height="15" fill="#0020ff"/>
<rect x="1346" y="901" width="57" height="15" fill="#0030ff"/>
<rect x="1346" y="885" width="57" height="16" fill="#0040ff"/>
<rect x="1346" y="870" width="57" height="15" fill="#0050ff"/>
<rect x="1346" y="855" width="57" height="15" fill="#0060ff"/>
<rect x="1346" y="840" width="57" height="15" fill="#0070ff"/>
<rect x="1346" y="824" width="57" height="16" fill="#0080ff"/>
<rect x="1346" y="809" width="57" height="15" fill="#008fff"/>
<rect x="1346" y="794" width="57" height="15" fill="#009fff"/>
<rect x="1346" y="778" width="57" height="16" fill="#00afff"/>
<rect x="1346" y="763" width="57" height="15" fill="#00bfff"/>
<rect x="1346" y="748" width="57" height="15" fill="#00cfff"/>
<rect x="1346" y="732" width="57" height="16" fill="#00dfff"/>
<rect x="1346" y="717" width="57" height="15" fill="#00efff"/>
<rect x="1346" y="702" width="57" height="15" fill="#00ffff"/>
<rect x="1346" y="687" width="57" height="15" fill="#10ffef"/>
<rect x="1346" y="671" width="57" height="16" fill="#20ffdf"/>
<rect x="1346" y="656" width="57" height="15" fill="#30ffcf"/>
<rect x="1346" y="641" width="57" height="15" fill="#40ffbf"/>
<rect x="1346" y="625" width="57" height="16" fill="#50ffaf"/>
<rect x="1346" y="610" width="57" height="15" fill="#60ff9f"/>
<rect x="1346" y="595" width="57" height="15" fill="#70ff8f"/>
<rect x="1346" y="580" width="57" height="15" fill="#80ff80"/>
<rect x="1346" y="564" width="57" height="16" fill="#8fff70"/>
<rect x="1346" y="549" width="57" height="15" fill="#9fff60"/>
<rect x="1346" y="534" width="57" height="15" fill="#afff50"/>
<rect x="1346" y="518" width="57" height="16" fill="#bfff40"/>
<rect x="1346" y="503" width="57" height="15" fill="#cfff30"/>
<rect x="1346" y="488" width="57" height="15" fill="#dfff20"/>
<rect x="1346" y="472" width="57" height="16" fill="#efff10"/>
<rect x="1346" y="457" width="57" height="15" fill="#ffff00"/>
<rect x="1346" y="442" width="57" height="15" fill="#ffef00"/>
<rect x="1346" y="427" width="57" height="15" fill="#ffdf00"/>
<rect x="1346" y="411" width="57" height="16" fill="#ffcf00"/>
<rect x="1346" y="396" width="57" height="15" fill="#ffbf00"/>
<rect x="1346" y="381" width="57" height="15" fill="#ffaf00"/>
<rect x="1346" y="365" width="57" height="16" fill="#ff9f00"/>
<rect x="1346" y="350" width="57" height="15" fill="#ff8f00"/>
<rect x="1346" y="335" width="57" height="15" fill="#ff8000"/>
<rect x="1346" y="319" width="57" height="16" fill="#ff7000"/>
<rect x="1346" y="304" width="57" height="15" fill="#ff6000"/>
<rect x="1346" y="289" width="57" height="15" fill="#ff5000"/>
<rect x="1346" y="274" width="57" height="15" fill="#ff4000"/>
<rect x="1346" y="258" width="57" height="16" fill="#ff3000"/>
<rect x="1346" y="243" width="57" height="15" fill="#ff2000"/>
<rect x="1346" y="228" width="57" height="15" fill="#ff1000"/>
<rect x="1346" y="212" width="57" height="16" fill="#ff0000"/>
<rect x="1346" y="197" width="57" height="15" fill="#ef0000"/>
<rect x="1346" y="182" width="57" height="15" fill="#df0000"/>
<rect x="1346" y="166" width="57" height="16" fill="#cf0000"/>
<rect x="1346" y="151" width="57" height="15" fill="#bf0000"/>
<rect x="1346" y="136" width="57" height="15" fill="#af0000"/>
<rect x="1346" y="121" width="57" height="15" fill="#9f0000"/>
<rect x="1346" y="105" width="57" height="16" fill="#8f0000"/>
<rect x="1346" y="90" width="57" height="15" fill="#800000"/>
<path d="M208.5 90.5H1304.5V1068.5H208.5Z" fill="none" stroke="#000" stroke-width="1"/>
<path d="M1346.5 90.5H1402.5V1069.5H1346.5Z" fill="none" stroke="#000" stroke-width="1"/>
<path d="M360.5 1068V1058M360.5 91V101M512.5 1068V1058M512.5 91V101M664.5 1068V1058M664.5 91V101M817.5 1068V1058M817.5 91V101M969.5 1068V1058M969.5 91V101M1121.5 1068V1058M1121.5 91V101M1273.5 1068V1058M1273.5 91V101M209 919.5H219M1304 919.5H1293M209 766.5H219M1304 766.5H1293M209 613.5H219M1304 613.5H1293M209 460.5H219M1304 460.5H1293M209 307.5H219M1304 307.5H1293M209 154.5H219M1304 154.5H1293M1347 1057.5H1356M1402 1057.5H1392M1347 919.5H1356M1402 919.5H1392M1347 781.5H1356M1402 781.5H1392M1347 644.5H1356M1402 644.5H1392M1347 506.5H1356M1402 506.5H1392M1347 368.5H1356M1402 368.5H1392M1347 231.5H1356M1402 231.5H1392M1347 93.5H1356M1402 93.5H1392" fill="none" stroke="#000" stroke-width="1"/>
</g>
<g font-family="'Liberation Serif','DejaVu Serif',serif" font-size="28.4" text-rendering="geometricPrecision" opacity="0.999" fill="#000" stroke="#fff" stroke-width="0.22">
<text transform="translate(754.5,67.3) scale(0.935,1)" text-anchor="middle" font-size="29.5">QQ</text>
<text transform="translate(360.3,1100.0) scale(0.937,1)" text-anchor="middle">0.5</text>
<text transform="translate(512.5,1100.0) scale(0.937,1)" text-anchor="middle">1</text>
<text transform="translate(664.7,1100.0) scale(0.937,1)" text-anchor="middle">1.5</text>
<text transform="translate(816.9,1100.0) scale(0.937,1)" text-anchor="middle">2</text>
<text transform="translate(969.1,1100.0) scale(0.937,1)" text-anchor="middle">2.5</text>
<text transform="translate(1121.3,1100.0) scale(0.937,1)" text-anchor="middle">3</text>
<text transform="translate(1273.5,1100.0) scale(0.937,1)" text-anchor="middle">3.5</text>
<text transform="translate(200.1,927.0) scale(0.937,1)" text-anchor="end">20</text>
<text transform="translate(200.1,774.0) scale(0.937,1)" text-anchor="end">40</text>
<text transform="translate(200.1,621.0) scale(0.937,1)" text-anchor="end">60</text>
<text transform="translate(200.1,468.0) scale(0.937,1)" text-anchor="end">80</text>
<text transform="translate(200.1,315.0) scale(0.937,1)" text-anchor="end">100</text>
<text transform="translate(200.1,162.0) scale(0.937,1)" text-anchor="end">120</text>
<text transform="translate(1409.1,1064.9) scale(0.937,1)" text-anchor="start">-3000</text>
<text transform="translate(1409.1,927.2) scale(0.937,1)" text-anchor="start">-2000</text>
<text transform="translate(1409.1,789.4) scale(0.937,1)" text-anchor="start">-1000</text>
<text transform="translate(1409.1,651.7) scale(0.937,1)" text-anchor="start">0</text>
<text transform="translate(1409.1,514.0) scale(0.937,1)" text-anchor="start">1000</text>
<text transform="translate(1409.1,376.3) scale(0.937,1)" text-anchor="start">2000</text>
<text transform="translate(1409.1,238.6) scale(0.937,1)" text-anchor="start">3000</text>
<text transform="translate(1409.1,100.9) scale(0.937,1)" text-anchor="start">4000</text>
<text transform="translate(1248.0,1147.4) scale(0.937,1)" text-anchor="start">x 10</text>
<text transform="translate(1295.2,1130.6) scale(0.937,1)" text-anchor="start" font-size="18.5">5</text>
</g>
</svg></body></html>
